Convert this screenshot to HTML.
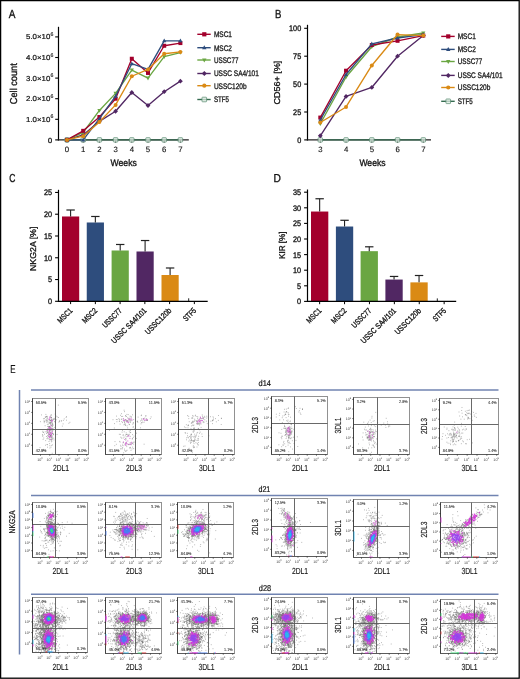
<!DOCTYPE html>
<html><head><meta charset="utf-8"><style>
html,body{margin:0;padding:0;background:#fff;}
svg{display:block;font-family:"Liberation Sans", sans-serif;will-change:transform;text-rendering:geometricPrecision;}
</style></head><body>
<svg width="520" height="679" viewBox="0 0 520 679">
<g>
<rect x="0" y="0" width="520" height="679" fill="#fff"/>
<text x="8.8" y="17.7" font-size="11.8" textLength="6.7" lengthAdjust="spacingAndGlyphs" fill="#111" stroke="#111" stroke-width="0.32">A</text><line x1="58.5" y1="26.8" x2="58.5" y2="140.45" stroke="#000" stroke-width="1.2"/><line x1="57.9" y1="139.9" x2="188.8" y2="139.9" stroke="#222" stroke-width="1.2"/><line x1="55.2" y1="139.9" x2="58.5" y2="139.9" stroke="#000" stroke-width="1.1"/><text x="52.2" y="142.5" font-size="7.4" text-anchor="end" textLength="4.1" lengthAdjust="spacingAndGlyphs" fill="#111" stroke="#111" stroke-width="0.32">0</text><line x1="55.2" y1="119.3" x2="58.5" y2="119.3" stroke="#000" stroke-width="1.1"/><text x="50.3" y="121.8" font-size="7.3" text-anchor="end" textLength="24.3" lengthAdjust="spacingAndGlyphs" fill="#111" stroke="#111" stroke-width="0.2">1.0×10</text><text x="50.4" y="118.4" font-size="5.3" textLength="2.9" lengthAdjust="spacingAndGlyphs" fill="#111" stroke="#111" stroke-width="0.15">6</text><line x1="55.2" y1="98.7" x2="58.5" y2="98.7" stroke="#000" stroke-width="1.1"/><text x="50.3" y="101.2" font-size="7.3" text-anchor="end" textLength="24.3" lengthAdjust="spacingAndGlyphs" fill="#111" stroke="#111" stroke-width="0.2">2.0×10</text><text x="50.4" y="97.8" font-size="5.3" textLength="2.9" lengthAdjust="spacingAndGlyphs" fill="#111" stroke="#111" stroke-width="0.15">6</text><line x1="55.2" y1="78.1" x2="58.5" y2="78.1" stroke="#000" stroke-width="1.1"/><text x="50.3" y="80.6" font-size="7.3" text-anchor="end" textLength="24.3" lengthAdjust="spacingAndGlyphs" fill="#111" stroke="#111" stroke-width="0.2">3.0×10</text><text x="50.4" y="77.2" font-size="5.3" textLength="2.9" lengthAdjust="spacingAndGlyphs" fill="#111" stroke="#111" stroke-width="0.15">6</text><line x1="55.2" y1="57.5" x2="58.5" y2="57.5" stroke="#000" stroke-width="1.1"/><text x="50.3" y="60" font-size="7.3" text-anchor="end" textLength="24.3" lengthAdjust="spacingAndGlyphs" fill="#111" stroke="#111" stroke-width="0.2">4.0×10</text><text x="50.4" y="56.6" font-size="5.3" textLength="2.9" lengthAdjust="spacingAndGlyphs" fill="#111" stroke="#111" stroke-width="0.15">6</text><line x1="55.2" y1="36.9" x2="58.5" y2="36.9" stroke="#000" stroke-width="1.1"/><text x="50.3" y="39.4" font-size="7.3" text-anchor="end" textLength="24.3" lengthAdjust="spacingAndGlyphs" fill="#111" stroke="#111" stroke-width="0.2">5.0×10</text><text x="50.4" y="36" font-size="5.3" textLength="2.9" lengthAdjust="spacingAndGlyphs" fill="#111" stroke="#111" stroke-width="0.15">6</text><line x1="67" y1="139.9" x2="67" y2="142.5" stroke="#000" stroke-width="1"/><text x="67" y="151.8" font-size="7.8" text-anchor="middle" fill="#111" stroke="#111" stroke-width="0.12">0</text><line x1="83.2" y1="139.9" x2="83.2" y2="142.5" stroke="#000" stroke-width="1"/><text x="83.2" y="151.8" font-size="7.8" text-anchor="middle" fill="#111" stroke="#111" stroke-width="0.12">1</text><line x1="99.4" y1="139.9" x2="99.4" y2="142.5" stroke="#000" stroke-width="1"/><text x="99.4" y="151.8" font-size="7.8" text-anchor="middle" fill="#111" stroke="#111" stroke-width="0.12">2</text><line x1="115.6" y1="139.9" x2="115.6" y2="142.5" stroke="#000" stroke-width="1"/><text x="115.6" y="151.8" font-size="7.8" text-anchor="middle" fill="#111" stroke="#111" stroke-width="0.12">3</text><line x1="131.8" y1="139.9" x2="131.8" y2="142.5" stroke="#000" stroke-width="1"/><text x="131.8" y="151.8" font-size="7.8" text-anchor="middle" fill="#111" stroke="#111" stroke-width="0.12">4</text><line x1="148" y1="139.9" x2="148" y2="142.5" stroke="#000" stroke-width="1"/><text x="148" y="151.8" font-size="7.8" text-anchor="middle" fill="#111" stroke="#111" stroke-width="0.12">5</text><line x1="164.2" y1="139.9" x2="164.2" y2="142.5" stroke="#000" stroke-width="1"/><text x="164.2" y="151.8" font-size="7.8" text-anchor="middle" fill="#111" stroke="#111" stroke-width="0.12">6</text><line x1="180.4" y1="139.9" x2="180.4" y2="142.5" stroke="#000" stroke-width="1"/><text x="180.4" y="151.8" font-size="7.8" text-anchor="middle" fill="#111" stroke="#111" stroke-width="0.12">7</text><text x="123.7" y="165.6" font-size="9.6" text-anchor="middle" textLength="26.3" lengthAdjust="spacingAndGlyphs" fill="#111" stroke="#111" stroke-width="0.32">Weeks</text><text x="16.9" y="83.7" font-size="10" text-anchor="middle" textLength="41" lengthAdjust="spacingAndGlyphs" transform="rotate(-90 16.9 83.7)" fill="#111" stroke="#111" stroke-width="0.32">Cell count</text><polyline points="67,139.9 83.2,139.9 99.4,139.9 115.6,139.9 131.8,139.9 148,139.9 164.2,139.9 180.4,139.9" fill="none" stroke="#356b50" stroke-width="1.35" stroke-linejoin="round"/><rect x="64.8" y="137.7" width="4.4" height="4.4" rx="0.6" fill="#dcebe2" fill-opacity="0.75" stroke="#5f8f75" stroke-width="0.75"/><rect x="81" y="137.7" width="4.4" height="4.4" rx="0.6" fill="#dcebe2" fill-opacity="0.75" stroke="#5f8f75" stroke-width="0.75"/><rect x="97.2" y="137.7" width="4.4" height="4.4" rx="0.6" fill="#dcebe2" fill-opacity="0.75" stroke="#5f8f75" stroke-width="0.75"/><rect x="113.4" y="137.7" width="4.4" height="4.4" rx="0.6" fill="#dcebe2" fill-opacity="0.75" stroke="#5f8f75" stroke-width="0.75"/><rect x="129.6" y="137.7" width="4.4" height="4.4" rx="0.6" fill="#dcebe2" fill-opacity="0.75" stroke="#5f8f75" stroke-width="0.75"/><rect x="145.8" y="137.7" width="4.4" height="4.4" rx="0.6" fill="#dcebe2" fill-opacity="0.75" stroke="#5f8f75" stroke-width="0.75"/><rect x="162" y="137.7" width="4.4" height="4.4" rx="0.6" fill="#dcebe2" fill-opacity="0.75" stroke="#5f8f75" stroke-width="0.75"/><rect x="178.2" y="137.7" width="4.4" height="4.4" rx="0.6" fill="#dcebe2" fill-opacity="0.75" stroke="#5f8f75" stroke-width="0.75"/><polyline points="67,139.9 83.2,134.96 99.4,121.36 115.6,111.27 131.8,92.52 148,105.5 164.2,91.7 180.4,81.19" fill="none" stroke="#512763" stroke-width="1.35" stroke-linejoin="round"/><path d="M67 137.5L69.4 139.9L67 142.3L64.6 139.9Z" fill="#512763"/><path d="M83.2 132.56L85.6 134.96L83.2 137.36L80.8 134.96Z" fill="#512763"/><path d="M99.4 118.96L101.8 121.36L99.4 123.76L97 121.36Z" fill="#512763"/><path d="M115.6 108.87L118 111.27L115.6 113.67L113.2 111.27Z" fill="#512763"/><path d="M131.8 90.12L134.2 92.52L131.8 94.92L129.4 92.52Z" fill="#512763"/><path d="M148 103.1L150.4 105.5L148 107.9L145.6 105.5Z" fill="#512763"/><path d="M164.2 89.3L166.6 91.7L164.2 94.1L161.8 91.7Z" fill="#512763"/><path d="M180.4 78.79L182.8 81.19L180.4 83.59L178 81.19Z" fill="#512763"/><polyline points="67,139.9 83.2,132.48 99.4,110.44 115.6,93.34 131.8,70.07 148,78.1 164.2,56.68 180.4,52.56" fill="none" stroke="#6aa642" stroke-width="1.35" stroke-linejoin="round"/><path d="M67 142.2L69.1 138.4L64.9 138.4Z" fill="#6aa642"/><path d="M83.2 134.78L85.3 130.98L81.1 130.98Z" fill="#6aa642"/><path d="M99.4 112.74L101.5 108.94L97.3 108.94Z" fill="#6aa642"/><path d="M115.6 95.64L117.7 91.84L113.5 91.84Z" fill="#6aa642"/><path d="M131.8 72.37L133.9 68.57L129.7 68.57Z" fill="#6aa642"/><path d="M148 80.4L150.1 76.6L145.9 76.6Z" fill="#6aa642"/><path d="M164.2 58.98L166.3 55.18L162.1 55.18Z" fill="#6aa642"/><path d="M180.4 54.86L182.5 51.06L178.3 51.06Z" fill="#6aa642"/><polyline points="67,139.9 83.2,130.84 99.4,117.03 115.6,98.7 131.8,58.74 148,72.95 164.2,45.76 180.4,43.08" fill="none" stroke="#a3002c" stroke-width="1.35" stroke-linejoin="round"/><rect x="65" y="137.9" width="4" height="4" fill="#a3002c"/><rect x="81.2" y="128.84" width="4" height="4" fill="#a3002c"/><rect x="97.4" y="115.03" width="4" height="4" fill="#a3002c"/><rect x="113.6" y="96.7" width="4" height="4" fill="#a3002c"/><rect x="129.8" y="56.74" width="4" height="4" fill="#a3002c"/><rect x="146" y="70.95" width="4" height="4" fill="#a3002c"/><rect x="162.2" y="43.76" width="4" height="4" fill="#a3002c"/><rect x="178.4" y="41.08" width="4" height="4" fill="#a3002c"/><polyline points="67,139.9 83.2,139.9 99.4,118.68 115.6,96.23 131.8,63.68 148,69.45 164.2,40.81 180.4,40.81" fill="none" stroke="#2e4d7d" stroke-width="1.35" stroke-linejoin="round"/><path d="M67 137.6L69.1 141.4L64.9 141.4Z" fill="#2e4d7d"/><path d="M83.2 137.6L85.3 141.4L81.1 141.4Z" fill="#2e4d7d"/><path d="M99.4 116.38L101.5 120.18L97.3 120.18Z" fill="#2e4d7d"/><path d="M115.6 93.93L117.7 97.73L113.5 97.73Z" fill="#2e4d7d"/><path d="M131.8 61.38L133.9 65.18L129.7 65.18Z" fill="#2e4d7d"/><path d="M148 67.15L150.1 70.95L145.9 70.95Z" fill="#2e4d7d"/><path d="M164.2 38.51L166.3 42.31L162.1 42.31Z" fill="#2e4d7d"/><path d="M180.4 38.51L182.5 42.31L178.3 42.31Z" fill="#2e4d7d"/><polyline points="67,139.9 83.2,136.19 99.4,121.98 115.6,104.88 131.8,76.25 148,69.45 164.2,53.79 180.4,51.94" fill="none" stroke="#da8a15" stroke-width="1.35" stroke-linejoin="round"/><circle cx="67" cy="139.9" r="2" fill="#da8a15"/><circle cx="83.2" cy="136.19" r="2" fill="#da8a15"/><circle cx="99.4" cy="121.98" r="2" fill="#da8a15"/><circle cx="115.6" cy="104.88" r="2" fill="#da8a15"/><circle cx="131.8" cy="76.25" r="2" fill="#da8a15"/><circle cx="148" cy="69.45" r="2" fill="#da8a15"/><circle cx="164.2" cy="53.79" r="2" fill="#da8a15"/><circle cx="180.4" cy="51.94" r="2" fill="#da8a15"/><line x1="197.3" y1="34.3" x2="210.7" y2="34.3" stroke="#a3002c" stroke-width="1.4"/><rect x="202.2" y="32.2" width="4.2" height="4.2" fill="#a3002c"/><text x="213.9" y="37.1" font-size="8.1" textLength="18.1" lengthAdjust="spacingAndGlyphs" fill="#1a1a1a" stroke="#1a1a1a" stroke-width="0.32">MSC1</text><line x1="197.3" y1="47.7" x2="210.7" y2="47.7" stroke="#2e4d7d" stroke-width="1.4"/><path d="M204.3 45.29L206.51 49.28L202.09 49.28Z" fill="#2e4d7d"/><text x="213.9" y="50.5" font-size="8.1" textLength="18.1" lengthAdjust="spacingAndGlyphs" fill="#1a1a1a" stroke="#1a1a1a" stroke-width="0.32">MSC2</text><line x1="197.3" y1="60" x2="210.7" y2="60" stroke="#6aa642" stroke-width="1.4"/><path d="M204.3 62.41L206.51 58.42L202.09 58.42Z" fill="#6aa642"/><text x="213.9" y="62.8" font-size="8.1" textLength="24.5" lengthAdjust="spacingAndGlyphs" fill="#1a1a1a" stroke="#1a1a1a" stroke-width="0.32">USSC77</text><line x1="197.3" y1="73.5" x2="210.7" y2="73.5" stroke="#512763" stroke-width="1.4"/><path d="M204.3 70.98L206.82 73.5L204.3 76.02L201.78 73.5Z" fill="#512763"/><text x="213.9" y="76.3" font-size="8.1" textLength="44.9" lengthAdjust="spacingAndGlyphs" fill="#1a1a1a" stroke="#1a1a1a" stroke-width="0.32">USSC SA4/101</text><line x1="197.3" y1="85.7" x2="210.7" y2="85.7" stroke="#da8a15" stroke-width="1.4"/><circle cx="204.3" cy="85.7" r="2.1" fill="#da8a15"/><text x="213.9" y="88.5" font-size="8.1" textLength="32.7" lengthAdjust="spacingAndGlyphs" fill="#1a1a1a" stroke="#1a1a1a" stroke-width="0.32">USSC120b</text><line x1="197.3" y1="99.5" x2="210.7" y2="99.5" stroke="#356b50" stroke-width="1.4"/><rect x="201.99" y="97.19" width="4.62" height="4.62" rx="0.6" fill="#dcebe2" fill-opacity="0.75" stroke="#5f8f75" stroke-width="0.75"/><text x="213.9" y="102.3" font-size="8.1" textLength="15.1" lengthAdjust="spacingAndGlyphs" fill="#1a1a1a" stroke="#1a1a1a" stroke-width="0.32">STF5</text><text x="274.9" y="17.7" font-size="11.8" textLength="6.4" lengthAdjust="spacingAndGlyphs" fill="#111" stroke="#111" stroke-width="0.32">B</text><line x1="307.5" y1="24.8" x2="307.5" y2="140.45" stroke="#000" stroke-width="1.2"/><line x1="306.9" y1="139.9" x2="431" y2="139.9" stroke="#222" stroke-width="1.2"/><line x1="304.2" y1="139.9" x2="307.5" y2="139.9" stroke="#000" stroke-width="1.1"/><text x="301.2" y="142.8" font-size="8" text-anchor="end" textLength="4.05" lengthAdjust="spacingAndGlyphs" fill="#111" stroke="#111" stroke-width="0.32">0</text><line x1="304.2" y1="112" x2="307.5" y2="112" stroke="#000" stroke-width="1.1"/><text x="301.2" y="114.9" font-size="8" text-anchor="end" textLength="8.1" lengthAdjust="spacingAndGlyphs" fill="#111" stroke="#111" stroke-width="0.32">25</text><line x1="304.2" y1="84.1" x2="307.5" y2="84.1" stroke="#000" stroke-width="1.1"/><text x="301.2" y="87" font-size="8" text-anchor="end" textLength="8.1" lengthAdjust="spacingAndGlyphs" fill="#111" stroke="#111" stroke-width="0.32">50</text><line x1="304.2" y1="56.2" x2="307.5" y2="56.2" stroke="#000" stroke-width="1.1"/><text x="301.2" y="59.1" font-size="8" text-anchor="end" textLength="8.1" lengthAdjust="spacingAndGlyphs" fill="#111" stroke="#111" stroke-width="0.32">75</text><line x1="304.2" y1="28.3" x2="307.5" y2="28.3" stroke="#000" stroke-width="1.1"/><text x="301.2" y="31.2" font-size="8" text-anchor="end" textLength="12.15" lengthAdjust="spacingAndGlyphs" fill="#111" stroke="#111" stroke-width="0.32">100</text><line x1="320.3" y1="139.9" x2="320.3" y2="142.5" stroke="#000" stroke-width="1"/><text x="320.3" y="151.8" font-size="7.8" text-anchor="middle" fill="#111" stroke="#111" stroke-width="0.12">3</text><line x1="346.05" y1="139.9" x2="346.05" y2="142.5" stroke="#000" stroke-width="1"/><text x="346.05" y="151.8" font-size="7.8" text-anchor="middle" fill="#111" stroke="#111" stroke-width="0.12">4</text><line x1="371.8" y1="139.9" x2="371.8" y2="142.5" stroke="#000" stroke-width="1"/><text x="371.8" y="151.8" font-size="7.8" text-anchor="middle" fill="#111" stroke="#111" stroke-width="0.12">5</text><line x1="397.55" y1="139.9" x2="397.55" y2="142.5" stroke="#000" stroke-width="1"/><text x="397.55" y="151.8" font-size="7.8" text-anchor="middle" fill="#111" stroke="#111" stroke-width="0.12">6</text><line x1="423.3" y1="139.9" x2="423.3" y2="142.5" stroke="#000" stroke-width="1"/><text x="423.3" y="151.8" font-size="7.8" text-anchor="middle" fill="#111" stroke="#111" stroke-width="0.12">7</text><text x="372.5" y="165.6" font-size="9.6" text-anchor="middle" textLength="26.2" lengthAdjust="spacingAndGlyphs" fill="#111" stroke="#111" stroke-width="0.32">Weeks</text><text x="280.4" y="82.6" font-size="8.5" text-anchor="middle" textLength="44" lengthAdjust="spacingAndGlyphs" transform="rotate(-90 280.4 82.6)" fill="#111" stroke="#111" stroke-width="0.32">CD56+ [%]</text><polyline points="320.3,139.9 346.05,139.9 371.8,139.9 397.55,139.9 423.3,139.9" fill="none" stroke="#356b50" stroke-width="1.35" stroke-linejoin="round"/><rect x="318.1" y="137.7" width="4.4" height="4.4" rx="0.6" fill="#dcebe2" fill-opacity="0.75" stroke="#5f8f75" stroke-width="0.75"/><rect x="343.85" y="137.7" width="4.4" height="4.4" rx="0.6" fill="#dcebe2" fill-opacity="0.75" stroke="#5f8f75" stroke-width="0.75"/><rect x="369.6" y="137.7" width="4.4" height="4.4" rx="0.6" fill="#dcebe2" fill-opacity="0.75" stroke="#5f8f75" stroke-width="0.75"/><rect x="395.35" y="137.7" width="4.4" height="4.4" rx="0.6" fill="#dcebe2" fill-opacity="0.75" stroke="#5f8f75" stroke-width="0.75"/><rect x="421.1" y="137.7" width="4.4" height="4.4" rx="0.6" fill="#dcebe2" fill-opacity="0.75" stroke="#5f8f75" stroke-width="0.75"/><polyline points="320.3,135.77 346.05,96.38 371.8,87.45 397.55,56.2 423.3,35.55" fill="none" stroke="#512763" stroke-width="1.35" stroke-linejoin="round"/><path d="M320.3 133.37L322.7 135.77L320.3 138.17L317.9 135.77Z" fill="#512763"/><path d="M346.05 93.98L348.45 96.38L346.05 98.78L343.65 96.38Z" fill="#512763"/><path d="M371.8 85.05L374.2 87.45L371.8 89.85L369.4 87.45Z" fill="#512763"/><path d="M397.55 53.8L399.95 56.2L397.55 58.6L395.15 56.2Z" fill="#512763"/><path d="M423.3 33.15L425.7 35.55L423.3 37.95L420.9 35.55Z" fill="#512763"/><polyline points="320.3,123.72 346.05,76.96 371.8,46.71 397.55,37 423.3,32.99" fill="none" stroke="#6aa642" stroke-width="1.35" stroke-linejoin="round"/><path d="M320.3 126.02L322.4 122.22L318.2 122.22Z" fill="#6aa642"/><path d="M346.05 79.26L348.15 75.46L343.95 75.46Z" fill="#6aa642"/><path d="M371.8 49.01L373.9 45.21L369.7 45.21Z" fill="#6aa642"/><path d="M397.55 39.3L399.65 35.5L395.45 35.5Z" fill="#6aa642"/><path d="M423.3 35.29L425.4 31.49L421.2 31.49Z" fill="#6aa642"/><polyline points="320.3,117.58 346.05,70.71 371.8,45.04 397.55,40.8 423.3,35.55" fill="none" stroke="#a3002c" stroke-width="1.35" stroke-linejoin="round"/><rect x="318.3" y="115.58" width="4" height="4" fill="#a3002c"/><rect x="344.05" y="68.71" width="4" height="4" fill="#a3002c"/><rect x="369.8" y="43.04" width="4" height="4" fill="#a3002c"/><rect x="395.55" y="38.8" width="4" height="4" fill="#a3002c"/><rect x="421.3" y="33.55" width="4" height="4" fill="#a3002c"/><polyline points="320.3,120.04 346.05,74.5 371.8,43.92 397.55,38.01 423.3,34.55" fill="none" stroke="#2e4d7d" stroke-width="1.35" stroke-linejoin="round"/><path d="M320.3 117.74L322.4 121.54L318.2 121.54Z" fill="#2e4d7d"/><path d="M346.05 72.2L348.15 76L343.95 76Z" fill="#2e4d7d"/><path d="M371.8 41.62L373.9 45.42L369.7 45.42Z" fill="#2e4d7d"/><path d="M397.55 35.71L399.65 39.51L395.45 39.51Z" fill="#2e4d7d"/><path d="M423.3 32.25L425.4 36.05L421.2 36.05Z" fill="#2e4d7d"/><polyline points="320.3,122.49 346.05,106.98 371.8,65.46 397.55,34.55 423.3,35.55" fill="none" stroke="#da8a15" stroke-width="1.35" stroke-linejoin="round"/><circle cx="320.3" cy="122.49" r="2" fill="#da8a15"/><circle cx="346.05" cy="106.98" r="2" fill="#da8a15"/><circle cx="371.8" cy="65.46" r="2" fill="#da8a15"/><circle cx="397.55" cy="34.55" r="2" fill="#da8a15"/><circle cx="423.3" cy="35.55" r="2" fill="#da8a15"/><line x1="441.2" y1="36.4" x2="454.7" y2="36.4" stroke="#a3002c" stroke-width="1.4"/><rect x="446.15" y="34.3" width="4.2" height="4.2" fill="#a3002c"/><text x="457.7" y="39.2" font-size="8.1" textLength="18.1" lengthAdjust="spacingAndGlyphs" fill="#1a1a1a" stroke="#1a1a1a" stroke-width="0.32">MSC1</text><line x1="441.2" y1="49.4" x2="454.7" y2="49.4" stroke="#2e4d7d" stroke-width="1.4"/><path d="M448.25 46.98L450.45 50.98L446.05 50.98Z" fill="#2e4d7d"/><text x="457.7" y="52.2" font-size="8.1" textLength="18.1" lengthAdjust="spacingAndGlyphs" fill="#1a1a1a" stroke="#1a1a1a" stroke-width="0.32">MSC2</text><line x1="441.2" y1="61.5" x2="454.7" y2="61.5" stroke="#6aa642" stroke-width="1.4"/><path d="M448.25 63.91L450.45 59.92L446.05 59.92Z" fill="#6aa642"/><text x="457.7" y="64.3" font-size="8.1" textLength="24.5" lengthAdjust="spacingAndGlyphs" fill="#1a1a1a" stroke="#1a1a1a" stroke-width="0.32">USSC77</text><line x1="441.2" y1="75.4" x2="454.7" y2="75.4" stroke="#512763" stroke-width="1.4"/><path d="M448.25 72.88L450.77 75.4L448.25 77.92L445.73 75.4Z" fill="#512763"/><text x="457.7" y="78.2" font-size="8.1" textLength="44.9" lengthAdjust="spacingAndGlyphs" fill="#1a1a1a" stroke="#1a1a1a" stroke-width="0.32">USSC SA4/101</text><line x1="441.2" y1="87.5" x2="454.7" y2="87.5" stroke="#da8a15" stroke-width="1.4"/><circle cx="448.25" cy="87.5" r="2.1" fill="#da8a15"/><text x="457.7" y="90.3" font-size="8.1" textLength="32.7" lengthAdjust="spacingAndGlyphs" fill="#1a1a1a" stroke="#1a1a1a" stroke-width="0.32">USSC120b</text><line x1="441.2" y1="101.3" x2="454.7" y2="101.3" stroke="#356b50" stroke-width="1.4"/><rect x="445.94" y="98.99" width="4.62" height="4.62" rx="0.6" fill="#dcebe2" fill-opacity="0.75" stroke="#5f8f75" stroke-width="0.75"/><text x="457.7" y="104.1" font-size="8.1" textLength="15.1" lengthAdjust="spacingAndGlyphs" fill="#1a1a1a" stroke="#1a1a1a" stroke-width="0.32">STF5</text><text x="9.2" y="182" font-size="11.5" textLength="6.2" lengthAdjust="spacingAndGlyphs" fill="#111" stroke="#111" stroke-width="0.32">C</text><rect x="62" y="216.48" width="17.2" height="84.82" fill="#a3002c"/><line x1="70.6" y1="216.48" x2="70.6" y2="210" stroke="#222" stroke-width="1.1"/><line x1="66.4" y1="210" x2="74.8" y2="210" stroke="#222" stroke-width="1.2"/><rect x="86.75" y="222.49" width="17.2" height="78.81" fill="#2e4d7d"/><line x1="95.35" y1="222.49" x2="95.35" y2="216.48" stroke="#222" stroke-width="1.1"/><line x1="91.15" y1="216.48" x2="99.55" y2="216.48" stroke="#222" stroke-width="1.2"/><rect x="111.6" y="250.49" width="17.2" height="50.81" fill="#6aa642"/><line x1="120.2" y1="250.49" x2="120.2" y2="244.48" stroke="#222" stroke-width="1.1"/><line x1="116" y1="244.48" x2="124.4" y2="244.48" stroke="#222" stroke-width="1.2"/><rect x="136.5" y="251.49" width="17.2" height="49.81" fill="#512763"/><line x1="145.1" y1="251.49" x2="145.1" y2="240.52" stroke="#222" stroke-width="1.1"/><line x1="140.9" y1="240.52" x2="149.3" y2="240.52" stroke="#222" stroke-width="1.2"/><rect x="161.5" y="275" width="17.2" height="26.3" fill="#da8a15"/><line x1="170.1" y1="275" x2="170.1" y2="267.99" stroke="#222" stroke-width="1.1"/><line x1="165.9" y1="267.99" x2="174.3" y2="267.99" stroke="#222" stroke-width="1.2"/><line x1="188.7" y1="301.3" x2="188.7" y2="298.3" stroke="#222" stroke-width="1"/><line x1="58.5" y1="189.8" x2="58.5" y2="301.85" stroke="#000" stroke-width="1.2"/><line x1="57.9" y1="301.3" x2="207.7" y2="301.3" stroke="#000" stroke-width="1.2"/><line x1="55.1" y1="301.3" x2="58.5" y2="301.3" stroke="#000" stroke-width="1.1"/><text x="52" y="304.2" font-size="8" text-anchor="end" textLength="4.05" lengthAdjust="spacingAndGlyphs" fill="#111" stroke="#111" stroke-width="0.32">0</text><line x1="55.1" y1="279.53" x2="58.5" y2="279.53" stroke="#000" stroke-width="1.1"/><text x="52" y="282.43" font-size="8" text-anchor="end" textLength="4.05" lengthAdjust="spacingAndGlyphs" fill="#111" stroke="#111" stroke-width="0.32">5</text><line x1="55.1" y1="257.76" x2="58.5" y2="257.76" stroke="#000" stroke-width="1.1"/><text x="52" y="260.66" font-size="8" text-anchor="end" textLength="8.1" lengthAdjust="spacingAndGlyphs" fill="#111" stroke="#111" stroke-width="0.32">10</text><line x1="55.1" y1="235.99" x2="58.5" y2="235.99" stroke="#000" stroke-width="1.1"/><text x="52" y="238.89" font-size="8" text-anchor="end" textLength="8.1" lengthAdjust="spacingAndGlyphs" fill="#111" stroke="#111" stroke-width="0.32">15</text><line x1="55.1" y1="214.22" x2="58.5" y2="214.22" stroke="#000" stroke-width="1.1"/><text x="52" y="217.12" font-size="8" text-anchor="end" textLength="8.1" lengthAdjust="spacingAndGlyphs" fill="#111" stroke="#111" stroke-width="0.32">20</text><line x1="55.1" y1="192.45" x2="58.5" y2="192.45" stroke="#000" stroke-width="1.1"/><text x="52" y="195.35" font-size="8" text-anchor="end" textLength="8.1" lengthAdjust="spacingAndGlyphs" fill="#111" stroke="#111" stroke-width="0.32">25</text><line x1="70.6" y1="301.3" x2="70.6" y2="304.1" stroke="#000" stroke-width="1"/><text x="73" y="311.2" font-size="8" text-anchor="end" textLength="17.6" lengthAdjust="spacingAndGlyphs" transform="rotate(-45 73 311.2)" fill="#111" stroke="#111" stroke-width="0.32">MSC1</text><line x1="95.35" y1="301.3" x2="95.35" y2="304.1" stroke="#000" stroke-width="1"/><text x="97.75" y="311.2" font-size="8" text-anchor="end" textLength="17.8" lengthAdjust="spacingAndGlyphs" transform="rotate(-45 97.75 311.2)" fill="#111" stroke="#111" stroke-width="0.32">MSC2</text><line x1="120.1" y1="301.3" x2="120.1" y2="304.1" stroke="#000" stroke-width="1"/><text x="122.5" y="311.2" font-size="8" text-anchor="end" textLength="24.2" lengthAdjust="spacingAndGlyphs" transform="rotate(-45 122.5 311.2)" fill="#111" stroke="#111" stroke-width="0.32">USSC77</text><line x1="144.85" y1="301.3" x2="144.85" y2="304.1" stroke="#000" stroke-width="1"/><text x="147.25" y="311.2" font-size="8" text-anchor="end" textLength="46.3" lengthAdjust="spacingAndGlyphs" transform="rotate(-45 147.25 311.2)" fill="#111" stroke="#111" stroke-width="0.32">USSC SA4/101</text><line x1="169.6" y1="301.3" x2="169.6" y2="304.1" stroke="#000" stroke-width="1"/><text x="172" y="311.2" font-size="8" text-anchor="end" textLength="33.6" lengthAdjust="spacingAndGlyphs" transform="rotate(-45 172 311.2)" fill="#111" stroke="#111" stroke-width="0.32">USSC120b</text><line x1="194.35" y1="301.3" x2="194.35" y2="304.1" stroke="#000" stroke-width="1"/><text x="196.75" y="311.2" font-size="8" text-anchor="end" textLength="15" lengthAdjust="spacingAndGlyphs" transform="rotate(-45 196.75 311.2)" fill="#111" stroke="#111" stroke-width="0.32">STF5</text><text x="35.9" y="248.8" font-size="8.5" text-anchor="middle" textLength="44.3" lengthAdjust="spacingAndGlyphs" transform="rotate(-90 35.9 248.8)" fill="#111" stroke="#111" stroke-width="0.32">NKG2A [%]</text><text x="273.4" y="182" font-size="11.5" textLength="7.4" lengthAdjust="spacingAndGlyphs" fill="#111" stroke="#111" stroke-width="0.32">D</text><rect x="311" y="211.54" width="17.3" height="89.86" fill="#a3002c"/><line x1="319.65" y1="211.54" x2="319.65" y2="198.75" stroke="#222" stroke-width="1.1"/><line x1="315.45" y1="198.75" x2="323.85" y2="198.75" stroke="#222" stroke-width="1.2"/><rect x="335.9" y="226.52" width="17.3" height="74.88" fill="#2e4d7d"/><line x1="344.55" y1="226.52" x2="344.55" y2="220.28" stroke="#222" stroke-width="1.1"/><line x1="340.35" y1="220.28" x2="348.75" y2="220.28" stroke="#222" stroke-width="1.2"/><rect x="360.6" y="251.17" width="17.3" height="50.23" fill="#6aa642"/><line x1="369.25" y1="251.17" x2="369.25" y2="246.8" stroke="#222" stroke-width="1.1"/><line x1="365.05" y1="246.8" x2="373.45" y2="246.8" stroke="#222" stroke-width="1.2"/><rect x="385.4" y="279.56" width="17.3" height="21.84" fill="#512763"/><line x1="394.05" y1="279.56" x2="394.05" y2="276.44" stroke="#222" stroke-width="1.1"/><line x1="389.85" y1="276.44" x2="398.25" y2="276.44" stroke="#222" stroke-width="1.2"/><rect x="410.4" y="282.37" width="17.3" height="19.03" fill="#da8a15"/><line x1="419.05" y1="282.37" x2="419.05" y2="275.5" stroke="#222" stroke-width="1.1"/><line x1="414.85" y1="275.5" x2="423.25" y2="275.5" stroke="#222" stroke-width="1.2"/><line x1="437.3" y1="301.4" x2="437.3" y2="298.4" stroke="#222" stroke-width="1"/><line x1="307.5" y1="189.5" x2="307.5" y2="301.95" stroke="#000" stroke-width="1.2"/><line x1="306.9" y1="301.4" x2="456.2" y2="301.4" stroke="#000" stroke-width="1.2"/><line x1="304.1" y1="301.4" x2="307.5" y2="301.4" stroke="#000" stroke-width="1.1"/><text x="301" y="304.3" font-size="8" text-anchor="end" textLength="4.05" lengthAdjust="spacingAndGlyphs" fill="#111" stroke="#111" stroke-width="0.32">0</text><line x1="304.1" y1="285.8" x2="307.5" y2="285.8" stroke="#000" stroke-width="1.1"/><text x="301" y="288.7" font-size="8" text-anchor="end" textLength="4.05" lengthAdjust="spacingAndGlyphs" fill="#111" stroke="#111" stroke-width="0.32">5</text><line x1="304.1" y1="270.2" x2="307.5" y2="270.2" stroke="#000" stroke-width="1.1"/><text x="301" y="273.1" font-size="8" text-anchor="end" textLength="8.1" lengthAdjust="spacingAndGlyphs" fill="#111" stroke="#111" stroke-width="0.32">10</text><line x1="304.1" y1="254.6" x2="307.5" y2="254.6" stroke="#000" stroke-width="1.1"/><text x="301" y="257.5" font-size="8" text-anchor="end" textLength="8.1" lengthAdjust="spacingAndGlyphs" fill="#111" stroke="#111" stroke-width="0.32">15</text><line x1="304.1" y1="239" x2="307.5" y2="239" stroke="#000" stroke-width="1.1"/><text x="301" y="241.9" font-size="8" text-anchor="end" textLength="8.1" lengthAdjust="spacingAndGlyphs" fill="#111" stroke="#111" stroke-width="0.32">20</text><line x1="304.1" y1="223.4" x2="307.5" y2="223.4" stroke="#000" stroke-width="1.1"/><text x="301" y="226.3" font-size="8" text-anchor="end" textLength="8.1" lengthAdjust="spacingAndGlyphs" fill="#111" stroke="#111" stroke-width="0.32">25</text><line x1="304.1" y1="207.8" x2="307.5" y2="207.8" stroke="#000" stroke-width="1.1"/><text x="301" y="210.7" font-size="8" text-anchor="end" textLength="8.1" lengthAdjust="spacingAndGlyphs" fill="#111" stroke="#111" stroke-width="0.32">30</text><line x1="304.1" y1="192.2" x2="307.5" y2="192.2" stroke="#000" stroke-width="1.1"/><text x="301" y="195.1" font-size="8" text-anchor="end" textLength="8.1" lengthAdjust="spacingAndGlyphs" fill="#111" stroke="#111" stroke-width="0.32">35</text><line x1="319.65" y1="301.4" x2="319.65" y2="304.2" stroke="#000" stroke-width="1"/><text x="322.05" y="311.3" font-size="8" text-anchor="end" textLength="17.6" lengthAdjust="spacingAndGlyphs" transform="rotate(-45 322.05 311.3)" fill="#111" stroke="#111" stroke-width="0.32">MSC1</text><line x1="344.55" y1="301.4" x2="344.55" y2="304.2" stroke="#000" stroke-width="1"/><text x="346.95" y="311.3" font-size="8" text-anchor="end" textLength="17.8" lengthAdjust="spacingAndGlyphs" transform="rotate(-45 346.95 311.3)" fill="#111" stroke="#111" stroke-width="0.32">MSC2</text><line x1="369.45" y1="301.4" x2="369.45" y2="304.2" stroke="#000" stroke-width="1"/><text x="371.85" y="311.3" font-size="8" text-anchor="end" textLength="24.2" lengthAdjust="spacingAndGlyphs" transform="rotate(-45 371.85 311.3)" fill="#111" stroke="#111" stroke-width="0.32">USSC77</text><line x1="394.35" y1="301.4" x2="394.35" y2="304.2" stroke="#000" stroke-width="1"/><text x="396.75" y="311.3" font-size="8" text-anchor="end" textLength="46.3" lengthAdjust="spacingAndGlyphs" transform="rotate(-45 396.75 311.3)" fill="#111" stroke="#111" stroke-width="0.32">USSC SA4/101</text><line x1="419.25" y1="301.4" x2="419.25" y2="304.2" stroke="#000" stroke-width="1"/><text x="421.65" y="311.3" font-size="8" text-anchor="end" textLength="33.6" lengthAdjust="spacingAndGlyphs" transform="rotate(-45 421.65 311.3)" fill="#111" stroke="#111" stroke-width="0.32">USSC120b</text><line x1="444.15" y1="301.4" x2="444.15" y2="304.2" stroke="#000" stroke-width="1"/><text x="446.55" y="311.3" font-size="8" text-anchor="end" textLength="15" lengthAdjust="spacingAndGlyphs" transform="rotate(-45 446.55 311.3)" fill="#111" stroke="#111" stroke-width="0.32">STF5</text><text x="284.8" y="245.2" font-size="8.5" text-anchor="middle" textLength="27.6" lengthAdjust="spacingAndGlyphs" transform="rotate(-90 284.8 245.2)" fill="#111" stroke="#111" stroke-width="0.32">KIR [%]</text>
<text x="10.2" y="373.2" font-size="11.5" textLength="5.3" lengthAdjust="spacingAndGlyphs" fill="#111" stroke="#111" stroke-width="0.2">E</text><line x1="19.5" y1="390" x2="19.5" y2="654.5" stroke="#7083b1" stroke-width="1.5"/><line x1="31" y1="390" x2="498.5" y2="390" stroke="#7083b1" stroke-width="1.5"/><line x1="31" y1="495.5" x2="498.5" y2="495.5" stroke="#7083b1" stroke-width="1.5"/><line x1="31" y1="594.2" x2="498.5" y2="594.2" stroke="#7083b1" stroke-width="1.5"/><text x="264.7" y="386.4" font-size="8.4" text-anchor="middle" textLength="12.4" lengthAdjust="spacingAndGlyphs" fill="#111" stroke="#111" stroke-width="0.2">d14</text><text x="264.4" y="492.4" font-size="8.4" text-anchor="middle" textLength="11.8" lengthAdjust="spacingAndGlyphs" fill="#111" stroke="#111" stroke-width="0.2">d21</text><text x="265" y="590.5" font-size="8.4" text-anchor="middle" textLength="12.3" lengthAdjust="spacingAndGlyphs" fill="#111" stroke="#111" stroke-width="0.2">d28</text><text x="15" y="522" font-size="8.6" text-anchor="middle" textLength="23" lengthAdjust="spacingAndGlyphs" transform="rotate(-90 15 522)" fill="#111" stroke="#111" stroke-width="0.2">NKG2A</text><path d="M49.9 426.8h0.8m1.5 -0.3h0.8m-1 1.8h0.8m-3.9 -4.8h0.8m-0.4 4.4h0.8m-0.4 1.6h0.8m0.6 -11.9h0.8m-5.4 13.9h0.8m5.3 2.2h0.8m-3.8 6.4h0.8m-0.8 -12.9h0.8m-1.3 -0.6h0.8m0.7 20.5h0.8m-0.1 -9.4h0.8m-2.7 8h0.8m-0.7 2.3h0.8m0.7 -22.1h0.8m-4.7 9.5h0.8m2.6 0.8h0.8m-2.7 -0.1h0.8m-3.1 -2.6h0.8m1.9 -12.8h0.8m-2.1 10.1h0.8m-1.4 -4.4h0.8m2 6.5h0.8m0.7 -4.4h0.8m-3.7 9.6h0.8m2.4 -7.3h0.8m-4.2 4.1h0.8m1.3 -2.8h0.8m-1 4.3h0.8m0.8 -14.4h0.8m-5.1 16.7h0.8m0.3 -12.4h0.8m-1.1 0.2h0.8m3.2 -2.5h0.8m-1.8 1.7h0.8m-1.2 16.1h0.8m-1.2 -9.5h0.8m0.2 -9.1h0.8m-4.9 8.9h0.8m2.7 -11.8h0.8m-0.8 25.1h0.8m-5.1 -24.8h0.8m3 15h0.8m-1.9 0.5h0.8m1.1 -15h0.8m-3 13.2h0.8m0.6 1.2h0.8m-3 -1.5h0.8m1.9 5.1h0.8m-1 -4.6h0.8m0.3 2.2h0.8m-1.7 -11.8h0.8m-2.2 13h0.8m0.6 -9.7h0.8m0.4 -4.4h0.8m0.1 10.9h0.8m-6.8 10h0.8m3.6 -5.5h0.8m-1.6 -11.1h0.8m-3.4 0.5h0.8m3.3 2.5h0.8m-5.4 1.6h0.8m2.5 -18.1h0.8m0.5 18.8h0.8m-6 -9.1h0.8m1.6 2.5h0.8m-2.7 -5.9h0.8m2 -0.3h0.8m1.5 4.3h0.8m0.1 13.3h0.8m-7.6 6.3h0.8m1.4 -12.7h0.8m1.5 8.4h0.8m0.7 -10.2h0.8m-2.8 -12.3h0.8m-2.9 15.4h0.8m1 2.2h0.8m-1.3 -6.5h0.8m-1.2 5.5h0.8m-1.7 2h0.8m1.1 -15.4h0.8m-1.6 9.4h0.8m-1 0.1h0.8m-2.7 -1h0.8m0.6 10h0.8m2.3 5.5h0.8m-3.3 -16h0.8m-3.1 8.3h0.8m4.2 1.9h0.8m-2.2 -1.8h0.8m2 2.6h0.8m-4.5 -10.8h0.8m-3.5 18.1h0.8m4.2 -9.2h0.8m1.4 -10.6h0.8m-6.6 14.1h0.8m1.5 -6.7h0.8m-2.4 8.8h0.8m-0.9 -21h0.8m0.1 13.2h0.8m-1.1 -12.8h0.8m0.9 18.1h0.8m-3.3 -6.5h0.8m0.6 -11.4h0.8m-5.2 13.3h0.8m0.4 -7.7h0.8m3.2 -11.1h0.8m-3.3 9.1h0.8m1.3 10h0.8m0.6 -3.6h0.8m-1.4 2.3h0.8m-2.4 -12.7h0.8m0.5 -0.5h0.8m-7.7 -0.8h0.8m1.6 -5.1h0.8m2.4 -0.4h0.8m-4.3 6h0.8m-2.1 -4.5h0.8m-0.4 2.3h0.8m0.2 -2.7h0.8m-1.2 -0.4h0.8m3.3 6.4h0.8m3.8 -5.8h0.8m-6.7 1.9h0.8m3.8 -0.1h0.8m-4 3.1h0.8m-5.3 -5.8h0.8m-0.3 2.6h0.8m-1.4 1.5h0.8m7.1 -2h0.8m-3.1 1.5h0.8m-9.2 -1.3h0.8m8.2 1.8h0.8m1.7 -1.2h0.8m-8.3 -1.2h0.8m4.9 1.3h0.8m-9.8 0.9h0.8m5.8 4.2h0.8m-6.9 -6.1h0.8m6 1.8h0.8m-8 2.5h0.8m-3.5 -7.8h0.8m8.9 0.8h0.8m5.2 1.2h0.8m-10 2.3h0.8m3.8 5.7h0.8m-3.1 -4.5h0.8m-2.2 1.8h0.8m2.2 -3.2h0.8m2.5 -4.9h0.8m-10.1 0.3h0.8m4.3 5.5h0.8m-6.5 -3.3h0.8m9 5.4h0.8m0.2 -5.9h0.8m-10 5.9h0.8m7.8 0.7h0.8m-1.6 -1.3h0.8m-4.9 -4.3h0.8m-7.8 15.3h0.8m-0.3 -10.9h0.8m-2.2 14.6h0.8m6.1 -7.2h0.8m-4.7 11.7h0.8m-6.1 -18.9h0.8m17.1 -16.6h0.8m-14 20.6h0.8m-2.5 23.7h0.8m9.2 -15.2h0.8m-1.1 -5.9h0.8m-10.1 9.7h0.8m-2.1 -3.5h0.8m1.1 -0.3h0.8m7.7 -8.8h0.8m-6.5 5.3h0.8m-2.8 1.1h0.8m2.3 -7.6h0.8m4.1 -4.3h0.8m-11.2 11.4h0.8m3.3 7.4h0.8m-4.8 -2.9h0.8m13.4 -1.4h0.8m-2.2 0.1h0.8m-4.3 18.8h0.8m-5.1 -21h0.8m2.3 7.1h0.8m-11.8 8.2h0.8m8.7 -17.1h0.8m-7.2 1.9h0.8m-0.8 7h0.8m1.7 5.8h0.8m0.6 -12.4h0.8m2.9 0.5h0.8m-0.3 -2.5h0.8m11.1 -6.9h0.8m-5 -1.8h0.8m-0.1 -1.1h0.8m1.9 5.1h0.8m3.5 -5.9h0.8m-3.2 -1.3h0.8m-1.7 1.5h0.8m2.5 -3.8h0.8m-7.8 4.6h0.8m-4.2 -1.4h0.8m4.2 1.1h0.8m-0.4 0h0.8m3.7 -3.5h0.8m2 5.9h0.8m-11.2 -5.8h0.8m10.6 4.8h0.8" stroke="#6c6c6c" stroke-width="0.8" stroke-opacity="0.7" fill="none"/><path d="M48.9 431.3h1m0.9 2.6h1m-0.8 2.4h1m-3.8 -1.4h1m-0.9 -1.6h1m0.1 3.3h1m0.1 -2.3h1m-0.4 0.1h1m-2.8 -1.7h1m0.5 -4.1h1m-2.4 -0.3h1m-3.7 2.2h1m2.3 -2.7h1m-0.2 6.4h1m-3.3 -6.5h1m0.3 11.8h1m-1.2 -6.3h1m-1.7 -2.2h1m-0.3 6.2h1m-0.1 -11.7h1m-2.5 12h1m-1.7 -0.9h1m-1 -8.8h1m2.5 4.1h1m-2 2.1h1m-0.5 -1.7h1m-2.7 -1.9h1m0.4 -10.2h1m-3.1 -1.1h1m-1.2 0.3h1m2.3 1.3h1m-1.7 1h1m-2.6 -3.9h1m-1.7 -0.7h1" stroke="#d86ad8" stroke-width="1" stroke-opacity="0.95" fill="none"/><rect x="32.5" y="398.5" width="56" height="56" fill="none" stroke="#777" stroke-width="0.8"/><line x1="55.5" y1="398.5" x2="55.5" y2="454.5" stroke="#585858" stroke-width="0.9"/><line x1="32.5" y1="429.5" x2="88.5" y2="429.5" stroke="#585858" stroke-width="0.9"/><line x1="32.5" y1="398.5" x2="32.5" y2="454.9" stroke="#3a3a3a" stroke-width="0.9"/><line x1="32.1" y1="454.5" x2="88.5" y2="454.5" stroke="#555" stroke-width="0.9"/><line x1="31.3" y1="401.5" x2="32.5" y2="401.5" stroke="#222" stroke-width="0.7"/><text x="30.2" y="402.8" font-size="3.7" text-anchor="end" fill="#444">10<tspan font-size="2.4" dy="-1.3">4</tspan></text><line x1="31.3" y1="412.43" x2="32.5" y2="412.43" stroke="#222" stroke-width="0.7"/><text x="30.2" y="413.73" font-size="3.7" text-anchor="end" fill="#444">10<tspan font-size="2.4" dy="-1.3">3</tspan></text><line x1="31.3" y1="423.36" x2="32.5" y2="423.36" stroke="#222" stroke-width="0.7"/><text x="30.2" y="424.66" font-size="3.7" text-anchor="end" fill="#444">10<tspan font-size="2.4" dy="-1.3">2</tspan></text><line x1="31.3" y1="434.29" x2="32.5" y2="434.29" stroke="#222" stroke-width="0.7"/><text x="30.2" y="435.59" font-size="3.7" text-anchor="end" fill="#444">10<tspan font-size="2.4" dy="-1.3">1</tspan></text><line x1="31.3" y1="445.22" x2="32.5" y2="445.22" stroke="#222" stroke-width="0.7"/><text x="30.2" y="446.52" font-size="3.7" text-anchor="end" fill="#444">10<tspan font-size="2.4" dy="-1.3">0</tspan></text><line x1="40.5" y1="454.5" x2="40.5" y2="455.7" stroke="#222" stroke-width="0.7"/><text x="39.9" y="460.6" font-size="3.7" text-anchor="middle" fill="#444">10<tspan font-size="2.4" dy="-1.3">0</tspan></text><line x1="49.74" y1="454.5" x2="49.74" y2="455.7" stroke="#222" stroke-width="0.7"/><text x="49.14" y="460.6" font-size="3.7" text-anchor="middle" fill="#444">10<tspan font-size="2.4" dy="-1.3">1</tspan></text><line x1="58.98" y1="454.5" x2="58.98" y2="455.7" stroke="#222" stroke-width="0.7"/><text x="58.38" y="460.6" font-size="3.7" text-anchor="middle" fill="#444">10<tspan font-size="2.4" dy="-1.3">2</tspan></text><line x1="68.22" y1="454.5" x2="68.22" y2="455.7" stroke="#222" stroke-width="0.7"/><text x="67.62" y="460.6" font-size="3.7" text-anchor="middle" fill="#444">10<tspan font-size="2.4" dy="-1.3">3</tspan></text><line x1="77.46" y1="454.5" x2="77.46" y2="455.7" stroke="#222" stroke-width="0.7"/><text x="76.86" y="460.6" font-size="3.7" text-anchor="middle" fill="#444">10<tspan font-size="2.4" dy="-1.3">4</tspan></text><line x1="86.7" y1="454.5" x2="86.7" y2="455.7" stroke="#222" stroke-width="0.7"/><text x="86.1" y="460.6" font-size="3.7" text-anchor="middle" fill="#444">10<tspan font-size="2.4" dy="-1.3">5</tspan></text><text x="35.8" y="403.8" font-size="4.4" textLength="10.65" lengthAdjust="spacingAndGlyphs" fill="#1a1a1a" stroke="#1a1a1a" stroke-width="0.06">50.6%</text><text x="86.5" y="403.8" font-size="4.4" text-anchor="end" textLength="8.4" lengthAdjust="spacingAndGlyphs" fill="#1a1a1a" stroke="#1a1a1a" stroke-width="0.06">6.5%</text><text x="35.8" y="452.2" font-size="4.4" textLength="10.65" lengthAdjust="spacingAndGlyphs" fill="#1a1a1a" stroke="#1a1a1a" stroke-width="0.06">42.9%</text><text x="86.5" y="452.2" font-size="4.4" text-anchor="end" textLength="8.4" lengthAdjust="spacingAndGlyphs" fill="#1a1a1a" stroke="#1a1a1a" stroke-width="0.06">0.0%</text><text x="61" y="470.8" font-size="8.8" text-anchor="middle" textLength="16.2" lengthAdjust="spacingAndGlyphs" fill="#111" stroke="#111" stroke-width="0.1">2DL1</text><path d="M130.9 417h0.8m-10.3 4.6h0.8m2.9 -2.1h0.8m-7 1.7h0.8m10.8 -1h0.8m-4.8 -5.8h0.8m-3.6 -4.2h0.8m8.7 16.7h0.8m-4.1 -4.4h0.8m-0.3 -2.7h0.8m0.9 -5h0.8m-3.2 1.4h0.8m-10.8 7.9h0.8m3.6 -12.5h0.8m-2.7 11h0.8m3.3 -2.2h0.8m6.2 -0.8h0.8m-1.5 7.6h0.8m-2.8 -10.3h0.8m-6.3 -1h0.8m4.7 4.9h0.8m-2.7 3.5h0.8m3.4 -1.2h0.8m-5.2 -4.7h0.8m-7 -2h0.8m9.3 7.8h0.8m-8.4 0.5h0.8m3.4 -0.1h0.8m-11.4 -5.9h0.8m6.8 -2.2h0.8m-5.5 0h0.8m-0.9 2.8h0.8m-5.5 2.4h0.8m19.5 -0.2h0.8m-12.3 -5.8h0.8m1.1 4.9h0.8m-2.6 -0.3h0.8m-6.9 -0.9h0.8m6.9 2.4h0.8m0.8 -1.1h0.8m-2.4 -2.8h0.8m-8.7 3.3h0.8m-3.1 -1.6h0.8m3.4 -5.9h0.8m7.9 7.8h0.8m-2.4 1.3h0.8m-13 -3.3h0.8m-4.1 0.2h0.8m11 0.3h0.8m2.6 -5.4h0.8m-3.4 10.9h0.8m-5.9 -10.2h0.8m0.7 3.7h0.8m4 2.1h0.8m-1.5 0.6h0.8m10.9 0.6h0.8m-13.5 1.5h0.8m1.1 -2.9h0.8m13.9 -0.7h0.8m-5 1h0.8m7.5 -5h0.8m-6.2 4.7h0.8m0 -5.3h0.8m2.8 2.5h0.8m0.7 0.9h0.8m-0.9 1.3h0.8m-4.2 0.7h0.8m3.9 -0.7h0.8m-4.8 -1.6h0.8m1.6 -3.1h0.8m0.3 4.9h0.8m-3.8 2h0.8m-3.8 1.4h0.8m4.9 -5h0.8m-6 0h0.8m-0.1 3.7h0.8m-1.4 0h0.8m2 -1.8h0.8m-7.1 -3.7h0.8m8.2 3.3h0.8m3.2 -3.5h0.8m-1.6 1.7h0.8m-7.9 0.1h0.8m-23.7 15.7h0.8m5.8 9.1h0.8m-2.1 -5.1h0.8m-0.2 -5.5h0.8m-0.2 13.7h0.8m-2.3 -3.1h0.8m-6.8 -9.2h0.8m10.4 -3.7h0.8m-9.9 7.5h0.8m3.8 -3.6h0.8m-0.7 4.5h0.8m1.5 5.4h0.8m-8.3 4.7h0.8m10.5 -10.1h0.8m-3 9.6h0.8m-0.4 -1.2h0.8m1.2 -8.8h0.8m-9 -6.8h0.8m-10.2 13.9h0.8m16.4 3.2h0.8m-5.8 1.4h0.8m0.7 -15h0.8m-9.2 6.8h0.8m3.9 8.5h0.8m8.1 -6.5h0.8m-9.7 -19.9h0.8m8.1 24.4h0.8m-7.1 -12.6h0.8m-7.5 9.3h0.8m14.8 -6.9h0.8m-13.6 4h0.8m5.6 2.2h0.8m3.5 -2.5h0.8m-9.7 -6.3h0.8m-3.6 13h0.8m-0.8 -3.8h0.8m-0.2 -6.9h0.8m1.9 13.4h0.8m3.4 -8.5h0.8m3.2 -6.9h0.8m-2.3 -1.5h0.8m-0.1 7.7h0.8m-1.7 0.7h0.8m-12.1 5.5h0.8m10.5 -4.9h0.8m-4.4 -8.5h0.8m-6.4 10.6h0.8m-2.9 0.9h0.8m1.2 -3.7h0.8m3.5 -8.5h0.8m-5.4 13.1h0.8m0.6 -10.4h0.8m0 7.2h0.8m4.4 -11.8h0.8m-4.7 12.8h0.8m-0.2 -8.5h0.8m5.1 10.3h0.8m-7.4 3.7h0.8m2.9 -3.3h0.8m-7.4 -12.8h0.8m4.1 10h0.8m2.6 0h0.8m-1.3 5.7h0.8m-7.9 -25.6h0.8m-9.7 16.8h0.8m8.3 -20.5h0.8m16.7 -6h0.8m-14.4 6.5h0.8m4.4 15.9h0.8m-10.5 -17.6h0.8m19.8 24.3h0.8m-15.6 -13.1h0.8m-13.5 -15h0.8m17.4 12.9h0.8m-11.1 20.1h0.8m8 -26.4h0.8m-5 -4.5h0.8m0.3 18.2h0.8m-1.9 8h0.8m-10.2 -3h0.8m-6.2 -13.4h0.8m21.5 5.2h0.8m-10.8 1.3h0.8m3 8.5h0.8m-7.5 9.8h0.8m-14.9 -22.6h0.8m5.9 14.1h0.8m23.3 -16.5h0.8m-20.4 9.4h0.8m2.8 -15.2h0.8m-10.6 1.6h0.8m7.7 11.8h0.8m0.6 -13.1h0.8m0.5 17.9h0.8m0.5 -14.4h0.8m-5.8 6.3h0.8m-0.3 -1.7h0.8m4.3 -2.5h0.8m2.2 4.7h0.8m-5 9.5h0.8m2.3 -22.7h0.8m-1.2 14.9h0.8" stroke="#6c6c6c" stroke-width="0.8" stroke-opacity="0.7" fill="none"/><path d="M129.8 418.9h1m-4.3 2.8h1m3.6 -2.7h1m-4 3.3h1m-3.8 -2.5h1m5.3 0.3h1m-4 -0.2h1m-5.6 0.5h1m3.2 -1.2h1m-6.3 1.4h1m-0.9 -1.9h1m2.7 3.3h1m15.1 -2.8h1m-0.1 -0.1h1m-0.2 1.4h1m0.1 -0.9h1m0.4 0.2h1m-18 24.7h1m-1.6 -6.1h1m-2.1 6h1m-4.5 0.9h1m-1.5 -5.8h1m5.9 3.8h1m-4.9 -2.3h1m2.6 1.3h1m-6 0.8h1m-0.4 0.9h1m0.8 -8.1h1m-1.8 0.4h1m-3.4 6.7h1m-3.2 -1h1m1.9 0.8h1m-1.7 1.5h1" stroke="#d86ad8" stroke-width="1" stroke-opacity="0.95" fill="none"/><rect x="105.5" y="398.5" width="56" height="56" fill="none" stroke="#777" stroke-width="0.8"/><line x1="135.5" y1="398.5" x2="135.5" y2="454.5" stroke="#585858" stroke-width="0.9"/><line x1="105.5" y1="429.5" x2="161.5" y2="429.5" stroke="#585858" stroke-width="0.9"/><line x1="105.5" y1="398.5" x2="105.5" y2="454.9" stroke="#3a3a3a" stroke-width="0.9"/><line x1="105.1" y1="454.5" x2="161.5" y2="454.5" stroke="#555" stroke-width="0.9"/><line x1="104.3" y1="401.5" x2="105.5" y2="401.5" stroke="#222" stroke-width="0.7"/><text x="103.2" y="402.8" font-size="3.7" text-anchor="end" fill="#444">10<tspan font-size="2.4" dy="-1.3">4</tspan></text><line x1="104.3" y1="412.43" x2="105.5" y2="412.43" stroke="#222" stroke-width="0.7"/><text x="103.2" y="413.73" font-size="3.7" text-anchor="end" fill="#444">10<tspan font-size="2.4" dy="-1.3">3</tspan></text><line x1="104.3" y1="423.36" x2="105.5" y2="423.36" stroke="#222" stroke-width="0.7"/><text x="103.2" y="424.66" font-size="3.7" text-anchor="end" fill="#444">10<tspan font-size="2.4" dy="-1.3">2</tspan></text><line x1="104.3" y1="434.29" x2="105.5" y2="434.29" stroke="#222" stroke-width="0.7"/><text x="103.2" y="435.59" font-size="3.7" text-anchor="end" fill="#444">10<tspan font-size="2.4" dy="-1.3">1</tspan></text><line x1="104.3" y1="445.22" x2="105.5" y2="445.22" stroke="#222" stroke-width="0.7"/><text x="103.2" y="446.52" font-size="3.7" text-anchor="end" fill="#444">10<tspan font-size="2.4" dy="-1.3">0</tspan></text><line x1="113.5" y1="454.5" x2="113.5" y2="455.7" stroke="#222" stroke-width="0.7"/><text x="112.9" y="460.6" font-size="3.7" text-anchor="middle" fill="#444">10<tspan font-size="2.4" dy="-1.3">0</tspan></text><line x1="122.74" y1="454.5" x2="122.74" y2="455.7" stroke="#222" stroke-width="0.7"/><text x="122.14" y="460.6" font-size="3.7" text-anchor="middle" fill="#444">10<tspan font-size="2.4" dy="-1.3">1</tspan></text><line x1="131.98" y1="454.5" x2="131.98" y2="455.7" stroke="#222" stroke-width="0.7"/><text x="131.38" y="460.6" font-size="3.7" text-anchor="middle" fill="#444">10<tspan font-size="2.4" dy="-1.3">2</tspan></text><line x1="141.22" y1="454.5" x2="141.22" y2="455.7" stroke="#222" stroke-width="0.7"/><text x="140.62" y="460.6" font-size="3.7" text-anchor="middle" fill="#444">10<tspan font-size="2.4" dy="-1.3">3</tspan></text><line x1="150.46" y1="454.5" x2="150.46" y2="455.7" stroke="#222" stroke-width="0.7"/><text x="149.86" y="460.6" font-size="3.7" text-anchor="middle" fill="#444">10<tspan font-size="2.4" dy="-1.3">4</tspan></text><line x1="159.7" y1="454.5" x2="159.7" y2="455.7" stroke="#222" stroke-width="0.7"/><text x="159.1" y="460.6" font-size="3.7" text-anchor="middle" fill="#444">10<tspan font-size="2.4" dy="-1.3">5</tspan></text><text x="108.8" y="403.8" font-size="4.4" textLength="10.65" lengthAdjust="spacingAndGlyphs" fill="#1a1a1a" stroke="#1a1a1a" stroke-width="0.06">43.0%</text><text x="159.5" y="403.8" font-size="4.4" text-anchor="end" textLength="10.65" lengthAdjust="spacingAndGlyphs" fill="#1a1a1a" stroke="#1a1a1a" stroke-width="0.06">11.6%</text><text x="108.8" y="452.2" font-size="4.4" textLength="10.65" lengthAdjust="spacingAndGlyphs" fill="#1a1a1a" stroke="#1a1a1a" stroke-width="0.06">41.6%</text><text x="159.5" y="452.2" font-size="4.4" text-anchor="end" textLength="8.4" lengthAdjust="spacingAndGlyphs" fill="#1a1a1a" stroke="#1a1a1a" stroke-width="0.06">1.8%</text><text x="134" y="470.8" font-size="8.8" text-anchor="middle" textLength="16.2" lengthAdjust="spacingAndGlyphs" fill="#111" stroke="#111" stroke-width="0.1">2DL3</text><path d="M191.1 418.1h0.8m11 0.9h0.8m2.6 -0.9h0.8m-14.9 -0.2h0.8m9.8 3.6h0.8m2.7 -5.3h0.8m-19.2 8.7h0.8m11.4 -6.5h0.8m-8.6 6.7h0.8m6.6 -4.6h0.8m-3.1 -3.6h0.8m-2.2 6.5h0.8m-2.5 -4.2h0.8m4.5 4.5h0.8m-4.2 -2.4h0.8m-4.2 4.3h0.8m12.3 -4.4h0.8m-4.5 -3h0.8m-8.5 2.1h0.8m1.9 3.3h0.8m6.5 -6.4h0.8m-5.1 0.2h0.8m-7.1 3.9h0.8m3 -1.5h0.8m-1.3 1.9h0.8m-5.6 -3.5h0.8m9 -1.9h0.8m-2.6 3.9h0.8m-10.2 2.5h0.8m6 5.7h0.8m0.1 -5.2h0.8m1.7 -4.7h0.8m1.7 3.7h0.8m-11.8 -5.9h0.8m-7.6 8.4h0.8m6 -2.6h0.8m0 6.3h0.8m0.8 -13.2h0.8m4.7 8.8h0.8m2 -6.5h0.8m-5.6 5.3h0.8m-6.9 -1.7h0.8m14.5 -4.1h0.8m-11.9 3.8h0.8m0.2 2.7h0.8m-6.6 -1.5h0.8m6.4 -3.1h0.8m4 -2.6h0.8m-1.9 6.3h0.8m-1.8 -7.7h0.8m-7.8 1h0.8m0.2 4.9h0.8m2.6 4.2h0.8m-6.5 0h0.8m4.2 -0.9h0.8m-1.7 0.1h0.8m-0.6 -3.7h0.8m-11.6 -4.9h0.8m9.5 2.8h0.8m6.3 1.3h0.8m-16.8 -1.1h0.8m3.2 -3.1h0.8m3.3 1h0.8m-4.9 6.3h0.8m3.5 1.5h0.8m3.2 3.1h0.8m-2.4 5.9h0.8m-6.1 13.5h0.8m1.1 -6.4h0.8m-8.3 -2.6h0.8m2.9 14.9h0.8m-1.5 -12.9h0.8m-5.7 -2h0.8m7.1 2.7h0.8m-5.9 -4h0.8m1.3 3.7h0.8m-6 -0.4h0.8m9.2 -4.9h0.8m-1.7 2.4h0.8m-2.3 3.4h0.8m-6 0.4h0.8m0.7 1.2h0.8m6.2 1.2h0.8m-6.8 -3.2h0.8m1.4 1.6h0.8m-1.3 -5.4h0.8m-5.9 0.7h0.8m9.8 7.8h0.8m-14.8 -18.1h0.8m8 14.1h0.8m-8.2 -13.4h0.8m7 20.1h0.8m0 -19.6h0.8m-2.7 12.7h0.8m-4.3 7.5h0.8m4.3 -0.8h0.8m1.9 -14.4h0.8m-4.4 -2.4h0.8m5.2 -0.9h0.8m-4.2 12.9h0.8m-1.2 -6.6h0.8m1.7 2.3h0.8m-9 1.5h0.8m-0.3 0.9h0.8m3.4 0.7h0.8m-0.8 -2.4h0.8m3.2 -10.4h0.8m-2.3 18.3h0.8m-4.7 -25.2h0.8m-0.6 23.9h0.8m-2.8 -11h0.8m-1.1 2.4h0.8m-1.2 -2h0.8m4.7 0.9h0.8m-6.3 2.1h0.8m-0.4 -1.5h0.8m1.3 -4.9h0.8m-3.5 11.6h0.8m0.4 -8.5h0.8m-8.7 11.5h0.8m9.5 -9h0.8m-3.5 -3.3h0.8m1.2 6.8h0.8m-0.1 2.8h0.8m-9.7 -10.9h0.8m16.3 3.8h0.8m-9.8 10.3h0.8m-0.7 -14.6h0.8m-8.6 0.9h0.8m8.9 6.1h0.8m-1.6 -8.3h0.8m-3.9 -7.5h0.8m1.7 4.8h0.8m3.4 12.3h0.8m-7.3 1.7h0.8m18.2 -25.5h0.8m10 1.5h0.8m-5.8 3.6h0.8m-3.7 -3.8h0.8m-1.2 -1.2h0.8m7.7 1.7h0.8m-1.1 6h0.8m-9 -4h0.8m1.7 -1.9h0.8m2 1.8h0.8m-8.2 0.8h0.8m1 -0.8h0.8m5.1 -4.9h0.8m-7 5.3h0.8m0 -1.3h0.8m-16 20.6h0.8m-10.1 -23.8h0.8m10.7 15.8h0.8m-3.3 0.3h0.8m-13.5 13.6h0.8m2.2 -18.2h0.8m-1.5 5.5h0.8m1.1 -11.6h0.8m4.7 12.5h0.8m6.4 -0.2h0.8m4.5 -10.4h0.8m-19.4 1.9h0.8m2.4 4.1h0.8m16.3 6.2h0.8m-6.1 -17.5h0.8m-6.1 20.6h0.8m-10.8 10.3h0.8m8.6 -4.5h0.8m-6.9 -18.8h0.8m20 -2.3h0.8m-14.5 12.7h0.8m-12 -0.6h0.8m-0.4 -10h0.8m2.3 3h0.8m-0.5 9.4h0.8m2.4 -1.9h0.8m4.1 -14.6h0.8m-1.9 20.9h0.8" stroke="#6c6c6c" stroke-width="0.8" stroke-opacity="0.7" fill="none"/><path d="M198.8 419.6h1m-1 2h1m1.4 -1.2h1m-2 1.3h1m-0.6 -1.3h1m0.4 0.2h1m-4.4 0.3h1m-2.4 0.8h1m-1.4 1h1m0.8 -1.8h1m0.6 1.9h1m-1.2 -4.8h1m1.2 0.1h1m-3.4 -1h1" stroke="#d86ad8" stroke-width="1" stroke-opacity="0.95" fill="none"/><rect x="178.5" y="398.5" width="56" height="56" fill="none" stroke="#777" stroke-width="0.8"/><line x1="208.5" y1="398.5" x2="208.5" y2="454.5" stroke="#585858" stroke-width="0.9"/><line x1="178.5" y1="429.5" x2="234.5" y2="429.5" stroke="#585858" stroke-width="0.9"/><line x1="178.5" y1="398.5" x2="178.5" y2="454.9" stroke="#3a3a3a" stroke-width="0.9"/><line x1="178.1" y1="454.5" x2="234.5" y2="454.5" stroke="#555" stroke-width="0.9"/><line x1="177.3" y1="401.5" x2="178.5" y2="401.5" stroke="#222" stroke-width="0.7"/><text x="176.2" y="402.8" font-size="3.7" text-anchor="end" fill="#444">10<tspan font-size="2.4" dy="-1.3">4</tspan></text><line x1="177.3" y1="412.43" x2="178.5" y2="412.43" stroke="#222" stroke-width="0.7"/><text x="176.2" y="413.73" font-size="3.7" text-anchor="end" fill="#444">10<tspan font-size="2.4" dy="-1.3">3</tspan></text><line x1="177.3" y1="423.36" x2="178.5" y2="423.36" stroke="#222" stroke-width="0.7"/><text x="176.2" y="424.66" font-size="3.7" text-anchor="end" fill="#444">10<tspan font-size="2.4" dy="-1.3">2</tspan></text><line x1="177.3" y1="434.29" x2="178.5" y2="434.29" stroke="#222" stroke-width="0.7"/><text x="176.2" y="435.59" font-size="3.7" text-anchor="end" fill="#444">10<tspan font-size="2.4" dy="-1.3">1</tspan></text><line x1="177.3" y1="445.22" x2="178.5" y2="445.22" stroke="#222" stroke-width="0.7"/><text x="176.2" y="446.52" font-size="3.7" text-anchor="end" fill="#444">10<tspan font-size="2.4" dy="-1.3">0</tspan></text><line x1="186.5" y1="454.5" x2="186.5" y2="455.7" stroke="#222" stroke-width="0.7"/><text x="185.9" y="460.6" font-size="3.7" text-anchor="middle" fill="#444">10<tspan font-size="2.4" dy="-1.3">0</tspan></text><line x1="195.74" y1="454.5" x2="195.74" y2="455.7" stroke="#222" stroke-width="0.7"/><text x="195.14" y="460.6" font-size="3.7" text-anchor="middle" fill="#444">10<tspan font-size="2.4" dy="-1.3">1</tspan></text><line x1="204.98" y1="454.5" x2="204.98" y2="455.7" stroke="#222" stroke-width="0.7"/><text x="204.38" y="460.6" font-size="3.7" text-anchor="middle" fill="#444">10<tspan font-size="2.4" dy="-1.3">2</tspan></text><line x1="214.22" y1="454.5" x2="214.22" y2="455.7" stroke="#222" stroke-width="0.7"/><text x="213.62" y="460.6" font-size="3.7" text-anchor="middle" fill="#444">10<tspan font-size="2.4" dy="-1.3">3</tspan></text><line x1="223.46" y1="454.5" x2="223.46" y2="455.7" stroke="#222" stroke-width="0.7"/><text x="222.86" y="460.6" font-size="3.7" text-anchor="middle" fill="#444">10<tspan font-size="2.4" dy="-1.3">4</tspan></text><line x1="232.7" y1="454.5" x2="232.7" y2="455.7" stroke="#222" stroke-width="0.7"/><text x="232.1" y="460.6" font-size="3.7" text-anchor="middle" fill="#444">10<tspan font-size="2.4" dy="-1.3">5</tspan></text><text x="181.8" y="403.8" font-size="4.4" textLength="10.65" lengthAdjust="spacingAndGlyphs" fill="#1a1a1a" stroke="#1a1a1a" stroke-width="0.06">51.3%</text><text x="232.5" y="403.8" font-size="4.4" text-anchor="end" textLength="8.4" lengthAdjust="spacingAndGlyphs" fill="#1a1a1a" stroke="#1a1a1a" stroke-width="0.06">5.7%</text><text x="181.8" y="452.2" font-size="4.4" textLength="10.65" lengthAdjust="spacingAndGlyphs" fill="#1a1a1a" stroke="#1a1a1a" stroke-width="0.06">42.0%</text><text x="232.5" y="452.2" font-size="4.4" text-anchor="end" textLength="8.4" lengthAdjust="spacingAndGlyphs" fill="#1a1a1a" stroke="#1a1a1a" stroke-width="0.06">0.2%</text><text x="207" y="470.8" font-size="8.8" text-anchor="middle" textLength="16.2" lengthAdjust="spacingAndGlyphs" fill="#111" stroke="#111" stroke-width="0.1">3DL1</text><path d="M290.6 426.9h0.8m-1.9 10.9h0.8m-2.4 -5.6h0.8m1.9 0.3h0.8m-5.8 -4.5h0.8m3.2 1.5h0.8m-2.3 7.9h0.8m2.8 -5.6h0.8m-3.5 -0.4h0.8m-1 -1.3h0.8m-1.3 7h0.8m-1.8 3.3h0.8m-3.9 -14h0.8m0.3 5.6h0.8m3.7 1.9h0.8m-4.8 -4.7h0.8m0.8 -7.9h0.8m0.5 9.5h0.8m1.8 0.6h0.8m-4.2 8.9h0.8m1.9 -8.5h0.8m-6.1 2.6h0.8m3.4 -5.5h0.8m-3.8 3.6h0.8m-0.1 -2.1h0.8m0.7 -2.6h0.8m-0.5 5.1h0.8m1.2 0h0.8m-0.2 -4.5h0.8m-2.6 3.9h0.8m-0.7 -11.4h0.8m-2.9 13.9h0.8m-2.1 -3.9h0.8m2.3 1.2h0.8m-1.8 3.6h0.8m0.6 -6.3h0.8m-5.6 5.5h0.8m7.4 -5.6h0.8m-8 4h0.8m3.3 -1h0.8m-5.1 4.6h0.8m-2 -8.3h0.8m0.3 1.2h0.8m-1.7 2.5h0.8m2.9 9.8h0.8m-0.5 -13.3h0.8m-1.9 -5.9h0.8m2.1 5.6h0.8m-0.6 -3.8h0.8m-3.3 4.2h0.8m-1.3 -1.6h0.8m-1.1 1.1h0.8m2.4 -4.8h0.8m-2.8 8.2h0.8m-1.8 -3.7h0.8m-0.6 7.4h0.8m0.6 -0.2h0.8m-2.5 -7.7h0.8m0.5 2h0.8m-1.5 1.7h0.8m1.8 2.9h0.8m-1.2 -9.8h0.8m-5.5 6.4h0.8m1.5 7.8h0.8m1 -7.5h0.8m-1.7 -4.7h0.8m-0.3 8.6h0.8m-2 -2.8h0.8m-0.1 -0.4h0.8m-0.4 2.3h0.8m-4.5 0.2h0.8m0.2 -10.7h0.8m2.9 9.5h0.8m-9.7 3.2h0.8m7.3 7.2h0.8m6.4 -6.7h0.8m-13.2 -10.2h0.8m2.3 16.2h0.8m-6.5 -20.3h0.8m4.6 8h0.8m-6.8 16.2h0.8m7.5 -8.1h0.8m-4.7 -0.1h0.8m-5.7 -1h0.8m1.2 7.6h0.8m-1.9 -8.9h0.8m3.8 -15.5h0.8m3.3 17.9h0.8m-5.3 -27.1h0.8m-3.6 8.3h0.8m0.4 29.8h0.8m2.6 -4.5h0.8m-9.9 -12.3h0.8m10 3.2h0.8m-1.5 1.3h0.8m-11 7.5h0.8m12.2 -14.5h0.8m-10.9 -0.9h0.8m4.2 2h0.8m4.2 6.3h0.8m-10.8 1h0.8m-1.6 -5.4h0.8m1.8 9.5h0.8m-0.7 -14.6h0.8m2.6 7.7h0.8m-2.2 -5h0.8m-0.7 -2.6h0.8m-0.8 18.3h0.8m0.3 -12.6h0.8m-3.2 -5.7h0.8m3.4 8.6h0.8m-2 -8.5h0.8m-4.4 13h0.8m9.4 2.1h0.8m-11.9 1.5h0.8m6.4 -17.1h0.8m-6.1 7.5h0.8m3.1 16.3h0.8m-0.2 -16.9h0.8m0.4 12.1h0.8m1.2 2.2h0.8m-8.8 -23.8h0.8m12.4 21.2h0.8m-9.6 -3.7h0.8m-5.1 1h0.8m-2.8 6.6h0.8m12.5 -10h0.8m-3.3 -3.2h0.8m-6.7 4.4h0.8m2 -7.8h0.8m1.1 6.9h0.8m-5.1 -20.6h0.8m-9.1 -6.8h0.8m-4.2 0.9h0.8m11.8 0.3h0.8m-13.5 2.5h0.8m8.3 -2.6h0.8m2.4 1.8h0.8m-9.5 3.7h0.8m2.2 -3.9h0.8m0.8 -6.7h0.8m3.2 -1.3h0.8m-9.9 7.4h0.8m6.6 -3.7h0.8m0.8 2.3h0.8m-3.1 -1.6h0.8m-0.7 5.2h0.8m3.6 -0.4h0.8m-5 -8.1h0.8m-1.8 4.9h0.8m-2 -2h0.8m3.2 -3.6h0.8m-4.6 6.9h0.8m3 -2.8h0.8m-3.1 2.1h0.8m3.4 7.1h0.8m-8.6 -4h0.8m17 -9.4h0.8m-4.5 0.2h0.8m2.2 2.1h0.8m0.2 2.5h0.8m1.5 -3.8h0.8m-8 -2.6h0.8m6.2 2.1h0.8m-4.3 3.2h0.8m1.2 2.4h0.8m0.7 -5h0.8" stroke="#6c6c6c" stroke-width="0.8" stroke-opacity="0.7" fill="none"/><path d="M290 431.7h1m-3.4 -2.8h1m-1.1 5.5h1m0.7 -3.7h1m-3.3 0.5h1m-0.2 -3.8h1m-0.4 1.1h1m0.6 5.1h1m-3.4 -2.9h1m-0.1 1.3h1m-2.3 -2.2h1m0.6 -2.4h1m-0.8 6.6h1m-1.3 -4.6h1m-2.1 -0.9h1m-0.4 2.7h1m0.7 -0.4h1m-3.1 1.2h1" stroke="#d86ad8" stroke-width="1" stroke-opacity="0.95" fill="none"/><rect x="271.5" y="396.5" width="56" height="58" fill="none" stroke="#777" stroke-width="0.8"/><line x1="294.5" y1="396.5" x2="294.5" y2="454.5" stroke="#585858" stroke-width="0.9"/><line x1="271.5" y1="423.5" x2="327.5" y2="423.5" stroke="#585858" stroke-width="0.9"/><line x1="271.5" y1="396.5" x2="271.5" y2="454.9" stroke="#3a3a3a" stroke-width="0.9"/><line x1="271.1" y1="454.5" x2="327.5" y2="454.5" stroke="#555" stroke-width="0.9"/><line x1="270.3" y1="398.4" x2="271.5" y2="398.4" stroke="#222" stroke-width="0.7"/><text x="269.2" y="399.7" font-size="3.7" text-anchor="end" fill="#444">10<tspan font-size="2.4" dy="-1.3">5</tspan></text><line x1="270.3" y1="408.2" x2="271.5" y2="408.2" stroke="#222" stroke-width="0.7"/><text x="269.2" y="409.5" font-size="3.7" text-anchor="end" fill="#444">10<tspan font-size="2.4" dy="-1.3">4</tspan></text><line x1="270.3" y1="418" x2="271.5" y2="418" stroke="#222" stroke-width="0.7"/><text x="269.2" y="419.3" font-size="3.7" text-anchor="end" fill="#444">10<tspan font-size="2.4" dy="-1.3">3</tspan></text><line x1="270.3" y1="427.8" x2="271.5" y2="427.8" stroke="#222" stroke-width="0.7"/><text x="269.2" y="429.1" font-size="3.7" text-anchor="end" fill="#444">10<tspan font-size="2.4" dy="-1.3">2</tspan></text><line x1="270.3" y1="437.6" x2="271.5" y2="437.6" stroke="#222" stroke-width="0.7"/><text x="269.2" y="438.9" font-size="3.7" text-anchor="end" fill="#444">10<tspan font-size="2.4" dy="-1.3">1</tspan></text><line x1="270.3" y1="447.4" x2="271.5" y2="447.4" stroke="#222" stroke-width="0.7"/><text x="269.2" y="448.7" font-size="3.7" text-anchor="end" fill="#444">10<tspan font-size="2.4" dy="-1.3">0</tspan></text><line x1="279.5" y1="454.5" x2="279.5" y2="455.7" stroke="#222" stroke-width="0.7"/><text x="278.9" y="460.6" font-size="3.7" text-anchor="middle" fill="#444">10<tspan font-size="2.4" dy="-1.3">0</tspan></text><line x1="288.74" y1="454.5" x2="288.74" y2="455.7" stroke="#222" stroke-width="0.7"/><text x="288.14" y="460.6" font-size="3.7" text-anchor="middle" fill="#444">10<tspan font-size="2.4" dy="-1.3">1</tspan></text><line x1="297.98" y1="454.5" x2="297.98" y2="455.7" stroke="#222" stroke-width="0.7"/><text x="297.38" y="460.6" font-size="3.7" text-anchor="middle" fill="#444">10<tspan font-size="2.4" dy="-1.3">2</tspan></text><line x1="307.22" y1="454.5" x2="307.22" y2="455.7" stroke="#222" stroke-width="0.7"/><text x="306.62" y="460.6" font-size="3.7" text-anchor="middle" fill="#444">10<tspan font-size="2.4" dy="-1.3">3</tspan></text><line x1="316.46" y1="454.5" x2="316.46" y2="455.7" stroke="#222" stroke-width="0.7"/><text x="315.86" y="460.6" font-size="3.7" text-anchor="middle" fill="#444">10<tspan font-size="2.4" dy="-1.3">4</tspan></text><line x1="325.7" y1="454.5" x2="325.7" y2="455.7" stroke="#222" stroke-width="0.7"/><text x="325.1" y="460.6" font-size="3.7" text-anchor="middle" fill="#444">10<tspan font-size="2.4" dy="-1.3">5</tspan></text><text x="274.8" y="401.8" font-size="4.4" textLength="8.4" lengthAdjust="spacingAndGlyphs" fill="#1a1a1a" stroke="#1a1a1a" stroke-width="0.06">8.3%</text><text x="325.5" y="401.8" font-size="4.4" text-anchor="end" textLength="8.4" lengthAdjust="spacingAndGlyphs" fill="#1a1a1a" stroke="#1a1a1a" stroke-width="0.06">5.1%</text><text x="274.8" y="452.2" font-size="4.4" textLength="10.65" lengthAdjust="spacingAndGlyphs" fill="#1a1a1a" stroke="#1a1a1a" stroke-width="0.06">85.2%</text><text x="325.5" y="452.2" font-size="4.4" text-anchor="end" textLength="8.4" lengthAdjust="spacingAndGlyphs" fill="#1a1a1a" stroke="#1a1a1a" stroke-width="0.06">1.4%</text><text x="300" y="470.8" font-size="8.8" text-anchor="middle" textLength="16.2" lengthAdjust="spacingAndGlyphs" fill="#111" stroke="#111" stroke-width="0.1">2DL1</text><text x="258.1" y="425" font-size="8.8" text-anchor="middle" textLength="16.2" lengthAdjust="spacingAndGlyphs" transform="rotate(-90 258.1 425)" fill="#111" stroke="#111" stroke-width="0.1">2DL3</text><path d="M368.1 440.3h0.8m3.6 -3.1h0.8m0.2 -3.2h0.8m-3.6 3.1h0.8m2.4 -0.4h0.8m-5.5 -7.3h0.8m-0.8 7.9h0.8m-3.3 -1h0.8m3 0.8h0.8m-2.5 -3.3h0.8m0.5 4.6h0.8m0.2 0.6h0.8m-4.8 -1.4h0.8m1.8 1.9h0.8m-0.5 -7.4h0.8m0.8 -0.5h0.8m-3 4.7h0.8m-1 -4.8h0.8m4.2 15.8h0.8m-5.3 -14.7h0.8m-2.9 6.4h0.8m0.4 -5h0.8m1.3 -8.4h0.8m4.2 6h0.8m-6.4 -2.8h0.8m-0.9 6.4h0.8m-2 0.4h0.8m2.7 -2.9h0.8m-3 -0.6h0.8m2.1 4.4h0.8m-3.4 -6.2h0.8m0.2 8.4h0.8m-7.1 -6h0.8m0.6 4.8h0.8m4.3 -5.8h0.8m-2.4 5.4h0.8m-5.5 -1.9h0.8m1.9 0.8h0.8m-1.6 2h0.8m5.6 -1.5h0.8m0.4 -6.4h0.8m-6.4 5.3h0.8m-2 -9.4h0.8m4.9 -0.2h0.8m-2.3 8.6h0.8m0.2 0.3h0.8m0.6 7.7h0.8m-2.9 -3.7h0.8m-0.4 2h0.8m-8.1 -6.3h0.8m1.4 3.3h0.8m2.4 3.2h0.8m-1.4 -2.8h0.8m0.4 -0.7h0.8m-3.7 -1.2h0.8m3.1 -4.5h0.8m1.5 0.1h0.8m-4.4 -2.3h0.8m-0.9 5.1h0.8m4 4.3h0.8m-8.3 0.3h0.8m-0.8 3.8h0.8m-1.2 -5.6h0.8m2 14.9h0.8m-4.7 -20.8h0.8m5.7 15.3h0.8m-3.1 1h0.8m-6.1 -17.8h0.8m-8.8 14h0.8m3.8 -4h0.8m12.3 4.1h0.8m-6.8 -14.5h0.8m0 10.1h0.8m-3.1 -8.6h0.8m2.5 4.6h0.8m-10.1 12.2h0.8m-1.1 -10.8h0.8m0.6 -14.9h0.8m6.1 6h0.8m1.7 1.8h0.8m-1.7 15.1h0.8m-3.2 -12h0.8m-5.4 -6h0.8m7.5 18.7h0.8m-5.1 -6h0.8m0.2 0.6h0.8m-1 -8h0.8m-2.4 15.6h0.8m-1.8 -10.9h0.8m-0.3 -12.9h0.8m-3.6 5.8h0.8m5.4 2.1h0.8m-2.5 4.8h0.8m4 6.5h0.8m-12.2 -10.5h0.8m11.2 0.9h0.8m-5.8 19.6h0.8m-1.2 -14.8h0.8m-3.3 -4.3h0.8m-0.9 3.9h0.8m-3.5 -9h0.8m8.8 12.5h0.8m-5.3 3.1h0.8m3 -10.9h0.8m-0.4 11.1h0.8m-6.1 -9h0.8m0.2 4h0.8m-1.2 -7.2h0.8m4.7 -0.4h0.8m2.4 -9.8h0.8m-5.4 -1.3h0.8m0.3 -0.6h0.8m-7.4 2.6h0.8m3.5 -5.3h0.8m-0.7 -1.7h0.8m3 -3.9h0.8m-5.2 12.3h0.8m-3.7 -2.7h0.8m1.9 0.5h0.8m-1.9 -2.4h0.8m4.8 6.5h0.8m12.1 0.2h0.8m-3.2 -8.5h0.8m0.6 3.5h0.8m-7.2 3.4h0.8m3.3 -0.1h0.8m3.7 1h0.8m-2.9 -2.2h0.8m-4.7 -0.8h0.8m4.3 2.7h0.8m-3.8 1.6h0.8" stroke="#6c6c6c" stroke-width="0.8" stroke-opacity="0.7" fill="none"/><path d="M369.3 433.1h1m-0.5 6.6h1m1.8 -7.2h1m-1.6 2.9h1m-3.7 -1.7h1m-1.2 -1.8h1m-2.8 -0.9h1m0.4 4.2h1m-0.9 2.5h1m-1.2 -1.2h1m2.6 1.1h1" stroke="#d86ad8" stroke-width="1" stroke-opacity="0.95" fill="none"/><rect x="353.5" y="397.5" width="56" height="57" fill="none" stroke="#777" stroke-width="0.8"/><line x1="377.5" y1="397.5" x2="377.5" y2="454.5" stroke="#585858" stroke-width="0.9"/><line x1="353.5" y1="424.5" x2="409.5" y2="424.5" stroke="#585858" stroke-width="0.9"/><line x1="353.5" y1="397.5" x2="353.5" y2="454.9" stroke="#3a3a3a" stroke-width="0.9"/><line x1="353.1" y1="454.5" x2="409.5" y2="454.5" stroke="#555" stroke-width="0.9"/><line x1="352.3" y1="399.4" x2="353.5" y2="399.4" stroke="#222" stroke-width="0.7"/><text x="351.2" y="400.7" font-size="3.7" text-anchor="end" fill="#444">10<tspan font-size="2.4" dy="-1.3">5</tspan></text><line x1="352.3" y1="409" x2="353.5" y2="409" stroke="#222" stroke-width="0.7"/><text x="351.2" y="410.3" font-size="3.7" text-anchor="end" fill="#444">10<tspan font-size="2.4" dy="-1.3">4</tspan></text><line x1="352.3" y1="418.6" x2="353.5" y2="418.6" stroke="#222" stroke-width="0.7"/><text x="351.2" y="419.9" font-size="3.7" text-anchor="end" fill="#444">10<tspan font-size="2.4" dy="-1.3">3</tspan></text><line x1="352.3" y1="428.2" x2="353.5" y2="428.2" stroke="#222" stroke-width="0.7"/><text x="351.2" y="429.5" font-size="3.7" text-anchor="end" fill="#444">10<tspan font-size="2.4" dy="-1.3">2</tspan></text><line x1="352.3" y1="437.8" x2="353.5" y2="437.8" stroke="#222" stroke-width="0.7"/><text x="351.2" y="439.1" font-size="3.7" text-anchor="end" fill="#444">10<tspan font-size="2.4" dy="-1.3">1</tspan></text><line x1="352.3" y1="447.4" x2="353.5" y2="447.4" stroke="#222" stroke-width="0.7"/><text x="351.2" y="448.7" font-size="3.7" text-anchor="end" fill="#444">10<tspan font-size="2.4" dy="-1.3">0</tspan></text><line x1="361.5" y1="454.5" x2="361.5" y2="455.7" stroke="#222" stroke-width="0.7"/><text x="360.9" y="460.6" font-size="3.7" text-anchor="middle" fill="#444">10<tspan font-size="2.4" dy="-1.3">0</tspan></text><line x1="370.74" y1="454.5" x2="370.74" y2="455.7" stroke="#222" stroke-width="0.7"/><text x="370.14" y="460.6" font-size="3.7" text-anchor="middle" fill="#444">10<tspan font-size="2.4" dy="-1.3">1</tspan></text><line x1="379.98" y1="454.5" x2="379.98" y2="455.7" stroke="#222" stroke-width="0.7"/><text x="379.38" y="460.6" font-size="3.7" text-anchor="middle" fill="#444">10<tspan font-size="2.4" dy="-1.3">2</tspan></text><line x1="389.22" y1="454.5" x2="389.22" y2="455.7" stroke="#222" stroke-width="0.7"/><text x="388.62" y="460.6" font-size="3.7" text-anchor="middle" fill="#444">10<tspan font-size="2.4" dy="-1.3">3</tspan></text><line x1="398.46" y1="454.5" x2="398.46" y2="455.7" stroke="#222" stroke-width="0.7"/><text x="397.86" y="460.6" font-size="3.7" text-anchor="middle" fill="#444">10<tspan font-size="2.4" dy="-1.3">4</tspan></text><line x1="407.7" y1="454.5" x2="407.7" y2="455.7" stroke="#222" stroke-width="0.7"/><text x="407.1" y="460.6" font-size="3.7" text-anchor="middle" fill="#444">10<tspan font-size="2.4" dy="-1.3">5</tspan></text><text x="356.8" y="402.8" font-size="4.4" textLength="8.4" lengthAdjust="spacingAndGlyphs" fill="#1a1a1a" stroke="#1a1a1a" stroke-width="0.06">3.2%</text><text x="407.5" y="402.8" font-size="4.4" text-anchor="end" textLength="8.4" lengthAdjust="spacingAndGlyphs" fill="#1a1a1a" stroke="#1a1a1a" stroke-width="0.06">2.8%</text><text x="356.8" y="452.2" font-size="4.4" textLength="10.65" lengthAdjust="spacingAndGlyphs" fill="#1a1a1a" stroke="#1a1a1a" stroke-width="0.06">90.3%</text><text x="407.5" y="452.2" font-size="4.4" text-anchor="end" textLength="8.4" lengthAdjust="spacingAndGlyphs" fill="#1a1a1a" stroke="#1a1a1a" stroke-width="0.06">3.7%</text><text x="382" y="470.8" font-size="8.8" text-anchor="middle" textLength="16.2" lengthAdjust="spacingAndGlyphs" fill="#111" stroke="#111" stroke-width="0.1">2DL1</text><text x="341.1" y="425.5" font-size="8.8" text-anchor="middle" textLength="16.2" lengthAdjust="spacingAndGlyphs" transform="rotate(-90 341.1 425.5)" fill="#111" stroke="#111" stroke-width="0.1">3DL1</text><path d="M453.2 441.6h0.8m-2.8 -3.9h0.8m-0.2 2.1h0.8m0.2 5h0.8m-0.4 -10.6h0.8m-10.2 -7.2h0.8m1.9 2.3h0.8m5 9.9h0.8m4.9 -2.8h0.8m2.1 -10.2h0.8m10.2 16.7h0.8m-17.2 -6.6h0.8m-6.1 8.3h0.8m4.9 -2.9h0.8m2.2 -9.3h0.8m-4 3.2h0.8m-8 -4.9h0.8m5 -0.7h0.8m-0.5 3.3h0.8m-8.9 4.7h0.8m0.4 5.2h0.8m13.5 -13.4h0.8m-21.2 9.4h0.8m13.5 -3.9h0.8m-3.4 -1.5h0.8m9.1 8h0.8m-5.5 -8.8h0.8m-9.6 10.3h0.8m11.9 -10.2h0.8m-11.7 -3.5h0.8m14.5 10.1h0.8m-2.8 -13.2h0.8m-11.2 1.6h0.8m4.3 5.9h0.8m-4.3 1.2h0.8m-7.3 -1.6h0.8m10.9 -10.2h0.8m-4.6 3.8h0.8m1.8 11h0.8m0.5 0.2h0.8m1.2 -9.2h0.8m-3 7.6h0.8m-7.5 -0.4h0.8m0.3 4.8h0.8m1.1 -10.4h0.8m-4 13.1h0.8m-1.5 -10.5h0.8m11.7 10.4h0.8m-8.9 -3.1h0.8m7.5 -11.5h0.8m-16.6 4.1h0.8m3.5 3.6h0.8m-3.1 4.4h0.8m-0.6 -14.4h0.8m-0.2 5.3h0.8m0.2 6.7h0.8m-2.6 -0.8h0.8m12.5 -9.2h0.8m-7.5 0.9h0.8m-9.2 8h0.8m0.3 -8.7h0.8m6.9 7.5h0.8m-2 4.1h0.8m-7.6 -5.4h0.8m8.3 -16.1h0.8m-14.8 23h0.8m4.9 -0.1h0.8m12.2 1.6h0.8m-12.2 -18.5h0.8m6.3 18.5h0.8m-7.6 -6.4h0.8m-4.6 3.5h0.8m-1.4 -6.5h0.8m-7.9 -0.6h0.8m3.7 0.1h0.8m7.5 10.9h0.8m-4.6 -7.9h0.8m2.5 -2.8h0.8m-1.6 -6.4h0.8m1.8 10.4h0.8m-12.4 -2.7h0.8m7.3 0.8h0.8m-1 5h0.8m-0.7 -1.6h0.8m-4.2 -4.3h0.8m-8.5 1.3h0.8m15.9 -0.7h0.8m0.3 3.7h0.8m8.5 -0.2h0.8m-10.6 -3.2h0.8m4.6 -6h0.8m-7 10.2h0.8m-6.6 0.3h0.8m4.4 -11.8h0.8m-10.6 8.7h0.8m7.5 -4.6h0.8m-2.9 -10.8h0.8m-6.4 12.8h0.8m12.8 6h0.8m-8.8 -12.8h0.8m-1.4 7.4h0.8m6.8 -2.4h0.8m-8.9 1.8h0.8m1 -5.8h0.8m-1.9 5.5h0.8m-8.1 -6.5h0.8m5.3 2.5h0.8m-0.6 -1.1h0.8m2.1 7.6h0.8m-4.1 -0.2h0.8m-2.1 -2.6h0.8m4.8 -0.7h0.8m-2.8 -3.2h0.8m-3.3 6.8h0.8m-0.3 -1h0.8m0.5 -1.5h0.8m2.6 -3h0.8m1 -0.7h0.8m8.5 -18h0.8m-3 2.6h0.8m-5.6 -8.1h0.8m-3.8 4.5h0.8m9.3 1.6h0.8m6.1 -0.2h0.8m-2 3h0.8m-9.9 -1.8h0.8m3.9 -0.5h0.8m-8.7 2.7h0.8m-1.6 -6.3h0.8m9.7 9.8h0.8m-3.1 -1.6h0.8m-3.9 -6h0.8m-3.4 6.5h0.8m8.5 -6.8h0.8m-5.8 5.1h0.8m-3.3 -2.6h0.8m1.2 3.3h0.8m0.6 -8.1h0.8m-3.1 0.6h0.8m-2.6 0.6h0.8m5.8 5.5h0.8m-7.4 -2.1h0.8m-4 -1.5h0.8m13.4 4.2h0.8m-2.9 -2.4h0.8m-3.3 -3.4h0.8m-4.7 2.1h0.8m-0.7 3.5h0.8m-9 -1.2h0.8m7.6 -2.5h0.8m-1.2 5.6h0.8m-0.2 -8.7h0.8m-0.4 8h0.8" stroke="#6c6c6c" stroke-width="0.8" stroke-opacity="0.7" fill="none"/><path d="M456.3 432.2h1" stroke="#d86ad8" stroke-width="1" stroke-opacity="0.95" fill="none"/><rect x="439.5" y="398.5" width="59" height="56" fill="none" stroke="#777" stroke-width="0.8"/><line x1="471.5" y1="398.5" x2="471.5" y2="454.5" stroke="#585858" stroke-width="0.9"/><line x1="439.5" y1="424.5" x2="498.5" y2="424.5" stroke="#585858" stroke-width="0.9"/><line x1="439.5" y1="398.5" x2="439.5" y2="454.9" stroke="#3a3a3a" stroke-width="0.9"/><line x1="439.1" y1="454.5" x2="498.5" y2="454.5" stroke="#555" stroke-width="0.9"/><line x1="438.3" y1="400.4" x2="439.5" y2="400.4" stroke="#222" stroke-width="0.7"/><text x="437.2" y="401.7" font-size="3.7" text-anchor="end" fill="#444">10<tspan font-size="2.4" dy="-1.3">5</tspan></text><line x1="438.3" y1="409.8" x2="439.5" y2="409.8" stroke="#222" stroke-width="0.7"/><text x="437.2" y="411.1" font-size="3.7" text-anchor="end" fill="#444">10<tspan font-size="2.4" dy="-1.3">4</tspan></text><line x1="438.3" y1="419.2" x2="439.5" y2="419.2" stroke="#222" stroke-width="0.7"/><text x="437.2" y="420.5" font-size="3.7" text-anchor="end" fill="#444">10<tspan font-size="2.4" dy="-1.3">3</tspan></text><line x1="438.3" y1="428.6" x2="439.5" y2="428.6" stroke="#222" stroke-width="0.7"/><text x="437.2" y="429.9" font-size="3.7" text-anchor="end" fill="#444">10<tspan font-size="2.4" dy="-1.3">2</tspan></text><line x1="438.3" y1="438" x2="439.5" y2="438" stroke="#222" stroke-width="0.7"/><text x="437.2" y="439.3" font-size="3.7" text-anchor="end" fill="#444">10<tspan font-size="2.4" dy="-1.3">1</tspan></text><line x1="438.3" y1="447.4" x2="439.5" y2="447.4" stroke="#222" stroke-width="0.7"/><text x="437.2" y="448.7" font-size="3.7" text-anchor="end" fill="#444">10<tspan font-size="2.4" dy="-1.3">0</tspan></text><line x1="447.5" y1="454.5" x2="447.5" y2="455.7" stroke="#222" stroke-width="0.7"/><text x="446.9" y="460.6" font-size="3.7" text-anchor="middle" fill="#444">10<tspan font-size="2.4" dy="-1.3">0</tspan></text><line x1="457.34" y1="454.5" x2="457.34" y2="455.7" stroke="#222" stroke-width="0.7"/><text x="456.74" y="460.6" font-size="3.7" text-anchor="middle" fill="#444">10<tspan font-size="2.4" dy="-1.3">1</tspan></text><line x1="467.18" y1="454.5" x2="467.18" y2="455.7" stroke="#222" stroke-width="0.7"/><text x="466.58" y="460.6" font-size="3.7" text-anchor="middle" fill="#444">10<tspan font-size="2.4" dy="-1.3">2</tspan></text><line x1="477.02" y1="454.5" x2="477.02" y2="455.7" stroke="#222" stroke-width="0.7"/><text x="476.42" y="460.6" font-size="3.7" text-anchor="middle" fill="#444">10<tspan font-size="2.4" dy="-1.3">3</tspan></text><line x1="486.86" y1="454.5" x2="486.86" y2="455.7" stroke="#222" stroke-width="0.7"/><text x="486.26" y="460.6" font-size="3.7" text-anchor="middle" fill="#444">10<tspan font-size="2.4" dy="-1.3">4</tspan></text><line x1="496.7" y1="454.5" x2="496.7" y2="455.7" stroke="#222" stroke-width="0.7"/><text x="496.1" y="460.6" font-size="3.7" text-anchor="middle" fill="#444">10<tspan font-size="2.4" dy="-1.3">5</tspan></text><text x="442.8" y="403.8" font-size="4.4" textLength="8.4" lengthAdjust="spacingAndGlyphs" fill="#1a1a1a" stroke="#1a1a1a" stroke-width="0.06">9.2%</text><text x="496.5" y="403.8" font-size="4.4" text-anchor="end" textLength="8.4" lengthAdjust="spacingAndGlyphs" fill="#1a1a1a" stroke="#1a1a1a" stroke-width="0.06">4.4%</text><text x="442.8" y="452.2" font-size="4.4" textLength="10.65" lengthAdjust="spacingAndGlyphs" fill="#1a1a1a" stroke="#1a1a1a" stroke-width="0.06">84.9%</text><text x="496.5" y="452.2" font-size="4.4" text-anchor="end" textLength="8.4" lengthAdjust="spacingAndGlyphs" fill="#1a1a1a" stroke="#1a1a1a" stroke-width="0.06">1.4%</text><text x="469.5" y="470.8" font-size="8.8" text-anchor="middle" textLength="16.2" lengthAdjust="spacingAndGlyphs" fill="#111" stroke="#111" stroke-width="0.1">3DL1</text><text x="426.7" y="426" font-size="8.8" text-anchor="middle" textLength="16.2" lengthAdjust="spacingAndGlyphs" transform="rotate(-90 426.7 426)" fill="#111" stroke="#111" stroke-width="0.1">2DL3</text><path d="M51.8 536.4h0.8m-7.1 -2.3h0.8m6.4 -13.4h0.8m-3.2 13.5h0.8m4.6 -1.4h0.8m-8.1 -0.1h0.8m2.8 -6.5h0.8m0.1 7.8h0.8m-6 -10.8h0.8m5.6 11.7h0.8m-2.5 0.2h0.8m-1.5 7.9h0.8m-2.6 -7.6h0.8m-3.3 -10.1h0.8m4.5 13.6h0.8m-5.1 -2.9h0.8m6.5 -0.6h0.8m-2 -0.9h0.8m-1 -7.2h0.8m-2.4 5.6h0.8m-4.7 -2.4h0.8m-2.6 3.1h0.8m-0.9 -4.7h0.8m5.3 -2.1h0.8m-4.6 7.8h0.8m-0.6 -7.6h0.8m-2.2 -2.7h0.8m3.5 15.1h0.8m-4.1 -13.1h0.8m4.1 -0.1h0.8m-6.3 2.1h0.8m4.1 -1.5h0.8m1 5.3h0.8m-6.5 0.4h0.8m4.3 -7.7h0.8m-1.5 5.9h0.8m-8 -4.1h0.8m7.6 2.4h0.8m-7 5.6h0.8m-1.9 -7h0.8m-1.6 2.4h0.8m0.8 -8.7h0.8m0.3 1.7h0.8m-2.2 9.9h0.8m-1.1 -6h0.8m5.6 3.9h0.8m-7.3 -4.4h0.8m4.8 8.4h0.8m2.3 -3.5h0.8m-0.3 -3.3h0.8m-6.7 10.2h0.8m-4.5 -10.3h0.8m3 8.1h0.8m0.1 -9.5h0.8m-4.5 6.4h0.8m5.2 1.5h0.8m-4.5 -0.2h0.8m-0.2 2.3h0.8m0.2 -2.3h0.8m0.9 -10.5h0.8m0 0.6h0.8m-8 0h0.8m4.1 9.6h0.8m2.1 0.2h0.8m-1.5 -0.8h0.8m-3.8 2.8h0.8m0.7 -1h0.8m-0.9 -1.8h0.8m-3.8 -0.1h0.8m2.5 -3.8h0.8m-2.2 5.9h0.8m4.3 -5h0.8m-9.6 -3.3h0.8m0.8 -2.3h0.8m4.1 1.6h0.8m-5 -1.2h0.8m-2.7 9h0.8m1.7 -10.9h0.8m-3.7 -2.1h0.8m3.6 15.7h0.8m-5.9 -8h0.8m3.2 6.2h0.8m-8.1 -4.9h0.8m9.7 7.2h0.8m2.9 -0.3h0.8m-11.7 -11.1h0.8m0.8 5.4h0.8m3 10.2h0.8m-6.7 -13.2h0.8m3 9.7h0.8m2.3 -14.8h0.8m-2.4 3.8h0.8m-3.2 10.1h0.8m2.6 -3.2h0.8m-5.3 -7.5h0.8m-1.3 -4.5h0.8m4.1 16.1h0.8m-1.5 -12.8h0.8m-5.4 5h0.8m-1 5.8h0.8m0.6 -11.4h0.8m3.7 15.4h0.8m-2 -10.8h0.8m-2.1 7.2h0.8m4 -6.1h0.8m-8.5 5.2h0.8m4.7 -3.5h0.8m-1.5 3.1h0.8m-7.4 -8.2h0.8m1.2 -5.1h0.8m2.8 6h0.8m1.8 4.7h0.8m-0.1 2.7h0.8m-1.3 -6h0.8m-5.7 -5.5h0.8m-2 10.1h0.8m-3.2 -1.1h0.8m0.1 -10.7h0.8m-1.4 5.2h0.8m-0.2 4.3h0.8m2.9 -4.1h0.8m-5.1 0.4h0.8m2.5 4.9h0.8m3.3 5h0.8m-0.3 -7.9h0.8m-3.3 -2.3h0.8m-3.7 -0.7h0.8m5.8 10.1h0.8m-2.5 -6.9h0.8m2.4 3.2h0.8m-10.6 -7h0.8m-1.1 4.9h0.8m3.1 3.9h0.8m-3.4 0.2h0.8m2.7 -12.1h0.8m1.4 11.8h0.8m-7.8 -9.9h0.8m5.4 11h0.8m-0.5 -11.4h0.8m-4.6 1.9h0.8m-2.1 -1.3h0.8m-1.8 2.5h0.8m7.2 10h0.8m-7.6 -9.9h0.8m3.9 4.2h0.8m0.4 1.6h0.8m-9.6 -12.9h0.8m2.9 15.6h0.8m-3.4 -8.1h0.8m3.1 10.6h0.8m-3.3 -12.9h0.8m-0.4 7.9h0.8m6.4 4.2h0.8m-3.1 -7.1h0.8m-1.9 10.1h0.8m-5.7 -14.3h0.8m1.1 -4h0.8m-0.7 10.8h0.8m-1.1 -8.8h0.8m1.9 13.4h0.8m-2.1 -13.7h0.8m-6.5 9.7h0.8m8.3 6.3h0.8m-4.4 -16.5h0.8m-5.5 5h0.8m-0.6 -3.9h0.8m-0.6 10.1h0.8m3.7 -0.8h0.8m0.7 -6.9h0.8m-3.6 6.1h0.8m-1.6 -4.4h0.8m7.7 12.5h0.8m-5.5 -15.3h0.8m-5.8 -4.4h0.8m9.3 10.8h0.8m-4.8 -0.8h0.8m-1.7 1.6h0.8m-5 -8.1h0.8m-2.7 1.3h0.8m2.8 -1.6h0.8m-2.7 8.6h0.8m2 -6.6h0.8m1.9 5.7h0.8m0.4 -7.9h0.8m-4.7 15.9h0.8m-0.9 -5.8h0.8m2.2 -1.6h0.8m-5.8 -7.9h0.8m-1.1 5.8h0.8m-2.1 -9.2h0.8m0.4 11.4h0.8m4.6 2.4h0.8m-4.8 1.2h0.8m2.8 -4.7h0.8m-0.8 0h0.8m-4.8 3h0.8m-3.3 -7h0.8m2.3 7.6h0.8m-3.5 -7.3h0.8m3.8 -2.5h0.8m-0.5 0.8h0.8m1.3 4.4h0.8m-1.1 2.4h0.8m-4.2 5.6h0.8m4 -2.6h0.8m-3.1 -12.1h0.8m1.2 7.2h0.8m-8.1 -12h0.8m-1.4 11.6h0.8m-1.9 0.7h0.8m-0.1 1.8h0.8m7 3.8h0.8m-5.1 -12.9h0.8m-3.8 4.7h0.8m0 -4.3h0.8m4.6 9.5h0.8m1.6 -0.7h0.8m-9.3 -11.3h0.8m6.4 7.1h0.8m-7.4 -6.3h0.8m4.1 4.2h0.8m-2.3 -8.2h0.8m4.1 15.1h0.8m-3.1 -7.7h0.8m-1.6 9h0.8m1.1 -5.4h0.8m-4.3 -8.1h0.8m0.9 11h0.8m-4.2 0.5h0.8m-0.8 -9.7h0.8m0.5 11.3h0.8m-5.9 -12.4h0.8m0.6 11.7h0.8m1.6 -9.2h0.8m-4 -0.1h0.8m0 -1.1h0.8m5.3 5h0.8m-0.9 7.4h0.8m0 0.2h0.8m-1.4 -4.6h0.8m2.1 3.5h0.8m-6 1.3h0.8m3.7 -4.5h0.8m-9.2 -0.2h0.8m-0.9 0.2h0.8m3.6 5.9h0.8m-1.4 -13.5h0.8m-2.3 9.7h0.8m0.3 0.9h0.8m-2.3 1.5h0.8m5.3 -7.5h0.8m-1.6 0.8h0.8m-9.6 -5.1h0.8m7 2.6h0.8m2.7 -5h0.8m-3.1 9h0.8m-0.8 3.3h0.8m-4.9 -10.2h0.8m1.9 1.4h0.8m-0.5 6.9h0.8m-7.7 -0.9h0.8m-1.6 -7.8h0.8m1.4 2.9h0.8m-2.1 2.4h0.8m0.9 -5.1h0.8m4.1 3.7h0.8m-2.8 5.6h0.8m-5.6 -1.3h0.8m6.3 2.4h0.8m-0.7 -0.5h0.8m-3.7 -12h0.8m1.6 3.8h0.8m-2.6 -4h0.8m3.1 7.9h0.8m-0.9 7.3h0.8m-8.2 -12.6h0.8m-0.2 2h0.8m-0.9 -3.3h0.8m-2.9 2h0.8m5.3 9.8h0.8m1.6 -2.6h0.8m-7.9 3.3h0.8m0.6 -5.3h0.8m3.7 2.5h0.8m-5.6 -1.9h0.8m4 -1.5h0.8m-0.3 -1.3h0.8m-2 -0.7h0.8m-5 -13.2h0.8m9.2 23.7h0.8m-10.7 -9.4h0.8m9 -4h0.8m-7.8 -10h0.8m4.7 21.1h0.8m-10.1 -5.8h0.8m8.8 6.3h0.8m-2.9 -7.8h0.8m-5.9 -5h0.8m8.6 8.7h0.8m-10.8 -14.3h0.8m-11 2.9h0.8m12.4 8.2h0.8m6.4 4.5h0.8m-9.4 5.3h0.8m2.2 -10.4h0.8m-6.3 1.3h0.8m2.3 1.7h0.8m-12.3 -0.2h0.8m2.2 -3.1h0.8m7.1 5.8h0.8m-3.9 -7.1h0.8m-5.3 3.5h0.8m12.1 7.7h0.8m-4.1 -6.9h0.8m-7.1 -4.1h0.8m-3.1 10.2h0.8m7.9 -9h0.8m-3.4 7.2h0.8m1 -12.6h0.8m1 0.2h0.8m-8 -3.3h0.8m4.7 18.7h0.8m3.6 1h0.8m-5.2 -0.5h0.8m-9.3 -4.3h0.8m9.1 -3.9h0.8m-2.9 -2.9h0.8m-2.7 7h0.8m2 -6.8h0.8m-6 -5.1h0.8m3 14.8h0.8m3.8 -2h0.8m-10.2 -0.5h0.8m-2.9 -4h0.8m4.4 -3.9h0.8m-4.5 4.7h0.8m8 -1.5h0.8m-9.9 -8.4h0.8m-3.3 6.3h0.8m3.3 -5.8h0.8m-3.8 17.8h0.8m8.6 -21.8h0.8m-6 2.5h0.8m2.6 1.6h0.8m0.6 7.8h0.8m-4.2 -7.6h0.8m-0.4 20.9h0.8m4.4 -9.4h0.8m-11.4 -21.7h0.8m2.7 19.6h0.8m1.6 -20.8h0.8m-5 6.5h0.8m2.7 3.1h0.8m-2.7 -9.9h0.8m0.6 -0.4h0.8m-1.9 7.1h0.8m0.4 -7h0.8m-3.8 6h0.8m4 1.1h0.8m-4.1 1.2h0.8m4 -3.3h0.8m1.5 -4.4h0.8m-1.9 -1h0.8m-6.3 10.5h0.8m-0.3 -2.9h0.8m-2.3 -3.2h0.8m-1.3 0.1h0.8m1.7 -1.9h0.8m-2.7 1.7h0.8m4.5 -2.2h0.8m-2.2 1.9h0.8m-1.8 4h0.8m0.9 1.6h0.8m-3.1 -1.1h0.8m3.9 -8h0.8m-5.4 7.9h0.8m-1.8 0.1h0.8m-0.7 -5h0.8m3.1 5.3h0.8m-5.4 -5.9h0.8m-0.8 1.5h0.8m3.3 -0.5h0.8m-0.6 1.6h0.8m-0.1 -0.8h0.8m-6.8 4.1h0.8m-2.6 -3.1h0.8m2.8 -2.8h0.8m2.5 2.1h0.8m-3.1 3.7h0.8m-7.6 -1.5h0.8m8.1 -5.2h0.8m-4.1 0.4h0.8m2.9 -0.5h0.8m-8 5.5h0.8m1.2 -1.9h0.8m5.7 -1.7h0.8m-2.2 1.7h0.8m-2.3 5.7h0.8m0.5 -13.1h0.8m-1.6 7.1h0.8m0.3 0.4h0.8m-1.1 -1.3h0.8m-2.3 -3.2h0.8m-5.2 2.9h0.8m6.9 -0.3h0.8m-4.8 7.3h0.8m1.6 -9.2h0.8m-6.2 -0.1h0.8m2.9 2.9h0.8m-0.8 4.5h0.8m-4.3 -4.2h0.8m-0.7 -2h0.8m1.6 -1.3h0.8m0.4 1.6h0.8m-5.7 3.5h0.8m1.1 -3h0.8m3.8 -1.9h0.8m-2 0.1h0.8m-0.7 -0.1h0.8m-8 8.3h0.8m5.6 0.5h0.8m4.6 -10.4h0.8m-7.2 -1.2h0.8m5.1 6.4h0.8m-3 5.4h0.8m-1 -4.7h0.8m-1 21.6h0.8m-1.7 -11.2h0.8m-0.2 5.2h0.8m-5.1 2.8h0.8m2.9 15.1h0.8m0.4 -14.8h0.8m-5.5 4.4h0.8m9.9 4.9h0.8m-17.2 10.6h0.8m3.2 -13.8h0.8m-3.5 -13.7h0.8m10.6 0.7h0.8m-0.7 21.4h0.8m-11.7 -10.3h0.8m4.1 -18.6h0.8m-4 11.3h0.8m-6.2 0.4h0.8m2.5 0.9h0.8m6 7.8h0.8m0.6 0.3h0.8m-8.5 5.3h0.8m3.5 -25.7h0.8m4.1 17.4h0.8m2.6 -4h0.8m-7 -6.8h0.8m-7.7 15.1h0.8m-5.4 -17.3h0.8m9 -0.4h0.8m-3 23.9h0.8m-2.4 -9.6h0.8m-1.5 3.3h0.8m0 3.9h0.8m3.5 -20.7h0.8m2.3 21.2h0.8m-9.7 -10.1h0.8m15.1 3.5h0.8m-3.4 2.1h0.8m-10.7 -1.3h0.8m2.5 -8.2h0.8m6.4 3h0.8m-15.3 1.4h0.8m1 7.1h0.8m-0.7 -26h0.8m-3.2 28.9h0.8m9.4 -18.7h0.8m-6.3 24.8h0.8m1.1 -13.5h0.8m-0.9 10.2h0.8m-2.5 -15.9h0.8m9.4 15.7h0.8m-10.8 -10.5h0.8m-4.9 0h0.8m-3.9 0.3h0.8m3.4 -23.6h0.8m4.3 8.1h0.8m-0.9 -1.1h0.8m-0.1 13.6h0.8m-5 -2.4h0.8m4.3 8.3h0.8m-0.7 -3.7h0.8m-10.6 7.1h0.8m8.7 -15.6h0.8m-0.7 8.5h0.8m-4.9 -6.9h0.8m7.4 -5.3h0.8m-7 -4.9h0.8m-5.6 13.4h0.8m9.2 -6.6h0.8m4.2 3.1h0.8m-18.2 -3.5h0.8m5.6 -1.1h0.8m3.3 9.2h0.8m1.6 -10.9h0.8m1 8.9h0.8m-19.3 1.8h0.8m14 -12h0.8m-14.6 20.3h0.8m3.3 -16h0.8m-1.7 11.6h0.8m8.5 -7.9h0.8m-13.5 -2.8h0.8m0.1 1.5h0.8m20 -7.4h0.8m-15.8 8.1h0.8m2.2 -3.8h0.8m-7.7 16.7h0.8m2.8 -5.2h0.8m10.5 -13.1h0.8m-13 -4.5h0.8m10.1 11.8h0.8m-9.5 -17.9h0.8m0.7 17.1h0.8m2.9 -10.2h0.8m1 10.4h0.8m3.8 -8.8h0.8m-10.3 14.2h0.8m2.6 -14.2h0.8m2.8 -10.6h0.8m1.7 31.5h0.8m1.8 -17.6h0.8m1.6 -1h0.8m-5.2 0.7h0.8m1 -1.9h0.8m1 3.8h0.8m-6.4 -6.4h0.8m0.8 17.8h0.8m-9.6 -17.5h0.8m8.4 8.2h0.8m5.3 4.2h0.8m-14.1 -9.5h0.8m15.2 6.7h0.8m-15.6 -8.6h0.8m12.1 -2.8h0.8m4 1.2h0.8m-12.5 11.5h0.8m-5.8 -0.3h0.8m6 -11.9h0.8m-7.7 11.7h0.8" stroke="#6c6c6c" stroke-width="0.8" stroke-opacity="0.7" fill="none"/><path d="M48.7 534.5h1m4.3 -1.4h1m-4 1.7h1m-1 -0.4h1m-1.8 -8h1m-1.9 6.7h1m-0.8 -7.7h1m0.8 9.3h1m0.6 -5.3h1m-5 1.9h1m0.2 0.1h1m-1.6 -3.3h1m1.7 6.1h1m0.6 -2.3h1m-3.3 -4.3h1m-2.8 -0.5h1m1.6 2.2h1m-4.1 -5.1h1m-0.4 10.6h1m-1.1 -8.5h1m2.4 7.2h1m-0.8 -4.7h1m-4.1 -3.8h1m1.9 9.1h1m0.5 0.7h1m-1.8 -2.4h1m-1.8 1.6h1m-1.3 -5.5h1m-1 0.6h1m-1.9 5.2h1m-1.3 0.4h1m-1.4 -2h1m1.1 -4.2h1m-3.5 -2.1h1m-0.9 0.3h1m2 0h1m-4.5 1.9h1m0.9 -1.8h1m-0.4 8.1h1m-0.8 -5.4h1m-3.4 3.5h1m0.8 2.9h1m-0.3 -6.4h1m-4.7 -0.7h1m1.2 -2.9h1m-0.1 2.6h1m-3 -3.7h1m2.3 8.2h1m-3 -5.8h1m-0.6 7.4h1m-4.9 -6.2h1m1.5 -1.6h1m1.4 5.6h1m-5.6 -6.8h1m-0.2 3.5h1m5.3 5.4h1m-6.3 -8.6h1m-2 5.3h1m-2.2 3h1m-0.4 -3.8h1m-1.4 -5.1h1m2.7 8.4h1m-0.5 -3.6h1m-0.5 3.8h1m-5.3 -7.4h1m0.5 9.2h1m3.6 -3.3h1m-1.5 1.5h1m-7.4 -2.2h1m3.4 3.2h1m-5.1 -5.6h1m-1.5 -1.1h1m3.9 -2.1h1m-5.5 -1.1h1m1.7 9.5h1m-2.4 -2.6h1m-1.8 -5.4h1m-1.7 3.5h1m3.6 3.8h1m-4.2 -1.8h1m-0.3 0.2h1m-2.2 1.1h1m-0.4 -2.5h1m-3.7 -2.2h1m5.7 8h1m-2.8 -11.2h1m-2.7 3h1m2.8 6.7h1m-4.1 -1h1m1.3 1.4h1m0.2 -8.6h1m-6.7 2.8h1m2.6 5.5h1m-0.8 -0.6h1m-3.4 -3.5h1m0.9 6.1h1m-2.9 -20.4h1m0.2 1.3h1m-0.8 -0.8h1m-0.9 -1.9h1m-2.6 0.9h1m-1.1 -1.8h1m-0.5 1.9h1m0.1 -1.1h1m-3.6 2.1h1m1.6 -1h1m-1.2 -1.2h1m-1.9 -0.8h1m-1.9 0.2h1m-0.2 2.9h1m1.2 -3.2h1m-5.2 4.7h1m1.4 -1.7h1m-0.1 -1.2h1m-2.9 -0.2h1m1.9 0.2h1m-3.1 -0.9h1m-2.4 2.5h1m2.5 -3.3h1m-2.2 1.7h1" stroke="#d43ad8" stroke-width="1" stroke-opacity="0.95" fill="none"/><path d="M51.2 533.1h1m-2.8 -3.2h1m1.5 3.8h1m-2.6 -2.1h1m-1.2 -2.9h1m-2 1.8h1m2.8 2.1h1m-1.6 -2.5h1m-0.3 -0.1h1m-1.2 0.4h1m-1.3 -1.1h1m-2 3.4h1m0.2 -1.5h1m-0.6 -0.6h1m-4.1 1.2h1m-0.3 -5.4h1m0.9 4h1m-3.8 -1.6h1m-1.4 -1.2h1m0.8 0.3h1m1.1 3.2h1m-3.1 2.3h1m0.3 -1.2h1m-3.3 -2.9h1m-0.1 -0.7h1m0.5 1.3h1m-0.8 0h1m-1.5 -1.8h1m-3.8 0.3h1m0.9 3.7h1m-0.7 -4.8h1m-1.5 6.2h1m-3.8 -3.3h1m1.6 -1.5h1m0.6 1.2h1m-0.9 0.5h1m-4.2 -1.8h1m0.8 3.7h1m-2 -1.2h1m-1.8 -0.5h1m-0.9 0.3h1m2.1 0h1m-2.8 -3.5h1m-1.5 1.6h1m-1.5 3.8h1m1.5 -4.1h1m-3.4 1.3h1m0.8 2.9h1m0.2 -1.4h1m-1.8 -1.3h1m-0.5 1.9h1m-1.5 0.6h1m-2.4 -4.5h1m1.4 3.6h1m-4.7 -4.1h1m-1.7 -0.3h1m2.7 4h1m-1.5 -1.3h1m-2.6 -3.1h1m-1.3 -0.5h1" stroke="#9a48ee" stroke-width="1" stroke-opacity="0.95" fill="none"/><path d="M49.9 529.1h1m0.3 3.3h1m-0.9 -3.9h1m-1.2 0.3h1m0.4 3h1m-3.3 -2.9h1m0.1 4.6h1m-1.8 -2.6h1m0.8 1.4h1m-0.7 -1.2h1m-1.1 -0.4h1m-3 -1.4h1m0.3 3.5h1m-2.6 -1.7h1m1.1 -0.2h1m-1.8 1.2h1m-0.1 0.3h1m-1.8 0.6h1m-0.3 -1.8h1m-1.3 1.1h1m-1.1 -2.6h1m-1.3 -0.8h1m-1.1 3.7h1m-0.7 -3.8h1m-2.6 1.4h1m0.3 2.9h1m-2 -4h1m-0.6 3.2h1m-0.9 0.5h1m-1.8 -3.8h1m-1 0.6h1" stroke="#4a80f2" stroke-width="1" stroke-opacity="0.95" fill="none"/><path d="M50.5 529.7h1m0.8 2.1h1m-2.8 -1.5h1m-0.7 -1h1m0.1 1h1m-2.4 0.9h1m-1 -0.9h1m-0.4 -1.5h1m-1.6 1.2h1m-0.5 2.3h1m-0.3 -0.7h1m-0.6 -0.7h1m-1.4 -2h1m-1.4 2.9h1m-0.7 -2.7h1m-0.9 0.8h1m-1.7 -0.4h1m-0.5 2.6h1m-1.9 -1.7h1m-1.1 -0.7h1m-1.3 0.8h1m-0.3 1.8h1m-1 -2.2h1m-0.5 1.8h1m-1.1 -2.2h1m-1.6 0.1h1" stroke="#2cb8f0" stroke-width="1" stroke-opacity="0.95" fill="none"/><path d="M51.3 531.1h1m-1.2 -1.2h1m-0.7 1.3h1m-1.4 0.2h1m-1.1 -0.7h1m-0.6 -0.2h1m-1.4 -0.2h1m-1.1 0.3h1m-0.6 0.1h1m-0.8 0.5h1m-0.9 -0.5h1m-0.9 0.6h1m-0.8 0.5h1m-2 -1.6h1m-0.8 0.2h1m-1.1 -0.1h1m-0.7 -0.4h1m-1.4 0.4h1m-0.4 0.7h1" stroke="#3ee07a" stroke-width="1" stroke-opacity="0.95" fill="none"/><rect x="32.5" y="502.5" width="55" height="55" fill="none" stroke="#777" stroke-width="0.8"/><line x1="55.5" y1="502.5" x2="55.5" y2="557.5" stroke="#585858" stroke-width="0.9"/><line x1="32.5" y1="524.5" x2="87.5" y2="524.5" stroke="#585858" stroke-width="0.9"/><line x1="32.5" y1="502.5" x2="32.5" y2="557.9" stroke="#3a3a3a" stroke-width="0.9"/><line x1="32.1" y1="557.5" x2="87.5" y2="557.5" stroke="#555" stroke-width="0.9"/><line x1="33" y1="525.01" x2="33" y2="530.9" stroke="#de34de" stroke-width="0.8"/><line x1="33" y1="530.9" x2="33" y2="532.5" stroke="#2cb8f0" stroke-width="0.8"/><line x1="33" y1="532.5" x2="33" y2="536.19" stroke="#3ee07a" stroke-width="0.8"/><line x1="48.21" y1="556.9" x2="50.5" y2="556.9" stroke="#e03030" stroke-width="0.8"/><line x1="50.5" y1="556.9" x2="50.8" y2="556.9" stroke="#de34de" stroke-width="0.8"/><line x1="51.75" y1="556.9" x2="52.62" y2="556.9" stroke="#de34de" stroke-width="0.8"/><line x1="52.62" y1="556.9" x2="54.19" y2="556.9" stroke="#e03030" stroke-width="0.8"/><line x1="33" y1="512.82" x2="33" y2="517.93" stroke="#4a80f2" stroke-width="0.8"/><line x1="46.82" y1="556.9" x2="49.24" y2="556.9" stroke="#3ee07a" stroke-width="0.8"/><line x1="49.24" y1="556.9" x2="50.46" y2="556.9" stroke="#de34de" stroke-width="0.8"/><line x1="50.46" y1="556.9" x2="52.69" y2="556.9" stroke="#de34de" stroke-width="0.8"/><line x1="31.3" y1="504.5" x2="32.5" y2="504.5" stroke="#222" stroke-width="0.7"/><text x="30.2" y="505.8" font-size="3.7" text-anchor="end" fill="#444">10<tspan font-size="2.4" dy="-1.3">6</tspan></text><line x1="31.3" y1="512.2" x2="32.5" y2="512.2" stroke="#222" stroke-width="0.7"/><text x="30.2" y="513.5" font-size="3.7" text-anchor="end" fill="#444">10<tspan font-size="2.4" dy="-1.3">5</tspan></text><line x1="31.3" y1="519.9" x2="32.5" y2="519.9" stroke="#222" stroke-width="0.7"/><text x="30.2" y="521.2" font-size="3.7" text-anchor="end" fill="#444">10<tspan font-size="2.4" dy="-1.3">4</tspan></text><line x1="31.3" y1="527.6" x2="32.5" y2="527.6" stroke="#222" stroke-width="0.7"/><text x="30.2" y="528.9" font-size="3.7" text-anchor="end" fill="#444">10<tspan font-size="2.4" dy="-1.3">3</tspan></text><line x1="31.3" y1="535.29" x2="32.5" y2="535.29" stroke="#222" stroke-width="0.7"/><text x="30.2" y="536.59" font-size="3.7" text-anchor="end" fill="#444">10<tspan font-size="2.4" dy="-1.3">2</tspan></text><line x1="31.3" y1="542.99" x2="32.5" y2="542.99" stroke="#222" stroke-width="0.7"/><text x="30.2" y="544.29" font-size="3.7" text-anchor="end" fill="#444">10<tspan font-size="2.4" dy="-1.3">1</tspan></text><line x1="31.3" y1="550.69" x2="32.5" y2="550.69" stroke="#222" stroke-width="0.7"/><text x="30.2" y="551.99" font-size="3.7" text-anchor="end" fill="#444">10<tspan font-size="2.4" dy="-1.3">0</tspan></text><line x1="40.5" y1="557.5" x2="40.5" y2="558.7" stroke="#222" stroke-width="0.7"/><text x="39.9" y="563.6" font-size="3.7" text-anchor="middle" fill="#444">10<tspan font-size="2.4" dy="-1.3">0</tspan></text><line x1="49.54" y1="557.5" x2="49.54" y2="558.7" stroke="#222" stroke-width="0.7"/><text x="48.94" y="563.6" font-size="3.7" text-anchor="middle" fill="#444">10<tspan font-size="2.4" dy="-1.3">1</tspan></text><line x1="58.58" y1="557.5" x2="58.58" y2="558.7" stroke="#222" stroke-width="0.7"/><text x="57.98" y="563.6" font-size="3.7" text-anchor="middle" fill="#444">10<tspan font-size="2.4" dy="-1.3">2</tspan></text><line x1="67.62" y1="557.5" x2="67.62" y2="558.7" stroke="#222" stroke-width="0.7"/><text x="67.02" y="563.6" font-size="3.7" text-anchor="middle" fill="#444">10<tspan font-size="2.4" dy="-1.3">3</tspan></text><line x1="76.66" y1="557.5" x2="76.66" y2="558.7" stroke="#222" stroke-width="0.7"/><text x="76.06" y="563.6" font-size="3.7" text-anchor="middle" fill="#444">10<tspan font-size="2.4" dy="-1.3">4</tspan></text><line x1="85.7" y1="557.5" x2="85.7" y2="558.7" stroke="#222" stroke-width="0.7"/><text x="85.1" y="563.6" font-size="3.7" text-anchor="middle" fill="#444">10<tspan font-size="2.4" dy="-1.3">5</tspan></text><text x="35.8" y="507.8" font-size="4.4" textLength="10.65" lengthAdjust="spacingAndGlyphs" fill="#1a1a1a" stroke="#1a1a1a" stroke-width="0.06">10.8%</text><text x="85.5" y="507.8" font-size="4.4" text-anchor="end" textLength="8.4" lengthAdjust="spacingAndGlyphs" fill="#1a1a1a" stroke="#1a1a1a" stroke-width="0.06">0.5%</text><text x="35.8" y="555.2" font-size="4.4" textLength="10.65" lengthAdjust="spacingAndGlyphs" fill="#1a1a1a" stroke="#1a1a1a" stroke-width="0.06">84.9%</text><text x="85.5" y="555.2" font-size="4.4" text-anchor="end" textLength="8.4" lengthAdjust="spacingAndGlyphs" fill="#1a1a1a" stroke="#1a1a1a" stroke-width="0.06">3.9%</text><text x="60.5" y="573.6" font-size="8.8" text-anchor="middle" textLength="16.2" lengthAdjust="spacingAndGlyphs" fill="#111" stroke="#111" stroke-width="0.1">2DL1</text><path d="M125.3 521.7h0.8m-1.2 15.3h0.8m-3.2 -16.7h0.8m12.4 6.3h0.8m-11.5 8.9h0.8m6.6 -1.2h0.8m-16.1 -3.7h0.8m12.2 2.3h0.8m1 -2.7h0.8m-1.7 -2h0.8m-8.3 8.4h0.8m-3.5 -8.4h0.8m5.7 10.9h0.8m-5.5 -13.1h0.8m3 9.8h0.8m-2 -0.8h0.8m-3.3 -1.1h0.8m-1.3 -2.4h0.8m-8.6 -2h0.8m11.8 -4.9h0.8m-1 11.2h0.8m5.5 -4.8h0.8m-2.3 3.3h0.8m1.5 -6.8h0.8m-1.6 1.3h0.8m-17 0.6h0.8m7.3 6.7h0.8m4.6 -1.9h0.8m-1.8 2h0.8m6.8 -10.4h0.8m-8.4 10.9h0.8m3.6 -0.4h0.8m-14.1 -3.4h0.8m0.6 -0.3h0.8m4.5 -6.3h0.8m-7.7 -3h0.8m-2.8 7.5h0.8m0.3 0.7h0.8m-2.1 6.4h0.8m9.3 -3.5h0.8m-8.4 -1.7h0.8m2.8 2.4h0.8m-2.8 -1.3h0.8m-4.4 -4.5h0.8m10.7 -0.5h0.8m-7.4 -7.1h0.8m-0.3 5.7h0.8m10.9 5.7h0.8m-21.9 -3.5h0.8m13.5 -4.1h0.8m-3.1 -2.8h0.8m-8.2 12.4h0.8m12.5 -9.6h0.8m-12.8 3.9h0.8m-2.4 5.6h0.8m11.8 -1.3h0.8m2.9 -4.2h0.8m-19.3 1h0.8m1.6 -4.3h0.8m14.4 -1.3h0.8m-15.1 8.9h0.8m10.7 -3h0.8m-12.3 -2.4h0.8m2.3 2.9h0.8m4.8 3.3h0.8m-2.6 -9.9h0.8m3.5 7.6h0.8m0.4 2.5h0.8m-14.8 -4.1h0.8m8.1 -5.1h0.8m-0.5 -1h0.8m-6.9 11h0.8m7.7 -7.2h0.8m3.6 -0.9h0.8m-6.4 -1.8h0.8m-2.4 0.4h0.8m-3 12.7h0.8m-5 -7.7h0.8m9.8 -6.2h0.8m-3.7 -0.9h0.8m-7.4 9.8h0.8m-3.5 -5.3h0.8m1.8 4.1h0.8m0.9 3h0.8m-1.3 -0.8h0.8m5 -1.4h0.8m-8.9 -4.5h0.8m8.7 5.2h0.8m-1.4 -0.1h0.8m-6.5 -7.9h0.8m3 -2.1h0.8m-8.7 5.7h0.8m6.5 -3.6h0.8m-0.3 11.4h0.8m-7.4 -7.1h0.8m1 2.4h0.8m6.2 1.4h0.8m-4.1 -8.9h0.8m3.3 7.6h0.8m-13.1 -1.3h0.8m15.7 -6.1h0.8m-4.5 1.5h0.8m-11.1 6.7h0.8m9.7 -10.2h0.8m-1.7 10.7h0.8m3.4 -5.6h0.8m-5.3 -1.9h0.8m-17.3 5h0.8m7.7 0h0.8m-4.4 7.7h0.8m1.1 -5.3h0.8m13.8 -5.3h0.8m-11.1 5.6h0.8m-2.6 -14.1h0.8m9.8 14.8h0.8m-14 -4.1h0.8m4.3 5h0.8m-5.6 -8.9h0.8m8.8 -3.3h0.8m-0.3 8.4h0.8m-7.8 -5h0.8m-3.1 0.9h0.8m11.9 2h0.8m-14.6 -5.9h0.8m-2 5.6h0.8m7.8 -5.5h0.8m3.9 2.2h0.8m1.3 4.6h0.8m-14.4 -2.7h0.8m9 8.2h0.8m-5.6 -11.8h0.8m-1.4 10h0.8m12.8 -8.7h0.8m-10.1 5.7h0.8m-7.3 -8.6h0.8m-3.8 5.2h0.8m-4.1 4.5h0.8m6.3 1.3h0.8m-4.7 -3.7h0.8m8.7 -4.4h0.8m-6.3 1h0.8m-1.3 5.6h0.8m5.6 6.7h0.8m-7.3 -12.2h0.8m-3.2 4h0.8m10.6 1.3h0.8m-4.6 3.2h0.8m3.7 -2.8h0.8m-13.8 5h0.8m11.9 -3.1h0.8m-7.8 -6.8h0.8m-3.4 -0.6h0.8m6.7 -5.4h0.8m5.8 9.8h0.8m-6.4 -3.1h0.8m-10.6 -7.1h0.8m1.9 12.1h0.8m-6.4 -7.4h0.8m12.6 7.4h0.8m-0.7 -4.8h0.8m-1 0.9h0.8m0.5 -2.8h0.8m-13 -3.9h0.8m14 7.5h0.8m-2.6 -4.2h0.8m-7.2 -2.2h0.8m2.3 14.8h0.8m-9.3 -4h0.8m-2.8 -1.9h0.8m10.6 -0.3h0.8m-7.9 -4.2h0.8m-1.8 9.2h0.8m-4.4 -7.8h0.8m-1.9 3.1h0.8m8.2 2.2h0.8m-11 -3.3h0.8m1.1 -3h0.8m9.2 0.2h0.8m0.1 5h0.8m-16.5 -4.6h0.8m19.9 2.6h0.8m-3.9 -1.5h0.8m-6 7.3h0.8m-12.5 -6.8h0.8m5.7 8.3h0.8m3.7 -12.6h0.8m8.7 6.5h0.8m-16 -4.4h0.8m-2.1 1h0.8m-1.3 -1.5h0.8m10.6 -5.4h0.8m0.6 14.4h0.8m-9 -3.7h0.8m0.4 2.2h0.8m2.2 2.8h0.8m-6 -2.4h0.8m-2.6 -9.9h0.8m12.7 0.9h0.8m-2.6 4.5h0.8m-3.4 4.1h0.8m-8 -1.1h0.8m11 -3.8h0.8m-6 -8.1h0.8m-7.2 1.3h0.8m-4.9 7.7h0.8m11 2.5h0.8m-1 -8.8h0.8m-8.8 -1.8h0.8m4.4 12.8h0.8m1.3 -1.7h0.8m-8 -2.4h0.8m7.8 3h0.8m-0.3 -3.7h0.8m-10.4 -2.8h0.8m2.7 15.5h0.8m2.4 -18h0.8m-7.6 11.1h0.8m9.9 -4.6h0.8m-16.1 -6h0.8m10.7 -1.9h0.8m-6.3 2h0.8m-5.6 8.4h0.8m7.7 -11.6h0.8m3.3 3.2h0.8m-2.3 1.5h0.8m-1.8 -6.5h0.8m-1.6 4.4h0.8m2.5 -3.2h0.8m1.5 2.5h0.8m-3 1.6h0.8m-2.8 6.6h0.8m-8.6 2h0.8m0.2 -8.8h0.8m-1 6.4h0.8m-3.7 -5.3h0.8m2.9 -1.5h0.8m-5.2 -1.9h0.8m10.7 7.5h0.8m1.3 -3.1h0.8m-8.8 -5.1h0.8m-8.6 6.7h0.8m5.8 -2.4h0.8m-2.2 0.4h0.8m1.1 -0.4h0.8m-3.8 2.5h0.8m9.6 5.2h0.8m-3.1 -11h0.8m0.3 13.8h0.8m-5.6 -12.7h0.8m-5.8 3.6h0.8m11.3 -2.2h0.8m-4.8 11.3h0.8m2.2 -4.1h0.8m5.4 -6.7h0.8m-16.3 6.8h0.8m5.5 -11.9h0.8m6 5h0.8m-12.8 7.8h0.8m11.5 -6h0.8m3.4 7.6h0.8m-4.6 -13.1h0.8m-4.8 7.9h0.8m-11.3 3.8h0.8m2.1 -11.8h0.8m6.3 1.8h0.8m-1.4 2.6h0.8m-2.8 8.1h0.8m3.9 -9.2h0.8m-8.4 9.2h0.8m-4.5 -11.2h0.8m1 2h0.8m-1.9 5h0.8m2.3 3.9h0.8m-1.3 0.8h0.8m0.4 0.5h0.8m3.9 -3.9h0.8m-1.8 2h0.8m-10.7 -13.5h0.8m-3.1 6.6h0.8m17 7.5h0.8m-15.8 -10.8h0.8m8.5 0.7h0.8m1 4.2h0.8m-17.4 3.6h0.8m13.4 -0.2h0.8m-4 -10.9h0.8m2.6 0h0.8m2 9.1h0.8m-4.2 -7.2h0.8m7.6 1.3h0.8m-21.3 -0.3h0.8m6.6 8.5h0.8m-2.2 -9.2h0.8m6 1.4h0.8m-6.1 9.3h0.8m4.7 0.4h0.8m-5.1 -1.6h0.8m0.7 3.9h0.8m3.9 -2.6h0.8m-4.7 1.2h0.8m-6.8 -10.5h0.8m10 9.7h0.8m-3 -8.7h0.8m-1 -0.1h0.8m0.4 2.8h0.8m-14.8 3.5h0.8m4.8 7.7h0.8m-3.1 -11.4h0.8m-7.5 -6.4h0.8m16.4 -4.7h0.8m-11.3 3h0.8m17.6 0.4h0.8m-24.2 6.6h0.8m4.6 6.8h0.8m11.2 -8.7h0.8m8.6 -1.1h0.8m-27.4 1.2h0.8m8.6 7.6h0.8m-4.8 -5.3h0.8m17 1h0.8m2.7 -4.3h0.8m-14 3.8h0.8m4 -2.1h0.8m-12.4 9.2h0.8m-4.6 -6.5h0.8m11.7 6.9h0.8m-8.1 -4.6h0.8m8.3 -1.1h0.8m-8.6 -11.9h0.8m11.1 9.1h0.8m-11.8 -4.4h0.8m0.3 11.6h0.8m6.4 -3.9h0.8m-6.6 0.3h0.8m8.1 -3.4h0.8m-15.6 9.1h0.8m-3.3 -20.1h0.8m12.9 16.3h0.8m-3.8 -6.7h0.8m-9 -3.7h0.8m-4.8 1.7h0.8m2.4 4h0.8m3.9 2.1h0.8m-2.4 4.8h0.8m-7.2 -10.6h0.8m0.9 -0.5h0.8m9.7 10.7h0.8m3.5 0.6h0.8m2.2 -13h0.8m-18 1.9h0.8m-3.2 6.2h0.8m11.6 -3.7h0.8m-7.5 5.9h0.8m7.2 -8.7h0.8m0.4 0.6h0.8m-10.6 22.5h0.8m1 -11.7h0.8m-11.7 3h0.8m-0.6 -7.3h0.8m16.1 -6.3h0.8m9.4 11.2h0.8m-29 2.1h0.8m1 -10.5h0.8m6.3 -0.5h0.8m8.2 5.1h0.8m-20.2 -4h0.8m13.3 -8.6h0.8m9.1 13.3h0.8m-27.8 0.8h0.8m7.4 -15.8h0.8m13.1 21.8h0.8m2.3 -17.9h0.8m-15.3 -0.7h0.8m11.9 2h0.8m-0.3 5.3h0.8m-18.2 -0.4h0.8m8.8 -9.9h0.8m-4.4 11.1h0.8m1.2 1.9h0.8m3.1 -6.9h0.8m2.9 3.1h0.8m3.8 -6h0.8m0.9 8.7h0.8m13 -4.5h0.8m-11.9 1.6h0.8m-1.5 0.1h0.8m3.5 0.8h0.8m0.5 -5.8h0.8m-0.4 3.6h0.8m-5.9 -2.1h0.8m-5.9 -2.2h0.8m-3.3 1.8h0.8m3.2 -0.6h0.8m1.3 3.4h0.8m-4.3 -1.6h0.8m-1.9 1.5h0.8m3.7 -1h0.8m-1.3 0.5h0.8m8.1 -2.2h0.8m-13 1.5h0.8m7.9 -0.9h0.8m-7.6 2h0.8m12.9 3.7h0.8m-11.8 -3.9h0.8m-3.9 0.1h0.8m2.1 -3.2h0.8m0.3 5.6h0.8m-2.1 1.8h0.8m-2.6 -0.8h0.8m-3.7 0.1h0.8m4.8 1h0.8m0.9 -6.5h0.8m2.7 4.4h0.8m-3.7 -3h0.8m-7.3 -1.9h0.8m1.9 0.6h0.8m-1.1 -2.1h0.8m5.3 6.3h0.8m-5.7 -2.6h0.8m6 -1h0.8m-9.1 -1.9h0.8m-1.6 1.2h0.8m3.2 -1.1h0.8m-2.1 2.8h0.8m5 -1.8h0.8m-1.7 4.2h0.8m-4 -3.6h0.8m-2.6 2.1h0.8m-0.1 -3.5h0.8m4.5 -2h0.8m-3.6 6.6h0.8m-12.9 0h0.8m4.1 0.5h0.8m3.1 -3.8h0.8m2.4 0.1h0.8m-0.8 1.2h0.8m-10.4 0.9h0.8m-2.4 -3.2h0.8m4.1 5.5h0.8m1.2 -8.1h0.8m1.6 3.7h0.8m-3.6 3.5h0.8m1.2 -4.6h0.8m-5.2 3.6h0.8m3.7 -1.8h0.8m3.3 1h0.8m-5.2 -6.2h0.8m-0.6 9.4h0.8m-0.5 -6.3h0.8m-11.1 1.5h0.8m5.6 0.3h0.8m10.7 3.7h0.8m-2.8 -0.4h0.8m-12.6 -1.7h0.8m4.1 -1.7h0.8m-1 3.7h0.8m-2.5 -0.8h0.8m8.1 -6.7h0.8m1.3 5.4h0.8m-5 -2.2h0.8m-9.1 3.4h0.8m8 4.1h0.8m-3.4 -6.1h0.8m-2.2 0.6h0.8m-7.3 1.2h0.8m7.4 2.2h0.8m-5.6 -9.3h0.8m9.3 3.9h0.8m-12.1 4.6h0.8m-2.6 -3.5h0.8m7 -4.1h0.8m-7.3 5.5h0.8m9.8 -4.5h0.8m-10.3 5.4h0.8m5.7 0.1h0.8m-7.7 -3.2h0.8m1.1 -1.9h0.8m1.9 4h0.8m-4.2 -2.1h0.8m4.8 0.2h0.8m2.1 -0.5h0.8m-24.8 -13.4h0.8m10.6 2.8h0.8m-13.4 0.1h0.8m1.8 -0.4h0.8m-0.9 -3.9h0.8m-11.3 5.3h0.8m9.2 2.3h0.8m0.4 -0.5h0.8m-5.3 -3.5h0.8m2.9 7.3h0.8m1.8 -5.6h0.8m-0.1 1.7h0.8m0.2 -1.7h0.8m2.2 -1.8h0.8m-0.3 2.8h0.8m-9.3 -3.2h0.8m2.9 -0.4h0.8m-3 -2.3h0.8m-3.4 6h0.8m-1 1.3h0.8m-4.3 -1.9h0.8m6.8 -1h0.8m3.8 0.5h0.8m-9.1 3h0.8m-1.1 -3.9h0.8m-3.4 1.4h0.8m-3.2 1.2h0.8m0.5 -1.4h0.8m6.8 1.3h0.8m-11.8 1h0.8m18.7 -2.8h0.8m-5.6 6.5h0.8m-5.3 -7.7h0.8m-4.7 2.1h0.8m8.1 0.7h0.8m-8.1 -0.9h0.8m12.8 -3.2h0.8m-13.2 3.4h0.8m2.7 -2.9h0.8m-8.5 2.4h0.8m10.7 2h0.8m-4.3 0.6h0.8m-0.8 -2.2h0.8m6.2 -1.4h0.8m-15.9 7.7h0.8m-6.6 -6.6h0.8m-1.5 5.6h0.8m6.7 -7.5h0.8m1.3 2.9h0.8m-0.9 4h0.8m4.3 -7.2h0.8m2.7 -0.9h0.8m-11.6 6.3h0.8m10.9 1.8h0.8m-11.3 -2.2h0.8m-3.4 -1.1h0.8m9.4 -2.9h0.8m-0.1 2.6h0.8m-1.8 1.5h0.8m-10.8 -3.7h0.8m13.4 -3.6h0.8m-6.6 8h0.8m-7.9 -6.7h0.8m4.1 -0.5h0.8m0.2 2.6h0.8m-2.2 4.5h0.8m-4 -6.9h0.8m12.5 3.9h0.8m-13.6 5.3h0.8m4.3 -4.3h0.8m-3.3 -1.8h0.8m1.1 -1.7h0.8m-12 -2.2h0.8m20.7 8.6h0.8m-3.8 -8h0.8m-10 4.3h0.8m6.3 2.5h0.8m-7 -4.6h0.8m3.5 1.1h0.8m-6.2 3.6h0.8m-3.1 7.6h0.8m3.3 14.7h0.8m-13 -9.6h0.8m32 -14.1h0.8m-31.3 15.4h0.8m4.7 11.5h0.8m18.6 -10.7h0.8m-7.5 -5.4h0.8m-5.4 0.3h0.8m4.9 9.2h0.8m-19.1 -2.4h0.8m8.2 -4.8h0.8m-7.4 9h0.8m-0.9 6.9h0.8m21.1 -10.7h0.8m-7.3 7.6h0.8m-16.8 -3.6h0.8m-4.3 -8h0.8m16.7 1.9h0.8m-5.4 11.3h0.8m-5.7 -8.5h0.8m4.2 4.5h0.8m-14.4 -19.9h0.8m4.1 18.3h0.8m-0.7 -19.6h0.8m16.7 29h0.8m-11.9 -12.9h0.8m-9.6 4.5h0.8m1.6 -12.2h0.8m15.3 4.7h0.8m-7.2 -8h0.8m-8.6 1h0.8m0.8 9.2h0.8m8.9 -4.4h0.8m-10 0.4h0.8m-0.4 1h0.8m-4.6 12h0.8m10.4 4.2h0.8m-7.4 -16.7h0.8m7.9 -2.7h0.8m19.3 6.5h0.8m-31.2 4.1h0.8m7.4 -17h0.8m-9.2 16.1h0.8m-4.2 -7.4h0.8m-1.3 6.1h0.8m3 -1.3h0.8m2.8 -4.6h0.8m14.2 -4h0.8m-12.9 4.1h0.8m-9 10.7h0.8m12.8 -22.2h0.8m-17.5 14.9h0.8m13.5 -2.6h0.8m-5 -0.3h0.8m-7.6 3.1h0.8m7.9 1.8h0.8m5.2 -3.4h0.8m-5.1 10.4h0.8m-23 -12.7h0.8m0.2 19.5h0.8m13.6 -32.1h0.8m-2.4 27.6h0.8m-10.9 -15.5h0.8m18.5 -6.8h0.8m-3.2 2.4h0.8m5.6 3.2h0.8m-8.9 5.2h0.8m11.9 -2h0.8m-21.8 11h0.8m1.5 -11.5h0.8m8.4 -1.1h0.8m-3.2 -0.5h0.8m-17.6 7h0.8m5.7 -3.8h0.8m11.4 11.6h0.8m-5 -16.5h0.8m-8.3 1.6h0.8m3.1 -0.9h0.8m0.4 -2.6h0.8m-1.4 2.9h0.8m5.2 -3.8h0.8m0.9 -10.5h0.8m-13.5 3.7h0.8m26.6 4.5h0.8m-18.6 -11.8h0.8m-4.6 13.9h0.8m17 11.3h0.8m-17.3 -2.7h0.8m-11.3 -15.2h0.8m-2.1 0.7h0.8m5.6 7.7h0.8m-1.1 -2.1h0.8m-10.8 10.8h0.8m11.2 -3.5h0.8m-4.9 1h0.8m18 -4.1h0.8m-8.1 9.5h0.8" stroke="#6c6c6c" stroke-width="0.8" stroke-opacity="0.7" fill="none"/><path d="M143.5 527.7h1m-5.8 -2.7h1m2.7 2.7h1m-5.2 0.4h1m5 -1.5h1m-5.3 -2h1m-2.7 3.9h1m4.2 -1.7h1m-7.7 1.4h1m4.7 0.7h1m-3.2 -1.4h1m0.9 -1.8h1m-3 -0.3h1m-1.5 2.9h1m1.9 -2.2h1m-2.3 0h1m-1.1 2.9h1m-4.6 0.2h1m5.2 -3.6h1m-3.4 1.2h1m-1.7 -0.6h1m1.9 -2h1m-1.6 5h1m-4.7 -5.1h1m1 4.5h1m-3.5 1.5h1m5.9 -2.4h1m-8.5 -2.2h1m-1 0.1h1" stroke="#d86ad8" stroke-width="1" stroke-opacity="0.95" fill="none"/><path d="M122.1 530.1h1m0.7 -1.7h1m2.1 4.6h1m-4.6 -1.9h1m-0.7 2h1m3.2 -6h1m-1.9 -0.1h1m-6.3 4.5h1m3 4.7h1m3.8 -2.9h1m-9.6 -2.7h1m1.9 4.5h1m4.6 0.2h1m1.2 -4.7h1m-4.8 4.3h1m-5.7 -1.8h1m-1.2 2.5h1m-2.2 -5.8h1m-1.1 2.4h1m7.1 -0.5h1m-6 -3.6h1m-3.3 1.7h1m-2.5 0.6h1m8.4 -2.5h1m-7.7 6.3h1m3.7 -2.8h1m-1.3 2.1h1m3.6 -3.2h1m-12.1 1.5h1m-1.9 -0.1h1m9.9 2.4h1m-11.6 -0.7h1m3.3 -6.6h1m-4 5.2h1m0.5 2.6h1m4.5 -6.5h1m-6.4 5.2h1m-2.5 -6.7h1m7.1 4.6h1m-0.8 0.9h1m-3.2 0.5h1m-7.9 -4.2h1m6.3 5.3h1m-5.3 -5.4h1m2.7 -1.7h1m-1.2 1.3h1m-5.7 -0.8h1m4.2 1.9h1m0.7 0h1m-7 5.4h1m-0.9 -6.4h1m3.1 4.4h1m1.4 -1h1m-8 -3.5h1m5.3 2.4h1m-9.6 1.6h1m5.9 -2h1m0 -1.5h1m1.9 -3.3h1m-9.2 3.3h1m-2.9 1.6h1m5.1 -1.7h1m-5.2 -1.3h1m3.3 1.6h1m0 3.7h1m-8.7 1.7h1m-0.6 -3.3h1m6.1 0.7h1m-0.2 0.5h1m-6.1 2.1h1m4 -6.5h1m-1.2 4.5h1m-1.3 1h1m-5.6 -5.3h1m0.2 -2.2h1m-4 3h1m6.6 -0.7h1m-2.2 1.5h1m-3.5 7.1h1m-5.3 -2.4h1m2.3 -6.7h1m2.2 0.8h1m-4.2 5.7h1m-2.1 -7h1m-4.9 1.8h1m-0.6 -0.3h1m-0.3 7.1h1m7.5 -7.4h1m-5.3 5.2h1m-2.1 1.2h1m-2.2 -7.5h1m5.9 4.3h1m-5.6 2.5h1m-4.7 0h1m5.3 -6.8h1m1.5 6.3h1m-10 0.9h1m-2 -3.6h1m1.6 3.2h1m-4.1 -7.1h1m-1.7 8.6h1m5 -8.8h1m-1 -0.1h1m-1 7.8h1m-4.2 -2.5h1m5.4 -5.5h1m-8.5 6.5h1m-0.1 -1.9h1m4.9 -1.4h1m-8.5 1.3h1m9 0.6h1m-1.2 0.4h1m-3.5 -3.3h1m-3.3 5.6h1m-3 -7.5h1m-3.7 4.5h1m3.6 -2.4h1m2.6 -0.6h1m-6.7 -0.3h1m0.3 6.2h1m-2.9 -0.1h1m0.2 0h1m1 0.6h1m-5 -0.3h1m7.8 -2.1h1m-9.7 -6.7h1m-2.3 2.9h1m3.1 7.1h1" stroke="#d43ad8" stroke-width="1" stroke-opacity="0.95" fill="none"/><path d="M123.9 529.2h1m-0.8 2h1m-0.6 -2h1m4.2 2h1m-5.7 2.8h1m1.6 -0.9h1m-3.2 -0.3h1m-3.6 -4.3h1m2.8 6.4h1m-3.5 -0.3h1m1.1 -1.5h1m-2.3 -4.7h1m-2.7 3.9h1m0.7 1h1m-2.6 -1.7h1m0.2 -2.1h1m1.4 -1.8h1m-1.4 0.4h1m-1.4 0.5h1m-5.4 0.1h1m0.9 0.5h1m-0.6 4.2h1m4.8 -2h1m-1.2 -2.1h1m-7.3 -0.6h1m1.4 4.3h1m-1.5 -0.5h1m1.9 0.8h1m-0.2 -4.7h1m-7.1 2.4h1m8.1 -2.4h1m-8.4 4h1m-1.7 -1.5h1m1.8 2.6h1m0.3 -5.4h1m-3.4 4.4h1m1.4 -3.7h1m-3 4h1m-3.6 -1.7h1m4.9 1.5h1m-1.7 -3.8h1m-5.1 3.3h1m-2.2 -0.7h1m2.6 -3h1m2.4 2.5h1m-2.3 1.2h1m-1.8 -2.8h1m-0.6 0.5h1m-3.8 -1.4h1m-2.8 3.1h1m-2.3 -0.6h1m6.4 1.5h1m-7.4 -0.5h1m0.6 -3h1m2.4 2h1m-5.6 -0.1h1m3 1.1h1m-1.8 -3.2h1m-0.4 4.2h1m-4.8 -2h1m5.1 0.8h1m-7.5 -3.2h1m2 5h1m-1.4 -0.4h1m2.1 -2.8h1m0.3 -0.8h1m-3.1 -1.1h1m-1.6 4.9h1m-2.6 -0.5h1m-3.6 -0.3h1m0.8 -4.3h1m-2.1 4.5h1m-1.9 -3.7h1m2.6 4.1h1m1.5 -5h1m-4.6 -1.3h1m-0.5 6.6h1m-0.1 -5h1m0.6 4h1m-0.6 -1.6h1m-3 3h1m-3.1 -1.5h1m0 -4.8h1" stroke="#9a48ee" stroke-width="1" stroke-opacity="0.95" fill="none"/><path d="M127.2 529.9h1m-1.5 1.6h1m0.1 -0.1h1m-1.8 -1.1h1m0.2 -0.6h1m-4.9 -0.3h1m2.1 0.8h1m-1.9 2.1h1m-0.7 -3h1m-0.1 0.6h1m-1.9 1.3h1m0.7 -0.9h1m-5 -0.7h1m-0.3 0.6h1m0.9 -0.7h1m0.7 1.3h1m-3.5 -2.6h1m-0.2 4.2h1m0.2 -0.4h1m-3.4 -1.4h1m-0.2 -0.1h1m-3.7 2h1m1.2 -1.8h1m1.1 1.2h1m-4.7 -0.2h1m2.8 -1.2h1m-3.9 -2.6h1m-1.1 4.3h1m-0.5 -1.1h1m-1.6 -1.3h1m1 1.9h1m-0.7 -3.1h1m-3.2 2h1m0.4 2.5h1m-1 -2.8h1m-3.2 1h1m2.5 0.2h1m-2.1 0.5h1m-3.8 -2.7h1m1.7 3.6h1m-1.9 -2.8h1m-0.7 2.2h1m0.3 -1.8h1m-0.3 1.1h1m-3.7 -0.7h1m0.6 1h1m-3.4 0.5h1m2.1 -2.9h1m-4 -0.1h1m1.9 1.1h1m-0.1 0.6h1m-4.7 1h1m-0.6 -2.4h1m1.1 0.2h1m-4.6 0.6h1m1.4 2.5h1m-0.4 -2.5h1m1.1 -0.2h1m-5.2 -0.2h1m0.6 0.9h1m-1 -2.2h1m-3.3 3.2h1m0.6 0.3h1m0.3 -0.9h1m-0.8 1h1m0.7 -1.2h1m-3.7 0.5h1m-1.7 -1.3h1m1.7 0h1m-2.5 1.6h1m-1 -0.6h1m-2.6 -0.9h1m1.2 -0.7h1m-3.6 0.3h1m-0.4 0.6h1m0.5 1.7h1m-2.8 -0.7h1m1.6 -1.8h1m-0.4 -0.2h1m-4.3 3.1h1m1.7 -2.7h1" stroke="#4a80f2" stroke-width="1" stroke-opacity="0.95" fill="none"/><rect x="105.5" y="502.5" width="56" height="55" fill="none" stroke="#777" stroke-width="0.8"/><line x1="135.5" y1="502.5" x2="135.5" y2="557.5" stroke="#585858" stroke-width="0.9"/><line x1="105.5" y1="524.5" x2="161.5" y2="524.5" stroke="#585858" stroke-width="0.9"/><line x1="105.5" y1="502.5" x2="105.5" y2="557.9" stroke="#3a3a3a" stroke-width="0.9"/><line x1="105.1" y1="557.5" x2="161.5" y2="557.5" stroke="#555" stroke-width="0.9"/><line x1="106" y1="526.79" x2="106" y2="527.09" stroke="#2cb8f0" stroke-width="0.8"/><line x1="106" y1="527.09" x2="106" y2="527.78" stroke="#de34de" stroke-width="0.8"/><line x1="106" y1="531" x2="106" y2="535.48" stroke="#4a80f2" stroke-width="0.8"/><line x1="120.65" y1="556.9" x2="122.53" y2="556.9" stroke="#de34de" stroke-width="0.8"/><line x1="125.16" y1="556.9" x2="129.8" y2="556.9" stroke="#e03030" stroke-width="0.8"/><line x1="104.3" y1="504.5" x2="105.5" y2="504.5" stroke="#222" stroke-width="0.7"/><text x="103.2" y="505.8" font-size="3.7" text-anchor="end" fill="#444">10<tspan font-size="2.4" dy="-1.3">6</tspan></text><line x1="104.3" y1="512.2" x2="105.5" y2="512.2" stroke="#222" stroke-width="0.7"/><text x="103.2" y="513.5" font-size="3.7" text-anchor="end" fill="#444">10<tspan font-size="2.4" dy="-1.3">5</tspan></text><line x1="104.3" y1="519.9" x2="105.5" y2="519.9" stroke="#222" stroke-width="0.7"/><text x="103.2" y="521.2" font-size="3.7" text-anchor="end" fill="#444">10<tspan font-size="2.4" dy="-1.3">4</tspan></text><line x1="104.3" y1="527.6" x2="105.5" y2="527.6" stroke="#222" stroke-width="0.7"/><text x="103.2" y="528.9" font-size="3.7" text-anchor="end" fill="#444">10<tspan font-size="2.4" dy="-1.3">3</tspan></text><line x1="104.3" y1="535.29" x2="105.5" y2="535.29" stroke="#222" stroke-width="0.7"/><text x="103.2" y="536.59" font-size="3.7" text-anchor="end" fill="#444">10<tspan font-size="2.4" dy="-1.3">2</tspan></text><line x1="104.3" y1="542.99" x2="105.5" y2="542.99" stroke="#222" stroke-width="0.7"/><text x="103.2" y="544.29" font-size="3.7" text-anchor="end" fill="#444">10<tspan font-size="2.4" dy="-1.3">1</tspan></text><line x1="104.3" y1="550.69" x2="105.5" y2="550.69" stroke="#222" stroke-width="0.7"/><text x="103.2" y="551.99" font-size="3.7" text-anchor="end" fill="#444">10<tspan font-size="2.4" dy="-1.3">0</tspan></text><line x1="113.5" y1="557.5" x2="113.5" y2="558.7" stroke="#222" stroke-width="0.7"/><text x="112.9" y="563.6" font-size="3.7" text-anchor="middle" fill="#444">10<tspan font-size="2.4" dy="-1.3">0</tspan></text><line x1="122.74" y1="557.5" x2="122.74" y2="558.7" stroke="#222" stroke-width="0.7"/><text x="122.14" y="563.6" font-size="3.7" text-anchor="middle" fill="#444">10<tspan font-size="2.4" dy="-1.3">1</tspan></text><line x1="131.98" y1="557.5" x2="131.98" y2="558.7" stroke="#222" stroke-width="0.7"/><text x="131.38" y="563.6" font-size="3.7" text-anchor="middle" fill="#444">10<tspan font-size="2.4" dy="-1.3">2</tspan></text><line x1="141.22" y1="557.5" x2="141.22" y2="558.7" stroke="#222" stroke-width="0.7"/><text x="140.62" y="563.6" font-size="3.7" text-anchor="middle" fill="#444">10<tspan font-size="2.4" dy="-1.3">3</tspan></text><line x1="150.46" y1="557.5" x2="150.46" y2="558.7" stroke="#222" stroke-width="0.7"/><text x="149.86" y="563.6" font-size="3.7" text-anchor="middle" fill="#444">10<tspan font-size="2.4" dy="-1.3">4</tspan></text><line x1="159.7" y1="557.5" x2="159.7" y2="558.7" stroke="#222" stroke-width="0.7"/><text x="159.1" y="563.6" font-size="3.7" text-anchor="middle" fill="#444">10<tspan font-size="2.4" dy="-1.3">5</tspan></text><text x="108.8" y="507.8" font-size="4.4" textLength="8.4" lengthAdjust="spacingAndGlyphs" fill="#1a1a1a" stroke="#1a1a1a" stroke-width="0.06">8.1%</text><text x="159.5" y="507.8" font-size="4.4" text-anchor="end" textLength="8.4" lengthAdjust="spacingAndGlyphs" fill="#1a1a1a" stroke="#1a1a1a" stroke-width="0.06">3.1%</text><text x="108.8" y="555.2" font-size="4.4" textLength="10.65" lengthAdjust="spacingAndGlyphs" fill="#1a1a1a" stroke="#1a1a1a" stroke-width="0.06">76.5%</text><text x="159.5" y="555.2" font-size="4.4" text-anchor="end" textLength="10.65" lengthAdjust="spacingAndGlyphs" fill="#1a1a1a" stroke="#1a1a1a" stroke-width="0.06">12.3%</text><text x="134" y="573.6" font-size="8.8" text-anchor="middle" textLength="16.2" lengthAdjust="spacingAndGlyphs" fill="#111" stroke="#111" stroke-width="0.1">2DL3</text><path d="M192.4 535.6h0.8m-0.6 -7.4h0.8m7.3 0.4h0.8m-0.6 -6.8h0.8m-8.1 13.1h0.8m-1.2 -1.9h0.8m0.4 -10.6h0.8m3.9 2.8h0.8m-2.7 10.5h0.8m-6.3 2.1h0.8m-3.3 -8.2h0.8m1.8 5.2h0.8m6.4 -2.5h0.8m-7.4 -5.1h0.8m-0.6 0.2h0.8m6.7 0.1h0.8m-8.8 1h0.8m-5.3 8.8h0.8m15.1 -14.7h0.8m-16.5 14.2h0.8m7.8 -3.1h0.8m5.1 -10.7h0.8m-11.1 1.4h0.8m7.4 0.4h0.8m-14.6 5.4h0.8m7.3 2.5h0.8m-6.4 -1.9h0.8m9.9 0.5h0.8m-3.5 1.5h0.8m-1.7 1.8h0.8m-3.6 -2h0.8m4.9 0.9h0.8m-8.1 -8.4h0.8m9.7 5.5h0.8m0.8 -0.1h0.8m-11.7 -3.1h0.8m0.6 -5.1h0.8m6.8 11.3h0.8m-8.8 -7.8h0.8m-5.6 2.8h0.8m18.7 -2.2h0.8m-20.7 4.8h0.8m4.9 1.8h0.8m13.5 -9.4h0.8m0.3 5h0.8m-17.3 -2.8h0.8m8.4 2.9h0.8m-9.8 7.2h0.8m7.9 -4.3h0.8m-7.3 -6.2h0.8m-6.2 8.3h0.8m9.9 -7.2h0.8m-13.3 11.4h0.8m14 -13h0.8m2 6.7h0.8m-10.4 -7.2h0.8m-2.5 1.9h0.8m0.2 -2.9h0.8m-8.5 5.8h0.8m3.1 -2.4h0.8m-7.2 7.7h0.8m3.5 -0.5h0.8m1.9 -3.5h0.8m3.1 4.5h0.8m2.3 -8.9h0.8m-7.6 9.5h0.8m-2.7 -8.2h0.8m6.7 9.6h0.8m-1.6 -11.9h0.8m4.7 -5h0.8m-10.6 11.5h0.8m-3.9 -4.2h0.8m11.9 -5.1h0.8m3 7.5h0.8m-13 -3.6h0.8m7.2 4.6h0.8m-15.9 -0.5h0.8m13.6 -5.7h0.8m-3.5 -3.1h0.8m-0.9 1.5h0.8m-5.3 5.6h0.8m-3.1 7h0.8m5.7 -3.1h0.8m-0.6 -7.8h0.8m-10.8 10.5h0.8m13.4 -10.5h0.8m-9.7 1.6h0.8m-8.9 -1h0.8m9.2 0.5h0.8m6.9 3.8h0.8m-13.1 3.7h0.8m7.9 -11.7h0.8m-4.7 18.6h0.8m4.9 -9.3h0.8m-6 -7.5h0.8m5.9 7.2h0.8m-13.4 0h0.8m15.4 -4.8h0.8m-7.6 4.4h0.8m-16.2 3.3h0.8m5 -4.8h0.8m12.6 -1.4h0.8m-1.1 -5.7h0.8m-10.7 14.1h0.8m4 -0.1h0.8m-1.9 -1h0.8m-2.2 -12.1h0.8m-8.2 6.3h0.8m13.8 -2.8h0.8m-11.4 9.1h0.8m7.7 -9.7h0.8m-15.2 6.1h0.8m-0.9 -4.3h0.8m10.1 -1.4h0.8m4 6.3h0.8m-10.8 -4.7h0.8m-4.6 5.5h0.8m14.4 -1.2h0.8m-0.5 -2.6h0.8m-7.6 -7.8h0.8m-1.8 4.3h0.8m5.4 -1.9h0.8m-3.6 10.4h0.8m-14.9 -8.5h0.8m18.6 6h0.8m-9.9 0.7h0.8m-9.1 0.7h0.8m4.8 -7.1h0.8m1 -1.6h0.8m1.4 -2.7h0.8m-10.9 11.1h0.8m3.7 5.9h0.8m11.9 -17.7h0.8m-13.3 9.7h0.8m10.7 0.4h0.8m-5.8 3.8h0.8m-6.4 -10.3h0.8m11.8 4.9h0.8m1.7 -1.9h0.8m-7 0.7h0.8m7 2.7h0.8m-14.6 5.7h0.8m7.3 -5h0.8m-11.7 -6.7h0.8m6.5 -0.2h0.8m-9.5 4.5h0.8m9.9 2.4h0.8m-1.8 -7.2h0.8m-12.4 4.9h0.8m1.6 5.9h0.8m14.9 -6.9h0.8m-8.9 2.8h0.8m1.1 -7.6h0.8m-8.3 10.9h0.8m1.1 -1.9h0.8m-5.6 -1.3h0.8m12.6 -5.4h0.8m-22.1 10.5h0.8m7.7 -8.8h0.8m10.3 5.2h0.8m-12.8 -4.5h0.8m11.8 -1.9h0.8m-15.4 11.6h0.8m5.6 -2.2h0.8m7.7 -0.2h0.8m1.2 -5.9h0.8m-14.7 0.8h0.8m9.4 4.2h0.8m-9.1 0.2h0.8m-6.7 -1.1h0.8m3.4 -9.2h0.8m5.3 8.2h0.8m5.5 -5.1h0.8m-14.2 5.5h0.8m6.7 -8h0.8m1.5 -0.8h0.8m-1.8 1.8h0.8m-10.4 2.1h0.8m-2.3 3.8h0.8m-1.2 5.4h0.8m2.2 -2h0.8m12.6 -3.3h0.8m-0.7 -2.4h0.8m-5 -6h0.8m-4.8 -2.6h0.8m9.5 9.8h0.8m-19.7 -2.5h0.8m0.9 -1h0.8m14.8 1.3h0.8m-16.5 14.4h0.8m2.2 -16.9h0.8m-1.9 10.2h0.8m-2.7 -9.7h0.8m-2.5 6.9h0.8m15.2 -10.1h0.8m0.5 1.9h0.8m-9.4 -3.8h0.8m8.4 5.6h0.8m-5.8 3.2h0.8m-20.4 2h0.8m9.7 3.6h0.8m-0.5 0.9h0.8m-3.5 0.8h0.8m3.6 -11.3h0.8m-2.5 5h0.8m-3.5 1h0.8m9.4 -7.8h0.8m-8.5 7.6h0.8m-3 -2.4h0.8m7.6 6h0.8m-8.9 -9.2h0.8m0.3 10h0.8m0.1 -11.4h0.8m-4.7 2h0.8m18.6 0.1h0.8m-16.5 14.3h0.8m3 -7.4h0.8m-6.8 -3.6h0.8m-0.3 -2.9h0.8m13.7 1.5h0.8m-3.3 -3.4h0.8m2.6 1h0.8m-10.2 -3.3h0.8m3.4 3.6h0.8m-10.2 5.3h0.8m-5.7 -5.1h0.8m15.7 3.4h0.8m-5.3 -8.8h0.8m7.2 4.3h0.8m-22.5 10h0.8m4.1 -4.9h0.8m13.1 -1.2h0.8m1.6 -2.9h0.8m-16.5 4.5h0.8m-1.9 -1.5h0.8m8.6 -5.3h0.8m5.4 3h0.8m-5.6 6.5h0.8m-6.2 -1h0.8m-3 0.1h0.8m1 1h0.8m-6.3 1.6h0.8m15.9 -11.2h0.8m-3.9 8h0.8m-12.2 -12.6h0.8m0.6 10.8h0.8m-3.9 -8.3h0.8m5.6 2.4h0.8m5.3 -5.1h0.8m-8.2 14h0.8m-6 4.3h0.8m11.9 -9h0.8m5.4 0.6h0.8m-6.4 6.2h0.8m-5.1 1h0.8m-2.8 -12.6h0.8m-6.7 6.3h0.8m11.8 -3.4h0.8m-11.2 -0.3h0.8m-5.3 6.3h0.8m9.6 -0.9h0.8m-11.8 4.5h0.8m14.4 -10.7h0.8m-0.1 -2.7h0.8m-7 -0.8h0.8m5.4 0.9h0.8m-4.2 3.2h0.8m-17.4 6.8h0.8m3.6 -2.8h0.8m8 2.2h0.8m8.5 -4.7h0.8m-12.9 3h0.8m-7.6 1.7h0.8m20.2 1.3h0.8m-10.4 -2.4h0.8m-0.7 2h0.8m3.5 -9h0.8m-10.7 -2.5h0.8m8.7 10.9h0.8m-11.6 -3.9h0.8m3.7 -2.4h0.8m6.6 -1.6h0.8m2.3 3.6h0.8m-15 3.4h0.8m0.9 0.8h0.8m0.4 1.7h0.8m-3.8 -3.4h0.8m10.6 -4.6h0.8m-2.9 -4.8h0.8m-3 1.4h0.8m-13.3 8.3h0.8m10.8 6.8h0.8m11.2 -14.6h0.8m-16.1 -3.7h0.8m16.5 4.7h0.8m-13.4 12.9h0.8m-8.7 1.6h0.8m-0.6 -20.8h0.8m5.4 4h0.8m-1.7 10.7h0.8m-10.3 3.9h0.8m-4.2 -1.3h0.8m26.3 -12.5h0.8m-23.3 4.5h0.8m12.6 2.3h0.8m5.9 5h0.8m-5.5 -8.8h0.8m-22.2 4.9h0.8m4.1 5.7h0.8m14.4 -6.9h0.8m-12.7 -3h0.8m-7.2 2.3h0.8m16.5 -1.3h0.8m0.7 0h0.8m-6.7 1.9h0.8m-12.3 4.3h0.8m12.5 -6.3h0.8m-12.1 0.8h0.8m2 -9.1h0.8m4.1 2h0.8m0.9 4.8h0.8m-1.3 7.7h0.8m-3.8 -9.4h0.8m12.4 13.1h0.8m-10.5 -9.9h0.8m-5.7 8.2h0.8m6.6 -0.4h0.8m8 -2.3h0.8m-14.5 2.3h0.8m-2.3 -1.2h0.8m5.2 -8.8h0.8m-11.5 8.5h0.8m13.1 -5.6h0.8m-13.4 -0.8h0.8m8.6 3.1h0.8m-5.3 -12.8h0.8m2.5 6h0.8m5.4 -1.4h0.8m-10 7.6h0.8m-4 4.1h0.8m5.1 -3.3h0.8m15.7 -8.2h0.8m-13.5 -5.5h0.8m-7.8 27h0.8m-9.6 -13.4h0.8m11.8 5.4h0.8m-13.1 -0.6h0.8m0.1 -1.1h0.8m17.2 -11h0.8m-0.8 1.2h0.8m-5.5 -7.9h0.8m7.7 4.1h0.8m-23.1 27.2h0.8m12.5 -16.1h0.8m-10.2 -3.9h0.8m12.8 -5.2h0.8m-17 7h0.8m11.2 -3.6h0.8m6.4 6.4h0.8m-1.8 -4.9h0.8m1.4 -7.8h0.8m-17.8 -6h0.8m14.5 0.2h0.8m-3 4.4h0.8m-5.4 -4.3h0.8m0.8 0.7h0.8m-3.8 0.1h0.8m10.6 0.4h0.8m-20 1.4h0.8m7.4 3.2h0.8m2.5 -2.4h0.8m-2.7 -1.5h0.8m-2 -1h0.8m1.5 -3h0.8m-6.5 3.6h0.8m-0.8 3.6h0.8m6 2.1h0.8m-6.3 -6.8h0.8m6.8 3.1h0.8m0.4 -0.6h0.8m-1.9 -2h0.8m-9.5 -5.5h0.8m3.6 5.3h0.8m-1.1 -0.6h0.8m3.4 1h0.8m0.4 -1.1h0.8m-5.5 2.6h0.8m3.9 -2.5h0.8m-5.7 -2.1h0.8m-2.8 5.1h0.8m7 1.7h0.8m-1 -7h0.8m-16.2 3.5h0.8m18 -2.8h0.8m-3.4 4.1h0.8m-10.5 -4.4h0.8m5 -3.6h0.8m0 11h0.8m-14.6 -6.7h0.8m9.8 4.1h0.8m-2.2 1.5h0.8m-5.5 -2.1h0.8m6.9 5h0.8m-1.3 -6.3h0.8m-6.9 -1.6h0.8m12.9 3.2h0.8m-14.4 -2.5h0.8m5.6 -0.8h0.8m-5.2 -2h0.8m1 6.5h0.8m9.2 -1.4h0.8m-11.5 -0.6h0.8m-1.8 6.4h0.8m-3.2 -6.2h0.8m0.4 3.6h0.8m4.1 -8.4h0.8m-4.7 3.8h0.8m-1.7 -2.6h0.8m5.3 2.7h0.8m1.5 -3.7h0.8m-7.3 8.7h0.8m-7.5 -4.4h0.8m9 1.9h0.8m-8.7 -1.7h0.8m12.8 2.2h0.8m-5.7 -3.5h0.8m-2.2 -1.3h0.8m2.1 0.8h0.8m-2 4.1h0.8m-1.9 0.4h0.8m-8.7 -7.1h0.8m8 6.8h0.8m-4.6 -5h0.8m4.2 1.8h0.8m3.2 18.8h0.8m8.3 -13h0.8m-18.6 10.4h0.8m8.4 -1.7h0.8m-9.9 4.5h0.8m-7.6 -3.3h0.8m1.7 7.9h0.8m7.6 -11.6h0.8m1.6 -3.2h0.8m-13.6 17.2h0.8m-4.8 -4.1h0.8m0.3 -12.2h0.8m5.9 -2.3h0.8m-2.2 0.6h0.8m2.8 27.2h0.8m7.5 -12.3h0.8m-20 -3.5h0.8m26.5 3.5h0.8m-21.3 -1.1h0.8m14.1 15h0.8m-12 -14.7h0.8m4.2 -0.8h0.8m-12.6 -6.2h0.8m13.7 9.6h0.8m-9.2 -4.3h0.8m-13.3 -1.6h0.8m9.4 -23.2h0.8m-6.1 20h0.8m12.8 -5.6h0.8m-11.5 12.9h0.8m11.8 -21.8h0.8m-1.7 11.2h0.8m-2.1 -4.1h0.8m-11.1 9.1h0.8m14.3 1.2h0.8m-11.8 2.1h0.8m-1.5 -8.1h0.8m10.3 2h0.8m-14.4 -7.4h0.8m14.3 11.5h0.8m-4.2 -6.7h0.8m-2.6 14.8h0.8m-7.3 7.5h0.8m-5.1 -29.5h0.8m8.2 11.8h0.8m-15.1 -9.4h0.8m12.2 0.5h0.8m-11.6 10.8h0.8m18 2.5h0.8m-10.5 -6.1h0.8m7.5 9.1h0.8m-19.2 -6.5h0.8m8.3 -4.8h0.8m-6.6 18.2h0.8m3.5 -9.1h0.8m-9.7 -4.3h0.8m18.1 6.1h0.8m-16.7 0.7h0.8m10.8 -8.3h0.8m0 9.9h0.8m6.7 -21.4h0.8m-7.7 2.9h0.8m-21.4 11.1h0.8m7.2 -11.7h0.8m-4.8 22.9h0.8m-1.3 -12.9h0.8m1.2 8.3h0.8m15.3 -7.2h0.8m-1.4 -4.4h0.8m-4 1.9h0.8m-13.3 8.8h0.8m4.2 -9.3h0.8m9.5 -13.6h0.8m-3.9 27.2h0.8m-13.6 -14.1h0.8m10.8 0.6h0.8m-1.4 0.6h0.8m12.6 -6.3h0.8m-17.4 -13.3h0.8m4.9 15.8h0.8m6.2 6.7h0.8m-25.3 -0.3h0.8m21.8 -4.7h0.8m1.6 -2.8h0.8m-9.4 19.7h0.8m-7.6 -9.9h0.8m4.7 -3.7h0.8m-4 -11.2h0.8m4.5 6.6h0.8m7.8 4.9h0.8m-10 -9h0.8m-7.1 2.5h0.8m10.2 -1.9h0.8m-10.1 6.1h0.8m-12.2 4.6h0.8m15.9 -4h0.8m13.8 -0.8h0.8m-21.5 5.1h0.8" stroke="#6c6c6c" stroke-width="0.8" stroke-opacity="0.7" fill="none"/><path d="M196.9 518.7h1m3.4 -0.2h1m0.1 -1.5h1m-4.9 -0.5h1m0.6 1.4h1m-5.7 -1.2h1m2.6 -1.4h1m-0.9 0.5h1m-3 2h1m-0.6 0.3h1m-1 -0.7h1m1.9 -2.7h1m0.5 2.3h1m-5.2 -1.4h1m2 0.5h1m-1.2 -0.8h1m-0.9 -0.5h1" stroke="#d86ad8" stroke-width="1" stroke-opacity="0.95" fill="none"/><path d="M193.7 531.2h1m6.8 -4.2h1m-2 2.5h1m-2.7 1.6h1m-2.9 1.8h1m2.1 -2h1m-7.3 -4.4h1m8.3 1.7h1m-11.6 1.3h1m5.8 2.8h1m-1.2 0.3h1m-0.6 -5.2h1m-0.2 2.4h1m-0.1 -4.8h1m-9.7 8.2h1m6.6 -3.4h1m0 1h1m-4.4 2.1h1m-0.5 -7.8h1m2.5 2.8h1m-9 5.1h1m-3.4 -1h1m2.4 -5.1h1m-1.1 -0.1h1m1.4 -1.9h1m1.3 -1.8h1m-3.5 10.4h1m-6.5 0.7h1m6.3 0.1h1m-0.1 -8.6h1m-6 2.5h1m6.1 0h1m-10.1 6.2h1m-1.3 -1.1h1m-0.5 -4.7h1m-0.4 -2.8h1m5.6 0.6h1m-0.1 3.9h1m-9.6 1.6h1m2.2 1.7h1m-2.9 -6h1m2.7 5h1m-3.9 2.9h1m-2.2 -2.9h1m-1.7 1.9h1m-2.2 -6.5h1m9.6 2.3h1m-8.8 4.7h1m3.2 -7.8h1m5.9 -1.6h1m-9.8 8.8h1m-4.6 -3.5h1m4.9 1.2h1m0.6 -6.2h1m-1.8 1h1m-0.9 -0.7h1m-7.9 8.5h1m-1.8 -5.7h1m-1.1 0.3h1m2.1 -1.8h1m4.5 3.2h1m0.4 -4.3h1m-11.7 5.8h1m3.3 -5.5h1m4.2 -2.5h1m-3.2 0.7h1m-5.2 7.5h1m7.1 -2.2h1m-4.5 0.9h1m-4.3 -5h1m3 4.7h1m-7.5 -1.8h1m0 -1.7h1m-2.4 2.8h1m7.9 -2.5h1m-7.8 4.4h1m4.1 -1.8h1m0.1 -3.2h1m-5.7 -1.2h1m-1.6 7.1h1m-3.1 -4.1h1m4.9 2.8h1m-0.3 -1.1h1m-3.1 0.9h1m0 0.4h1m0.5 -0.8h1m0.5 -3.3h1m-6.2 5.5h1m-5.6 -1.6h1m9.7 -4.6h1m-6.4 -1.2h1m-2.4 0.8h1m-0.7 7.3h1m-1.4 -1.7h1m-3.1 -4.7h1m0.7 -1h1m-3.1 4.9h1m1.8 2.5h1m-2.8 -9.4h1m1.4 9.5h1m2.5 -7.6h1m-0.7 3.3h1m-3.4 -3.4h1m-8.1 4.3h1m0.6 0.5h1m-0.8 -1.9h1m1.5 3.9h1m0.2 -6.1h1m4.7 -1.6h1m-8.1 0.4h1m7.4 -1.7h1m-11.4 4.1h1m-2 4.2h1m8.8 -7.2h1m-10.5 6h1m-2.4 -1.8h1m5.7 -2.6h1m1.6 2h1m-1.5 -0.3h1m-1 1.9h1m-9.3 -5.3h1m3.5 6.9h1m6 -5.9h1m-7.9 0.7h1m5.8 1h1m-15.3 2.8h1m5.8 -4.1h1m3.6 2.6h1m-7.2 5.3h1m5.2 -3.6h1m2.1 -2.1h1m-8 4h1m3.3 -1.5h1m-0.5 -0.6h1" stroke="#d43ad8" stroke-width="1" stroke-opacity="0.95" fill="none"/><path d="M196.9 527.6h1m0.4 3.7h1m0.4 -3.4h1m-2.8 -0.6h1m0.1 -0.8h1m-0.2 2.5h1m-6.7 1.7h1m0.4 -3h1m3.4 1.5h1m-8.1 4.6h1m2.9 -7.1h1m-0.2 5.3h1m1.7 -5h1m-1.8 3h1m-1.6 -0.7h1m-3.5 -1.6h1m4.1 0.8h1m-2.5 0.4h1m-2.2 -2.5h1m1.6 2.6h1m-5.5 -2.3h1m-2 -0.2h1m-0.9 1.7h1m2.3 1h1m-2.2 -1.6h1m-3.5 -0.6h1m-2.5 4h1m-1.5 0.7h1m5 -4.7h1m-4.6 5h1m-2.7 -4.1h1m1.7 3.9h1m-5.1 -0.9h1m-0.1 1h1m0.1 0h1m-1.9 -1.3h1m-2 -1.8h1m2.5 -2.3h1m3 0.2h1m-7.6 3.7h1m2 1.2h1m-4.5 -1.2h1m1.8 2.3h1m1.8 -1.1h1m-4.5 0.2h1m-1.6 0.2h1m1.8 -5h1m-6.5 2.1h1m7.7 -0.4h1m-3.2 0.9h1m-1.4 -1.9h1m0.1 0.7h1m-7.4 0.1h1m6.2 -1.3h1m-5.4 4.5h1m1.1 -5.3h1m2.1 1.3h1m-2.4 1.1h1m-6.4 0.4h1m-0.7 -1.1h1m4.2 0.7h1m-3.9 -2.4h1m4 3.1h1m-8.3 1.1h1m-1.9 1.3h1m4.9 -3.9h1m-4.7 -0.1h1m-3.6 1.3h1m1 2.1h1m0.2 0.4h1m-4 -0.5h1m3.6 -3.6h1m-4.9 1.4h1m1.2 3.7h1m-1.1 -1.5h1m-0.8 0.3h1m-1.2 0.1h1m-2.8 -5.4h1m0.7 5.7h1m-3.2 -0.4h1m3.1 -4.3h1m-0.3 3.1h1m-1.3 -3.3h1" stroke="#9a48ee" stroke-width="1" stroke-opacity="0.95" fill="none"/><path d="M197.4 531.9h1m-4.1 -1.2h1m2.7 -0.6h1m-1.6 0.8h1m0.9 -2.6h1m-5 0.5h1m-0.1 2.6h1m-2.1 -1.4h1m2.9 -0.6h1m-4.4 2.3h1m0.9 -3.2h1m-3.3 -0.2h1m-2.4 3.4h1m4.4 -4.7h1m-5.2 3.1h1m1.2 -3.5h1m1.8 1.3h1m-1.3 1.7h1m-3.9 -2.1h1m1.2 1.4h1m-2.1 2.2h1m-4.3 -1.4h1m3.6 -1.9h1m-1.2 0.6h1m-2.9 2.5h1m0.8 -2.4h1m-5.2 -0.6h1m-0.7 0.9h1m-0.7 2.5h1m1.6 -4.1h1m-0.6 2.9h1m-3 2.1h1m1.3 -3.1h1m-1.2 -1.3h1m-3.6 0.1h1m1.5 0.1h1m-1.5 3.2h1m-0.7 -2.9h1m-1.1 -0.1h1m-5.2 0.3h1m3.3 2.8h1m-2.3 -0.1h1m0.4 -3h1m-2 2.5h1m-3.6 -0.1h1m3.8 -0.4h1m-2.6 -0.5h1m-1.8 -1.8h1" stroke="#4a80f2" stroke-width="1" stroke-opacity="0.95" fill="none"/><path d="M198.6 527.6h1m-3 2.2h1m-1.2 -0.7h1m-0.5 -0.3h1m-0.3 0.3h1m-2.2 -1.3h1m-1.4 0.3h1m-1 2h1m0.7 -0.1h1m-2.5 -1.1h1m-0.1 0.6h1m-2.1 -0.8h1m-1.4 0.6h1m-0.7 0.8h1m-1.5 0.6h1m0.6 -0.9h1m-1.2 0.5h1m0.5 -1.3h1m-3.4 0.7h1m-0.4 -0.7h1m1 0h1m-3 0h1m-1.2 1.5h1m0.4 -1.2h1m-3.6 0.3h1m-0.1 -1.1h1m-1.7 1.3h1m0.1 0.2h1m-0.2 0.1h1m-0.7 -0.7h1m-2.4 -0.1h1m0.4 0.2h1m-3.1 -0.2h1m-0.2 -0.3h1m0 1.4h1m-0.8 -2.1h1m-2.9 2.1h1m0.3 -1.4h1m-0.6 -1.1h1m-1.7 2.3h1m0.2 -0.3h1m-0.9 0.3h1m-1.3 -1h1m-1.7 1.2h1" stroke="#2cb8f0" stroke-width="1" stroke-opacity="0.95" fill="none"/><rect x="177.5" y="502.5" width="56" height="55" fill="none" stroke="#777" stroke-width="0.8"/><line x1="208.5" y1="502.5" x2="208.5" y2="557.5" stroke="#585858" stroke-width="0.9"/><line x1="177.5" y1="524.5" x2="233.5" y2="524.5" stroke="#585858" stroke-width="0.9"/><line x1="177.5" y1="502.5" x2="177.5" y2="557.9" stroke="#3a3a3a" stroke-width="0.9"/><line x1="177.1" y1="557.5" x2="233.5" y2="557.5" stroke="#555" stroke-width="0.9"/><line x1="178" y1="524.98" x2="178" y2="528.75" stroke="#e03030" stroke-width="0.8"/><line x1="178" y1="529.76" x2="178" y2="533.82" stroke="#3ee07a" stroke-width="0.8"/><line x1="190.2" y1="556.9" x2="192.38" y2="556.9" stroke="#de34de" stroke-width="0.8"/><line x1="176.3" y1="504.5" x2="177.5" y2="504.5" stroke="#222" stroke-width="0.7"/><text x="175.2" y="505.8" font-size="3.7" text-anchor="end" fill="#444">10<tspan font-size="2.4" dy="-1.3">6</tspan></text><line x1="176.3" y1="512.2" x2="177.5" y2="512.2" stroke="#222" stroke-width="0.7"/><text x="175.2" y="513.5" font-size="3.7" text-anchor="end" fill="#444">10<tspan font-size="2.4" dy="-1.3">5</tspan></text><line x1="176.3" y1="519.9" x2="177.5" y2="519.9" stroke="#222" stroke-width="0.7"/><text x="175.2" y="521.2" font-size="3.7" text-anchor="end" fill="#444">10<tspan font-size="2.4" dy="-1.3">4</tspan></text><line x1="176.3" y1="527.6" x2="177.5" y2="527.6" stroke="#222" stroke-width="0.7"/><text x="175.2" y="528.9" font-size="3.7" text-anchor="end" fill="#444">10<tspan font-size="2.4" dy="-1.3">3</tspan></text><line x1="176.3" y1="535.29" x2="177.5" y2="535.29" stroke="#222" stroke-width="0.7"/><text x="175.2" y="536.59" font-size="3.7" text-anchor="end" fill="#444">10<tspan font-size="2.4" dy="-1.3">2</tspan></text><line x1="176.3" y1="542.99" x2="177.5" y2="542.99" stroke="#222" stroke-width="0.7"/><text x="175.2" y="544.29" font-size="3.7" text-anchor="end" fill="#444">10<tspan font-size="2.4" dy="-1.3">1</tspan></text><line x1="176.3" y1="550.69" x2="177.5" y2="550.69" stroke="#222" stroke-width="0.7"/><text x="175.2" y="551.99" font-size="3.7" text-anchor="end" fill="#444">10<tspan font-size="2.4" dy="-1.3">0</tspan></text><line x1="185.5" y1="557.5" x2="185.5" y2="558.7" stroke="#222" stroke-width="0.7"/><text x="184.9" y="563.6" font-size="3.7" text-anchor="middle" fill="#444">10<tspan font-size="2.4" dy="-1.3">0</tspan></text><line x1="194.74" y1="557.5" x2="194.74" y2="558.7" stroke="#222" stroke-width="0.7"/><text x="194.14" y="563.6" font-size="3.7" text-anchor="middle" fill="#444">10<tspan font-size="2.4" dy="-1.3">1</tspan></text><line x1="203.98" y1="557.5" x2="203.98" y2="558.7" stroke="#222" stroke-width="0.7"/><text x="203.38" y="563.6" font-size="3.7" text-anchor="middle" fill="#444">10<tspan font-size="2.4" dy="-1.3">2</tspan></text><line x1="213.22" y1="557.5" x2="213.22" y2="558.7" stroke="#222" stroke-width="0.7"/><text x="212.62" y="563.6" font-size="3.7" text-anchor="middle" fill="#444">10<tspan font-size="2.4" dy="-1.3">3</tspan></text><line x1="222.46" y1="557.5" x2="222.46" y2="558.7" stroke="#222" stroke-width="0.7"/><text x="221.86" y="563.6" font-size="3.7" text-anchor="middle" fill="#444">10<tspan font-size="2.4" dy="-1.3">4</tspan></text><line x1="231.7" y1="557.5" x2="231.7" y2="558.7" stroke="#222" stroke-width="0.7"/><text x="231.1" y="563.6" font-size="3.7" text-anchor="middle" fill="#444">10<tspan font-size="2.4" dy="-1.3">5</tspan></text><text x="180.8" y="507.8" font-size="4.4" textLength="10.65" lengthAdjust="spacingAndGlyphs" fill="#1a1a1a" stroke="#1a1a1a" stroke-width="0.06">10.0%</text><text x="231.5" y="507.8" font-size="4.4" text-anchor="end" textLength="8.4" lengthAdjust="spacingAndGlyphs" fill="#1a1a1a" stroke="#1a1a1a" stroke-width="0.06">1.2%</text><text x="180.8" y="555.2" font-size="4.4" textLength="10.65" lengthAdjust="spacingAndGlyphs" fill="#1a1a1a" stroke="#1a1a1a" stroke-width="0.06">84.8%</text><text x="231.5" y="555.2" font-size="4.4" text-anchor="end" textLength="8.4" lengthAdjust="spacingAndGlyphs" fill="#1a1a1a" stroke="#1a1a1a" stroke-width="0.06">4.1%</text><text x="206" y="573.6" font-size="8.8" text-anchor="middle" textLength="16.2" lengthAdjust="spacingAndGlyphs" fill="#111" stroke="#111" stroke-width="0.1">3DL1</text><path d="M294 526.6h0.8m-5.5 2.7h0.8m-0.1 16h0.8m1 -13.5h0.8m-4.7 10.1h0.8m5.6 -7.7h0.8m-10.1 6.7h0.8m-0.7 -5.7h0.8m7.8 -1.9h0.8m-1.4 -2.6h0.8m-6.7 -1.6h0.8m3.5 -0.8h0.8m-6.2 5.1h0.8m5.2 -5.2h0.8m-3.9 -2.6h0.8m2.6 6.9h0.8m-5.6 -2.7h0.8m-1.5 15.5h0.8m-0.7 -16.8h0.8m-0.6 4.9h0.8m4.8 -2.7h0.8m-5 -8.2h0.8m2.1 18.5h0.8m-3.8 13h0.8m-4.7 -13.6h0.8m5.1 -15.7h0.8m-3.3 16.6h0.8m5.3 -5.1h0.8m-8 0.6h0.8m6.8 0.3h0.8m-2.5 -1.6h0.8m-7.6 -1.5h0.8m2.6 -6.9h0.8m1.5 -4.3h0.8m-6 9h0.8m4.5 -2.7h0.8m-2.3 12.9h0.8m-3.8 -9.5h0.8m0.8 -6.3h0.8m-0.2 2.6h0.8m4.7 5.4h0.8m-6 -6.5h0.8m-5.7 12.8h0.8m-0.4 -11.8h0.8m0.4 1.6h0.8m2 10h0.8m2.2 -8.7h0.8m-6.4 9.6h0.8m-1.1 -4.1h0.8m-2.6 -4.3h0.8m2.8 -0.6h0.8m-2.8 7.5h0.8m0.4 8.8h0.8m2.5 -3.2h0.8m-2.7 0.5h0.8m-3.5 -2.2h0.8m-2.4 -1.6h0.8m9.7 -11.9h0.8m-9.9 6.3h0.8m3.2 7.2h0.8m6.2 -10.7h0.8m-2.8 -2h0.8m-5.8 13.8h0.8m-5.8 -8.2h0.8m5.4 15.2h0.8m-1.6 -27.3h0.8m0.5 20.7h0.8m-5.3 -15.4h0.8m4.3 10.4h0.8m-7.5 -1.4h0.8m0.7 -9h0.8m2 15.9h0.8m1.5 -15.8h0.8m-1.3 -0.1h0.8m-2.1 -5.8h0.8m3.6 13.2h0.8m-4.1 -0.2h0.8m-0.9 -10.2h0.8m-0.3 12.2h0.8m-2.3 0.4h0.8m-5.1 -2h0.8m3.7 1h0.8m-0.5 -11.8h0.8m-3.5 14.6h0.8m-3.4 0.5h0.8m4.2 0.5h0.8m-0.6 0.1h0.8m-2.8 -14h0.8m-4.7 5.8h0.8m2.6 8.5h0.8m-3.4 -5.7h0.8m-1.9 5h0.8m5.7 -10.9h0.8m1.8 -1h0.8m-2.1 5.5h0.8m-1.4 -6.2h0.8m-4.2 23h0.8m3.9 -13.5h0.8m-7.2 2.8h0.8m0.1 1.4h0.8m1.9 -2h0.8m0 0.9h0.8m-4.8 4.9h0.8m-1.5 8.2h0.8m3 -32.4h0.8m-10.2 15.8h0.8m6.5 7.3h0.8m3.4 -11.6h0.8m-7.5 7.6h0.8m1.2 4.1h0.8m-1.1 1.4h0.8m4.9 -11.4h0.8m-6.7 12.3h0.8m-0.4 -17.2h0.8m4.6 7.9h0.8m-5.6 -7.8h0.8m-1.5 13.2h0.8m5.5 -10.2h0.8m-5.8 -8.1h0.8m-1.6 3.6h0.8m5.2 -1.3h0.8m-7.3 4.7h0.8m4.7 11.6h0.8m-5.7 -15.8h0.8m3.5 8.4h0.8m-2 9.4h0.8m2.6 -12.3h0.8m-6.5 9.1h0.8m-1.5 -17.6h0.8m-1.8 12.1h0.8m4 -5.1h0.8m0.4 3.5h0.8m-9.2 -0.4h0.8m0.8 -5.9h0.8m4.7 2h0.8m-5.8 13.2h0.8m4.5 -7.3h0.8m2.9 -7h0.8m-6.4 -0.1h0.8m-1.7 -2.3h0.8m1 2.3h0.8m2.8 5.3h0.8m-9.3 9h0.8m1.7 -1.6h0.8m-2.6 -1.2h0.8m6.2 -13h0.8m-8.3 -5.6h0.8m6.1 17.2h0.8m-0.5 -9.6h0.8m-3.4 7.2h0.8m0.9 -16.1h0.8m-0.6 24.4h0.8m-12.5 -8.5h0.8m6.5 -6.7h0.8m-5.1 -3.9h0.8m11 -4.3h0.8m-8.6 8.9h0.8m-2.5 -1.4h0.8m-0.9 4.2h0.8m2.1 -10.5h0.8m0.3 0.2h0.8m1.3 15.7h0.8m-4.9 1.4h0.8m3.6 -13.4h0.8m-6 21.4h0.8m5.7 -24.7h0.8m-4.6 3.8h0.8m-4.8 11.8h0.8m3.3 -17.5h0.8m2.5 -0.6h0.8m-8.4 16.9h0.8m-1.9 -1.6h0.8m7.2 -8.8h0.8m0.8 6.3h0.8m-9.7 -2.1h0.8m6.9 -3.9h0.8m-4.1 12.3h0.8m1.5 -7.7h0.8m-8 0h0.8m2.1 10.6h0.8m0.1 -2.6h0.8m1.9 -0.8h0.8m-1.8 -12.2h0.8m0.3 -1.1h0.8m-5.4 16.8h0.8m-1.1 -6.5h0.8m1 6.7h0.8m-4.6 -13.3h0.8m1.1 -1.2h0.8m2 14.4h0.8m0.1 -18.9h0.8m2.6 4.4h0.8m-5 -2.7h0.8m1 13.9h0.8m-7.3 -3.2h0.8m3.7 -12.8h0.8m-0.3 3.7h0.8m-0.8 11.3h0.8m-3.7 8.5h0.8m1.4 -19.6h0.8m-2.6 -5.4h0.8m5.4 4.4h0.8m-9 7.7h0.8m3.8 -8.7h0.8m0.8 1.2h0.8m-0.2 6.9h0.8m-2.9 11.8h0.8m-1 -3.7h0.8m3.8 -14.5h0.8m-5.1 12.4h0.8m-2.3 -11.1h0.8m-0.7 10.9h0.8m-4.9 -2.3h0.8m8.1 0h0.8m-10.8 -1.3h0.8m3.2 -9.7h0.8m-1 2.3h0.8m-2.4 1.1h0.8m-1.3 13.5h0.8m0.8 -18.8h0.8m0.6 0.4h0.8m0.8 2.7h0.8m2.3 4.6h0.8m1.6 -4.1h0.8m-6.4 -4.4h0.8m-4.5 16.9h0.8m4 -0.8h0.8m-1.8 -10h0.8m0.8 -3.6h0.8m-7.4 8h0.8m-0.9 -1h0.8m1.9 1.8h0.8m-1.1 -6.2h0.8m1.5 17.8h0.8m0.4 -10.7h0.8m-0.7 5h0.8m-1.9 0.6h0.8m0.3 -2.5h0.8m-5 -6h0.8m4.9 -6.2h0.8m-3.1 -0.8h0.8m3.5 0.7h0.8m-3.3 -1.1h0.8m-3.6 -4.3h0.8m-0.9 8.1h0.8m1.1 14h0.8m-1 -16.7h0.8m-0.3 13.5h0.8m0.4 -1.3h0.8m-3.2 -15.3h0.8m-2.4 21.7h0.8m2.7 -7.9h0.8m-3.8 2.2h0.8m2.9 -7.7h0.8m0.1 -3.1h0.8m-2.8 1.5h0.8m1 -5.3h0.8m-7.2 15.8h0.8m7.3 -12.2h0.8m-2.4 6.1h0.8m-2.1 -6.4h0.8m2.4 3.2h0.8m-10.6 -0.4h0.8m6 -2.6h0.8m-9.2 4.4h0.8m1.4 -7h0.8m-0.3 11.3h0.8m3.8 5.4h0.8m2.4 -5.9h0.8m-1.4 -11.6h0.8m-8.7 16.9h0.8m0.9 -0.1h0.8m-0.4 0.5h0.8m-0.7 -3.2h0.8m2.2 0.5h0.8m1.3 -1.3h0.8m-1.8 -12.7h0.8m-10 15.1h0.8m1.9 -4.2h0.8m-0.4 -2.7h0.8m2.1 -10.5h0.8m-1.8 8.5h0.8m8.4 -11.5h0.8m-18.3 30h0.8m10.5 -11.4h0.8m-1.2 -1.8h0.8m-6 0.8h0.8m6.4 -15.8h0.8m-1.4 12.8h0.8m2.3 -5.9h0.8m-5.3 6.2h0.8m-6.4 6h0.8m11.2 -10.1h0.8m-6.4 -5.7h0.8m0.4 10h0.8m-3 -0.6h0.8m-0.9 1.1h0.8m-0.3 -1.2h0.8m-9.4 9.6h0.8m10.2 -7.7h0.8m-0.6 1.6h0.8m-0.8 -8.9h0.8m-3.2 -2.1h0.8m-11.6 8.6h0.8m5.5 -4.1h0.8m4.6 -14.9h0.8m-6.8 20.8h0.8m4.8 -5.1h0.8m-0.5 6.4h0.8m-4.6 -1.9h0.8m-5.3 -4.5h0.8m-0.4 -9.9h0.8m1.6 9.5h0.8m6.5 -2.1h0.8m0.7 5.4h0.8m-7.1 3.4h0.8m2.4 -2.8h0.8m2.5 -11.8h0.8m-0.7 -4.1h0.8m-10.3 17.2h0.8m-2.2 -21.2h0.8m2.2 22.1h0.8m-0.5 -1.4h0.8m-3.9 -13.5h0.8m7.6 4.5h0.8m0.4 0.8h0.8m-5.4 -0.5h0.8m-8 5.4h0.8m11.8 -12.8h0.8m-14.4 15.5h0.8m7.3 -8.2h0.8m3.8 0.9h0.8m-7.3 10.5h0.8m5 -2.5h0.8m-0.6 -19.5h0.8m0.3 10.9h0.8m2 -2h0.8m-6.2 17.5h0.8m-3.4 -12.6h0.8m-0.3 3h0.8m-5 3.4h0.8m5 -16.4h0.8m-4.1 -4.6h0.8m2.1 2.6h0.8m-4.7 -4.4h0.8m4.2 7.4h0.8m-3.1 -2.9h0.8m0 -3.4h0.8m0.4 7.4h0.8m0.4 2.4h0.8m-7 -9.6h0.8m2.6 1.1h0.8m-0.8 -0.4h0.8m-5.3 -2.1h0.8m1 0.4h0.8m2.2 4.4h0.8m-8.5 -10.8h0.8m10.2 16.1h0.8m-3.2 -2.5h0.8m6.7 4h0.8m-14.3 -15.2h0.8m0.2 1.3h0.8m1.4 6.4h0.8m4.8 3.4h0.8m-13.6 -15.6h0.8m4.9 8.6h0.8m1.5 -0.4h0.8m0.8 8.9h0.8m-8.3 -5.7h0.8m6.7 0.2h0.8m-9.9 -7.5h0.8m2.1 3.9h0.8m7.4 8.1h0.8m-6 -4h0.8m-5.1 -5h0.8m3 -2h0.8m-3.4 1.1h0.8m-0.7 3.6h0.8m0.2 1.1h0.8m-2.6 -7.5h0.8m-1.3 -1.8h0.8m2.1 12.2h0.8m1.6 -3.8h0.8m-2.3 -0.7h0.8m-2.1 -2.4h0.8m1.2 0.3h0.8m2.7 9.2h0.8m0.3 -0.7h0.8m-5.1 -3.5h0.8m-0.2 0.3h0.8m-4.9 -2.9h0.8m3.4 4.8h0.8m-0.2 -4.7h0.8m-7.5 -3.7h0.8m3.2 1.4h0.8m-4.4 1.6h0.8m6.5 0.8h0.8m-2.3 -2.9h0.8m-7.8 -1.4h0.8m5.8 5.8h0.8m-3 -3.9h0.8m-0.3 -1.8h0.8m-4.4 -5.2h0.8m6.1 8.9h0.8m-7.8 -6.2h0.8m5.2 7.4h0.8m-7 -2.9h0.8m7.3 3.2h0.8m-5.7 -5.3h0.8m5.2 8.7h0.8m-5.8 -3.1h0.8m-5.4 -9h0.8m5.6 6.8h0.8m-13.1 -12.6h0.8m6.1 9.3h0.8m7.5 4.3h0.8m-9.4 -3h0.8m5.6 5.4h0.8m-2.1 -0.8h0.8m-2.2 5.7h0.8m-4.1 -11.8h0.8m2.4 2.1h0.8m2.5 2.9h0.8m-10.1 -5.2h0.8m-2.5 0.2h0.8m0.6 -2.7h0.8m3.9 5.2h0.8m-0.1 4.5h0.8m0.2 -5.9h0.8m-1.1 2.1h0.8m1.1 4.3h0.8m-7.9 -11.6h0.8m1.6 5.3h0.8m-1 -6.2h0.8m8.7 10.6h0.8m-6.6 -1.6h0.8m3.6 4h0.8m-14.6 -13.2h0.8m2.5 2.5h0.8m4.7 1h0.8m-0.9 6.1h0.8m5.4 -1.7h0.8m-8.2 4.8h0.8m-4.3 -8.6h0.8m2.3 -0.1h0.8m2.5 11.3h0.8m-4.3 -1.5h0.8m3.8 -5.4h0.8m2.1 11h0.8m-7.9 -14.7h0.8m1 1h0.8m-7.7 -5.6h0.8m8.2 14.4h0.8m-9.1 -8.6h0.8m8.1 1.8h0.8m-6.6 -6h0.8m3.7 8.5h0.8m-1.7 -2.4h0.8m7.9 10.2h0.8m-4.4 -9.1h0.8m-7.3 2.4h0.8m1.4 1.2h0.8m2.1 -1.3h0.8m7.6 4.9h0.8m-11.6 -6.2h0.8m4.9 24.6h0.8m-5.6 -9.4h0.8m-0.6 1.8h0.8m-9 0.2h0.8m-7.5 4.4h0.8m11.6 2.7h0.8m0.2 -4.6h0.8m-3.5 -2.2h0.8m2.4 -23h0.8m-0.8 10.5h0.8m-2.5 8.3h0.8m2.9 -2.4h0.8m-4 -7h0.8m-6 13.1h0.8m6.9 0.7h0.8m-1.7 10.8h0.8m-5.9 -17.8h0.8m-6.2 10.6h0.8m9.6 -13.1h0.8m0.9 7h0.8m4.2 -15.8h0.8m-10.9 0.1h0.8m6.6 25.2h0.8m0.6 -29.5h0.8m-10.1 21.1h0.8m9.8 -5.6h0.8m3.1 0.5h0.8m-14.2 2.6h0.8m6.9 4h0.8m-9.1 1.3h0.8m4.8 -8.3h0.8m-7.2 -2.5h0.8m12.7 2.6h0.8m-4.5 -8.1h0.8m-1.1 3.2h0.8m14.3 -1.8h0.8m-22.7 8h0.8m-4.9 15.5h0.8m-1.5 -18.5h0.8m-3.4 -7.4h0.8m17.9 0.5h0.8m-12.3 3.8h0.8m-7 28.1h0.8m7.5 -21h0.8m0.9 -12.5h0.8m-2.8 19.8h0.8m7.3 -9.8h0.8m-9.3 22.2h0.8m0 -8.1h0.8m2.5 -0.5h0.8m-10 -3.1h0.8m6 -3.2h0.8m-4.1 -7.6h0.8m7.5 6.6h0.8m-3 16.1h0.8m-17.9 -5.3h0.8m17.3 -10.2h0.8m-4.3 1.6h0.8m-2.5 -2.2h0.8m-8.9 -11.8h0.8m17.4 9.5h0.8m-15 3.3h0.8m5 2.2h0.8m-7.3 -2.8h0.8m8.1 14.1h0.8m-8.9 -8.7h0.8m1.4 -13.4h0.8m6.5 -2.8h0.8m-7.1 4.1h0.8m-1.8 2.9h0.8m8.8 8.7h0.8m-18.6 13.4h0.8m14.4 -24.5h0.8m3.5 -8.7h0.8m-11.3 8.8h0.8m6.6 7.5h0.8m-13.2 4.9h0.8m5.1 -9.7h0.8m0.9 15.5h0.8m-10.1 -8.3h0.8m-6 9.1h0.8m19 -5.9h0.8m-21.6 2h0.8m16.1 -0.9h0.8m-5.2 -14.3h0.8m-0.5 -17.5h0.8m7.7 35.4h0.8m-8.5 -23.1h0.8m0 3.6h0.8m3.4 15h0.8m-4.1 8.4h0.8m-10.8 -5.1h0.8m9.9 -13.8h0.8m8.9 10h0.8m-18.6 -15h0.8m5.8 3.8h0.8" stroke="#6c6c6c" stroke-width="0.8" stroke-opacity="0.7" fill="none"/><path d="M286.5 517.1h1m1.4 1h1m-2.9 1h1m-0.5 -3.8h1m1.8 3.5h1m-2.6 -1.9h1m-2.6 -1.3h1m0.3 3.1h1m-3.8 -0.6h1m2.2 2.9h1m-5.1 -8.1h1m1.9 4.1h1m-0.5 -2.6h1m-1.6 3.8h1m0.5 -0.5h1m-1 -0.8h1m-5 -4h1m3.7 8.9h1m-4.3 -5.8h1m0.8 1.6h1m-0.4 3.2h1m-1.3 -1.8h1m-4.8 -4.6h1m2.2 1.4h1m-0.1 0.6h1m-2.7 1.7h1m-3.6 -1.9h1m4.1 2.8h1" stroke="#d86ad8" stroke-width="1" stroke-opacity="0.95" fill="none"/><path d="M289.1 530.7h1m-3.1 6.7h1m2.6 1.1h1m-2.6 -10.6h1m-3.1 13.2h1m2.8 -12.8h1m-1.7 1.2h1m0.5 1.3h1m-4.9 -0.6h1m-0.8 -1.2h1m1.3 11.2h1m0.5 -7.6h1m-0.5 2h1m-4.9 -1.4h1m-2 -3.2h1m-0.2 -1.3h1m3.7 4h1m-7.2 1.4h1m4.7 0.8h1m-2.2 -7.1h1m-1.3 1.5h1m-0.4 9.4h1m-0.6 -2.4h1m-3 3.3h1m0.7 -9.7h1m-0.7 5.8h1m-5.5 2.7h1m-0.4 1h1m4 -4.2h1m-3.2 5.4h1m0.5 -7.1h1m-3.9 -6.4h1m-1 13.9h1m0.7 -11.7h1m-5.1 5.4h1m2 5.8h1m-0.5 -9.5h1m-0.3 3h1m-5.1 5.4h1m4.4 -8.3h1m-7.1 5.7h1m0.2 -6.9h1m-0.5 2.1h1m-0.2 -2.2h1m-0.1 10.4h1m-3.4 -10.3h1m3.8 3.7h1m0.1 2.5h1m-1.5 9.3h1m-1.6 -13.2h1m-6 2.1h1m3.2 -2.8h1m-3.3 -1.6h1m1.5 7h1m-5.6 2.1h1m-0.2 -4.5h1m0.8 -6.5h1m1.1 9.6h1m-3.9 -8.3h1m-3.5 6.6h1m2 -7h1m0 11.3h1m1.4 -8h1m-7.4 1.6h1m0.3 9.1h1m-1.2 -6.8h1m-0.1 -11.8h1m1.9 5.7h1m-2.7 -0.7h1m0.6 10.9h1m-0.4 -9.2h1m-1.6 5.3h1m-3.8 5.9h1m-2 -10.8h1m3.5 9.3h1m0.4 -4.5h1m-5.9 -4.6h1m-0.4 11.9h1m-1.5 -3.5h1m2.6 -13.9h1m-2.9 2.8h1m1.2 8.4h1m-1.7 -8.8h1m-5.6 5.3h1m-1.4 2.3h1m2.9 -8.7h1m-1.3 0.5h1m-3.7 4.5h1m1.1 -4.1h1m-3.5 3.1h1m0.5 8.1h1m-2 -6.3h1m-0.7 -2.3h1m-1.9 7.5h1m-1.2 1.2h1m4.5 -8.5h1m-4.8 1.4h1m-2.7 4.6h1m4.5 -5.6h1m-4.2 -0.6h1" stroke="#d43ad8" stroke-width="1" stroke-opacity="0.95" fill="none"/><path d="M289.4 532.2h1m-1.5 0.8h1m0.4 3.9h1m-2.7 -6h1m-1.9 4.9h1m-0.8 1h1m-0.4 1.6h1m0.9 -8h1m-1.2 7.3h1m-1.8 -7.6h1m0.1 7h1m-0.5 -1.9h1m-1.7 2.5h1m-3.1 -0.8h1m0.9 -4.5h1m-0.5 2.7h1m-3.8 -0.8h1m0.8 4h1m0.4 -3.8h1m-2.4 3.7h1m-0.7 -6.9h1m-3.5 5.6h1m1.6 -4.6h1m-2.8 6.8h1m-1.6 -5.2h1m-0.2 6h1m0.7 -0.4h1m-3.2 -2.8h1m-1.2 -0.4h1m-0.4 2.4h1m0.2 -6.5h1m0.5 -0.5h1m-2 -0.4h1m0.4 1.4h1m-1.8 -1.3h1m-2 7.7h1m0.5 -5.4h1m-3.3 5.4h1m-2.1 -2.4h1m-0.1 -4.5h1m1.5 1.7h1m-4.4 -1.1h1m2.5 0.7h1m-0.8 -0.1h1m-1.9 -1.3h1m-0.6 -1.5h1m-4.2 5.2h1m1.8 -4h1m-2.3 -0.3h1m0.1 6.3h1m-2.9 0.7h1m-2 -2.5h1m-0.7 -2.4h1m-1.4 6.4h1m2.4 -7.6h1m-0.7 -0.1h1m-2 -0.3h1m-1.9 0h1m-0.8 8.1h1m-2.9 -5.9h1m2 3.6h1m-3.3 1.1h1m-1.5 -5h1m3.1 0.3h1" stroke="#9a48ee" stroke-width="1" stroke-opacity="0.95" fill="none"/><path d="M290.9 535.1h1m-3.1 -2.2h1m-1.3 4.7h1m-0.4 -4.8h1m-1.7 -0.2h1m-0.9 0.2h1m1 0.9h1m-0.9 -2.6h1m-0.9 0.7h1m-3 2.7h1m1.2 1.2h1m-2.1 -3.8h1m-2.3 4.5h1m1.2 -0.8h1m-1.9 -3.6h1m-0.2 1.9h1m-1.7 2.8h1m-1.6 2.1h1m-1.3 -1.2h1m0 -0.7h1m-2.6 1.3h1m0.6 -6.1h1m-0.7 3.5h1m-1.3 -2.7h1m-0.4 0.9h1m-2.6 5.1h1m-0.9 -1.7h1m0.9 -3.2h1m-2.4 -2.6h1m0.1 3.7h1m-2.2 2.6h1m0.1 -2.1h1m-1.4 -5.3h1m-2.7 7.5h1m1 -3.4h1" stroke="#4a80f2" stroke-width="1" stroke-opacity="0.95" fill="none"/><path d="M288.7 534.5h1m0 0.9h1m-0.8 0.9h1m-1.7 0.6h1m-2.1 -2.3h1m-0.3 0.2h1m-0.6 -1.2h1m-1.7 0.7h1m-0.3 0.7h1m-0.1 0.3h1m-1 2.3h1m-1.5 -3.7h1m-1.8 1.3h1m-1.2 1.2h1m-0.2 -0.1h1m-0.5 -1h1m-2 -0.8h1m-1.4 1.2h1m-0.4 -0.7h1m-0.7 0.4h1m-1.6 -0.3h1m-0.2 -2.1h1m-1.6 1.4h1m-0.5 -0.4h1m-0.8 0.7h1m-1.4 -2.3h1m-1 1h1m-1.1 -1.4h1m-0.6 3.1h1m-1.7 0.5h1m-0.5 0.3h1m-1.4 2.3h1m-0.9 -2.7h1m-0.5 -1.5h1m-0.9 0.1h1m-1 0.7h1m-0.9 -1.2h1m-1.3 0h1m-1.2 2h1m-1.7 0.9h1m0.2 -0.9h1m-0.5 -0.8h1" stroke="#2cb8f0" stroke-width="1" stroke-opacity="0.95" fill="none"/><rect x="271.5" y="498.5" width="56" height="58" fill="none" stroke="#777" stroke-width="0.8"/><line x1="294.5" y1="498.5" x2="294.5" y2="556.5" stroke="#585858" stroke-width="0.9"/><line x1="271.5" y1="526.5" x2="327.5" y2="526.5" stroke="#585858" stroke-width="0.9"/><line x1="271.5" y1="498.5" x2="271.5" y2="556.9" stroke="#3a3a3a" stroke-width="0.9"/><line x1="271.1" y1="556.5" x2="327.5" y2="556.5" stroke="#555" stroke-width="0.9"/><line x1="272" y1="527.72" x2="272" y2="528.61" stroke="#de34de" stroke-width="0.8"/><line x1="272" y1="531.55" x2="272" y2="532.4" stroke="#3ee07a" stroke-width="0.8"/><line x1="272" y1="535.52" x2="272" y2="542.28" stroke="#de34de" stroke-width="0.8"/><line x1="287.87" y1="555.9" x2="288.65" y2="555.9" stroke="#de34de" stroke-width="0.8"/><line x1="288.65" y1="555.9" x2="289.48" y2="555.9" stroke="#e03030" stroke-width="0.8"/><line x1="289.48" y1="555.9" x2="291.89" y2="555.9" stroke="#4a80f2" stroke-width="0.8"/><line x1="291.89" y1="555.9" x2="292.52" y2="555.9" stroke="#e03030" stroke-width="0.8"/><line x1="270.3" y1="500.4" x2="271.5" y2="500.4" stroke="#222" stroke-width="0.7"/><text x="269.2" y="501.7" font-size="3.7" text-anchor="end" fill="#444">10<tspan font-size="2.4" dy="-1.3">5</tspan></text><line x1="270.3" y1="510.2" x2="271.5" y2="510.2" stroke="#222" stroke-width="0.7"/><text x="269.2" y="511.5" font-size="3.7" text-anchor="end" fill="#444">10<tspan font-size="2.4" dy="-1.3">4</tspan></text><line x1="270.3" y1="520" x2="271.5" y2="520" stroke="#222" stroke-width="0.7"/><text x="269.2" y="521.3" font-size="3.7" text-anchor="end" fill="#444">10<tspan font-size="2.4" dy="-1.3">3</tspan></text><line x1="270.3" y1="529.8" x2="271.5" y2="529.8" stroke="#222" stroke-width="0.7"/><text x="269.2" y="531.1" font-size="3.7" text-anchor="end" fill="#444">10<tspan font-size="2.4" dy="-1.3">2</tspan></text><line x1="270.3" y1="539.6" x2="271.5" y2="539.6" stroke="#222" stroke-width="0.7"/><text x="269.2" y="540.9" font-size="3.7" text-anchor="end" fill="#444">10<tspan font-size="2.4" dy="-1.3">1</tspan></text><line x1="270.3" y1="549.4" x2="271.5" y2="549.4" stroke="#222" stroke-width="0.7"/><text x="269.2" y="550.7" font-size="3.7" text-anchor="end" fill="#444">10<tspan font-size="2.4" dy="-1.3">0</tspan></text><line x1="279.5" y1="556.5" x2="279.5" y2="557.7" stroke="#222" stroke-width="0.7"/><text x="278.9" y="562.6" font-size="3.7" text-anchor="middle" fill="#444">10<tspan font-size="2.4" dy="-1.3">0</tspan></text><line x1="288.74" y1="556.5" x2="288.74" y2="557.7" stroke="#222" stroke-width="0.7"/><text x="288.14" y="562.6" font-size="3.7" text-anchor="middle" fill="#444">10<tspan font-size="2.4" dy="-1.3">1</tspan></text><line x1="297.98" y1="556.5" x2="297.98" y2="557.7" stroke="#222" stroke-width="0.7"/><text x="297.38" y="562.6" font-size="3.7" text-anchor="middle" fill="#444">10<tspan font-size="2.4" dy="-1.3">2</tspan></text><line x1="307.22" y1="556.5" x2="307.22" y2="557.7" stroke="#222" stroke-width="0.7"/><text x="306.62" y="562.6" font-size="3.7" text-anchor="middle" fill="#444">10<tspan font-size="2.4" dy="-1.3">3</tspan></text><line x1="316.46" y1="556.5" x2="316.46" y2="557.7" stroke="#222" stroke-width="0.7"/><text x="315.86" y="562.6" font-size="3.7" text-anchor="middle" fill="#444">10<tspan font-size="2.4" dy="-1.3">4</tspan></text><line x1="325.7" y1="556.5" x2="325.7" y2="557.7" stroke="#222" stroke-width="0.7"/><text x="325.1" y="562.6" font-size="3.7" text-anchor="middle" fill="#444">10<tspan font-size="2.4" dy="-1.3">5</tspan></text><text x="274.8" y="503.8" font-size="4.4" textLength="10.65" lengthAdjust="spacingAndGlyphs" fill="#1a1a1a" stroke="#1a1a1a" stroke-width="0.06">12.5%</text><text x="325.5" y="503.8" font-size="4.4" text-anchor="end" textLength="8.4" lengthAdjust="spacingAndGlyphs" fill="#1a1a1a" stroke="#1a1a1a" stroke-width="0.06">3.3%</text><text x="274.8" y="554.2" font-size="4.4" textLength="10.65" lengthAdjust="spacingAndGlyphs" fill="#1a1a1a" stroke="#1a1a1a" stroke-width="0.06">83.2%</text><text x="325.5" y="554.2" font-size="4.4" text-anchor="end" textLength="8.4" lengthAdjust="spacingAndGlyphs" fill="#1a1a1a" stroke="#1a1a1a" stroke-width="0.06">0.9%</text><text x="300" y="573.6" font-size="8.8" text-anchor="middle" textLength="16.2" lengthAdjust="spacingAndGlyphs" fill="#111" stroke="#111" stroke-width="0.1">2DL1</text><text x="258.1" y="527" font-size="8.8" text-anchor="middle" textLength="16.2" lengthAdjust="spacingAndGlyphs" transform="rotate(-90 258.1 527)" fill="#111" stroke="#111" stroke-width="0.1">2DL3</text><path d="M368 544.8h0.8m-3.5 0.6h0.8m2.6 -8.7h0.8m6.3 -6.6h0.8m-6 7.2h0.8m6.4 2.7h0.8m-3.4 -8.9h0.8m-5.5 12.4h0.8m5 -12.2h0.8m-8.4 6.5h0.8m-1.2 1.6h0.8m2.9 2.8h0.8m-3.2 1.9h0.8m-0.2 2.3h0.8m3.6 -6.1h0.8m-3.6 -6.7h0.8m4.5 -0.7h0.8m-3.8 11.3h0.8m-0.8 -3.1h0.8m-7.9 7.7h0.8m0.9 -8.2h0.8m0 -7.2h0.8m3.1 -3h0.8m-0.9 10.7h0.8m0.3 -8.2h0.8m2.1 -5.2h0.8m-4.4 3.4h0.8m1.2 9.7h0.8m-8.6 -1.9h0.8m-0.5 6.9h0.8m0.4 -7.3h0.8m5.5 -6.6h0.8m2.3 3.3h0.8m-6 -7.9h0.8m2.7 7.5h0.8m-1.5 -6.3h0.8m-3.7 1.4h0.8m0 1h0.8m0.1 5h0.8m0.6 -4.6h0.8m-2.6 5.6h0.8m-4.6 -2.3h0.8m-3.4 2.5h0.8m2.7 -3.5h0.8m0.6 8.7h0.8m-0.9 5.2h0.8m-0.9 -3.8h0.8m2.7 -4.1h0.8m-2.9 2.5h0.8m-4.3 -7.6h0.8m-2 11.9h0.8m-6.7 2.8h0.8m0.9 -12.7h0.8m6.7 -6.8h0.8m0.1 1h0.8m-1.1 10.7h0.8m-2 -9.7h0.8m-2.6 0.7h0.8m-3 10.4h0.8m1.7 -10.9h0.8m-2.8 15.8h0.8m5.8 -7.8h0.8m-3.7 -14h0.8m-4.3 19.9h0.8m-1.3 -7.5h0.8m6.5 -10.9h0.8m-9.7 17h0.8m-3.4 -3.6h0.8m8.2 3.4h0.8m-6.1 0.4h0.8m8.4 -15.9h0.8m-6.5 17.2h0.8m-3.7 0.2h0.8m-2.4 4.1h0.8m10.1 -18.5h0.8m-3.3 -1.1h0.8m-10 12.4h0.8m3.5 -10.7h0.8m-3.5 5.3h0.8m2.4 -8.1h0.8m-2.8 23.5h0.8m-4.3 -8.6h0.8m1.5 -0.6h0.8m7 -5.9h0.8m0.8 -5.2h0.8m-10.8 9.7h0.8m7.2 -10.3h0.8m0 1.6h0.8m-0.5 2.6h0.8m-1.3 2.6h0.8m-7.9 -2.4h0.8m1.5 7.5h0.8m-0.8 -16.6h0.8m2.1 4.6h0.8m-2.1 17.1h0.8m-2.2 -18h0.8m4.3 6.3h0.8m-9.5 7.4h0.8m7.7 -13.8h0.8m-2.9 5.6h0.8m3.5 -3.9h0.8m-2.6 1h0.8m-2 -2.2h0.8m-6.9 16.1h0.8m2.2 -0.4h0.8m4 -20.2h0.8m-9 14.7h0.8m3.4 -12.6h0.8m-3.4 17.9h0.8m-2.6 -4.5h0.8m3.8 -12.4h0.8m0.4 0.1h0.8m-2.8 10.4h0.8m-1.5 1.8h0.8m1.4 3.1h0.8m0 -7.1h0.8m0.4 -0.2h0.8m-6.2 -6.1h0.8m-4.2 4.2h0.8m-0.2 10.2h0.8m1.5 0.5h0.8m-4.4 -0.1h0.8m2.5 -0.4h0.8m-4.6 -0.7h0.8m1.5 4.2h0.8m8.1 -14.4h0.8m-12.6 12.2h0.8m9.9 -19.2h0.8m0.6 1.3h0.8m-3.1 9.9h0.8m-6.4 6.7h0.8m0 -2.3h0.8m7 -16h0.8m-5.6 3.1h0.8m-4.2 1.7h0.8m-1.7 -2.4h0.8m-1.9 10h0.8m0.3 2.3h0.8m2.2 -10.7h0.8m-1.4 11.8h0.8m0.9 -3h0.8m4 -12h0.8m-8.9 17.1h0.8m-1.2 -14.5h0.8m5 -1.1h0.8m-8.2 14.8h0.8m5.9 -6h0.8m-2.2 -5.5h0.8m-0.6 -2.3h0.8m-3.9 15.3h0.8m0.5 -14.3h0.8m3.1 9.1h0.8m0.5 -10.3h0.8m-2.1 2.5h0.8m-2.3 -2.1h0.8m-1.4 10.9h0.8m1.8 -14.9h0.8m-1.4 13.7h0.8m1.6 -11.1h0.8m-1.5 -1.7h0.8m-3.5 -0.6h0.8m-6.1 9.5h0.8m6.7 -9.9h0.8m-7.2 18.2h0.8m0.2 -10h0.8m-0.2 -7.5h0.8m-4.9 19.9h0.8m5.9 -22.7h0.8m-4.8 20.6h0.8m-2.2 -2.2h0.8m5.5 -6.8h0.8m0.2 4.1h0.8m0.8 -16h0.8m-3.7 5.8h0.8m-1.9 -0.3h0.8m0.4 10h0.8m-11.8 10.9h0.8m7.2 -5.7h0.8m4.1 -19h0.8m-0.8 -1.5h0.8m-9.4 24.4h0.8m7 -23.2h0.8m-1.1 7.1h0.8m-8.2 4.2h0.8m6.9 -7.1h0.8m-5.7 1.2h0.8m6.2 3.4h0.8m-9.9 11.4h0.8m1.8 -14.8h0.8m1.7 8.8h0.8m0.4 -11.3h0.8m-0.5 8.8h0.8m1.3 -11h0.8m-10.8 19.9h0.8m3.3 -12.4h0.8m-4.9 6.7h0.8m7.6 -12.3h0.8m0.5 1.1h0.8m-7.3 5.6h0.8m-3.2 8.8h0.8m3.9 -13.3h0.8m-5.8 4.9h0.8m-0.6 8.7h0.8m8.5 -19.2h0.8m-13.1 19h0.8m11.4 -11.1h0.8m-8.8 14.9h0.8m-3.2 -3.5h0.8m-2.7 1.3h0.8m2.5 1h0.8m-0.9 -3.2h0.8m2.4 -2.6h0.8m0.6 2.6h0.8m-2.8 -9.6h0.8m2 -4.7h0.8m-9.1 6.2h0.8m10.4 -0.5h0.8m0.6 -6.9h0.8m-0.7 2.6h0.8m-5.3 3.7h0.8m2.3 -5.2h0.8m-8.1 6.1h0.8m-0.8 0.6h0.8m3.8 -7.8h0.8m-9.2 9.7h0.8m8.6 -11.5h0.8m-1.9 2.9h0.8m-9.7 18.5h0.8m3.3 -2.7h0.8m-2.3 -5.9h0.8m2.2 2.7h0.8m2.8 -7.9h0.8m-2.1 -6.2h0.8m-4.4 15.2h0.8m-0.8 3.2h0.8m4 -7.6h0.8m-7.2 1.2h0.8m0.4 5.3h0.8m-1.7 -3.7h0.8m0.8 0.4h0.8m4.6 -8h0.8m0 -0.7h0.8m-8.5 11.5h0.8m7.1 -7h0.8m-7.1 2.8h0.8m1.2 -9.8h0.8m-7.7 15.4h0.8m6.5 -5.7h0.8m-2.9 -3.1h0.8m-1.2 -2.9h0.8m-1.3 0.5h0.8m-1.1 6.1h0.8m-2 -0.5h0.8m0.6 -10.8h0.8m-4.4 19.8h0.8m13.9 -32.3h0.8m-0.2 5.7h0.8m-0.4 10.6h0.8m-17 16.4h0.8m-2.5 -15h0.8m6.8 5.7h0.8m-5 -5.7h0.8m0.4 3.5h0.8m3 -10.8h0.8m-7.8 15.5h0.8m15.9 -28.1h0.8m-4.4 17.9h0.8m-5.2 9.3h0.8m4.2 -20.1h0.8m-9.4 31.6h0.8m-0.7 1.7h0.8m3 -12.9h0.8m-3.8 -13.6h0.8m-2.9 20.2h0.8m-5.9 -5h0.8m8.8 -0.5h0.8m-11 1.1h0.8m7.3 -0.6h0.8m-2.3 5.5h0.8m4.1 -9.3h0.8m5.4 -9.2h0.8m-12 3h0.8m-1.1 -12.6h0.8m7.1 2h0.8m-5.2 22.2h0.8m-6.5 -2.8h0.8m5.8 -5.5h0.8m-4.4 12.6h0.8m7.3 -15.5h0.8m-15.8 7.7h0.8m15.2 -19.4h0.8m-9.2 27h0.8m3.3 -24.4h0.8m0.9 25.4h0.8m-3 -7h0.8m0 0.6h0.8m-6.3 -0.4h0.8m8.7 -18.9h0.8m-6.1 1.9h0.8m-1.1 6.3h0.8m-5.8 -0.9h0.8m0.2 -3.2h0.8m1.3 9.1h0.8m-4.8 0.7h0.8m9.1 -21.9h0.8m-7.6 33.1h0.8m3.1 -29.2h0.8m-9 -7.9h0.8m3.7 4.7h0.8m2 2.1h0.8m-7.2 -7.6h0.8m1.4 7.8h0.8m-4.8 -2.8h0.8m12 0.8h0.8m-15.3 -8.6h0.8m8.5 8.6h0.8m-5.5 3.1h0.8m2.8 -9.2h0.8m-2.4 3.1h0.8m-1.5 -2.7h0.8m5 0.7h0.8m-8.6 -5.1h0.8m0.9 8h0.8m1 -2.5h0.8m-3.4 5.9h0.8m-6.6 -0.1h0.8m4.9 -4.2h0.8m9 -3.3h0.8m-6.8 4.8h0.8m0.7 1.2h0.8m-3.6 1.8h0.8m6.1 2.1h0.8m-13 -11.9h0.8m8.8 3.7h0.8m-1.7 1.7h0.8m-0.8 3.1h0.8m-6.8 -8.3h0.8m4.5 2.5h0.8m-3.1 5.6h0.8m-0.4 -6.1h0.8m1.5 -5h0.8m-7.5 12.5h0.8m2 -1.9h0.8m-3.3 2.9h0.8m4 -3.9h0.8m3.6 -5.4h0.8m-2.6 13.7h0.8m-0.9 -2.8h0.8m2.2 -0.5h0.8m0.3 3h0.8m-9.6 -0.6h0.8m5.8 1.6h0.8m-5.1 0h0.8m-2.6 -2.3h0.8m4.3 -8.4h0.8m-3.9 14.3h0.8m-5 -8.9h0.8m7.3 0.2h0.8m-5.8 5.5h0.8m5.3 -4h0.8m-7.1 2.2h0.8m2.9 -0.8h0.8m-5.2 -2.1h0.8m4.7 -3h0.8m-5.4 4.5h0.8m8 -0.9h0.8m-2.9 8.3h0.8m-5.2 -5.9h0.8m-4.2 1.1h0.8m2 0.9h0.8m4 0h0.8m-5.1 2.4h0.8m-3.9 -5.3h0.8m-1.6 -8.2h0.8m2.8 7.1h0.8m-5.4 4.8h0.8m10.8 11.5h0.8m-14.5 -0.2h0.8m-2.7 -11.4h0.8m2.2 18.7h0.8m-2.7 -30.3h0.8m1.1 17.2h0.8m2.4 7.1h0.8m-4.5 7.4h0.8m5.5 -20.4h0.8m-1.5 -11h0.8m2.9 21.4h0.8m0.3 -11.9h0.8m-4.3 -13.5h0.8m0.6 13.4h0.8m-9.3 8.8h0.8m-1.9 -1h0.8m11.5 -0.6h0.8m-7.8 -15.8h0.8m-4.3 13.4h0.8m6.7 2.4h0.8m-4.5 15.3h0.8m10.4 -12.9h0.8m-14.3 1.9h0.8m-1.8 4.1h0.8m0.4 -5.8h0.8m9.1 -0.6h0.8m-0.7 0.7h0.8m3.8 -0.7h0.8m-4.4 -10.7h0.8m-10.8 19.6h0.8m4.6 -5.4h0.8m-0.7 -18.1h0.8m3.5 23.4h0.8m-7.7 -15.5h0.8m10.2 -4.9h0.8m-8.2 30.1h0.8m4 -19.8h0.8m-7.9 6.7h0.8m-10.1 -2.5h0.8m9.2 3.3h0.8m2.6 1.7h0.8m-18.9 -4.2h0.8m7 -8.9h0.8m15.4 12.8h0.8m-8.4 -0.5h0.8m-13.1 -6.7h0.8m-9.8 20.3h0.8m16.4 -26.1h0.8m1.2 3.4h0.8m4.3 4.8h0.8m1.7 4.6h0.8m-15.6 -7.7h0.8m1.4 1.8h0.8m-1.8 -2.2h0.8m9.3 3.5h0.8m-12.2 1.1h0.8m7.6 -7.7h0.8m-11 21.3h0.8m2.5 -16.7h0.8m5.3 3.5h0.8m1.8 -15.8h0.8m-6.5 24.2h0.8m4.2 0h0.8m-13.8 -0.3h0.8m4.5 -6.1h0.8m5.5 2.5h0.8m-3.5 -1.9h0.8m-16.7 -7.4h0.8m13 18.9h0.8m-6.2 -18.8h0.8m5.9 -9.3h0.8m-0.8 8h0.8m-1.5 -7.4h0.8m-3.3 16.6h0.8m5.4 6.2h0.8m10.2 -22.9h0.8m-11.4 -4.2h0.8m-4.5 30.2h0.8m-3.1 -19.5h0.8m2.6 -0.4h0.8m-3.2 14.8h0.8m-1.9 -5h0.8m-5.8 -11.1h0.8m9.3 4.8h0.8m-3.8 2.8h0.8m-4.2 -9.5h0.8m0 6.6h0.8m14 7.7h0.8" stroke="#6c6c6c" stroke-width="0.8" stroke-opacity="0.7" fill="none"/><path d="M373.4 523.5h1m0.1 0.4h1m0.8 -1.9h1m-4.1 0.6h1m1.3 0.6h1m0.4 1h1m-4.2 1.5h1m0 -1.1h1m-0.2 -3.6h1m-1.4 0.3h1m-0.3 5.4h1" stroke="#d86ad8" stroke-width="1" stroke-opacity="0.95" fill="none"/><path d="M368.8 543.3h1m0.1 -1.9h1m-1.5 -0.6h1m-0.6 2.7h1m2.8 -3.9h1m0.1 -8.6h1m-4.3 4.6h1m-2.7 5.8h1m2.7 -8.8h1m-4.6 3.5h1m3.7 3.6h1m-5.9 2.5h1m3.2 -9.1h1m-4.6 5.5h1m-1.6 2.7h1m0.3 -4.2h1m-1.1 -2.5h1m-1.4 3.7h1m-1.2 -1.9h1m1.3 7.4h1m-1.9 -1.8h1m-0.9 -5.8h1m2 3.8h1m-5.7 -2.5h1m0.5 5.4h1m-1.9 -2h1m-2.2 -1.6h1m-0.1 -2.9h1m1.1 -2.7h1m2.1 -2.7h1m-5.7 4.6h1m-2.8 6.5h1m4.8 -8.5h1m-2 -0.9h1m-1.8 1h1m-5.8 10.9h1m6.1 -8.1h1m-4.2 4.7h1m3.2 -7.1h1m-8.2 6.7h1m-0.1 1.8h1m0.8 0.5h1m3 -12h1m-7.1 12h1m0.9 0.2h1m-0.8 -1.7h1m-1.9 -5.3h1m1.5 -4.8h1m1.8 0.4h1m-4.8 10.9h1m-0.6 -2.4h1m1.8 -5.3h1m-3 -1.3h1m-2.4 -0.4h1m-3.3 6.7h1m-2.2 1.2h1m0.1 -3.3h1m-3.1 7.6h1m6 -9.8h1m-2.9 5.2h1m-4.4 3.6h1m2.2 -10.5h1m0.3 2.9h1m-3.2 6h1m3.2 -7.4h1m-2.4 -3.2h1m-1.7 8.1h1m-3.9 2.6h1m-1.5 -6.6h1m4.4 -2.7h1m-6.8 10.6h1m0.6 -8.6h1m-2.4 7h1m-0.9 -5.9h1m3.8 -0.6h1m-1 -4.3h1m-1.3 3.1h1m-1.1 2.3h1m-4.7 -0.9h1m-0.3 -3.5h1m-0.9 10.1h1m2.8 -8.5h1m-3.6 7.3h1m-1.1 -8.2h1m0 -0.7h1m-1.3 8.6h1m-2.7 0h1m0.6 -10.3h1m-7.1 10.1h1m3.7 -5.7h1m-2.1 6.9h1m2.8 -9.1h1m-3.6 9.5h1m-3 -4.7h1m4 -4.6h1m-0.6 -0.3h1m-6.3 12.1h1m2.6 -7.1h1" stroke="#d43ad8" stroke-width="1" stroke-opacity="0.95" fill="none"/><path d="M372.2 542.5h1m-0.8 -1.1h1m-1.7 -6.1h1m0.8 0.7h1m-0.7 2h1m-0.5 -3.2h1m-2.1 4.9h1m0.2 -3.9h1m-0.4 -2.4h1m-3.7 -0.5h1m1.7 3.2h1m-5.4 0.2h1m-0.2 0.4h1m-0.9 4.1h1m1.1 -1.5h1m-1.7 -4h1m0.2 -0.9h1m-1.3 0.9h1m-4.5 5.3h1m-1.5 -0.5h1m3.3 -1.9h1m-1 -0.8h1m-3.2 -1.2h1m1.2 3h1m-4.8 2.7h1m1.2 -2.2h1m-0.5 -4.8h1m0.3 0.5h1m-4.3 2.7h1m-1.1 3.6h1m-1 -3h1m-0.8 1.7h1m-1.1 -3.4h1m-0.5 -0.6h1m1.8 -0.2h1m-4.3 1.6h1m0 4.2h1m-2.4 -4.5h1m0.1 3.5h1m-2.9 -1.1h1m-0.1 0.5h1m3.1 -2.1h1m-2.4 -3.2h1m-1.5 0.5h1m-1.6 0.2h1m0.1 2h1m0.1 -1.9h1m-3.4 4.6h1m-1.5 -4.7h1m-2.6 6.1h1m3.5 -6.4h1m-1.1 0.3h1m-3.2 5h1m-1.8 -4.5h1m-2.4 5.3h1m-1 -3.7h1m-0.4 0.4h1m-1.6 0.9h1" stroke="#9a48ee" stroke-width="1" stroke-opacity="0.95" fill="none"/><path d="M372.5 539.7h1m-2.4 0h1m2 -5.3h1m-2.1 1.5h1m-2.5 1.9h1m0.7 -2.4h1m-0.1 0.6h1m-1.6 -0.5h1m-1 0.2h1m-2.7 4.7h1m-1.4 -0.1h1m0.3 -1.7h1m-1.7 2h1m-1.3 -3.1h1m-2.2 4.5h1m2.2 -6.2h1m-1.8 -0.8h1m-0.6 3h1m-3.2 1h1m-0.9 -1.7h1m1.5 -0.6h1m-3.7 1.5h1m-0.7 -0.8h1m-1.3 6.2h1m0.2 -1.8h1m-1.4 -5.2h1m-0.4 2.8h1m-1.9 -1.7h1m1.2 -2.2h1m-2.4 4.4h1m-0.1 -3.5h1m-2.3 3.8h1m-1.5 1.2h1m1 -5.3h1m-1.3 0h1m-1.2 2.9h1" stroke="#4a80f2" stroke-width="1" stroke-opacity="0.95" fill="none"/><path d="M371.1 539.1h1m1.6 -3.2h1m-2 0.6h1m-1.8 2.1h1m-0.9 -0.8h1m-0.5 1h1m-2.5 0.8h1m1 -2.4h1m-2.3 0.3h1m-1 3h1m-0.8 -3.3h1m-1.3 4.5h1m-1 -1.4h1m-1.1 -0.7h1m-0.3 -0.1h1m-0.1 -2.4h1m-1.4 -1.3h1m-0.8 1.2h1m-1 2h1m-1.6 -0.3h1m-0.8 -1.2h1m-0.3 0.3h1m-1.2 -0.5h1m-1.8 -0.5h1m-0.2 1h1m-0.9 -1h1m-1.9 0.4h1m-1.3 3h1m-1.3 -2.1h1m-0.5 0.8h1m-1.5 1.1h1m0.1 -2.8h1m-2.2 2.1h1m0.1 -0.5h1m-2 0.2h1m-0.8 -0.6h1m-1.3 1.4h1" stroke="#2cb8f0" stroke-width="1" stroke-opacity="0.95" fill="none"/><rect x="353.5" y="499.5" width="56" height="58" fill="none" stroke="#777" stroke-width="0.8"/><line x1="377.5" y1="499.5" x2="377.5" y2="557.5" stroke="#585858" stroke-width="0.9"/><line x1="353.5" y1="526.5" x2="409.5" y2="526.5" stroke="#585858" stroke-width="0.9"/><line x1="353.5" y1="499.5" x2="353.5" y2="557.9" stroke="#3a3a3a" stroke-width="0.9"/><line x1="353.1" y1="557.5" x2="409.5" y2="557.5" stroke="#555" stroke-width="0.9"/><line x1="354" y1="531.4" x2="354" y2="541.51" stroke="#2cb8f0" stroke-width="0.8"/><line x1="369.44" y1="556.9" x2="370.98" y2="556.9" stroke="#de34de" stroke-width="0.8"/><line x1="371.33" y1="556.9" x2="372.55" y2="556.9" stroke="#de34de" stroke-width="0.8"/><line x1="352.3" y1="501.4" x2="353.5" y2="501.4" stroke="#222" stroke-width="0.7"/><text x="351.2" y="502.7" font-size="3.7" text-anchor="end" fill="#444">10<tspan font-size="2.4" dy="-1.3">5</tspan></text><line x1="352.3" y1="511.2" x2="353.5" y2="511.2" stroke="#222" stroke-width="0.7"/><text x="351.2" y="512.5" font-size="3.7" text-anchor="end" fill="#444">10<tspan font-size="2.4" dy="-1.3">4</tspan></text><line x1="352.3" y1="521" x2="353.5" y2="521" stroke="#222" stroke-width="0.7"/><text x="351.2" y="522.3" font-size="3.7" text-anchor="end" fill="#444">10<tspan font-size="2.4" dy="-1.3">3</tspan></text><line x1="352.3" y1="530.8" x2="353.5" y2="530.8" stroke="#222" stroke-width="0.7"/><text x="351.2" y="532.1" font-size="3.7" text-anchor="end" fill="#444">10<tspan font-size="2.4" dy="-1.3">2</tspan></text><line x1="352.3" y1="540.6" x2="353.5" y2="540.6" stroke="#222" stroke-width="0.7"/><text x="351.2" y="541.9" font-size="3.7" text-anchor="end" fill="#444">10<tspan font-size="2.4" dy="-1.3">1</tspan></text><line x1="352.3" y1="550.4" x2="353.5" y2="550.4" stroke="#222" stroke-width="0.7"/><text x="351.2" y="551.7" font-size="3.7" text-anchor="end" fill="#444">10<tspan font-size="2.4" dy="-1.3">0</tspan></text><line x1="361.5" y1="557.5" x2="361.5" y2="558.7" stroke="#222" stroke-width="0.7"/><text x="360.9" y="563.6" font-size="3.7" text-anchor="middle" fill="#444">10<tspan font-size="2.4" dy="-1.3">0</tspan></text><line x1="370.74" y1="557.5" x2="370.74" y2="558.7" stroke="#222" stroke-width="0.7"/><text x="370.14" y="563.6" font-size="3.7" text-anchor="middle" fill="#444">10<tspan font-size="2.4" dy="-1.3">1</tspan></text><line x1="379.98" y1="557.5" x2="379.98" y2="558.7" stroke="#222" stroke-width="0.7"/><text x="379.38" y="563.6" font-size="3.7" text-anchor="middle" fill="#444">10<tspan font-size="2.4" dy="-1.3">2</tspan></text><line x1="389.22" y1="557.5" x2="389.22" y2="558.7" stroke="#222" stroke-width="0.7"/><text x="388.62" y="563.6" font-size="3.7" text-anchor="middle" fill="#444">10<tspan font-size="2.4" dy="-1.3">3</tspan></text><line x1="398.46" y1="557.5" x2="398.46" y2="558.7" stroke="#222" stroke-width="0.7"/><text x="397.86" y="563.6" font-size="3.7" text-anchor="middle" fill="#444">10<tspan font-size="2.4" dy="-1.3">4</tspan></text><line x1="407.7" y1="557.5" x2="407.7" y2="558.7" stroke="#222" stroke-width="0.7"/><text x="407.1" y="563.6" font-size="3.7" text-anchor="middle" fill="#444">10<tspan font-size="2.4" dy="-1.3">5</tspan></text><text x="356.8" y="504.8" font-size="4.4" textLength="8.4" lengthAdjust="spacingAndGlyphs" fill="#1a1a1a" stroke="#1a1a1a" stroke-width="0.06">4.0%</text><text x="407.5" y="504.8" font-size="4.4" text-anchor="end" textLength="8.4" lengthAdjust="spacingAndGlyphs" fill="#1a1a1a" stroke="#1a1a1a" stroke-width="0.06">1.2%</text><text x="356.8" y="555.2" font-size="4.4" textLength="10.65" lengthAdjust="spacingAndGlyphs" fill="#1a1a1a" stroke="#1a1a1a" stroke-width="0.06">91.5%</text><text x="407.5" y="555.2" font-size="4.4" text-anchor="end" textLength="8.4" lengthAdjust="spacingAndGlyphs" fill="#1a1a1a" stroke="#1a1a1a" stroke-width="0.06">3.3%</text><text x="382" y="573.6" font-size="8.8" text-anchor="middle" textLength="16.2" lengthAdjust="spacingAndGlyphs" fill="#111" stroke="#111" stroke-width="0.1">2DL1</text><text x="341.1" y="528" font-size="8.8" text-anchor="middle" textLength="16.2" lengthAdjust="spacingAndGlyphs" transform="rotate(-90 341.1 528)" fill="#111" stroke="#111" stroke-width="0.1">3DL1</text><path d="M463.5 537.8h0.8m-14.8 6.5h0.8m16.4 -9.8h0.8m-6.1 2.1h0.8m-0.2 3.2h0.8m-2.5 1.6h0.8m-1.9 -10.5h0.8m-10.1 10.4h0.8m6.5 0.7h0.8m-11.4 -4.5h0.8m3.5 1.7h0.8m17.1 1.2h0.8m-18.5 -15.5h0.8m9.9 18.6h0.8m0.6 -1.8h0.8m-13.5 -1.4h0.8m8.6 -4.1h0.8m-4.1 8.1h0.8m5.8 -11.5h0.8m-0.5 2.3h0.8m-6.6 -3.6h0.8m3.6 4.7h0.8m-9.5 8h0.8m0.3 -12.8h0.8m1 -1.7h0.8m7.7 10.2h0.8m-7 1.9h0.8m-6.4 2h0.8m-9.6 -6.8h0.8m10.6 4.5h0.8m-10.7 -2h0.8m-0.7 -4.8h0.8m11.8 -5.3h0.8m-10.3 13h0.8m10.7 -7.5h0.8m4.5 4.5h0.8m-5 -12.1h0.8m-0.8 14.7h0.8m-5.1 -13.3h0.8m2.3 0.9h0.8m-7.2 12.7h0.8m2.6 3.1h0.8m-11.8 -11h0.8m9 -2.8h0.8m-2.3 -3.8h0.8m-3.9 18.9h0.8m10.6 0.8h0.8m-4.3 -1.1h0.8m-6.9 -12.3h0.8m-7.3 5.5h0.8m7.1 2.2h0.8m-7.3 -2.6h0.8m17.6 -1.1h0.8m-3.1 -4.4h0.8m-1.8 5.4h0.8m-14.8 -0.3h0.8m-1.5 1.2h0.8m4.4 4.6h0.8m-8.3 -0.9h0.8m20.2 -9.5h0.8m-5.2 4.6h0.8m-2.3 1h0.8m-17.4 -10.4h0.8m14.4 11.6h0.8m-6.5 4.7h0.8m-7.2 -2.7h0.8m9 -15.5h0.8m-1.5 16.3h0.8m-10.8 -7.9h0.8m6.5 4.7h0.8m-1.2 -7.7h0.8m0.7 -7.9h0.8m-9.8 13.3h0.8m4.9 3.5h0.8m-3.1 -0.2h0.8m7.7 -0.4h0.8m-1 -10.2h0.8m-8.2 14.2h0.8m15.7 -11.6h0.8m-7.3 6.1h0.8m-6.3 8.2h0.8m1.1 -18.1h0.8m0.4 1.6h0.8m-13.6 14.9h0.8m15.1 -2.2h0.8m-11.8 0.6h0.8m14.3 -4.3h0.8m-6.3 -5.1h0.8m-11.1 5.2h0.8m2 -10.4h0.8m-3.9 10.8h0.8m-1.5 2.6h0.8m5.4 5h0.8m0.9 -20.7h0.8m0.4 14.9h0.8m-12.2 3.5h0.8m15.5 -7h0.8m2.6 3.9h0.8m-16.4 2.6h0.8m11.9 -1.9h0.8m-16.7 -6.7h0.8m0.6 1.1h0.8m0.4 1.7h0.8m17.7 -7.5h0.8m-21.1 8.3h0.8m13.8 -3.6h0.8m0.5 5.6h0.8m-19.3 -3.2h0.8m4.5 -6.3h0.8m11.5 10h0.8m-2.4 -18h0.8m-6.9 19.6h0.8m-3.2 0.4h0.8m5.7 -15.7h0.8m-4.5 19.7h0.8m5.5 -16.3h0.8m-14.5 6.2h0.8m1.2 -7.5h0.8m1.8 12.5h0.8m10.3 -3h0.8m-2.3 1.6h0.8m-1.9 -2.8h0.8m4.8 -2.7h0.8m-6.1 7h0.8m1.5 -11.4h0.8m-5.6 7.4h0.8m-11.6 -0.5h0.8m1.5 -7.4h0.8m12.1 2.9h0.8m-13.4 11.3h0.8m-2.8 -12.3h0.8m6.9 10.5h0.8m0.3 1.1h0.8m-0.2 -6h0.8m2.9 -3.9h0.8m1.8 -1.3h0.8m-6.3 6.3h0.8m1.4 -10.1h0.8m0 9.8h0.8m-2.8 0.6h0.8m-1.5 -7h0.8m6.1 1.4h0.8m-5.7 -5h0.8m-6.1 14.1h0.8m-7.7 -13.1h0.8m1 -2.4h0.8m10.6 0.8h0.8m-2.4 11.6h0.8m7.1 -11.3h0.8m-25.3 7.1h0.8m16.8 1.9h0.8m-12.9 -1.9h0.8m15.3 4.7h0.8m-1.8 6.1h0.8m-11.2 -14.9h0.8m2.5 -7.8h0.8m-11.9 9.6h0.8m15.6 5.4h0.8m-13.8 -8.3h0.8m13.9 7.2h0.8m-12.7 5.2h0.8m-2.3 -14.5h0.8m3.6 -3.6h0.8m4.6 6.9h0.8m-2.6 0.1h0.8m-16 5h0.8m15.2 0.8h0.8m-14.2 2.1h0.8m7.4 -11.4h0.8m-2.5 14.2h0.8m-1.5 -13.1h0.8m-5 6.8h0.8m13 -4.5h0.8m-7.9 -0.8h0.8m2.5 -0.1h0.8m-0.3 0.6h0.8m6.3 0.7h0.8m-15.9 0.4h0.8m10.4 1.3h0.8m4.3 -1.6h0.8m-16.4 18.4h0.8m8.1 -4.2h0.8m-5.5 -16.4h0.8m2.3 -1.4h0.8m-1 12.6h0.8m-12.9 -18.3h0.8m0.3 13.2h0.8m8.8 9.1h0.8m-2.4 -3.6h0.8m2.7 0.4h0.8m-1 2.6h0.8m-7.3 -4.3h0.8m0.8 -9.2h0.8m4 -4h0.8m-13.5 9.1h0.8m0 1h0.8m24.3 -12h0.8m-22.7 16h0.8m7.3 3.5h0.8m2.9 -10.3h0.8m-6.7 -7.8h0.8m-7.9 6.7h0.8m6.7 -8.8h0.8m-9.3 7.1h0.8m-5.7 4.8h0.8m18.7 -1.2h0.8m-19.3 -1.8h0.8m8.7 9.8h0.8m0.4 -22.5h0.8m8.2 10.9h0.8m-2.4 6.7h0.8m-4.1 -9.3h0.8m3 8.8h0.8m-4 3.5h0.8m3.7 -10.6h0.8m-11.3 13.5h0.8m12.1 -12.7h0.8m-1.4 16h0.8m-9.1 -23.2h0.8m10 9.3h0.8m-24 3.9h0.8m13.7 5.3h0.8m-4.2 1.1h0.8m7.3 0.5h0.8m-4.4 -14.7h0.8m-17.6 11.3h0.8m16.1 -8.1h0.8m-2.2 6.6h0.8m-10.5 -4.2h0.8m12.1 6.3h0.8m-11.7 6.6h0.8m1.2 -18.7h0.8m10 10.8h0.8m-18.4 1.1h0.8m11.8 -10.2h0.8m4.8 10.1h0.8m-11.1 -11.3h0.8m7.3 18.3h0.8m-2.5 -5.9h0.8m-6.4 1.1h0.8m8 -9.1h0.8m-18.5 -2.4h0.8m12.6 6.2h0.8m-4.2 -5.1h0.8m4.6 0.9h0.8m-11.2 -0.3h0.8m11.9 19.1h0.8m5 -9.5h0.8m-17.2 -20h0.8m7.9 4.8h0.8m-14.2 1.1h0.8m13 24.7h0.8m-1.1 -20.8h0.8m-9.2 11.7h0.8m2 -4h0.8m-13.6 -3.8h0.8m6.1 -3.9h0.8m8.1 17.3h0.8m-5.6 -10.6h0.8m-9.1 -4.6h0.8m2.5 8h0.8m18.2 2.1h0.8m-16.5 -22.3h0.8m4.5 18.4h0.8m-1.8 4.9h0.8m-17.3 -7.6h0.8m14.8 -8.7h0.8m11.1 5.8h0.8m-7.2 -4.1h0.8m-21.4 6.1h0.8m2.3 -6.6h0.8m29.6 -4.6h0.8m-32.9 1.7h0.8m12 5.7h0.8m16.3 4.1h0.8m-14.6 -14.9h0.8m3.1 -2.6h0.8m-17.8 16.1h0.8m-1 -10.8h0.8m17.8 7.4h0.8m-3.4 12.3h0.8m12.9 -11.1h0.8m-34.4 3.3h0.8m26 4.8h0.8m-13.1 2.7h0.8m3.4 -13.5h0.8m-18.8 8.4h0.8m17.3 -6.3h0.8m-1 11.1h0.8m9.3 -13.8h0.8m-9.9 -4.6h0.8m-2 21.9h0.8m-8.9 -35.6h0.8m17.8 36.6h0.8m-3.4 -30.4h0.8m1.5 1.6h0.8m4.9 -6h0.8m-2 1.2h0.8m-15.7 9h0.8m0.6 1.7h0.8m11.5 -10.5h0.8m-7.9 1.8h0.8m11.2 -4.9h0.8m-7.6 4.8h0.8m-6.1 1.2h0.8m-6.2 5.4h0.8m8.7 -4.9h0.8m7.3 -8.6h0.8m-21 14.1h0.8m4 -1h0.8m7.1 -2h0.8m-7.9 1.7h0.8m11.8 -4.1h0.8m-8 -3.1h0.8m7.9 -4.4h0.8m-14.8 8.5h0.8m18.5 -17.5h0.8m-23.2 24.4h0.8m12.4 -4.1h0.8m-7.1 2.1h0.8m-3.5 -7h0.8m-1 6.2h0.8m13.3 -14.4h0.8m-2.8 3.9h0.8m-2.7 -1.9h0.8m0.4 0.8h0.8m-11.8 6.9h0.8m-0.5 5.9h0.8m11 -10.1h0.8m3.4 -7.5h0.8m-21.2 14h0.8m13.8 -10.4h0.8m-12.6 12.5h0.8m17.5 -14.1h0.8m-19.3 11.5h0.8m0.6 0.6h0.8m10.5 -11.6h0.8m-15.9 11.2h0.8m18.3 -9.6h0.8m-11.6 2.9h0.8m8.2 -1.6h0.8m-14.3 5.5h0.8m2.2 5.7h0.8m0.2 -4.9h0.8m-12 9.5h0.8m16.8 -14.8h0.8m-4.9 7.8h0.8m-1.4 -8.9h0.8m3.4 0.6h0.8m-15.1 9.6h0.8m16.5 -8.3h0.8m-14.5 4.2h0.8m-3.3 3.4h0.8m0.9 -1.7h0.8m-0.3 2.9h0.8m-1.1 -0.1h0.8m5.9 -8.6h0.8m-4.4 8.1h0.8m-5.7 -0.9h0.8m8 -8.2h0.8m-4 4.5h0.8m10.5 -7.6h0.8m4 -5.5h0.8m-15.7 16h0.8m-9.3 7.8h0.8m0.6 -6.6h0.8m14.8 -15.2h0.8m-3 9.6h0.8m-4.8 -4.4h0.8m-7.1 4.7h0.8m7.5 3.5h0.8m-2.9 0h0.8m-13 5.9h0.8m8.1 -9.6h0.8m-6.3 8.2h0.8m13.8 -17.9h0.8m-10.5 15.7h0.8m9.5 -12.9h0.8m-8.9 3.7h0.8m9.2 -1.6h0.8m-4.2 -2.6h0.8m-8.6 12.5h0.8m12.1 -10.3h0.8m-17.8 10.1h0.8m8.2 -2.6h0.8m-6.4 6.4h0.8m3.8 -8.1h0.8m-12.5 6.1h0.8m-6.1 3.1h0.8m17.5 -8.5h0.8m-4.1 -0.8h0.8m4.1 -12h0.8m-3.6 9.8h0.8m-8.1 7.1h0.8m4.6 -5.1h0.8m-8.1 5.2h0.8m4.5 -1.1h0.8m-6.5 1.3h0.8m2.7 3.4h0.8m13.2 -13.9h0.8m5.6 -5.6h0.8m-19.3 16.6h0.8m-4.1 -1.2h0.8m0.7 8.3h0.8m22.2 -22.7h0.8m-30.2 10.6h0.8m16.1 -2.6h0.8m-4.8 2.2h0.8m-8.9 2.6h0.8m14.7 -8.1h0.8m6.2 -1.9h0.8m-20 9.6h0.8m4.3 -4.1h0.8m5.5 -2.5h0.8m-11.9 17.1h0.8m-16.9 7.8h0.8m-4 7.9h0.8m6.3 -25.2h0.8m-6.3 28.7h0.8m11.2 -12.2h0.8m3.3 1.8h0.8m-15.8 -14.7h0.8m15 8.9h0.8m-11.5 10.3h0.8m16.1 -8.3h0.8m-7.6 11h0.8m-6.2 -18.2h0.8m-8.9 9h0.8m-3.1 -2h0.8m13.7 7.8h0.8m-8.6 -2.7h0.8m-2.7 -1.8h0.8m-3.8 -19h0.8m-1.8 13.6h0.8m4.8 3.9h0.8m-3.9 -0.9h0.8m1.6 -27h0.8m2.7 15.1h0.8m10.5 13.4h0.8m0.3 2.7h0.8m-28.3 -3.2h0.8m17.7 -11.1h0.8m3 13h0.8m-16 1.9h0.8m-7.9 -5.6h0.8m6.5 -4.7h0.8m-4.9 3.9h0.8m2.8 7h0.8m-3.6 -12h0.8m2.7 18h0.8m9.7 -4h0.8m-7.6 5.9h0.8m6.1 -4.6h0.8m-12.3 -12.4h0.8m7.3 -7.2h0.8m0.7 7.9h0.8m-19.8 -2.2h0.8m9.2 -11.5h0.8m-5.2 17.3h0.8m-1 -10.7h0.8m11.2 17h0.8m-3.6 -5.2h0.8m-5.3 0.8h0.8m-3.2 -8.4h0.8m11.8 -5.9h0.8m9.6 -2.7h0.8m-12.5 4.2h0.8m7.2 4h0.8m-22.4 11.4h0.8m3.3 -25.7h0.8m11.8 17.6h0.8m-10.2 6.6h0.8m1.3 -26.4h0.8m12.4 13.9h0.8m-21.7 7.3h0.8m5.6 -10h0.8m-0.3 8.9h0.8m-5.7 -1h0.8m18.7 8.7h0.8m-21.7 -17h0.8m-3 17.5h0.8m1.6 -12.2h0.8m19.1 -3.5h0.8m-16.2 4.1h0.8m10.8 12.6h0.8m-2.5 -4.8h0.8m-10.6 -8.1h0.8m-3.7 -12.1h0.8m10.6 14.8h0.8m-19.7 -1.6h0.8m5.6 1.6h0.8m-9.4 -4.1h0.8m8.6 6.6h0.8m9.5 3.1h0.8m-6.6 -6.9h0.8m5.4 0.1h0.8m-12 4.7h0.8m3 -1h0.8m5 -0.4h0.8m-7.6 5.5h0.8m-7.7 -8.4h0.8m9.1 7.5h0.8m-8.8 12.2h0.8m16 -21.5h0.8m-2.7 1.5h0.8m-11 5.6h0.8m10.3 3.4h0.8m0.1 5.8h0.8m-12 -17.4h0.8m-6.2 -1.7h0.8m-1.7 6.3h0.8m7.1 12h0.8m-4.8 -19.7h0.8m14.1 9.3h0.8m-15.6 8.9h0.8m-6.7 -3.6h0.8m4 -16.2h0.8m10.6 5.5h0.8m-8.6 15.9h0.8m-14.7 4.3h0.8m21.3 -25.6h0.8" stroke="#6c6c6c" stroke-width="0.8" stroke-opacity="0.7" fill="none"/><path d="M450.5 533.7h1m6.5 -0.6h1m-4.9 1.2h1m4.4 6.7h1m0.6 -3.5h1m-9.9 5.2h1m9.6 -5.7h1m-12.3 -0.4h1m-1.2 -0.7h1m6.6 -3.9h1m-2.4 -0.4h1m0.7 10.8h1m-13.4 -4.1h1m13.2 3.7h1m-9.6 -7.6h1m7.3 1.7h1m-3.7 -2.1h1m-8.7 5h1m7 -4.3h1m-0.3 5.9h1m-4.8 -8.9h1m-4.7 3.6h1m7.7 1.1h1m-8.5 5h1m2.3 -7.4h1m5 7.6h1m-10.2 -9.9h1m-0.9 12.2h1m-5 -6.7h1m11.7 -4.7h1m-9.4 1.4h1m5.2 7.9h1m1.7 -4.5h1m-11.7 -2.4h1m-2.2 -0.6h1m0.3 4.8h1m-1.2 0.2h1m3.9 4.3h1m2.2 -3.3h1m-10.9 -4.4h1m2.5 9.3h1m-3.8 -8.7h1m7.9 3.1h1m-2.8 -7.7h1m-0.1 2.4h1m-8.7 -1h1m3.9 12.5h1m-5.2 -12.3h1m5.2 -0.4h1m-3.4 8.4h1m2.4 -0.7h1m-1.2 -0.1h1m-4.9 -7.1h1m-6.7 4.9h1m1.1 -6.3h1m6.5 -1h1m3 9.4h1m-2.2 -0.6h1m-1.9 -0.1h1m-7.7 1.7h1m5.4 -0.5h1m-11.1 -6.6h1m10.1 4.3h1m-7.9 -5.5h1m-4.1 0.1h1m8.6 5h1m-1.6 0.3h1m-1.3 -2.4h1m-3.2 -3.9h1m-1.3 1.8h1m-6.2 6.9h1m-1.9 1.4h1m0.1 -5.3h1m3.8 5.2h1m1.9 1.3h1m-12.9 -7.5h1m6.5 6.5h1m-2 -11.8h1m5.3 6.2h1m-9 -1.9h1m-1.2 4.6h1m5.2 -5.3h1m-2.9 9.1h1m-9.4 -3.4h1m10.4 -0.7h1m-6.1 1.2h1m-5.3 -10.4h1m-2.9 8.1h1m12.3 -4.2h1m-9 8.2h1m-1.1 -11.8h1m-2.8 3.5h1m0.9 5.9h1m1.3 -7.3h1m-4.8 0.7h1m11.8 -6.5h1m9.9 -11.4h1m-5.9 6.4h1m-0.4 -1.7h1m-2.6 2.9h1m-2.1 0h1m3.5 -2.3h1m-1.2 -3.6h1m0.4 1.9h1m-0.5 -2.3h1m-7.4 6.4h1m-6.2 -0.6h1m7.4 -4.9h1m-1.2 1.9h1m-5.7 4.7h1m4.1 -5.6h1m1.4 -3.1h1m-1.3 -1.2h1m-6 3.7h1m3.4 2.1h1m-8.3 4.8h1m11.6 -12.6h1m-9.8 6.4h1m-4.6 3.8h1m6.3 -2.6h1m-9.6 3.1h1m12.8 -10.4h1m-11 6.6h1m-0.9 2.6h1m4.1 -5.2h1m-4.6 1.9h1m-4.3 4h1m2 -0.4h1m-5.3 1.8h1m2.1 -5.1h1m-1.2 1.6h1m4.8 -0.5h1m-7.7 1.7h1m-0.2 -3.2h1m1.2 0.6h1m2.8 -1.2h1m-8.9 6.8h1m-0.4 -2.6h1m-2.4 2.3h1m5.9 -3.9h1m-1.7 -0.8h1m-4.2 1.3h1m1.4 1.5h1m0.9 -4.1h1m-4.2 4.2h1m-1.5 0.8h1m3.6 -5.8h1m-6.3 3h1m-1.4 -0.9h1m2.6 -5.4h1m-4.5 8.7h1m-1.3 -0.7h1m1.1 -5.1h1m4.5 -1.7h1m-12 7.5h1m0.7 -0.2h1m4 -1.5h1m-5.3 1.2h1m0.2 -1.2h1m4.5 -3h1m-2.1 -2.5h1m-3.9 2.3h1m2.6 -0.4h1m-9.1 8.5h1m1.1 -3.9h1m-1 2.4h1m1.6 -5.1h1m-7.4 6.4h1m8.2 -9.1h1m0.5 0.1h1m-10.4 4.6h1m4.9 -3.4h1m1.8 -1.3h1m-1.3 -0.4h1m0.5 -0.8h1m-7.8 8.2h1m-2.7 1.3h1m-1.6 -0.2h1m1.8 -4.9h1m1.5 -3h1m-2.3 2.5h1m-3.8 3.9h1m-3.7 -0.5h1m-1.2 2.6h1m8.6 -11.5h1m1.3 2.3h1m-2.7 -0.9h1m-4.3 4.1h1m0.3 -2.2h1m-7.2 6h1m1.1 -1.1h1m5 -7.3h1m-9.5 8.1h1m2.8 -2.3h1m0 2.3h1m-0.8 -2.2h1m-0.5 -1h1m-2.8 -0.4h1" stroke="#d43ad8" stroke-width="1" stroke-opacity="0.95" fill="none"/><path d="M457.8 539.7h1m-4.1 -3.4h1m2.8 3.1h1m-3.9 -2h1m0.2 -1.7h1m-0.2 0.5h1m-0.5 3.1h1m-6.6 -0.8h1m1.6 3.5h1m0.2 -3.6h1m-1.3 1.8h1m0.1 -2.5h1m-4.2 -3.2h1m0.7 2.5h1m-3.9 1.6h1m-0.5 0.2h1m2.2 1.1h1m-4.5 -4.9h1m1.2 6.4h1m1.1 -2.5h1m-4.8 0.9h1m3.8 -3.6h1m-0.2 1h1m-6 0h1m1.3 0.7h1m-2.4 -2.5h1m-0.5 3h1m-0.6 0.4h1m1.7 -3.1h1m-1.2 3h1m-8.1 2.1h1m3.2 -3.2h1m1.5 -2.2h1m-1.9 -1.3h1m-1.4 5.4h1m-1.5 2.5h1m-3.4 -3h1m-2.8 -3.7h1m3.2 4.3h1m-0.1 -4.2h1m-6.4 1.1h1m2.1 -1.7h1m-2.3 5.2h1m1 -0.8h1m-2 -3.8h1m-1.1 2.1h1m-2.7 -0.2h1m-0.8 -2.5h1m4.5 2.9h1m-2.4 -1.5h1m-3.8 4h1m2.3 -4.5h1m-3.2 4.8h1m-0.3 -0.6h1m1.3 0.5h1m-2.5 -4.2h1m-2.4 -0.9h1m3 2.7h1m-1.7 -0.9h1m-5 2.3h1m0.7 -1.8h1m-0.9 2.5h1m-3.3 -6.1h1m2.3 4.6h1m-5.1 1.4h1m-0.4 -2.8h1m-2.9 1.2h1m2.7 -2.9h1m0.2 0.1h1m-2.1 -1.6h1m-1.1 1.8h1m-5.2 0.9h1m8 0.5h1m-8.3 -1.2h1m0.7 0.1h1m0.5 1.2h1m1.6 0.7h1m-2.5 3.1h1m-1.2 -5.4h1m-5.6 -0.5h1m1.8 1h1m-4.2 -2h1m1.5 0.3h1m0.1 4.6h1m-3.7 -3.2h1m5.3 -0.9h1m-6.5 -0.6h1m1 0.6h1m-4.6 4.6h1m5.5 -1.2h1m-2.2 1.1h1m-1.4 -4.2h1m-3.6 0.2h1m3.1 1.5h1m-2.8 -0.7h1m-1.1 1.9h1" stroke="#9a48ee" stroke-width="1" stroke-opacity="0.95" fill="none"/><rect x="440.5" y="502.5" width="57" height="55" fill="none" stroke="#777" stroke-width="0.8"/><line x1="471.5" y1="502.5" x2="471.5" y2="557.5" stroke="#585858" stroke-width="0.9"/><line x1="440.5" y1="527.5" x2="497.5" y2="527.5" stroke="#585858" stroke-width="0.9"/><line x1="440.5" y1="502.5" x2="440.5" y2="557.9" stroke="#3a3a3a" stroke-width="0.9"/><line x1="440.1" y1="557.5" x2="497.5" y2="557.5" stroke="#555" stroke-width="0.9"/><line x1="441" y1="543.28" x2="441" y2="544" stroke="#de34de" stroke-width="0.8"/><line x1="461.8" y1="556.9" x2="462.65" y2="556.9" stroke="#4a80f2" stroke-width="0.8"/><line x1="441" y1="517.4" x2="441" y2="519.63" stroke="#de34de" stroke-width="0.8"/><line x1="441" y1="519.63" x2="441" y2="521.83" stroke="#de34de" stroke-width="0.8"/><line x1="441" y1="521.83" x2="441" y2="522.6" stroke="#de34de" stroke-width="0.8"/><line x1="461.9" y1="556.9" x2="471.06" y2="556.9" stroke="#de34de" stroke-width="0.8"/><line x1="471.06" y1="556.9" x2="472.98" y2="556.9" stroke="#3ee07a" stroke-width="0.8"/><line x1="472.98" y1="556.9" x2="477.33" y2="556.9" stroke="#e03030" stroke-width="0.8"/><line x1="477.33" y1="556.9" x2="478.96" y2="556.9" stroke="#e03030" stroke-width="0.8"/><line x1="478.96" y1="556.9" x2="480.1" y2="556.9" stroke="#2cb8f0" stroke-width="0.8"/><line x1="439.3" y1="504.4" x2="440.5" y2="504.4" stroke="#222" stroke-width="0.7"/><text x="438.2" y="505.7" font-size="3.7" text-anchor="end" fill="#444">10<tspan font-size="2.4" dy="-1.3">5</tspan></text><line x1="439.3" y1="513.6" x2="440.5" y2="513.6" stroke="#222" stroke-width="0.7"/><text x="438.2" y="514.9" font-size="3.7" text-anchor="end" fill="#444">10<tspan font-size="2.4" dy="-1.3">4</tspan></text><line x1="439.3" y1="522.8" x2="440.5" y2="522.8" stroke="#222" stroke-width="0.7"/><text x="438.2" y="524.1" font-size="3.7" text-anchor="end" fill="#444">10<tspan font-size="2.4" dy="-1.3">3</tspan></text><line x1="439.3" y1="532" x2="440.5" y2="532" stroke="#222" stroke-width="0.7"/><text x="438.2" y="533.3" font-size="3.7" text-anchor="end" fill="#444">10<tspan font-size="2.4" dy="-1.3">2</tspan></text><line x1="439.3" y1="541.2" x2="440.5" y2="541.2" stroke="#222" stroke-width="0.7"/><text x="438.2" y="542.5" font-size="3.7" text-anchor="end" fill="#444">10<tspan font-size="2.4" dy="-1.3">1</tspan></text><line x1="439.3" y1="550.4" x2="440.5" y2="550.4" stroke="#222" stroke-width="0.7"/><text x="438.2" y="551.7" font-size="3.7" text-anchor="end" fill="#444">10<tspan font-size="2.4" dy="-1.3">0</tspan></text><line x1="448.5" y1="557.5" x2="448.5" y2="558.7" stroke="#222" stroke-width="0.7"/><text x="447.9" y="563.6" font-size="3.7" text-anchor="middle" fill="#444">10<tspan font-size="2.4" dy="-1.3">0</tspan></text><line x1="457.94" y1="557.5" x2="457.94" y2="558.7" stroke="#222" stroke-width="0.7"/><text x="457.34" y="563.6" font-size="3.7" text-anchor="middle" fill="#444">10<tspan font-size="2.4" dy="-1.3">1</tspan></text><line x1="467.38" y1="557.5" x2="467.38" y2="558.7" stroke="#222" stroke-width="0.7"/><text x="466.78" y="563.6" font-size="3.7" text-anchor="middle" fill="#444">10<tspan font-size="2.4" dy="-1.3">2</tspan></text><line x1="476.82" y1="557.5" x2="476.82" y2="558.7" stroke="#222" stroke-width="0.7"/><text x="476.22" y="563.6" font-size="3.7" text-anchor="middle" fill="#444">10<tspan font-size="2.4" dy="-1.3">3</tspan></text><line x1="486.26" y1="557.5" x2="486.26" y2="558.7" stroke="#222" stroke-width="0.7"/><text x="485.66" y="563.6" font-size="3.7" text-anchor="middle" fill="#444">10<tspan font-size="2.4" dy="-1.3">4</tspan></text><line x1="495.7" y1="557.5" x2="495.7" y2="558.7" stroke="#222" stroke-width="0.7"/><text x="495.1" y="563.6" font-size="3.7" text-anchor="middle" fill="#444">10<tspan font-size="2.4" dy="-1.3">5</tspan></text><text x="443.8" y="507.8" font-size="4.4" textLength="10.65" lengthAdjust="spacingAndGlyphs" fill="#1a1a1a" stroke="#1a1a1a" stroke-width="0.06">11.5%</text><text x="495.5" y="507.8" font-size="4.4" text-anchor="end" textLength="8.4" lengthAdjust="spacingAndGlyphs" fill="#1a1a1a" stroke="#1a1a1a" stroke-width="0.06">4.2%</text><text x="443.8" y="555.2" font-size="4.4" textLength="10.65" lengthAdjust="spacingAndGlyphs" fill="#1a1a1a" stroke="#1a1a1a" stroke-width="0.06">83.3%</text><text x="495.5" y="555.2" font-size="4.4" text-anchor="end" textLength="8.4" lengthAdjust="spacingAndGlyphs" fill="#1a1a1a" stroke="#1a1a1a" stroke-width="0.06">1.0%</text><text x="469.5" y="573.6" font-size="8.8" text-anchor="middle" textLength="16.2" lengthAdjust="spacingAndGlyphs" fill="#111" stroke="#111" stroke-width="0.1">3DL1</text><text x="426.7" y="529.5" font-size="8.8" text-anchor="middle" textLength="16.2" lengthAdjust="spacingAndGlyphs" transform="rotate(-90 426.7 529.5)" fill="#111" stroke="#111" stroke-width="0.1">2DL3</text><path d="M50.9 622.3h0.8m-8 1.3h0.8m5.2 -8.3h0.8m-3.5 7.2h0.8m6.2 -0.2h0.8m-7.4 -8.3h0.8m2.9 1.4h0.8m-3.5 6.9h0.8m-3 -6.8h0.8m-4.1 3.7h0.8m3.4 3.8h0.8m5.8 0.8h0.8m1.4 -4h0.8m-3.2 -3.9h0.8m0.9 -1.1h0.8m-13.5 -0.4h0.8m5.4 8.1h0.8m-5.6 0.6h0.8m-7.3 -5.4h0.8m3.6 1.4h0.8m12.9 -1.7h0.8m-8.7 -6.9h0.8m6.5 10.1h0.8m-12 -3.1h0.8m-1.2 -3.5h0.8m6.9 8.8h0.8m-4.5 -0.4h0.8m5.1 4h0.8m-0.3 -9.5h0.8m0.9 8.8h0.8m-20.1 -9h0.8m8 -7h0.8m5.5 4.5h0.8m-6.3 1.6h0.8m7.1 -0.5h0.8m-8 5.4h0.8m4.9 -7.9h0.8m-10.2 2.6h0.8m-3.8 6.1h0.8m13.4 -4.6h0.8m-11.1 7.6h0.8m2 1h0.8m3.1 -2.2h0.8m-6.6 -6.7h0.8m6.5 9.2h0.8m8.4 -6.8h0.8m-7.8 2.5h0.8m-12.8 -0.7h0.8m13.5 -1h0.8m-4 -5.4h0.8m-7.8 -5.3h0.8m1.9 1h0.8m-5.5 5h0.8m9.6 3.4h0.8m-10 0.9h0.8m6 -5.6h0.8m-9 8.8h0.8m0.5 -1.8h0.8m11.1 -1.8h0.8m-5.7 1h0.8m-14.5 2.1h0.8m14.3 -5.6h0.8m-13.2 -0.4h0.8m11.6 0.8h0.8m-8.8 -1.6h0.8m4 7.3h0.8m0.3 0.3h0.8m-5.5 2.2h0.8m8.6 -8.1h0.8m-7.7 -2.4h0.8m-5.8 2.3h0.8m7.4 11.1h0.8m1.2 -7.1h0.8m-6 -7h0.8m-4.2 2.6h0.8m-4.2 -0.6h0.8m4.6 6.8h0.8m-4.4 -4.3h0.8m4.3 6.8h0.8m-4 -11h0.8m-0.4 8.7h0.8m5.7 -6.2h0.8m-7.7 -6.3h0.8m3.1 7.1h0.8m-1.2 -4.1h0.8m-5.3 4.7h0.8m7.8 0.3h0.8m-7.8 -6h0.8m1.3 12.1h0.8m-6.8 -2.8h0.8m1.7 -7.4h0.8m6 3.5h0.8m-1.7 -7.4h0.8m1 7.2h0.8m0 -2.2h0.8m-12.9 3h0.8m3.8 3.9h0.8m6.5 1.2h0.8m-11.8 -2.8h0.8m14.4 2.4h0.8m-12 -6.6h0.8m4 1.9h0.8m-10 0.7h0.8m2.4 1.8h0.8m12.6 3.4h0.8m-7.1 -6.1h0.8m-8 -3.9h0.8m-4.5 2.7h0.8m-1.6 3.5h0.8m1 -5.5h0.8m11 6.4h0.8m1 -2.1h0.8m-3.4 0.5h0.8m-0.8 4.1h0.8m-13.6 -3.6h0.8m3.6 2.1h0.8m-6.5 -0.3h0.8m9.6 -7.6h0.8m-1.7 9.5h0.8m5.8 -1.2h0.8m-7.4 -7.2h0.8m-5 1.9h0.8m-4.2 2h0.8m6.5 -3.9h0.8m-6.7 -1.1h0.8m0.4 7.9h0.8m1.3 -12.1h0.8m7.5 7.1h0.8m-11.6 6.2h0.8m8.6 -1.2h0.8m-5.6 -7.3h0.8m1.9 0.1h0.8m-5.9 6.3h0.8m5.2 0.9h0.8m-4 -9.4h0.8m4.8 1.2h0.8m-12.1 3.2h0.8m7.5 -3.1h0.8m-10.2 1.3h0.8m0 4h0.8m0.8 -5.1h0.8m3.7 0.3h0.8m2.7 2.3h0.8m-9.9 -2.4h0.8m9.1 2.1h0.8m-0.7 4.1h0.8m-3.4 1.4h0.8m4.6 -8.4h0.8m-12.3 0.7h0.8m4.2 -1.3h0.8m0 9.2h0.8m1.3 -4.6h0.8m-1.5 -2.4h0.8m-8 6.5h0.8m4.2 -7.1h0.8m5.4 -1.6h0.8m-17.3 6.8h0.8m6.1 1.8h0.8m1.5 3.2h0.8m-6.2 -2.4h0.8m3.7 -7.8h0.8m-2.6 6h0.8m3.1 -6.9h0.8m-9.7 3.8h0.8m10.5 -3.8h0.8m-7.4 10h0.8m3.4 0.8h0.8m2.3 -2.3h0.8m-9.2 0.8h0.8m5.6 -9.2h0.8m-1.2 -0.9h0.8m0.7 8.4h0.8m-4.5 2.3h0.8m-4.6 -7.4h0.8m8.4 0.6h0.8m-3.4 6.8h0.8m0.8 -7.1h0.8m0.2 7.3h0.8m0.8 -3.8h0.8m-1.2 1.5h0.8m0.8 -5.5h0.8m-9.2 7.2h0.8m-3.1 -0.6h0.8m9.2 -3.9h0.8m-4.8 4.2h0.8m-3.2 -8.1h0.8m1.4 3.5h0.8m4.3 -1.4h0.8m-3.5 0.1h0.8m-2.7 4h0.8m-5.4 -7.1h0.8m-0.1 11h0.8m4.9 -12.8h0.8m-6.1 -1.6h0.8m-4.3 15.2h0.8m-1.9 -6.4h0.8m8.5 -2.3h0.8m-4.9 7.4h0.8m-9.3 -5.4h0.8m2.6 -6.1h0.8m-2.8 11.4h0.8m-1 -9.7h0.8m11.6 -2.7h0.8m-0.6 9h0.8m-2.3 -5.1h0.8m-1.8 -0.4h0.8m0.5 5.6h0.8m3.1 0.6h0.8m-15.1 -1.6h0.8m8.9 1.1h0.8m-5.3 1.5h0.8m-3.4 -6.6h0.8m-5.2 0.2h0.8m4.9 5.1h0.8m-0.4 2h0.8m-9.7 -2.2h0.8m19.1 -0.5h0.8m-3.5 -8h0.8m-3.4 4.3h0.8m-3.9 -4.7h0.8m-0.1 11.3h0.8m-8 -11.1h0.8m-2.8 2.8h0.8m-2.1 4.1h0.8m17.2 -1.9h0.8m-1.4 6.4h0.8m-9 -8.1h0.8m3.8 10.1h0.8m-9.2 -9.9h0.8m-3.6 7h0.8m0.4 -5.4h0.8m-2.1 -0.9h0.8m3.2 -2h0.8m-5.3 -4.6h0.8m-0.6 12.2h0.8m3.4 -2.6h0.8m3.6 -4.4h0.8m3.8 3.1h0.8m-16.8 0h0.8m4.7 8.3h0.8m-1.1 -11.2h0.8m4.5 -1.5h0.8m3 1.3h0.8m2.3 4.8h0.8m0.6 -2.6h0.8m-7.6 -5.3h0.8m-3 5.4h0.8m-2.8 -5.3h0.8m7.5 7h0.8m-8.3 -4.1h0.8m-5 -1.6h0.8m9.7 7.9h0.8m-8.4 -5.2h0.8m-5.5 2.4h0.8m13.3 -11h0.8m0.5 4.2h0.8m-0.5 -3.6h0.8m-6.4 8.8h0.8m-7.1 3.7h0.8m-1.4 2.3h0.8m9.2 -1.4h0.8m-2 1.3h0.8m5.7 -5.4h0.8m-15.4 -6.8h0.8m7.4 2.4h0.8m-9.8 12.3h0.8m7 0.2h0.8m0.3 -10.7h0.8m2.2 6.5h0.8m2 7.3h0.8m-9.4 -13.2h0.8m-14.7 -0.2h0.8m18.6 1.5h0.8m-5.8 1.4h0.8m-4.2 2.7h0.8m-0.2 -6h0.8m7.5 7.7h0.8m-10.6 -0.5h0.8m-8.2 6.9h0.8m10.2 -20.1h0.8m1 18.2h0.8m-13 -6.7h0.8m8 -1.4h0.8m4.4 -2.4h0.8m0.6 4.8h0.8m0.8 -8.1h0.8m-12 -0.9h0.8m6.5 3.8h0.8m-4.5 14.3h0.8m13.2 -2.4h0.8m-16.1 3.9h0.8m-1.3 -12.3h0.8m6.8 3h0.8m-2.4 -10.2h0.8m-11.3 -0.8h0.8m-1.4 8.5h0.8m-1.3 2.6h0.8m15.6 -7.8h0.8m-6.5 3.8h0.8m-4.9 -7.5h0.8m-2.7 -1.3h0.8m-9.4 -0.2h0.8m9.6 18.6h0.8m14.1 -15.1h0.8m-22.1 7.9h0.8m5.7 -8.1h0.8m-3.3 2.6h0.8m2.3 0.5h0.8m-13 8h0.8m11.3 -1.9h0.8m-2.4 -4.5h0.8m2.7 -5.3h0.8m-11.7 9.6h0.8m3.4 -3.4h0.8m3.4 5.9h0.8m0.4 -2.6h0.8m0.8 -14.3h0.8m-2.7 11.4h0.8m-4.6 -4.1h0.8m-8.2 2.1h0.8m4.3 -0.4h0.8m3.9 -2.5h0.8m7 12h0.8m-15.2 -12.2h0.8m11.2 -2.4h0.8m-9.2 18.9h0.8m-5.7 -15.1h0.8m7.2 -2.9h0.8m1 -4.3h0.8m5.7 12.7h0.8m-13 -6.8h0.8m-2.3 9.7h0.8m4.1 -4.5h0.8m1.8 -5.6h0.8m-7.2 8.4h0.8m8.9 -9.2h0.8m-0.9 -1.2h0.8m-9.8 6.5h0.8m21.8 -1.1h0.8m-13 7.7h0.8m-4.8 -1h0.8m4.4 -1.3h0.8m-13.1 -8.2h0.8m1.4 1.9h0.8m-1.9 13.5h0.8m1.7 -12.6h0.8m-8.3 -6.3h0.8m0.7 -2.7h0.8m3.6 3.6h0.8m3.2 7.6h0.8m-2.4 1.2h0.8m5.2 -1.6h0.8m-4.5 10.1h0.8m4.5 -6.6h0.8m-10.4 -8.9h0.8m5 -10.8h0.8m4.6 14.2h0.8m-12.6 0.6h0.8m5.8 0.6h0.8m0.9 4.4h0.8m0.1 -5.8h0.8m-8.3 0.9h0.8m-1.7 9h0.8m-3.6 -10.7h0.8m15.1 2.2h0.8m-5.5 -0.8h0.8m-5.5 -0.3h0.8m-3.5 7.7h0.8m6.7 5.9h0.8m-8.4 -8.6h0.8m-11.4 -13h0.8m1.4 8.5h0.8m21.5 8.1h0.8m-12.6 -9h0.8m-1.4 6.5h0.8m5.2 -15.1h0.8m-14.5 8.3h0.8m6.8 -6.5h0.8m-0.4 10.7h0.8m-7.3 -4.8h0.8m4.5 0.4h0.8m-5.9 -11.6h0.8m5.6 18.2h0.8m0.5 -8.7h0.8m-5.4 8h0.8m0.7 -1.7h0.8m-10.1 -15.1h0.8m9.6 10.7h0.8m7.8 8.8h0.8m-12.3 8.5h0.8m3.1 -15h0.8m7.4 0.6h0.8m-12 -1.8h0.8m-7 13.5h0.8m5.8 -15.6h0.8m12 4.7h0.8m-8.7 0.3h0.8m-10.2 -2.6h0.8m11.2 5.7h0.8m-7.5 -5.2h0.8m1.8 1.1h0.8m7.5 8.3h0.8m-15.2 -6.1h0.8m-4.8 -1.8h0.8m10.4 -4.8h0.8m5.9 0.5h0.8m-11.6 1.1h0.8m-2 2.9h0.8m2.4 -2.8h0.8m0.8 3.4h0.8m3 3.5h0.8m-5.9 -4.7h0.8m3.7 1h0.8m-12.7 -4.3h0.8m17.8 1.2h0.8m-10.1 -1.2h0.8m12.3 13.6h0.8m-13.4 -13.7h0.8m-15.9 -5.7h0.8m18.4 3.9h0.8m-7.7 9.1h0.8m-5.5 -3h0.8m-3.1 -3h0.8m3.2 4.3h0.8m1.9 -10.4h0.8m-1.2 7.4h0.8m-1.7 9.9h0.8m8.1 -10.6h0.8m-5.8 5.7h0.8m-6.7 -4.3h0.8m4.7 6h0.8m-10.5 -18.5h0.8m4.3 14.2h0.8m5.7 -1.5h0.8m-4.9 -0.1h0.8m1.2 -9.9h0.8m-2.4 6.5h0.8m3.8 -0.2h0.8m3.7 0.6h0.8m-24.7 8.1h0.8m7.5 -9.6h0.8m11.5 6.4h0.8m-6 14.4h0.8m-5.9 -0.9h0.8m-3 3.2h0.8m4.8 -12.5h0.8m-2.8 22.6h0.8m4.2 -12.9h0.8m-7.6 16.9h0.8m7.9 -14.2h0.8m-9 8.9h0.8m1.4 -12.2h0.8m-4.2 6.2h0.8m1 -8.1h0.8m-3.6 9.4h0.8m7.1 0.1h0.8m-8.2 0.5h0.8m5 5.5h0.8m-3.2 3.5h0.8m-2.2 -2.8h0.8m10.8 -6.5h0.8m-15.7 -5.7h0.8m13.5 14.3h0.8m-5.7 -17.8h0.8m-2.8 11.7h0.8m-2.2 -17.2h0.8m2.1 16.8h0.8m-0.1 -5.1h0.8m-11 0.2h0.8m11.2 8.2h0.8m-2.8 -13.3h0.8m0.9 2.9h0.8m-2.1 1.9h0.8m-6 -8.1h0.8m4.4 9.1h0.8m-11.9 1.3h0.8m4.2 -13.5h0.8m5.8 8h0.8m-3.6 -2.1h0.8m3.3 0.3h0.8m-11.8 6.8h0.8m-3.4 -3.3h0.8m11.3 -4.9h0.8m-2.1 4.5h0.8m-1.3 8.2h0.8m-4.3 -14h0.8m-3.8 15.4h0.8m-0.7 -11.7h0.8m-3.4 8.4h0.8m6.8 1.3h0.8m0.9 -16.3h0.8m-5.2 18.2h0.8m5.9 -9.1h0.8m-11.6 -1.3h0.8m2.6 5.3h0.8m9 -17.9h0.8m-11.5 8.4h0.8m4.2 0.3h0.8m2.9 10.9h0.8m-7.9 2h0.8m5.2 -14.6h0.8m-9.7 5h0.8m-1.4 13.9h0.8m8.8 -20.5h0.8m-10.4 7.7h0.8m5.7 8.6h0.8m-2.7 -16.3h0.8m4.1 8.4h0.8m-6 11.5h0.8m-2.8 -5.1h0.8m6.2 -10.8h0.8m-3.9 -1.3h0.8m-6 16.2h0.8m1.1 1h0.8m3.9 -12.7h0.8m-12.1 8.1h0.8m4 -19.2h0.8m3.1 4.4h0.8m1.4 12.1h0.8m-0.7 2.7h0.8m0.4 -12.9h0.8m-2.9 15.9h0.8m5.1 -11.2h0.8m-4.2 3.2h0.8m-1.1 2.2h0.8m-1.6 -6.7h0.8m-1.4 -3.3h0.8m0.9 9.7h0.8m-2.3 -9.3h0.8m-1 17h0.8m3.2 1h0.8m-2.9 -14.3h0.8m-6.2 11.4h0.8m4.5 -4.9h0.8m-8.9 -12.7h0.8m6 10.9h0.8m-9.2 -1.2h0.8m4.7 -8h0.8m-5.4 11.2h0.8m4.7 8.7h0.8m1.9 -8.5h0.8m-2.7 3.1h0.8m4 -9.5h0.8m-2 -4h0.8m-8.9 3.3h0.8m-1.5 4.8h0.8m7.3 -7.3h0.8m-1.2 16.4h0.8m-6 -21.8h0.8m5.1 10.4h0.8m-4.9 -8.3h0.8m-6.1 10h0.8m10.2 3.8h0.8m-10.3 6.2h0.8m0.8 -15.7h0.8m-0.2 13.8h0.8m-3.8 -1.3h0.8m7.3 -10.3h0.8m0.9 6.9h0.8m-1.9 -6.4h0.8m-1.7 -8.8h0.8m-7.1 1.7h0.8m5.3 13.5h0.8m1.1 -6.7h0.8m-1.2 -3.6h0.8m-1.5 1.7h0.8m-8.1 16.4h0.8m1.5 -3.9h0.8m0.2 -16.5h0.8m-4.8 2.4h0.8m4.2 1h0.8m-5.1 3h0.8m-3.5 8.9h0.8m11.1 -7.3h0.8m-9.4 2.1h0.8m-2.4 1.6h0.8m7.1 -7.7h0.8m-1 -0.8h0.8m-9.6 12.1h0.8m4.1 3.8h0.8m-2.7 -2.2h0.8m1.5 -1.3h0.8m2.8 -5.2h0.8m-1.4 -7h0.8m-0.7 8.6h0.8m1.6 2.3h0.8m-4.7 -17h0.8m1.6 15.8h0.8m-0.6 -6.7h0.8m2.7 2.1h0.8m-9.9 -5.7h0.8m-3.9 0.3h0.8m6.3 16.2h0.8m-3.2 -18.3h0.8m1.7 17.5h0.8m-9.1 -15.4h0.8m0.2 4.3h0.8m8 11.2h0.8m-8.9 -18.4h0.8m0.7 15.2h0.8m5.5 0.5h0.8m-6.8 1.4h0.8m-2.4 -5.3h0.8m-7.9 4.6h0.8m14.3 -10.7h0.8m-1.7 -2.8h0.8m-4.4 -6.1h0.8m-2.4 7.1h0.8m4 8.4h0.8m-11 -12.9h0.8m5.1 18.1h0.8m5.5 -11h0.8m-7.8 9.2h0.8m-2.2 2.3h0.8m-1.1 -6.1h0.8m7.4 -11.5h0.8m-1.9 8.1h0.8m-4.1 12.4h0.8m-8.1 -12.7h0.8m1 2.5h0.8m-0.9 -3.7h0.8m5 8.9h0.8m-6 -18.5h0.8m-6.6 13h0.8m5.5 1.1h0.8m5.8 -5.2h0.8m-3.2 -9h0.8m3.5 3.7h0.8m-15.3 -1h0.8m3.6 11h0.8m6.8 4h0.8m-2.9 -15.3h0.8m1.5 16.5h0.8m-7.9 -12h0.8m-0.6 -5.9h0.8m7.7 5h0.8m-0.1 3.8h0.8m-11.5 2h0.8m7.9 -12.3h0.8m-2.6 21.6h0.8m-5.6 -10h0.8m5.4 -6.8h0.8m-0.3 16.8h0.8m-6.3 -8.6h0.8m-1.1 -8.1h0.8m2.4 1.2h0.8m-6.9 7.3h0.8m11 3.1h0.8m-8.7 -3.7h0.8m7.4 3.1h0.8m-10.7 -4.3h0.8m-3.9 -5.6h0.8m9.4 15.2h0.8m-8.3 -13.3h0.8m9.3 -0.1h0.8m-8.1 13.6h0.8m-1 -19.9h0.8m7.2 7.2h0.8m-3.3 14.1h0.8m-9 -13.5h0.8m5.5 7.2h0.8m-2.1 -14.1h0.8m-2.1 16.8h0.8m-4.9 -6.7h0.8m-1.5 5.5h0.8m0.1 -0.6h0.8m9.5 -0.4h0.8m-8.3 5h0.8m5.8 -11.2h0.8m-7.1 -1.3h0.8m-3.2 7h0.8m-0.8 -1.6h0.8m-0.1 -11.6h0.8m0.9 2.6h0.8m-2.1 3.5h0.8m6 9.7h0.8m-9.9 -14.8h0.8m8.8 2.3h0.8m-7.2 2.6h0.8m4.5 0.5h0.8m0.8 -0.6h0.8m-12.1 6.9h0.8m8.8 -2.6h0.8m-2 -11.2h0.8m-9.3 9.2h0.8m3.8 9.1h0.8m1.2 -2.7h0.8m4.7 -2.8h0.8m-5.5 5.2h0.8m-7 -10.2h0.8m3.8 9.2h0.8m-0.2 -16.6h0.8m2.7 5.3h0.8m1.3 4.2h0.8m-2.6 -3.2h0.8m-6 -0.1h0.8m-0.9 -3h0.8m-1.6 3.2h0.8m-2.9 13.3h0.8m-1.1 -17.1h0.8m2.9 16.9h0.8m-0.3 -25.6h0.8m0.6 21.5h0.8m-10 -9h0.8m6.3 -4.2h0.8m-2.3 -4.3h0.8m-1 6.5h0.8m7.2 5.4h0.8m-5.5 8.4h0.8m-5 3.2h0.8m-1.2 -20.8h0.8m6.7 20.7h0.8m-2.9 -2.2h0.8m-5.8 -17.9h0.8m-0.6 12.2h0.8m2.3 8.1h0.8m5.5 -30.3h0.8m-6.5 16.4h0.8m-6.6 9.7h0.8m11.6 -13.7h0.8m-16.7 9.7h0.8m5.6 1.4h0.8m10.8 -4.7h0.8m-13.3 -6.9h0.8m7.2 2.2h0.8m-0.6 -0.7h0.8m-11.1 -4.5h0.8m24.1 15.4h0.8m-17.2 -10.1h0.8m-0.3 -5.7h0.8m-7.7 4.7h0.8m4.1 11.1h0.8m-8 -4.6h0.8m7.5 -10.3h0.8m6.9 -3h0.8m-1.2 6.8h0.8m-7.9 -11.5h0.8m-5.5 22.2h0.8m5.7 -5.5h0.8m-12.4 -10.8h0.8m1.8 10.7h0.8m8.1 -2.9h0.8m-8.3 -5.4h0.8m6 -8.4h0.8m-10.1 26.8h0.8m5.4 -14.3h0.8m1.4 -0.8h0.8m-16.5 -6.9h0.8m13.5 8.4h0.8m-3.3 -2.3h0.8m1.1 14.5h0.8m2.8 -23.3h0.8m-10.7 -2.6h0.8m-1.6 29.6h0.8m4.7 -6.6h0.8m8.1 -8.7h0.8m-2 -10h0.8m-4.7 1.9h0.8m-4 4.2h0.8m7.7 0.9h0.8m-11.7 5.4h0.8m-2.6 -1.1h0.8m8.4 -11.3h0.8m-7.8 13.1h0.8m3.3 -6.2h0.8m-3.3 9.9h0.8m-3.3 -0.5h0.8m0.8 -20.2h0.8m6.5 18.2h0.8m-10.8 -4.2h0.8m4.1 -9.4h0.8m-2.2 16.1h0.8m3.2 -11.1h0.8m-9.5 9.6h0.8m6.5 4.3h0.8m1.9 -12.7h0.8m-2.5 -2.8h0.8m11.4 5.7h0.8m-15.6 13.4h0.8m-9.1 -9.2h0.8m15.6 -1.6h0.8m-15.1 0.9h0.8m11.1 -19.4h0.8m-5.4 27h0.8m6.6 -17.6h0.8m1.1 21.1h0.8m-3.4 -6.6h0.8m-5.4 -24.2h0.8m-3.9 20.4h0.8m-3.7 -4.3h0.8m3.7 -2h0.8m1.8 -6.8h0.8m-3.3 9.6h0.8m-3.2 10.3h0.8m-0.8 -16.7h0.8m1.2 10.3h0.8m-1.5 3.9h0.8m-4.6 -5.7h0.8m-6.9 4.2h0.8m14.7 -2.6h0.8m-7.6 10.1h0.8m-3.4 -32.7h0.8m2.6 24.5h0.8m-3.1 -15.9h0.8m-2.4 19.2h0.8m-0.3 -3.2h0.8m10.3 -12.6h0.8m-14.1 16.8h0.8m5.4 -4.5h0.8m-12.2 -9.3h0.8m7.4 -4.1h0.8m7.3 15.7h0.8m-9.3 -5.8h0.8m-3.7 -10.3h0.8m3.1 15.5h0.8m2.2 -0.7h0.8m-4.6 4.1h0.8m-5 -3.4h0.8m-6.5 -15.6h0.8m10.2 -5.1h0.8m-2.2 12.5h0.8m1.6 15.1h0.8m2.5 -12h0.8m-3.4 -8.3h0.8m7.8 -11.9h0.8m-8.1 19.8h0.8m3.4 -6.9h0.8m-10.5 4.7h0.8m1.8 -7.8h0.8m-6.2 7.3h0.8m1.4 10h0.8m4.2 -8.1h0.8m-1.9 -4h0.8m-8.5 4.8h0.8m9.9 -0.8h0.8m3.7 -15.9h0.8m-10.3 29.1h0.8m7.4 0.7h0.8m1.2 -5.8h0.8m-2.3 2.6h0.8m-17.9 -9h0.8m2.6 4.4h0.8m10.1 -14h0.8m-8.1 13.5h0.8m5.3 -20.6h0.8m0.4 19.9h0.8m-6.3 -4.6h0.8m5.5 3.7h0.8m1.3 -2.1h0.8m8 -21.6h0.8m-14.6 18.1h0.8m-2.6 -7.4h0.8m2.4 20.2h0.8m-6.6 -5.6h0.8m-2.4 -14.2h0.8m9.4 -5h0.8m-8.3 17.6h0.8m-2.1 0.7h0.8m-0.7 6.4h0.8m1.6 -18.5h0.8m4.5 15.9h0.8m-5 -10.8h0.8m-0.5 -10.2h0.8m-0.1 18.6h0.8m4.9 0.2h0.8m-9.6 -14.4h0.8m4.9 -4.4h0.8m-7.9 22.6h0.8m-1.7 3.3h0.8m0.8 -15.1h0.8m2.8 4.7h0.8m-0.2 -2.5h0.8m-7.4 9.9h0.8m-2.8 -32.3h0.8m-2.3 34.6h0.8m13.7 -15h0.8m-13 11.2h0.8m-3 -11.7h0.8m-2.2 2h0.8m2.3 7h0.8m-3.7 -2.4h0.8m10.8 0.7h0.8m-4.2 -14.1h0.8m-0.3 13.9h0.8m10.9 -15.3h0.8m-3 22.1h0.8m-8.7 -1.7h0.8m-6.2 -25.5h0.8m-3.5 11h0.8m2.7 -2.9h0.8m-2.5 6.8h0.8m0 12.7h0.8m4.2 -1.2h0.8m-8.2 -1.3h0.8m10.2 -3.2h0.8m-2.3 -4.2h0.8m3.1 6.1h0.8m-10.3 -23.3h0.8m8.3 9.9h0.8m-9.5 3.1h0.8m-12 -8h0.8m10.2 -5.2h0.8m9.1 3.6h0.8m-8.8 0.9h0.8m9 -10h0.8m-12.5 15h0.8m4.9 10.6h0.8m-6.3 -0.8h0.8m-9.8 2.2h0.8m13.3 -5.8h0.8m-2.3 -5.3h0.8m-10.4 12.5h0.8m9.7 -7.1h0.8m-4.8 -6.2h0.8m-5.6 0.8h0.8m-4.5 11.7h0.8m12.7 -8h0.8m4 15.5h0.8m-14.9 -17.8h0.8m10.1 6.6h0.8m5.5 -3.6h0.8m-21.3 7.3h0.8m6.5 -9.1h0.8m10.6 1.5h0.8m-12.5 -13.5h0.8m6.9 22.7h0.8m-6.4 -22h0.8m3.9 21.3h0.8m-3.8 0.5h0.8m-6.6 -16.8h0.8m-7.4 -11.4h0.8m11.9 18.5h0.8m-2.1 -10.4h0.8m-1.3 -1.1h0.8m1.5 -0.9h0.8m-10.2 -19.1h0.8m1.9 16.1h0.8m-4.2 12.5h0.8m-0.1 -15.6h0.8m2.2 33.9h0.8m-3.4 -17.7h0.8m1.8 9.8h0.8m2.3 -15.9h0.8m1.9 -4.5h0.8m-10.8 23.6h0.8m5.7 -20h0.8m-1.5 13.4h0.8m1 -18h0.8m-2.7 20.5h0.8m-6.5 2.1h0.8m1.6 -26.6h0.8m1.1 18.9h0.8m7.7 -21.4h0.8m-12.4 29.3h0.8m-1.5 -35.9h0.8m2.2 26h0.8m-0.9 7.1h0.8m-0.3 -28.1h0.8m-6.2 23.9h0.8m3.9 -8h0.8m3.6 -20h0.8m-0.2 15.6h0.8m-13.1 19.9h0.8m2.4 -20.8h0.8m3.7 0.1h0.8m1.9 2.2h0.8m-3 5.3h0.8m-2.9 -19.2h0.8m0.3 12.9h0.8m2.9 0.3h0.8m-10.5 10h0.8m-0.4 0.6h0.8m6.7 -23.9h0.8m-3.7 20.4h0.8m4.5 -20.2h0.8m-5.5 5.6h0.8m-0.3 27.6h0.8m-0.5 -28.4h0.8m7 15.1h0.8m-7.4 2.3h0.8m-2.6 9.8h0.8m-0.5 -20.3h0.8m8.3 14h0.8m-13.4 -19.1h0.8m5.4 16.4h0.8m-0.5 -20.5h0.8m-1.1 3.6h0.8m8.2 25.4h0.8m-13.4 -22.1h0.8m-0.4 19.2h0.8m0.6 -21h0.8m-6.3 0.8h0.8m-3.6 -10.5h0.8m10.8 18.6h0.8m-10.3 0.6h0.8m3.8 -3h0.8m1 -13.9h0.8m-1.4 24.3h0.8m-8.2 -3.7h0.8m7.8 6.5h0.8m-9.1 -20.6h0.8m11.4 16.9h0.8m-1.7 -2.6h0.8m-7.7 -11.6h0.8m8.2 6.2h0.8m-9 -17.1h0.8m1.9 16.1h0.8m-1.1 21.7h0.8m-2.3 -10h0.8m-6.7 -15.4h0.8m4.1 0.7h0.8m1 -4.2h0.8m-7.5 13.8h0.8m5.6 -3.8h0.8m1.6 2.4h0.8m-7.7 -20.4h0.8m-4 24.1h0.8m10.3 -3.7h0.8m-7 -13.7h0.8m-1.7 -2.3h0.8m1.1 8.5h0.8m1 10h0.8m-1.3 -5.1h0.8m7.8 6h0.8m-14.4 -8.1h0.8m9 23.7h0.8m-5.2 -25.3h0.8m-9.3 11.2h0.8m1.5 -6.4h0.8m8.6 -7.3h0.8m-7.9 -12.3h0.8m-0.2 11.4h0.8m6.2 12.6h0.8m-1.6 -16.5h0.8m-3.5 6.8h0.8m-6.8 11.7h0.8m5.2 -5.2h0.8m-2.8 -0.9h0.8m-1.8 1.6h0.8m0.6 -13.2h0.8m1.4 7h0.8m-2.3 -5h0.8m-2.7 10.9h0.8m3.5 10.2h0.8m5.5 -33.2h0.8m-5.5 9.1h0.8m-8.7 10.8h0.8m8 -13.4h0.8m-3.5 9.6h0.8m3.1 9.7h0.8m-7.3 0.6h0.8m8.8 -22.4h0.8m-1.2 7.9h0.8m-6.6 8.1h0.8m-5.7 -2.9h0.8m7.9 -2.9h0.8m-5 10.5h0.8m-5 -24.9h0.8m9.1 20.8h0.8m-4.5 21h0.8m-12.9 -24.3h0.8m5.4 9.5h0.8m11.5 -10h0.8m-10 5h0.8m-4.1 5.9h0.8m9.7 -3.5h0.8m-8.2 15.4h0.8m4.7 -30.7h0.8m-7.4 24.9h0.8m-0.9 -28.3h0.8m-2.4 -7.3h0.8m2.1 27.7h0.8m-2.5 -14.7h0.8m-5.6 3.9h0.8m1.6 17.5h0.8m4.3 -25.7h0.8m-0.7 16.6h0.8m-2.7 -11.5h0.8m1.5 10.1h0.8m-3.6 16.7h0.8m0.3 -12.4h0.8m1.4 -10.2h0.8m-9.3 12.4h0.8m5.4 -7.7h0.8m2.6 -7.7h0.8m-13.6 0.9h0.8m6.8 -0.4h0.8m6.4 -0.6h0.8m-9.9 -11h0.8m-4.4 27.1h0.8m7.5 -3.1h0.8m-0.6 -0.9h0.8m-1.8 -11.6h0.8m-0.3 5.8h0.8m3.8 -7.1h0.8m-11.6 17.7h0.8m0.8 -23.9h0.8m3.7 14.9h0.8m-0.7 -17.1h0.8m-3.6 8.4h0.8m-3.8 -1.9h0.8m-0.3 24.4h0.8m3.2 -2.8h0.8m1.2 -6.9h0.8m-2 -5.4h0.8m-8.8 -12.9h0.8m0.9 3.7h0.8m-2.9 19.4h0.8m3.7 -5.6h0.8m9.2 -2.2h0.8m-8.4 -2.1h0.8m-0.8 11.8h0.8m4.9 -7.9h0.8m-3 8.3h0.8m-6.6 -26.7h0.8m-0.7 -2.6h0.8m2 9.9h0.8m0.2 19.2h0.8m-6 6.6h0.8m-2.2 -36.9h0.8m4 7.8h0.8m-6.2 9.1h0.8m11.1 11.6h0.8m-2.2 -16.3h0.8m-2.4 8.5h0.8m-8.2 14.6h0.8m2.8 -26.8h0.8m5.1 10.8h0.8m1.5 4.6h0.8m-8.5 10.2h0.8m2.3 -22.5h0.8m-8.9 6.8h0.8m6.9 2.8h0.8m-7.7 -7h0.8m0 4.3h0.8m-0.1 5h0.8m3.9 9h0.8m-5.5 -8.9h0.8m5.8 -3.3h0.8m-1.9 14.2h0.8m-4.7 -27.2h0.8m0.8 1.8h0.8m-0.3 17.4h0.8m5.8 -5h0.8m-8.2 -10.9h0.8m-5.4 4.1h0.8m0.9 -4.6h0.8m5.9 18.6h0.8m-9.8 -4.2h0.8m6.4 2.2h0.8m-1.1 4.2h0.8m-5.8 -33.5h0.8m7.3 11.1h0.8m-4.7 5h0.8m3 16h0.8m-6.8 8.9h0.8m4.5 -20.4h0.8m-2.3 -5.4h0.8m-5.3 6.2h0.8m5.4 3.6h0.8m-5.1 8.7h0.8m9.1 6.9h0.8m-9.9 -37.6h0.8m1.7 28.3h0.8m-4.3 -2.6h0.8m0.4 4.9h0.8m-1.3 -13.7h0.8m4 -9.1h0.8m-5.1 10.5h0.8m3.1 9.4h0.8m-4.6 2.5h0.8m-7.4 -3.3h0.8m6.6 -28.4h0.8m-1.2 13.8h0.8m-4.8 -8.9h0.8m2.2 22.8h0.8m-5.9 -2.1h0.8m15.7 -2.6h0.8m-12.2 -6.1h0.8m3.9 -14.6h0.8m-9 24.2h0.8m-0.4 12.9h0.8m1 -37h0.8m-3.3 15.2h0.8m9 0.4h0.8m-1.6 -5.9h0.8m-11.7 23.5h0.8m1.1 -0.9h0.8m9.9 -22.1h0.8m-11.6 -2.1h0.8m1.1 11h0.8m4.2 -1.3h0.8m0.9 4.8h0.8m-7.9 -8.4h0.8m-1.7 -8.4h0.8m1 2.5h0.8m2.2 10h0.8m-8.5 14.6h0.8m3.7 -20.1h0.8m-6.9 14.1h0.8m5.2 -5.8h0.8m5.1 -7.8h0.8m-4.6 0.9h0.8m-4.3 15.9h0.8m2.1 6.5h0.8m-5.3 -24.8h0.8m1.7 12h0.8m-5.9 1.1h0.8m10.5 -10.7h0.8m-2 -2.8h0.8m-1.2 8.2h0.8m-6.5 10.7h0.8m1.5 3.1h0.8m4 -1.3h0.8m-5.3 -1.7h0.8m0.4 -20.7h0.8m-4.5 -6.2h0.8m0.3 10.3h0.8m2.6 -2.8h0.8m-6.2 -1.1h0.8m3.2 0.1h0.8m-3 2.4h0.8m-1 3.6h0.8m-3.4 4.8h0.8m8.5 8.3h0.8m0.8 -14h0.8m-0.3 11.7h0.8m-4.1 4.5h0.8m-5 -26h0.8m-2.7 5.4h0.8m1.3 4.2h0.8m1.5 -11.2h0.8m-2.9 22.3h0.8m-5.8 5.2h0.8m7 -22.6h0.8m-6.1 10.8h0.8m-3.9 6.7h0.8m-1.4 -13.2h0.8m-0.8 0.5h0.8m2.7 -9.9h0.8m3.1 3.6h0.8m-0.6 19.2h0.8m1.7 -2.8h0.8m-10.1 11.7h0.8m10.5 -22.2h0.8m-12.7 8.7h0.8m8.3 -8.6h0.8m-8.3 0.3h0.8m-1.9 25.4h0.8m9.7 -27.1h0.8m-3 21h0.8m-8.2 -26.7h0.8m5.1 3.3h0.8m2.3 9.8h0.8m-4.1 -3.9h0.8m-3 11.5h0.8m-0.3 -17.3h0.8m5.8 13.9h0.8m-8.4 -10.9h0.8m3.7 -1.3h0.8m0.6 -5.7h0.8m-6 16.7h0.8m-2.8 -27.1h0.8m6.3 24.3h0.8m-7.6 -10.2h0.8m-2.3 -5.2h0.8m6.9 3.1h0.8m1.7 12.5h0.8m-1.2 13.4h0.8m-13.3 -36.1h0.8m8.2 15.9h0.8m-6.4 8.5h0.8m13.1 -14.8h0.8m-6.5 10.5h0.8m0.7 20.3h0.8m-1.5 -10.7h0.8m-1 -15.3h0.8m-5.1 8.9h0.8m-6 4.7h0.8m0.1 -30.4h0.8m19 18.2h0.8m-15.5 23.7h0.8m-3.7 -13.8h0.8m6.8 -16.2h0.8m-13.2 27.8h0.8m7.8 1h0.8m-6.8 -18.7h0.8m6.3 -7.4h0.8m-7.6 18h0.8m4 -15.2h0.8m-5 1.9h0.8m8.1 3.6h0.8m-2.5 -8.2h0.8m2.6 25.1h0.8m-13 -17.4h0.8m6 -17.9h0.8m-2.6 9.4h0.8m-2.6 26.3h0.8m1.7 -16.4h0.8m-2.5 -19.2h0.8m-5.3 9.8h0.8m3.9 -0.6h0.8m1.2 8.6h0.8m-4 -4.1h0.8m1.2 -2.1h0.8m4.8 14.4h0.8m-4.5 12.8h0.8m-0.7 -4h0.8m-6.6 -46.1h0.8m9.2 46.9h0.8m-8.6 -11.9h0.8m-5.4 -9.6h0.8m-1.4 13.3h0.8m4.7 -8.5h0.8m1.7 -5.6h0.8m0.7 1.8h0.8m-7.6 24.6h0.8m1.5 -7.3h0.8m4.8 -29.5h0.8m-8 -0.5h0.8m14.6 32.5h0.8m-14.3 -8.6h0.8m5 -2.6h0.8m4.8 12.1h0.8m-13.4 -31.1h0.8m5.5 12.9h0.8m3.1 -4.9h0.8m-10.9 8h0.8m4.7 7h0.8m-2.9 -3.5h0.8m-7.1 0.4h0.8m-2 -22.8h0.8m16.6 16.4h0.8m-7.9 -4.4h0.8m-12.3 -10.1h0.8m6.3 25.9h0.8m-3.4 -7.9h0.8m5 -9h0.8m-2.4 -6.6h0.8m1.8 22.2h0.8m-8.2 -16.9h0.8m9.6 11h0.8m-8.4 0.1h0.8m-0.6 0.6h0.8m-3.1 6.2h0.8m2.9 -1.2h0.8m-7.7 -8.6h0.8m10 0.6h0.8m-6.9 -11.1h0.8m3.1 15.4h0.8m-0.9 -30h0.8m-6.4 23.2h0.8m9.7 14.1h0.8m-4.2 -28.5h0.8m-6.5 33.2h0.8m0.4 -18.7h0.8m-3.6 -17.9h0.8m4.6 21.5h0.8m-4.7 -10.5h0.8m1.7 -1.6h0.8m-2.2 29.7h0.8m0.2 -7.8h0.8m2.1 -11.7h0.8m-0.4 -11.1h0.8m1 14.3h0.8m-7.2 0h0.8m-2.6 -23.6h0.8m3.7 28.5h0.8m3.5 -0.9h0.8m-0.6 -17.4h0.8m-5.3 6.6h0.8m-8.2 3.2h0.8m-2.5 -8.8h0.8m2.8 7h0.8m-0.1 -6.9h0.8m-3 18h0.8m0.9 -6.1h0.8m1.3 -13.3h0.8m4.2 18h0.8m-8.2 -36h0.8m4 32.5h0.8m-6 -16.3h0.8m-2.4 8.6h0.8m3.8 2.6h0.8m-0.2 12.5h0.8m18.1 -28.8h0.8m-2.1 0.7h0.8m5 2.8h0.8m-3.3 1.9h0.8m-6.3 2.1h0.8m4.9 -5.7h0.8m1.5 6.5h0.8m-4.6 -1.1h0.8m-3.1 -2.8h0.8m-1.5 -1.8h0.8m6.7 1.8h0.8m-3.2 3.3h0.8m-4.4 -0.6h0.8m4.1 -1.5h0.8m-2.1 -7.4h0.8m-5.9 8.7h0.8m6.7 -3h0.8m-10.5 3.9h0.8m3.7 0.4h0.8m2.2 -4.4h0.8m1.7 5.7h0.8m-15.4 -1.4h0.8m8.7 0.1h0.8m-5.1 4.1h0.8m10.3 -17.4h0.8m-9.2 14.1h0.8m2.8 -6.7h0.8m0 3.9h0.8m-2.1 2.1h0.8m1.6 -4h0.8m-2.1 2.9h0.8m-8.1 -0.2h0.8m9.6 -4.5h0.8m-9.2 3.5h0.8m7.3 0.6h0.8m-5.4 -9.1h0.8m6.9 6.6h0.8m-14.3 6.8h0.8m0.8 -10.5h0.8m3.6 13.3h0.8m-4 -14.6h0.8m-6.5 8.9h0.8m4 -0.4h0.8m7.4 -0.8h0.8m-3 -2.3h0.8m-9.1 4.4h0.8m-1.7 -2.6h0.8m2.6 -4.3h0.8m0.9 2.8h0.8m0.6 -8.4h0.8m0.1 11.7h0.8m-3.7 -1.5h0.8m-0.1 -3.8h0.8m-4.2 6.6h0.8m7.5 -5.9h0.8m-1.6 3.8h0.8m-0.9 -3.6h0.8m-0.1 0.4h0.8m4.1 0.5h0.8m-19.8 2.3h0.8m10.9 -5.4h0.8m-3 7.7h0.8m1.5 0.4h0.8m-2.1 -3.1h0.8m-3.7 -2.5h0.8m0.9 1.9h0.8m3.4 -0.6h0.8m-7.2 0h0.8m7 1.4h0.8m-1.6 1.1h0.8m-4.7 4.5h0.8m8.4 -6.1h0.8m-10.8 2.6h0.8m2 -3h0.8m-4.2 -0.7h0.8m4 -2.3h0.8m-3.2 0.4h0.8m-2.5 -0.4h0.8m0.6 4.3h0.8m-3.1 -2.2h0.8m-2.9 13.9h0.8m-20.5 -26.8h0.8m20.5 40.5h0.8m-20.7 -4.7h0.8m2.3 -33.8h0.8m-0.4 35.1h0.8m7.5 -39.2h0.8m-0.8 17.6h0.8m-9 24.8h0.8m4.6 -14.4h0.8m-1.3 5.1h0.8m0.4 -6.3h0.8m-6 18h0.8m17.2 -20.8h0.8m-13.6 19.8h0.8m-6.6 -17.5h0.8m5.7 -1h0.8m-4.3 2.6h0.8m-7.1 -18.4h0.8m11.4 21.7h0.8m-11.5 2.9h0.8m8.4 -8.5h0.8m-8.7 0.4h0.8m-2.5 -12h0.8m7.7 -1.3h0.8m4.1 28h0.8m-2.3 -10.9h0.8m-13 -17.9h0.8m9.3 2.7h0.8m-7.1 -2.5h0.8m8.2 9.3h0.8m-1.7 16.3h0.8m-15.1 -12.8h0.8m5.4 -2.1h0.8m5 -10h0.8m1 -9.4h0.8m-2.5 27.3h0.8m1.9 12.7h0.8m2.6 -15.1h0.8m-10.2 13h0.8m12.9 -15.9h0.8m-5.2 -1.3h0.8m-1.4 0.7h0.8m-1 -24.3h0.8m-20.8 21.3h0.8m19.3 24.3h0.8m-21.7 -28.4h0.8m17.7 -5.4h0.8m-10.3 20.8h0.8m10.3 -6.8h0.8m-6.8 -8.3h0.8m3.9 16.1h0.8m-10.3 5.9h0.8m4.9 -32.8h0.8m-6.7 12.5h0.8m5.1 -0.7h0.8m-3.7 -4.3h0.8m3.5 2.4h0.8m-8.9 21.2h0.8m-5 -12.4h0.8m9.1 19.3h0.8m6.6 -10.7h0.8m-4.3 3.9h0.8m-10 -37.7h0.8m2.4 18.6h0.8m-1.1 7.7h0.8m1.3 3.9h0.8m-3.7 9h0.8m-2 5.1h0.8m15.8 -12.4h0.8m-7.9 1.5h0.8m-14.9 -24.9h0.8m2.7 5.6h0.8m14.5 4.4h0.8m-22 -15.7h0.8m13.5 22.9h0.8m-2.3 -8.4h0.8m-0.5 -2.1h0.8m-3.7 21.9h0.8m-8.2 3h0.8m22.3 -27.3h0.8m-13.7 -9.2h0.8m8.6 16.7h0.8m-7.3 1.1h0.8m-7.3 4.5h0.8m16.3 -0.5h0.8m-21.4 -17.7h0.8m7.5 31.4h0.8m-3.3 -12h0.8m-5.4 -7.3h0.8m8.9 19.4h0.8m-11.8 -35.4h0.8m-0.2 0.7h0.8m-3.9 23.7h0.8m1.3 0.5h0.8m-2.7 -7.6h0.8m6.2 10h0.8m-4.4 -27h0.8m4.2 23.7h0.8m-5.4 -2.3h0.8m1.6 -14.1h0.8m2.3 18h0.8m-13.7 -12h0.8m7.1 15.9h0.8m-0.4 -21.3h0.8m-4.6 11.4h0.8m8.4 9.4h0.8m-12.9 -12.9h0.8m15.5 -9.8h0.8m2.7 10.5h0.8m-14.8 0.2h0.8m-8.3 -1.2h0.8m-0.6 8h0.8m18.3 13.4h0.8m-11.8 -30.6h0.8m1.6 7.4h0.8m2.6 -7.6h0.8m5.5 2.3h0.8m-2.8 10h0.8m-8.7 -8.1h0.8m-2 12.9h0.8m0.1 6.5h0.8m7.1 -7.3h0.8m-2.2 -4.6h0.8m-4.9 0.7h0.8m-3.9 -19.1h0.8m8.1 22.6h0.8m6.7 -7.1h0.8m-10.8 20.6h0.8m-4.9 -1.2h0.8m-5.6 -8.2h0.8m3.2 -9.2h0.8m-5.4 -4.2h0.8m5.9 11.6h0.8m-4.9 -8h0.8m8.1 -13.3h0.8m-5.8 37.8h0.8m-1.6 -25.9h0.8m0.1 12.2h0.8m-14.5 -10.5h0.8m14.8 2.7h0.8m2.1 9.4h0.8m-0.3 9.7h0.8m-3.6 -13.6h0.8m-1.6 -22.5h0.8m-10.4 28.6h0.8m-1.5 -11.1h0.8m13.3 17.4h0.8m-15.3 -18.7h0.8m-3.2 -9.8h0.8m2.6 -0.3h0.8m9.8 21.1h0.8m9.4 -30.6h0.8m-12.9 31.1h0.8m-1.8 -25.6h0.8m-1.5 18.4h0.8m-1.8 7.7h0.8m-14.5 -7.8h0.8m9.2 -23.7h0.8m3.4 7.3h0.8m-3.8 8h0.8m5 11.2h0.8m3 -10.2h0.8m-8.2 9.3h0.8m-1.5 -15.5h0.8m8.7 8.1h0.8m-7.2 23.9h0.8m-0.1 -44.5h0.8m0.4 23.5h0.8m-2.2 -10.8h0.8m-10.9 19.4h0.8m5.5 -12.8h0.8m12.8 23.8h0.8m-7.8 -44h0.8m-17.5 34.1h0.8m-1.5 -13.8h0.8m19 13.1h0.8m-7.1 -12.9h0.8m-6.9 -7.9h0.8m10.2 9.6h0.8m0.5 2.7h0.8m-20.5 2.3h0.8m22.2 19.7h0.8m-13.9 -41h0.8m5.7 37.5h0.8m-18.7 -22.1h0.8m12.8 -4.4h0.8m11.1 23.6h0.8m-22.2 -28.6h0.8m1.8 3.7h0.8m-0.6 -13.4h0.8" stroke="#6c6c6c" stroke-width="0.8" stroke-opacity="0.7" fill="none"/><path d="M47.7 622.5h1m-4 -4.4h1m-1 -3.9h1m0.9 8.3h1m-0.6 0.1h1m-3.9 -0.5h1m7.4 -3.6h1m-4.5 -5h1m1.9 4.6h1m-2.6 -1.5h1m1.4 -0.5h1m-6.4 5.4h1m4 -4.6h1m0.2 0.7h1m-9.7 -3.6h1m3.7 9.5h1m1.2 -2.4h1m-5.8 1.1h1m3.1 -0.7h1m-1 -5.8h1m2.6 4.6h1m-4.9 0.1h1m-5.4 0.8h1m-0.8 -0.7h1m0.8 1.9h1m-1 -0.5h1m3.2 -2.5h1m-6.5 1.4h1m3 -3.4h1m-1.7 -2.6h1m-1.3 1.7h1m0.6 1.7h1m-1.2 -0.3h1m-0.4 -2.8h1m-6.5 0.9h1m4.5 2.8h1m-5 -3.2h1m-1.4 0.1h1m6.6 1.3h1m-11.2 0.4h1m5.3 1.4h1m-1.3 -4.4h1m1.2 5.4h1m-7 1.8h1m-2.1 1.8h1m1.2 -9.1h1m1.8 8.2h1m-0.7 -6.3h1m-5 -2.8h1m-2.7 7.2h1m-2.1 0.8h1m2.1 1.6h1m-3.9 -3.3h1m-1.5 0.1h1m-0.8 -1.2h1m7.2 -2.9h1m-3.4 8.1h1m-1.8 -0.7h1m3.5 -7.2h1m-9 0.3h1m5.1 4.2h1m-4.2 1.8h1m-3.3 -7.5h1m4.7 3.1h1m-6.2 5.4h1m2.2 -7.2h1m-6.4 0.6h1m5.4 5.7h1m-9.4 -2.4h1m0.8 -2.4h1m3.2 -2.4h1m-4.7 7.1h1m-1.4 -5.1h1m-1.1 4h1m0.2 0h1m1 -7h1m-1.6 2.7h1m5.5 3.7h1m-6.6 0.6h1m-5 -3.4h1m1.8 -0.3h1m-3.1 0.4h1m5.5 1.4h1m-3.2 -3.4h1m0 5.2h1m0.7 -0.2h1m0.3 -0.8h1m-1.6 -0.4h1m-5 2.1h1m2.2 -5.4h1m-7.1 0h1m6.3 4.4h1m-2.1 -2.2h1m-8.3 3.2h1m-0.3 -5.6h1m6.6 0.3h1m-6.1 -0.4h1m2.3 6.5h1m-2 -8.7h1m-2.6 7.7h1m0 -5.6h1m-3.9 6.7h1m-0.1 -7.1h1m0.7 0.7h1m-6.1 2.8h1m7.3 -2.7h1m-9 0.9h1m1.8 7h1m3.1 -4.2h1m-0.9 -2.4h1m-2.5 3.3h1m1.3 0.7h1m-6.3 -7.6h1m-0.6 7.9h1m-2.7 -3h1m0 3.9h1m4.4 -1.9h1m-6.2 2.4h1m3.5 -4.3h1m-4.1 -4.1h1m-1.9 8h1m1.9 -7.1h1m-6 1.8h1m5.3 3.8h1m-1.8 -4.7h1m-5.2 -2.1h1m2.6 1.3h1m-7.3 5.7h1m1.1 -0.7h1m-1.7 2.5h1m1.8 -1.9h1m0.7 -7h1m-6.4 3.3h1m0.8 2.2h1m3.5 -2.9h1m-2.5 -0.9h1m2 2.9h1m-9.3 -4.5h1m6.7 3.9h1m-4.2 3.1h1m-2.9 -5.1h1m5.4 5.5h1m-2.5 -1.9h1m0.1 -0.7h1m-10.7 0.4h1m2.2 -4.8h1m6.2 3.4h1m-6.3 2.2h1m-8.6 -0.7h1m4.6 0.7h1m5.2 2.1h1m-5.1 -6.5h1m1.9 1.1h1m-2 4.2h1m-6.2 -6.5h1m0.2 7.1h1m1.7 0.4h1m1.6 -1.6h1m-1.8 0h1m-5.5 -1.3h1m1.9 2.2h1m-6.1 -0.5h1m3.4 -6.8h1m-0.6 0.3h1m-1.8 6.7h1m-0.6 1.3h1m1.6 -1.1h1m0.1 -5.6h1m-1.2 6.1h1m-2 1.2h1m-2.5 -2.2h1m1.3 0.8h1m-1 -5.2h1m-1.7 0.5h1m-4.5 -2.2h1m-0.2 8.8h1m5.7 -4.4h1m-9.5 -3.7h1m1.5 0.3h1m2.4 6.3h1m-4.4 -6.9h1m1.3 0.5h1m2.1 4.4h1m-4.9 -4.7h1m-1.6 5.9h1m-2.5 1.9h1m4.5 -6.2h1m-5.3 -1.2h1m-2.7 -0.3h1m6 -0.9h1m-7.5 -0.9h1m0.1 2.4h1m-0.7 4.7h1m1.5 -1.7h1m-6.6 -2h1m0 -0.9h1m-0.3 5.3h1m4 -1.6h1m-5.6 -5.3h1m1.7 2.9h1m1.8 2.4h1m-6.4 2.8h1m-6.5 -7.9h1m-0.1 2.9h1m7.8 0.2h1m-3 4.9h1m-1.8 20h1m-1.4 -10h1m-4.5 3.9h1m8.9 6.8h1m-6.2 1.4h1m-1.3 -12.5h1m-7.9 4.4h1m5.1 -0.3h1m1.6 -4.3h1m-1 5.3h1m-5.2 -4h1m2.3 0.2h1m-1.9 6.7h1m-1.2 -2.4h1m-5.3 -3.4h1m2.6 -0.3h1m-1.4 -4.6h1m1.2 7.5h1m0.4 -0.1h1m-4 7.8h1m-1.7 -12.9h1m-0.2 16.4h1m-6.7 -6.1h1m2.4 -9.7h1m-1.1 3h1m-3.9 6.3h1m1.5 3.9h1m1 -12.7h1m0.8 4.9h1m-3.9 -6.7h1m0 17.6h1m1.4 -10.1h1m-4.5 -3.9h1m-4.2 3.5h1m4.4 -3.1h1m0.7 4.2h1m-2.2 -5.1h1m-4.2 0.3h1m-4.2 4.4h1m-1.6 -5.7h1m1.2 5.9h1m3.8 -2.5h1m-7.8 1.9h1m1.9 -5.2h1m0.8 12.2h1m1.7 -12.9h1m-6.7 8.1h1m-2.1 -0.7h1m3.5 -5.5h1m-3.3 9.8h1m-2.5 -13.8h1m-0.5 6.8h1m-0.6 -5h1m5.3 10.2h1m-6 -13.3h1m-1.9 6.8h1m-3.5 5h1m6.1 3.3h1m-7.5 -11.2h1m2.9 9.6h1m2.1 -3.5h1m3 1.2h1m-7 3.5h1m-2.7 0.9h1m1.6 -15.8h1m-3 15.8h1m-5.2 -9.1h1m6.7 8.2h1m-5.4 1.2h1m-4.7 -3.9h1m5.2 -1h1m1.1 5.8h1m-5 -13.3h1m-1.8 0.9h1m-1.6 12.4h1m0.2 0.3h1m0.3 -1.4h1m-5.1 -7.9h1m1.7 -4.2h1m2.2 2.5h1m-2.7 -1.9h1m-6.4 6.4h1m3.9 5h1m1.6 -7.9h1m-3.7 6.1h1m-0.4 2.1h1m-1.5 -2.1h1m-2.2 -9.4h1m2.1 4.7h1m-7.8 1.3h1m4.9 -6.1h1m-1.6 15.3h1m-5.6 -7.5h1m3.1 3.2h1m0.6 -10.8h1m-5 7.6h1m3.1 -3.8h1m-0.4 0.3h1m-2 8.3h1m0.2 -9.4h1m-4 -5.4h1m-3.4 7.5h1m-1.3 -0.5h1m0.3 5.4h1m-0.4 -1.6h1m1.5 1.2h1m-0.6 0.1h1m-2.8 -11.3h1m1.6 11.7h1m-6.3 -9h1m5.7 -1h1m-2.9 5.7h1m-0.8 2.8h1m-2 -9.4h1m-8 6.1h1m2.2 -1.2h1m4.7 3.9h1m-1.7 -12.1h1m0.6 8.7h1m-8.6 6.8h1m4.5 -7.6h1m-0.3 2.3h1m-7.3 1.6h1m8 4.3h1m-3.5 -12.3h1m-3.7 -0.7h1m1.4 11h1m-2.1 -15.5h1m-1.8 4.6h1m-2.4 9.9h1m-1.9 -0.2h1m-0.1 1.2h1m-3 -5.9h1m-2.2 -2.8h1m-2.5 1.7h1m0.8 -3.4h1m4.2 1.7h1m-2.3 -1.9h1m2.2 4.6h1m-6.6 4.1h1m5 3.7h1m-3.8 -1.4h1m-4.7 0h1m-1.4 2.3h1m1 -2.2h1m-3.1 -3.1h1m-0.6 1.9h1m-0.9 -0.9h1m-0.3 -0.5h1m-0.7 -10.1h1m-1 2.8h1m4.6 5.6h1m-5 -7.8h1m3.3 10.4h1m-4.7 -7.9h1m2.4 2.8h1m-7.9 -2.6h1m0.2 12.3h1m3.5 -6.2h1m-7 -7h1m5.8 2h1m-5.4 8.7h1m-2.9 -13.1h1m5.8 5.6h1m-5.3 -3.8h1m3.8 4.6h1m-8.3 -5.8h1m5.6 6.5h1m-8.8 -3.7h1m5.3 0.2h1m-0.9 7.7h1m-7.4 -1.4h1m-0.1 1.3h1m-1.2 -4.8h1m3.2 7.3h1m0.1 -8h1m-5.3 3.3h1m5.1 -5.6h1m-9.5 2.4h1m8.5 -0.2h1m-7 7.1h1m2.3 -7.3h1m-5.4 -2.6h1m-1.6 6h1m2.6 5.2h1m-3.1 -2.1h1m-4.5 0.6h1m4.2 -8.9h1m0.1 7.7h1m-0.7 -6.7h1m2.1 -1.7h1m-2.3 1.3h1m-3.6 -0.5h1m-3.1 -4h1m0.1 1.8h1m0.3 3h1m-2.8 -1.4h1m-5.9 2.8h1m1.2 -1.5h1m4 4.6h1m-5.1 -1.5h1m2.1 -6.4h1m-4 14h1m-0.4 -0.8h1m0.7 -15.7h1m2.8 8.7h1m-6.8 -1.1h1m1.9 -2h1m-2.5 -1h1m-2.9 9.2h1m1.1 0.1h1m1.2 -7.6h1m-2.4 -4.2h1m1.5 7.5h1m-5.6 3.9h1m0.6 -8.7h1m-3 -2.4h1m-3.6 10.1h1m6.2 0.4h1m0.8 0.3h1m-5.2 -0.5h1m1.1 -4.2h1m-5.2 -8.5h1" stroke="#d43ad8" stroke-width="1" stroke-opacity="0.95" fill="none"/><path d="M51 618h1m-4.4 2.8h1m-3.2 -2.3h1m3.7 -1.2h1m-0.4 0.9h1m-5.3 1h1m-0.7 1h1m1.8 -3.2h1m-4.3 0.1h1m3.8 3.1h1m-4.6 0.8h1m-1.6 -3.1h1m0.9 -2.5h1m-2.2 5.1h1m-1.3 -3.4h1m1.4 -0.1h1m-0.3 3.1h1m0 -0.5h1m-3.8 0.9h1m0.6 -4.7h1m-2.2 0.3h1m-0.7 0.2h1m0 3.7h1m-5.4 -1.1h1m3.2 -1.7h1m-0.2 2.5h1m-1.2 -0.4h1m-1.2 -1.3h1m-4.3 -1.2h1m-2.1 1.8h1m3.6 -1.5h1m-1.2 0.1h1m-4.6 3.6h1m3 -1.5h1m-2.2 -2.9h1m0.2 2.8h1m-2.1 1.9h1m-1.9 -5.5h1m-3.8 3.8h1m2.4 -2.2h1m-2.3 3.5h1m-2.3 -0.2h1m0.5 -4.7h1m-1.3 1.2h1m-3 1.1h1m-1.2 -1h1m3.8 2.5h1m-4.6 1h1m-0.7 -3h1m0.2 -0.7h1m-2.6 0.4h1m-0.5 2.3h1m3.1 -0.2h1m-5.9 -2.5h1m-0.7 3.2h1m1.1 -4.3h1m0.3 1.9h1m-4.5 -1.5h1m1.1 0.2h1m-2.6 3.6h1m-1.9 -0.7h1m2.8 -2.7h1m-4.7 3h1m0.7 -2.8h1m-0.5 3.9h1m1.3 -2.5h1m-6.8 0.4h1m0.6 -0.8h1m-1.5 0.6h1m-1 21.7h1m0.9 2.4h1m-2.4 0.1h1m1.1 -7.1h1m-0.7 2.4h1m-2.3 -4.2h1m1.4 4.8h1m-0.9 2h1m-6.9 -1.4h1m3 4h1m1 -7h1m-1.8 2.4h1m-1 -1.1h1m-3.9 4.1h1m0.4 1.7h1m-3 -1.4h1m2.1 -0.4h1m-3.8 2.8h1m2.2 -2.3h1m-0.4 -0.4h1m-2.7 2.1h1m-2.8 -5.6h1m-0.4 4.2h1m-0.5 0.2h1m-0.4 -6.9h1m-3.4 0.2h1m2 8.1h1m-0.5 -5.9h1m-2.3 -1h1m-2.9 1.6h1m2.6 1.4h1m-1.7 -3.2h1m-1 5.1h1m-4.5 -2h1m-1 1.1h1m1.2 2.8h1m-2.8 -2.8h1m-0.6 -4.3h1m2.9 4.4h1m-2.1 -2.2h1m-2.5 -3.6h1m-2.1 1h1m-1.4 -0.4h1m-0.1 7.4h1m-1.4 -6.2h1m-1.6 2.6h1m-0.3 2.1h1m-1.1 -6.9h1m2.2 6h1m-5.3 -1.9h1m3.2 -0.1h1m-5.5 0.6h1m0.2 -2.8h1m0.2 -1h1m0.3 -0.4h1m-2.3 8.5h1m1.4 -7.3h1m-2.5 -0.3h1m-2.3 6.1h1m-0.1 -6.4h1m-4.3 2.2h1m0.1 -1.2h1m0 -2.3h1m1.7 3.9h1m-4.8 -2.1h1m2.8 4.4h1m-4.5 -5.6h1m-1.8 2.9h1m-0.3 1.6h1m0.4 -3.5h1m0.5 0.6h1m-4.8 4.9h1m-0.4 -2.3h1m1.6 -3.2h1" stroke="#9a48ee" stroke-width="1" stroke-opacity="0.95" fill="none"/><path d="M47.8 620h1m-1.7 -1.3h1m-0.8 1.9h1m0.7 -0.7h1m0.1 -0.3h1m-1.5 0.8h1m-3.5 -0.6h1m-0.6 -1.8h1m-0.3 2.1h1m-1 0.3h1m-2.8 -0.5h1m1.1 -2.5h1m-1.1 0.2h1m1.3 -0.3h1m-4.5 3.4h1m-1.3 -3.4h1m-0.3 2.6h1m1.2 -2.1h1m-2.4 0h1m-1.1 2.3h1m-2.2 -2.5h1m-0.9 2.6h1m-1 -0.4h1m0.9 -2.5h1m-3 0.4h1m-1.9 0.9h1m1.4 -1.5h1m-2.4 -0.5h1m-0.9 0.9h1m-1.9 1.5h1m2.2 -2.2h1m-2.7 0.7h1m0.4 0.6h1m-2.5 1.6h1m-1 -2.8h1m0.6 0.8h1m-3.3 0.6h1m-1.5 0.5h1m0.8 -1.5h1m-1.7 2.9h1m-0.8 0.6h1m-1.7 -1.5h1m-0.3 -2.4h1m0.6 2.8h1m-0.7 -1.5h1m-3.1 24.3h1m0.2 -1.1h1m-3.8 -0.9h1m1.7 -3.2h1m-1.6 0.7h1m-2.8 1.4h1m1.3 -1.6h1m-0.3 -1.1h1m-2.3 5.1h1m0.1 -5.7h1m-3.3 2h1m-0.7 4h1m0.6 -1.6h1m-0.6 -1.9h1m0.4 -1.3h1m-5 3h1m-0.9 -0.4h1m1.2 -2.4h1m-0.6 2.4h1m-2.1 1.7h1m-1.7 -4.6h1m-1.1 -0.4h1m0.3 0.2h1m-0.7 5h1m-3.2 -3.3h1m-0.6 2.7h1m0.1 -4.4h1m-3.1 4.2h1m0.1 -4.7h1m1.1 3.6h1m-2.2 -3.2h1m-1.5 0.8h1m-0.2 -1.1h1m-0.5 4.6h1m-1 -4.5h1m-1.2 5.9h1m-3.4 -3h1m0.7 3.4h1m-2.8 -2.5h1m0.2 -3.5h1m0.9 0.7h1m-2.6 3.9h1m-0.3 0.2h1m-3.4 -2.9h1m2.6 -0.7h1m-2.6 3.4h1" stroke="#4a80f2" stroke-width="1" stroke-opacity="0.95" fill="none"/><path d="M48.4 619.6h1m-0.4 -1.6h1m0.1 0.1h1m-1.7 0.9h1m-2.6 -0.2h1m-1.3 -0.3h1m1.1 -0.4h1m-1.8 0.1h1m-0.5 1.2h1m-1.4 -0.4h1m-1.2 -1h1m-0.5 0.3h1m-1 1.6h1m-1.2 -2.1h1m-2.3 1.8h1m0.1 -1.9h1m-0.6 0.6h1m-2 1.8h1m-1.2 -2.6h1m-1.2 2.7h1m-0.1 -0.3h1m-0.3 -1.5h1m-1.1 -0.4h1m-2.3 0.2h1m-1.3 -0.1h1m-2 0.3h1m1.7 0.2h1m-1 -0.2h1m-1.4 0.8h1m-0.8 0.3h1m-2.2 -1.4h1m-0.6 1.9h1m-0.2 -1.2h1m-2.5 20h1m-2.1 -0.1h1m0.7 0.6h1m-1.5 1.3h1m-0.1 -0.4h1m-1.4 0.6h1m-2 -3.3h1m0.1 1.3h1m-2.3 0.3h1m-0.1 0.3h1m-1.2 0h1m0.1 -0.3h1m-1.7 0.8h1m-0.5 -1.3h1m-1 -0.6h1m-1.6 2.6h1m-1.2 -3h1m-0.4 -0.2h1m-1.3 3.1h1m-1.8 0.1h1m-2 0.5h1m0.5 0.9h1m-1.2 -1.8h1m-1.1 0.9h1m-0.6 -2.8h1m-2.1 0.7h1m0.4 1.5h1m-0.4 -1.8h1m-0.9 2.5h1m-1.7 -1.9h1m-2.2 0.2h1m0.8 -0.4h1m-2.2 -1.4h1m-0.6 1h1m-1.3 -0.1h1m0.3 1.6h1m-2.3 -0.2h1m-1.7 -2h1m0.7 1.9h1m-2.8 0.1h1m0.6 -2.2h1m-3.2 1.6h1m0.9 -0.8h1m-1.1 2.2h1m-0.2 -0.6h1m-2.7 0h1m-0.7 -0.4h1m0.3 -0.5h1m-3.2 -0.1h1m-0.1 -0.4h1m-0.6 -0.4h1m-1.2 0.2h1m-0.7 2.1h1m-1.8 -2.9h1m1.2 1.5h1m-3.3 -0.2h1" stroke="#2cb8f0" stroke-width="1" stroke-opacity="0.95" fill="none"/><path d="M48.3 619h1m-1.1 0h1m-0.9 0.2h1m-1.2 -1.1h1m-0.3 0.1h1m-1.3 0.8h1m-2.1 -0.5h1m-0.3 -0.2h1m-0.8 0.9h1m-0.4 -0.6h1m-1.1 0.6h1m-1.8 -0.6h1m-1.1 -0.6h1m-1 0.4h1" stroke="#3ee07a" stroke-width="1" stroke-opacity="0.95" fill="none"/><rect x="32.5" y="597.5" width="55" height="55" fill="none" stroke="#777" stroke-width="0.8"/><line x1="55.5" y1="597.5" x2="55.5" y2="652.5" stroke="#585858" stroke-width="0.9"/><line x1="32.5" y1="628.5" x2="87.5" y2="628.5" stroke="#585858" stroke-width="0.9"/><line x1="32.5" y1="597.5" x2="32.5" y2="652.9" stroke="#3a3a3a" stroke-width="0.9"/><line x1="32.1" y1="652.5" x2="87.5" y2="652.5" stroke="#555" stroke-width="0.9"/><line x1="33" y1="614.67" x2="33" y2="615.25" stroke="#4a80f2" stroke-width="0.8"/><line x1="33" y1="615.25" x2="33" y2="616.25" stroke="#de34de" stroke-width="0.8"/><line x1="33" y1="616.25" x2="33" y2="618.73" stroke="#de34de" stroke-width="0.8"/><line x1="44.57" y1="651.9" x2="45.18" y2="651.9" stroke="#2cb8f0" stroke-width="0.8"/><line x1="45.18" y1="651.9" x2="47.65" y2="651.9" stroke="#e03030" stroke-width="0.8"/><line x1="47.65" y1="651.9" x2="53.18" y2="651.9" stroke="#4a80f2" stroke-width="0.8"/><line x1="33" y1="639.77" x2="33" y2="641.92" stroke="#2cb8f0" stroke-width="0.8"/><line x1="33" y1="641.92" x2="33" y2="644.25" stroke="#2cb8f0" stroke-width="0.8"/><line x1="33" y1="644.25" x2="33" y2="646.42" stroke="#de34de" stroke-width="0.8"/><line x1="47.6" y1="651.9" x2="51.55" y2="651.9" stroke="#2cb8f0" stroke-width="0.8"/><line x1="51.55" y1="651.9" x2="52.03" y2="651.9" stroke="#3ee07a" stroke-width="0.8"/><line x1="31.3" y1="600.5" x2="32.5" y2="600.5" stroke="#222" stroke-width="0.7"/><text x="30.2" y="601.8" font-size="3.7" text-anchor="end" fill="#444">10<tspan font-size="2.4" dy="-1.3">4</tspan></text><line x1="31.3" y1="611.2" x2="32.5" y2="611.2" stroke="#222" stroke-width="0.7"/><text x="30.2" y="612.5" font-size="3.7" text-anchor="end" fill="#444">10<tspan font-size="2.4" dy="-1.3">3</tspan></text><line x1="31.3" y1="621.9" x2="32.5" y2="621.9" stroke="#222" stroke-width="0.7"/><text x="30.2" y="623.2" font-size="3.7" text-anchor="end" fill="#444">10<tspan font-size="2.4" dy="-1.3">2</tspan></text><line x1="31.3" y1="632.59" x2="32.5" y2="632.59" stroke="#222" stroke-width="0.7"/><text x="30.2" y="633.89" font-size="3.7" text-anchor="end" fill="#444">10<tspan font-size="2.4" dy="-1.3">1</tspan></text><line x1="31.3" y1="643.29" x2="32.5" y2="643.29" stroke="#222" stroke-width="0.7"/><text x="30.2" y="644.59" font-size="3.7" text-anchor="end" fill="#444">10<tspan font-size="2.4" dy="-1.3">0</tspan></text><line x1="40.5" y1="652.5" x2="40.5" y2="653.7" stroke="#222" stroke-width="0.7"/><text x="39.9" y="658.6" font-size="3.7" text-anchor="middle" fill="#444">10<tspan font-size="2.4" dy="-1.3">0</tspan></text><line x1="49.54" y1="652.5" x2="49.54" y2="653.7" stroke="#222" stroke-width="0.7"/><text x="48.94" y="658.6" font-size="3.7" text-anchor="middle" fill="#444">10<tspan font-size="2.4" dy="-1.3">1</tspan></text><line x1="58.58" y1="652.5" x2="58.58" y2="653.7" stroke="#222" stroke-width="0.7"/><text x="57.98" y="658.6" font-size="3.7" text-anchor="middle" fill="#444">10<tspan font-size="2.4" dy="-1.3">2</tspan></text><line x1="67.62" y1="652.5" x2="67.62" y2="653.7" stroke="#222" stroke-width="0.7"/><text x="67.02" y="658.6" font-size="3.7" text-anchor="middle" fill="#444">10<tspan font-size="2.4" dy="-1.3">3</tspan></text><line x1="76.66" y1="652.5" x2="76.66" y2="653.7" stroke="#222" stroke-width="0.7"/><text x="76.06" y="658.6" font-size="3.7" text-anchor="middle" fill="#444">10<tspan font-size="2.4" dy="-1.3">4</tspan></text><line x1="85.7" y1="652.5" x2="85.7" y2="653.7" stroke="#222" stroke-width="0.7"/><text x="85.1" y="658.6" font-size="3.7" text-anchor="middle" fill="#444">10<tspan font-size="2.4" dy="-1.3">5</tspan></text><text x="35.8" y="602.8" font-size="4.4" textLength="10.65" lengthAdjust="spacingAndGlyphs" fill="#1a1a1a" stroke="#1a1a1a" stroke-width="0.06">47.4%</text><text x="85.5" y="602.8" font-size="4.4" text-anchor="end" textLength="8.4" lengthAdjust="spacingAndGlyphs" fill="#1a1a1a" stroke="#1a1a1a" stroke-width="0.06">1.8%</text><text x="35.8" y="650.2" font-size="4.4" textLength="10.65" lengthAdjust="spacingAndGlyphs" fill="#1a1a1a" stroke="#1a1a1a" stroke-width="0.06">50.7%</text><text x="85.5" y="650.2" font-size="4.4" text-anchor="end" textLength="8.4" lengthAdjust="spacingAndGlyphs" fill="#1a1a1a" stroke="#1a1a1a" stroke-width="0.06">0.1%</text><text x="60.5" y="669.9" font-size="8.8" text-anchor="middle" textLength="16.2" lengthAdjust="spacingAndGlyphs" fill="#111" stroke="#111" stroke-width="0.1">2DL1</text><path d="M125 622.6h0.8m4 -4h0.8m-13.6 1.4h0.8m12.9 -0.1h0.8m-0.4 1.2h0.8m-12 0.6h0.8m10.7 -3.6h0.8m-15.4 2.2h0.8m3.2 -3.9h0.8m-7.8 3.9h0.8m1.2 2.9h0.8m8.9 -8.5h0.8m-2.2 8.4h0.8m-7.8 -1.2h0.8m-2.6 0.4h0.8m14.7 -1.1h0.8m-7.5 3.2h0.8m5.9 -5.4h0.8m1.2 -0.5h0.8m-0.9 -2.3h0.8m-4.9 0.9h0.8m-6.8 -1.9h0.8m-5 -2.3h0.8m9.8 2.3h0.8m9.8 6.3h0.8m-16.3 -6.8h0.8m7.6 -0.1h0.8m-2 5.8h0.8m-15.6 -6h0.8m-3.1 2.5h0.8m16.8 -0.3h0.8m-0.2 5h0.8m0.7 -5.6h0.8m-2.7 0.8h0.8m2.8 2.4h0.8m-8.3 3.4h0.8m-9 -7.3h0.8m14.7 0.2h0.8m-21.6 1.6h0.8m17.4 5.5h0.8m-16.3 -7.3h0.8m4.9 -1.1h0.8m-5.7 1h0.8m7.6 -0.7h0.8m6.9 4.1h0.8m-16.8 -5.1h0.8m14.1 6.9h0.8m-15.6 1.6h0.8m2.7 1.8h0.8m-0.1 -9.1h0.8m-12.6 4.6h0.8m17 1.5h0.8m3.8 0.6h0.8m-14.3 -3.6h0.8m-0.2 -3.8h0.8m1.8 1.3h0.8m3 10h0.8m-18.1 -9.1h0.8m11.8 -2.6h0.8m1 9.7h0.8m-5.5 -2.3h0.8m3.3 2.8h0.8m8 -6.7h0.8m-0.6 0.2h0.8m-10.6 -0.5h0.8m4 4.8h0.8m0.5 -6.9h0.8m-11.6 2h0.8m15.1 3.8h0.8m-0.4 -5.9h0.8m0.3 3h0.8m-8 -3.1h0.8m-2.7 8h0.8m-3.7 1.2h0.8m-6.1 -3.4h0.8m4.6 -3.2h0.8m8.5 -0.6h0.8m-3.2 4.1h0.8m-16.3 1h0.8m6.9 0.1h0.8m11.6 -1.6h0.8m-14.4 -5.5h0.8m-7.9 1.8h0.8m4.6 -2.1h0.8m-5.3 2.2h0.8m20.9 5h0.8m-14.5 -13.5h0.8m-16 13.6h0.8m20.9 0.5h0.8m1.4 -2.7h0.8m-16.3 -0.3h0.8m9 4.2h0.8m-2.9 -8.4h0.8m-6.5 3h0.8m12.4 0.3h0.8m-1.3 1.2h0.8m-0.7 0.7h0.8m-13.1 2.6h0.8m-0.9 0h0.8m16.4 -1.2h0.8m-6.8 -3.9h0.8m-14.9 8.4h0.8m20.4 -2.2h0.8m-9.3 -9.2h0.8m0.8 8.2h0.8m2.9 -5.8h0.8m-15.2 -3.4h0.8m0.3 9.8h0.8m13.7 -10.1h0.8m-8.3 8.7h0.8m-9.3 -0.3h0.8m-3.7 -5.7h0.8m10.9 -1.4h0.8m1.8 9.2h0.8m-8.8 -0.7h0.8m2.6 -1.1h0.8m0.6 -5.5h0.8m-11.7 2.5h0.8m11.5 3.5h0.8m-3.4 -6.8h0.8m-11.6 0.9h0.8m12.2 3.8h0.8m3.4 -4.1h0.8m-22.6 -1.9h0.8m15.8 0.8h0.8m3.3 9.6h0.8m-14.7 -1.4h0.8m-6.5 -2.5h0.8m15.2 3.9h0.8m-5.9 -1.6h0.8m3.9 -1.2h0.8m-1 -9.1h0.8m-10.8 7.6h0.8m15.4 -4.1h0.8m-4.8 2h0.8m2.5 0.6h0.8m-15.2 2.2h0.8m11.3 -1.2h0.8m-4.4 3.7h0.8m5.5 -12.3h0.8m-16.6 10.7h0.8m12.2 0.6h0.8m-6.4 0.1h0.8m4.3 0.5h0.8m3.6 -3h0.8m-10.4 -9.2h0.8m9.6 8.7h0.8m-20 0h0.8m12 3.9h0.8m-11.1 -0.2h0.8m1.6 -2.8h0.8m13 -4.7h0.8m-1.5 -0.9h0.8m-11.1 8.6h0.8m-5.1 -7.3h0.8m3 6.7h0.8m-2.7 -0.2h0.8m12.9 -10.3h0.8m-9.6 2.1h0.8m-10.8 4.2h0.8m12.3 8.2h0.8m-2.6 -10.4h0.8m10.1 -1.3h0.8m-11.7 5.1h0.8m-0.5 1.6h0.8m3.5 -5.3h0.8m0.9 1.3h0.8m-13.8 2.3h0.8m-5.3 2.1h0.8m-1.5 -7.4h0.8m12.7 5.2h0.8m-14.5 -4.8h0.8m16.3 2.8h0.8m-8.1 -3.3h0.8m-10.8 3.5h0.8m11.7 4.5h0.8m-12.6 -3.8h0.8m9 -7.9h0.8m3.8 11.9h0.8m-10.7 -4.4h0.8m1 -4.9h0.8m10.1 3.9h0.8m0.5 4.4h0.8m-9.5 -8h0.8m-2.8 -0.6h0.8m-5.3 5.3h0.8m1 -3.3h0.8m1.8 7.9h0.8m1.7 -12.1h0.8m-6.7 7h0.8m-0.3 -4.1h0.8m-2.4 -0.4h0.8m1.8 8.1h0.8m0.6 -7.7h0.8m9.7 4.8h0.8m-6 3h0.8m1.2 -2.8h0.8m-7.3 4.1h0.8m-5.5 -12h0.8m9.2 5.8h0.8m-16.3 -0.2h0.8m6.9 -1.5h0.8m1.8 6.4h0.8m-6.6 -0.3h0.8m-1 -5h0.8m-1.8 2.5h0.8m8.3 3.4h0.8m-7 -1.8h0.8m1.8 -8h0.8m-3.9 5.2h0.8m10.7 -1.6h0.8m0 1.4h0.8m-5.7 -5.8h0.8m-6.8 4.9h0.8m-4.2 4.7h0.8m14.9 -5.4h0.8m-6.6 -1.1h0.8m-1.5 8.2h0.8m-2.2 -7.3h0.8m2 -1.3h0.8m-11 8.8h0.8m8 -4.6h0.8m-12.2 -0.4h0.8m7.1 -8.8h0.8m-15.1 7h0.8m29.8 2.3h0.8m-21.4 -5.9h0.8m-4.4 -1.7h0.8m21.4 -0.7h0.8m-5.7 0.2h0.8m4.8 14.6h0.8m-10.2 -10h0.8m-10.9 4.4h0.8m5.2 4h0.8m-4.9 -3.9h0.8m18.9 -1.1h0.8m-17.7 -3.1h0.8m10.2 4.1h0.8m4.8 -4.3h0.8m-20.5 6.7h0.8m-2.6 -8.6h0.8m-2.2 16.8h0.8m-1.2 -16.6h0.8m8.1 12.2h0.8m-9.5 -10.9h0.8m3.2 0.4h0.8m6 0.8h0.8m-5.5 -0.9h0.8m-0.9 -0.7h0.8m3.4 -0.3h0.8m7.3 2.5h0.8m-22.5 5.8h0.8m14.6 0.8h0.8m-1.3 -12.4h0.8m-6.1 4.8h0.8m-1.2 0.2h0.8m-11.1 -4.7h0.8m7.2 3.8h0.8m12.3 12.5h0.8m-1.3 -14h0.8m-24.3 6.8h0.8m20.3 2.4h0.8m-6.8 -4.7h0.8m18.9 -8.2h0.8m-17.9 7.2h0.8m-11.6 -1.6h0.8m12.2 -1.3h0.8m2.9 7.2h0.8m2.5 -1h0.8m-9.5 -13.8h0.8m-2.8 9.6h0.8m-4 1.3h0.8m7.6 -1.4h0.8m-5.3 -0.2h0.8m-11.6 -4.2h0.8m4.1 12.5h0.8m-7.8 -10.3h0.8m14.5 0.2h0.8m9.1 1.6h0.8m-12.4 -10.6h0.8m-11.8 21.6h0.8m7.8 -11.4h0.8m10.4 10.9h0.8m-11.4 -4.9h0.8m5.9 -0.3h0.8m-3.2 6.8h0.8m-8.3 -2.4h0.8m-6.3 -12.2h0.8m12.7 5.3h0.8m-22 -4.7h0.8m4.9 11.4h0.8m7.8 -1.4h0.8m-12.1 -4.8h0.8m18.1 -0.2h0.8m-6.7 2.9h0.8m-5.6 0.2h0.8m27.7 -0.6h0.8m-10.2 -0.2h0.8m-13.3 4.8h0.8m0.4 -3.4h0.8m-2.7 -4.4h0.8m-2.3 -3.3h0.8m10.9 5.2h0.8m-8.5 -3.9h0.8m5.6 1.1h0.8m-15 -1.9h0.8m-0.5 3.4h0.8m-4.7 -0.2h0.8m11.7 1h0.8m-3.5 -9.3h0.8m12.2 10.1h0.8m-14.3 -10.6h0.8m-0.3 0.4h0.8m-6.9 11.4h0.8m7.2 -13.1h0.8m-19.4 2.5h0.8m19.4 7.1h0.8m12.9 0.5h0.8m-8.4 6.7h0.8m-16.2 -11.1h0.8m15.7 6.7h0.8m-9.2 -2h0.8m-14.4 6.5h0.8m20.7 -5.1h0.8m-23 -6.7h0.8m11.4 -10.1h0.8m-12 18.6h0.8m8 4.3h0.8m2.2 -7.5h0.8m8.2 5.5h0.8m7.4 -2.3h0.8m-22.8 -14.2h0.8m15.8 11.4h0.8m-15.7 -2.7h0.8m11.4 -1.6h0.8m-2.6 -3.2h0.8m-0.6 13.1h0.8m-6.7 3.4h0.8m2.4 -8.1h0.8m-14.3 4.5h0.8m8.9 0.5h0.8m-6.3 -7.2h0.8m-1.1 -5.2h0.8m0.7 6.1h0.8m-0.3 -2.9h0.8m11.3 -2.4h0.8m0.7 9.8h0.8m-18 -3.7h0.8m3.4 -7.7h0.8m-5.8 14.4h0.8m4.8 -0.3h0.8m-6.8 -7.7h0.8m2.1 -4.9h0.8m-3.1 -1.2h0.8m-2.9 7.7h0.8m-2.3 -2.5h0.8m9.4 -5.1h0.8m1.7 12.8h0.8m7.2 -1.2h0.8m0 -9.6h0.8m-14.2 9.4h0.8m4.4 -3.3h0.8m-12.1 -11.4h0.8m13.8 15.1h0.8m-6.1 -10.3h0.8m10.4 -1.1h0.8m0 -3.4h0.8m5.6 10.8h0.8m-5.9 -6.9h0.8m1 0.9h0.8m-4 5.8h0.8m-2.6 -2.5h0.8m3.5 8.2h0.8m4 -7.9h0.8m-9.7 0.8h0.8m4.6 3h0.8m-0.3 3.7h0.8m1.2 -5.1h0.8m-9.7 -0.7h0.8m2.3 5h0.8m1.3 -12.9h0.8m-8.3 8.6h0.8m-5.4 1.2h0.8m11.3 -7.2h0.8m5.4 3h0.8m-2.5 3.5h0.8m-3.8 3.1h0.8m0 -4h0.8m3.9 -2.8h0.8m-12.1 0.4h0.8m-0.8 0.9h0.8m-2.4 -2.4h0.8m0.3 3.5h0.8m10.5 -2.3h0.8m-11.4 0.4h0.8m6.5 -2h0.8m-6.8 -0.1h0.8m3.4 5.6h0.8m-2.8 -8.2h0.8m7.1 4.3h0.8m-12.2 3.4h0.8m-1.5 -3h0.8m8.8 -3h0.8m-4.3 -2.3h0.8m-0.9 2.6h0.8m-1.5 -1.8h0.8m-4.1 2.7h0.8m-0.3 -2.9h0.8m-1.2 2.2h0.8m5.2 0.2h0.8m-5.2 5.8h0.8m3.8 -3h0.8m1.6 -0.1h0.8m-12.5 0.3h0.8m0.6 -5.4h0.8m5.6 9.3h0.8m-2.3 -8.8h0.8m3.9 7h0.8m-3.1 -2.1h0.8m-1.3 -4h0.8m-3.2 1.2h0.8m0 -4.1h0.8m2 8.4h0.8m0.4 -1.5h0.8m-3.6 -3.9h0.8m-0.4 0.9h0.8m1.4 1.5h0.8m-7.5 4.2h0.8m4.3 -3h0.8m-8.2 -4.3h0.8m-4.5 6.9h0.8m4 -3.7h0.8m0 -2.7h0.8m-1.8 6.6h0.8m0.8 -7.2h0.8m4.7 6.6h0.8m-9 -8.4h0.8m7.9 -0.7h0.8m-7.5 4h0.8m0.6 6.7h0.8m4.1 -4.1h0.8m0.4 -1.8h0.8m-0.3 3.3h0.8m-4.4 2.6h0.8m1.6 -2.1h0.8m-5.4 -5.2h0.8m-7.7 4.2h0.8m1.6 -0.5h0.8m-0.7 -1.6h0.8m0.1 4.8h0.8m1.5 0.5h0.8m0.8 -9.3h0.8m2 9.5h0.8m-0.5 -5.5h0.8m-9.6 -1.6h0.8m7.5 2.5h0.8m-6.4 -2h0.8m-3.3 -3.1h0.8m10.9 3.5h0.8m-2.8 2.9h0.8m2.3 2.6h0.8m-4.9 -8.8h0.8m-0.8 4.8h0.8m-2.5 5.3h0.8m4.2 -1.6h0.8m-11.7 -6.4h0.8m9.8 1.9h0.8m-2.5 -2.9h0.8m-5.6 0h0.8m-4.7 6.1h0.8m5.7 -3.6h0.8m-0.6 0.8h0.8m-2.2 5.1h0.8m1 2.8h0.8m1.1 -5.8h0.8m-4.3 -5.1h0.8m-7.5 6.6h0.8m4.8 1.6h0.8m6.3 -6h0.8m-5.2 4.8h0.8m-0.1 -0.2h0.8m-0.6 -6.1h0.8m-3.3 6.8h0.8m-3.4 -5.3h0.8m-1 7.7h0.8m6.8 -3.5h0.8m-2.5 -2.6h0.8m-9.8 -2h0.8m0.3 6.2h0.8m-3.1 -3.4h0.8m5.8 1.7h0.8m-0.3 -5.9h0.8m-5.3 6.8h0.8m-0.1 0.2h0.8m6.3 -7.3h0.8m-3.6 -0.3h0.8m1.7 11.3h0.8m1 -5.6h0.8m-3 -1.6h0.8m-3.5 -3.2h0.8m3.2 6.2h0.8m-8.9 -5.5h0.8m8.5 2.4h0.8m-9.5 -4.9h0.8m-2.7 -0.1h0.8m-1.3 2.7h0.8m1.7 6.5h0.8m-2.8 1h0.8m2.8 1h0.8m-4.1 -6.5h0.8m10.8 6.3h0.8m-11.1 -2.7h0.8m0.7 4.4h0.8m4.4 -3.3h0.8m2 -4.1h0.8m-3 2.4h0.8m-1.6 -4.2h0.8m-6.4 -1.6h0.8m2.1 -0.3h0.8m-11.5 2.9h0.8m5.6 6.3h0.8m5.6 -9.5h0.8m-6.8 2.1h0.8m7.7 0h0.8m-3 -0.9h0.8m-8.6 8.4h0.8m0.3 -5.3h0.8m-0.7 -4h0.8m3.7 11.2h0.8m-8.9 -6h0.8m-0.9 0.7h0.8m4.5 3.4h0.8m5 -3.2h0.8m-1.7 -6h0.8m1.7 3.6h0.8m-5.6 4.1h0.8m-6.2 -5.8h0.8m-2.1 -0.6h0.8m-1.2 5h0.8m8.7 -0.8h0.8m0.1 0.1h0.8m-6 3h0.8m-2.3 0h0.8m-0.5 -8.7h0.8m-3.5 2.1h0.8m5.4 -0.2h0.8m-8.8 4.7h0.8m1.4 -4.3h0.8m-0.1 1.5h0.8m-2.1 -3.9h0.8m3.4 0h0.8m2.3 -1.7h0.8m-2 1.8h0.8m-1.8 -0.5h0.8m-3.8 9.4h0.8m3.6 -9.4h0.8m-2.7 0.9h0.8m0.4 -1h0.8m-5.3 5.5h0.8m-1 -1.8h0.8m-3.4 -1.1h0.8m8.8 1.4h0.8m0 -0.1h0.8m-7.7 -2.5h0.8m4.8 0.3h0.8m-2.4 6.1h0.8m-6.3 0.2h0.8m5.9 2.2h0.8m0.2 -5h0.8m-7.8 -4.4h0.8m4.7 0.3h0.8m-0.1 1.3h0.8m-8.5 -1.6h0.8m3.7 0h0.8m-1.4 7.6h0.8m-1.7 -8.7h0.8m0 1.3h0.8m-2.2 -2.8h0.8m4.2 11.9h0.8m-7 -6.9h0.8m-3.6 4.5h0.8m11.4 -3.2h0.8m-8.4 4.2h0.8m-3.4 -9.8h0.8m-0.8 10h0.8m9.1 -5h0.8m0.6 5.3h0.8m-5.6 -8.3h0.8m-2.3 6.6h0.8m1.8 -7.2h0.8m1.7 2.8h0.8m-3.4 -2.8h0.8m-0.2 2h0.8m-8.5 -0.1h0.8m-1.6 5.2h0.8m2 0.3h0.8m3 -5.4h0.8m1.4 -3.6h0.8m-2.9 0.3h0.8m-3.3 9.1h0.8m3.3 -6.7h0.8m-6.5 5.6h0.8m1.2 -6.8h0.8m-3.8 5.2h0.8m8.9 -1.3h0.8m-16.3 -0.8h0.8m3.4 -1.3h0.8m4 6.1h0.8m-3.5 1.2h0.8m-11.8 -9.3h0.8m12.1 5.1h0.8m-8.6 7.1h0.8m10.6 -13.2h0.8m-10.1 6.2h0.8m-6.3 -5.4h0.8m-0.3 11h0.8m13 0.6h0.8m-6.5 -7.7h0.8m1.2 -3.9h0.8m-0.1 12.6h0.8m0.8 -7.9h0.8m6.5 11.8h0.8m-10.5 -7.6h0.8m10.1 -9.2h0.8m-21.1 0.6h0.8m10.5 7.9h0.8m-4.8 -4.6h0.8m4.5 -0.3h0.8m2.9 2.3h0.8m-7.3 -3.5h0.8m-4.9 7.4h0.8m6.8 2.4h0.8m-8.2 -1.4h0.8m-0.3 -2.5h0.8m5.2 -4.8h0.8m5 -4.3h0.8m-3.5 6.6h0.8m-13.1 -0.4h0.8m1 -7.2h0.8m0.9 1.9h0.8m7.2 11.7h0.8m-4.3 -8h0.8m2.8 0.8h0.8m0.7 0.8h0.8m-13.5 -4.7h0.8m-13 7.6h0.8m16.8 -4.4h0.8m-2.9 -4.7h0.8m6.9 11h0.8m-2.3 -11.2h0.8m-3.2 -3.7h0.8m-2.2 9.4h0.8m-8 -2.9h0.8m8 1.6h0.8m0.4 2h0.8m-4.7 1.9h0.8m2.6 -4.3h0.8m-3.9 1.7h0.8m7.4 4.5h0.8m-8.7 -13.5h0.8m-6.3 10.3h0.8m5.1 -5.6h0.8m3.4 3.4h0.8m5.4 3.1h0.8m-17.7 4.4h0.8m9.2 -4.4h0.8m4.1 6.5h0.8m-8.2 -4.8h0.8m2.3 -7h0.8m-11.9 1.8h0.8m5.9 1.7h0.8m2 7.7h0.8m1.8 -11.9h0.8m-1.6 -0.1h0.8m-1.6 7.3h0.8m-10.4 -6.8h0.8m15.9 5h0.8m-13.1 -5.7h0.8m6.3 -1.5h0.8m-6.2 12.8h0.8m0.7 -4.9h0.8m13.5 -7.3h0.8m-7 5.8h0.8m-3.3 -5.4h0.8m-4.2 9.8h0.8m-9.8 -6.7h0.8m1.7 -0.9h0.8m0.7 0.5h0.8m-5.2 -3.9h0.8m8.4 7.9h0.8m-2.5 0.2h0.8m-0.7 5.3h0.8m-2.4 -14.2h0.8m-4.2 3.9h0.8m10.6 -7.6h0.8m-5 15.5h0.8m0.2 -1.3h0.8m-3.3 -1.1h0.8m2.3 -7.6h0.8m-12.9 -1.7h0.8m10.7 11h0.8m0.1 -6.5h0.8m-9.2 1.8h0.8m11.4 3.5h0.8m-11.4 -3.4h0.8m2.8 -4.1h0.8m5.3 0.8h0.8m-10.9 0.7h0.8m-12.1 -2.9h0.8m7.9 2.3h0.8m0.5 -2.8h0.8m4.7 1.8h0.8m-6.2 3.7h0.8m-6.1 3.2h0.8m0 -1h0.8m12.7 -0.3h0.8m-3.4 -1.8h0.8m-18.1 -2.3h0.8m15.9 -3.5h0.8m-8.9 5.3h0.8m14.7 -4.9h0.8m-4.9 4.5h0.8m-5.9 1.8h0.8m-10.5 5.6h0.8m4.5 -2.7h0.8m5.5 -6.8h0.8m-4.7 1.3h0.8m-6 11.5h0.8m0.3 -2.7h0.8m9.2 -10.7h0.8m4.9 9.4h0.8m-4.6 -2.4h0.8m-0.4 -2.2h0.8m-5.2 0.2h0.8m-0.5 -1.4h0.8m-13.9 -4.2h0.8m12.5 9.6h0.8m-10.3 0.3h0.8m12.7 -1.5h0.8m-11.4 -9.9h0.8m7.1 9.7h0.8m2.4 -12.3h0.8m-9.6 10.6h0.8m-2.5 -4.6h0.8m11.6 6.2h0.8m-9.6 -1.3h0.8m-0.2 2h0.8m-4.9 0.2h0.8m3.8 -3h0.8m-10.6 2.2h0.8m3.3 -3.1h0.8m7.8 -5.1h0.8m-3.5 -4.6h0.8m-1.8 0.2h0.8m0.9 1.9h0.8m3.5 4.8h0.8m-3.5 -4.1h0.8m2.6 8.7h0.8m-4.6 -5h0.8m-6.9 6.2h0.8m-1.6 -9.5h0.8m4.7 14.5h0.8m-3.7 -5.2h0.8m-0.5 0.6h0.8m-1.2 -0.5h0.8m-4.4 -8.6h0.8m2.8 7.7h0.8m-5.8 -4.1h0.8m-0.4 0.6h0.8m-6.5 0.9h0.8m12.7 3.8h0.8m-3 0h0.8m-21.5 23.5h0.8m2.6 -12.3h0.8m-7.5 9.1h0.8m1.6 -7.8h0.8m12.7 -1.4h0.8m-10.6 -1.1h0.8m-5.7 1.9h0.8m3.6 -2.8h0.8m6.4 15.5h0.8m-4.1 -16.1h0.8m-5.5 2.5h0.8m-3.4 11.6h0.8m4.6 -2.3h0.8m4 3.8h0.8m-8.5 -12.1h0.8m5 6.6h0.8m-8.2 6h0.8m0.3 -10.9h0.8m-0.8 8.3h0.8m4.8 -14.6h0.8m1.5 8.6h0.8m-7.2 13.4h0.8m-8.6 -17.8h0.8m5.2 -3.5h0.8m-5.8 11.6h0.8m5.5 -7.6h0.8m-6.8 3.7h0.8m8.9 4.1h0.8m-1.2 2h0.8m-4.5 -0.4h0.8m0.7 -10.9h0.8m6.6 8.3h0.8m-15.6 -9.5h0.8m1.4 0.9h0.8m0.3 -5.5h0.8m4.1 6.3h0.8m4.1 4.8h0.8m-10.1 -6.9h0.8m-2.1 2.8h0.8m1.3 1.8h0.8m6.3 -1.7h0.8m-12.9 0h0.8m0.3 4.7h0.8m5.3 -10.5h0.8m5.1 5.6h0.8m-6.7 0.3h0.8m7.2 9.9h0.8m-15.9 -7.5h0.8m14.4 -3.1h0.8m-13.5 9h0.8m1.1 -5.3h0.8m-5 6.7h0.8m10.2 1.3h0.8m-1.7 5.8h0.8m-8.9 -11h0.8m10.4 -6h0.8m-6.9 15.6h0.8m-0.1 -17.6h0.8m-7.5 11.5h0.8m9.8 -9h0.8m7 1.7h0.8m-22 -5.7h0.8m4.8 12.9h0.8m3.3 2.7h0.8m-5.7 -11.5h0.8m9.7 7.5h0.8m-15.6 -7h0.8m12.9 4.2h0.8m-7.4 4.8h0.8m2.1 2.9h0.8m-3.1 -11.6h0.8m8.6 5.9h0.8m-7.7 1.9h0.8m2.8 -13.4h0.8m-12.1 13.1h0.8m8 -9.6h0.8m-7.4 12.1h0.8m-2.1 -1.6h0.8m9.2 -0.9h0.8m-11 -4.4h0.8m0.9 6.4h0.8m10.2 7.3h0.8m-2.9 -17.9h0.8m-1.1 1.5h0.8m-12.4 4.4h0.8m9.1 1.6h0.8m-5.9 -10.8h0.8m-2 14h0.8m5.1 4h0.8m-9 -17.6h0.8m-1.2 11.3h0.8m7.5 5.1h0.8m-5.8 -2.4h0.8m3.3 -17.8h0.8m1.6 13.4h0.8m-4.7 3.5h0.8m2.7 2.7h0.8m-8 -12.4h0.8m3.6 -5.7h0.8m-12.5 5.3h0.8m4.7 6.3h0.8m5 4.3h0.8m-3.8 2.4h0.8m-1.4 -2.6h0.8m-4.6 -3.8h0.8m-1.7 -3.3h0.8m-3 3.2h0.8m9.8 9.2h0.8m-2.7 -6.3h0.8m4.6 -11.6h0.8m-9.1 4.5h0.8m12.8 6.1h0.8m-6.5 -3.9h0.8m-13.9 2.4h0.8m5.8 -9.3h0.8m9.9 12.7h0.8m-12.2 -16.8h0.8m0.7 17.3h0.8m5.9 2h0.8m-11.9 -11.7h0.8m6.5 -0.4h0.8m1.9 9.6h0.8m-6 -10.7h0.8m5.2 -2.5h0.8m-8.7 -0.7h0.8m-3.2 6.8h0.8m2.4 -3.1h0.8m0.1 0h0.8m-0.3 13.5h0.8m-3.2 -18.2h0.8m-2.1 10.7h0.8m-0.6 -5.7h0.8m8.2 10.7h0.8m-12.5 -2.1h0.8m0.5 -5h0.8m4.5 -3.6h0.8m-1.5 9.6h0.8m-2 -9.8h0.8m4.9 -2.6h0.8m-5.8 2.7h0.8m-6 11h0.8m8.7 -11.5h0.8m0.6 -2.9h0.8m-10.6 -0.2h0.8m8 17.6h0.8m1.6 -15.4h0.8m-13.3 2.6h0.8m12.6 14.7h0.8m-8.6 -18.9h0.8m-6.8 8.4h0.8m14 3.2h0.8m-6.5 -14.2h0.8m6.8 15.2h0.8m-13.4 -6.1h0.8m-2.1 4.3h0.8m-4.2 -7.4h0.8m-2.5 4.6h0.8m4.2 -3h0.8m-1.6 -0.2h0.8m-0.1 0.7h0.8m8.9 6.6h0.8m-7.8 1.1h0.8m8.7 -7.5h0.8m-13.6 5.8h0.8m4.2 -8.3h0.8m3.6 0.7h0.8m2.2 6.2h0.8m-15.5 5.1h0.8m12.6 0.1h0.8m-4.8 -16.3h0.8m2.7 3.2h0.8m-8.7 12.5h0.8m8.3 -5.1h0.8m-1.1 6.7h0.8m-7.2 -19.7h0.8m-3.5 20.3h0.8m-4.4 -14.3h0.8m-1.4 -3.3h0.8m12.6 -1.6h0.8m-4.7 17.6h0.8m-2.3 -18.6h0.8m4.6 9.6h0.8m-12.1 5.2h0.8m6.3 -11.9h0.8m1.2 18.4h0.8m-11.3 -4.1h0.8m11.1 -9.4h0.8m-10.6 -0.6h0.8m2 -0.7h0.8m-1.2 10.3h0.8m4.5 -14h0.8m-15.3 13.4h0.8m6.9 -0.9h0.8m-3.7 3.2h0.8m12.5 -6.4h0.8m-2.6 0.9h0.8m-10.8 -10h0.8m6.6 4.3h0.8m-5.9 -2.9h0.8m-0.2 11.3h0.8m-2.3 -9.3h0.8m2.6 14.4h0.8m5.1 -15.4h0.8m-7.3 0h0.8m-2.6 14h0.8m-1 -0.4h0.8m8.1 -9.1h0.8m-10.1 11.8h0.8m5.5 -16.7h0.8m-9.4 6.6h0.8m2.5 -4.4h0.8m-2.8 0h0.8m5.2 14.3h0.8m2.4 -8.8h0.8m-7.3 3.4h0.8m3.6 -10.9h0.8m-8.9 12.7h0.8m9.2 -15.1h0.8m1.2 15.7h0.8m-11.5 2.5h0.8m3.5 -2.6h0.8m-5.1 5.2h0.8m-3.9 -10.7h0.8m6.8 -12.5h0.8m0.3 16.8h0.8m3.9 -7.2h0.8m-3.7 -4h0.8m-6.1 -2.9h0.8m3.6 3.8h0.8m0.5 1.5h0.8m-10.1 5.3h0.8m10.1 -0.9h0.8m-10.8 -6.8h0.8m4.3 -2h0.8m4.2 -1.6h0.8m-12.3 3.1h0.8m5.7 1.5h0.8m3.2 0.2h0.8m-11.2 2.2h0.8m3.7 6.4h0.8m-2.5 0.9h0.8m11.4 -7.5h0.8m-15.6 -1.4h0.8m10 6h0.8m-8.3 1.8h0.8m-2 0.6h0.8m12.6 -10.9h0.8m-11.3 12.4h0.8m5.9 -5.9h0.8m-11.2 5.1h0.8m9.6 -1.9h0.8m-13.8 -8.7h0.8m10 0.6h0.8m-10.9 -2h0.8m9 4.7h0.8m4 -4.1h0.8m-4.2 4h0.8m-4 9.8h0.8m-5.2 -13.6h0.8m6.6 0.6h0.8m-1.3 0.9h0.8m1 1.7h0.8m-2 -3.3h0.8m-9.3 0.8h0.8m12.2 1.1h0.8m-4.2 7.8h0.8m-1 -5.1h0.8m-10.4 4.3h0.8m1.5 0.1h0.8m0.5 -12.3h0.8m-6.9 10.1h0.8m5.6 -5.7h0.8m3 3.3h0.8m-9.9 5.9h0.8m10.3 -9.6h0.8m-5.1 -2.1h0.8m0.2 11.2h0.8m3.5 -6.6h0.8m-5.5 7.8h0.8m2.9 -1h0.8m-6.7 -15.1h0.8m-7.6 8h0.8m15.2 -5.8h0.8m-8.6 14.8h0.8m4.8 -9.8h0.8m-8.1 12.6h0.8m2.2 -18.7h0.8m-7.5 7.7h0.8m6.9 7.9h0.8m-2.9 2.8h0.8m3.5 -13.3h0.8m-14.2 6.8h0.8m1.8 -2.4h0.8m9.7 -2h0.8m1.4 2.6h0.8m-11.1 4.3h0.8m7.6 -5.9h0.8m-9.4 5.3h0.8m-2.3 -6.3h0.8m6.8 -3.1h0.8m-4.7 -4.2h0.8m5.4 16.6h0.8m-9.2 -14.9h0.8m8.6 10h0.8m-11.5 -7.3h0.8m-1.9 2.5h0.8m4 10.4h0.8m-6.5 -12.9h0.8m3.3 0.8h0.8m-4 -0.4h0.8m-3.4 6.2h0.8m4.2 6.8h0.8m2.7 -14.8h0.8m-4.1 -1.9h0.8m8 19.7h0.8m-6.7 -1.9h0.8m-4 0.6h0.8m3.9 -1h0.8m-5.5 -15.4h0.8m6.2 7.5h0.8m-11.8 -1.1h0.8m10.3 5.1h0.8m2.9 -7.9h0.8m-5.3 -8.2h0.8m3.3 20.6h0.8m-4 3.4h0.8m-8.5 -8.3h0.8m-1.8 4.8h0.8m-5.8 -7.2h0.8m3.8 -4.4h0.8m-2.6 3.6h0.8m12.4 1h0.8m-11.2 1.3h0.8m7.4 2.5h0.8m-8.5 -8.4h0.8m3.2 -4.1h0.8m2.8 11.9h0.8m-12.2 -6.6h0.8m2.2 -1.8h0.8m-0.3 4.3h0.8m6.7 0.6h0.8m-11.8 -7.6h0.8m6.7 0.1h0.8m-8.8 8.2h0.8m5.9 1.8h0.8m-11.9 2.8h0.8m7.9 -14.9h0.8m5.4 11.7h0.8m-6.4 -0.7h0.8m4.5 0.9h0.8m-3.5 8h0.8m-0.7 -2.1h0.8m-4.2 -13.1h0.8m5.1 -2.8h0.8m-9.5 7.6h0.8m2.5 -7.4h0.8m8.5 -7.4h0.8m-16.7 14h0.8m19.4 -3.1h0.8m-5.1 2.2h0.8m8.2 -2.7h0.8m-7.9 -1.8h0.8m-5.6 -12.6h0.8m-10.8 14.6h0.8m11.6 -6.1h0.8m-10.6 20.2h0.8m0.2 -9h0.8m-6.3 1.6h0.8m20.9 -0.3h0.8m-20.3 -8.8h0.8m15.9 -0.3h0.8m-14 6.2h0.8m-14.1 1.1h0.8m12.9 -5.8h0.8m-1.1 -7h0.8m1.7 6.9h0.8m-0.8 -2.4h0.8m-8.4 -7.6h0.8m2.5 17.8h0.8m24 -18.3h0.8m-12.6 9.3h0.8m-3.9 3.4h0.8m-19.6 -4.1h0.8m22.2 -5.1h0.8m-3.7 10.8h0.8m-5.4 -2.5h0.8m-2.2 -6.4h0.8m-1.3 11.4h0.8m-8.6 -6.9h0.8m21 5h0.8m-17.5 -0.7h0.8m6.3 -4.4h0.8m-8.3 9.5h0.8m-5.5 -4.5h0.8m8.7 -6.9h0.8m-1.1 7.6h0.8m-13.3 0.7h0.8m2.4 2.9h0.8m10.7 -23.5h0.8m-10.4 15.8h0.8m3.9 6.1h0.8m-7 -20.8h0.8m3.9 13.9h0.8m-7.6 1.7h0.8m-4.2 2h0.8m7.5 1.5h0.8m13 -4.3h0.8m-11.3 -8.9h0.8m6.2 -0.8h0.8m-21.8 13h0.8m14.5 8.8h0.8m6.1 -13.4h0.8m-15.3 2.2h0.8m15.3 -15.2h0.8m-9.5 10.1h0.8m5.3 11.3h0.8m-9.3 4.5h0.8m6.8 -10h0.8m5.4 -1.7h0.8m-12.8 9.2h0.8m-9.1 -6h0.8m7.3 12.6h0.8m-8.2 -32.8h0.8m-8.1 18.4h0.8m17.4 4.3h0.8m2.9 -15h0.8m-2 13.3h0.8m-7.1 7.2h0.8m-12 1h0.8m16.6 -6.9h0.8m-2.6 4.4h0.8m-6.8 -3.6h0.8m2 -17.5h0.8m-3.4 14.6h0.8m-6.4 -2.5h0.8m23.1 -17.5h0.8m-18.9 30h0.8m16.5 -29.7h0.8m-12 13.9h0.8m-8.5 1.9h0.8m4.5 7.6h0.8m-7.3 -6.6h0.8m7.6 2.1h0.8m-5.7 -3.5h0.8m-14.9 -8h0.8m3.6 13.2h0.8m16.1 3.5h0.8m-12.4 -6.2h0.8m-0.3 -9.2h0.8m8.2 7.8h0.8m-9.3 -2.7h0.8m0.5 1.3h0.8m4.5 5.3h0.8m3.6 -1.9h0.8m1.8 -22.6h0.8m-13.2 24.5h0.8m4.6 -16.1h0.8m-1 9.5h0.8m1.7 12.2h0.8m-12.8 -12.6h0.8m-1.4 -3.2h0.8m5.3 2.4h0.8m7.3 -10.2h0.8m0.8 19.1h0.8m-4.5 -0.2h0.8m2.3 8.8h0.8m-13 -17.3h0.8m7.8 2.2h0.8m2.3 5.5h0.8m-3.1 -3.6h0.8m-2.3 3.7h0.8m-2.3 -11.8h0.8m4.7 13.5h0.8m-7.9 -3.8h0.8m-6.9 -0.8h0.8m0.7 13.1h0.8m4.9 0.2h0.8m6.9 -11.3h0.8m-2.1 9.9h0.8m-23.1 -9.6h0.8m27.8 5.8h0.8m-18.2 2.1h0.8m15.1 2h0.8m-6.3 -15.7h0.8m2 8.6h0.8m-13.2 -12.7h0.8m5 4.9h0.8m-2.2 9.2h0.8m7.1 -13.5h0.8m-11.4 6.2h0.8m5.7 -5.5h0.8m-15.7 -2.5h0.8m-3.7 12.3h0.8m11.4 3.7h0.8m-4.9 4.2h0.8m6.1 -21.5h0.8m0.4 22.1h0.8m-6.6 -13.7h0.8m9.7 4.6h0.8m-5.8 1.1h0.8m-6.8 0.6h0.8m-3.6 5h0.8m-0.2 -11.4h0.8m-7.1 0.3h0.8m12.4 -0.6h0.8m3.5 4.8h0.8m-2.1 3.3h0.8m-2.4 4h0.8m0.7 -22.5h0.8m-1 7.9h0.8m-7.9 6.9h0.8m-1.5 8.7h0.8m7.1 -5.5h0.8m-4.9 -13.4h0.8m5.2 10.3h0.8m-1.3 -6.6h0.8m-16.2 6.8h0.8m3.8 -3.3h0.8m5.2 -4.9h0.8m-1.7 4.1h0.8m0.4 3.4h0.8m7.7 2h0.8m-25.4 1.7h0.8m14.9 -0.7h0.8m3.9 0.6h0.8m-5.6 -6h0.8m-3 9.3h0.8m-0.4 -19.5h0.8m14.3 8.7h0.8m-17.8 2.4h0.8m5.3 10.5h0.8m2.7 -4.2h0.8m-9.1 1.9h0.8m13.9 -17h0.8m-19.2 16.3h0.8m9.1 -7.6h0.8m-11.6 -4.8h0.8m15.5 4.8h0.8m-2.3 3.8h0.8m-15.6 -8.4h0.8m5.9 1.5h0.8m2.7 4h0.8m-9.3 5.9h0.8m11.4 -2.6h0.8m-3.5 -3.3h0.8m-4.4 6.5h0.8m-4.7 -11.6h0.8m14.2 8.6h0.8m-18.8 -3.8h0.8m4 -4.4h0.8m18.8 2.6h0.8m-17.8 10.3h0.8m-6.7 -24.5h0.8m1.7 24.9h0.8m-7.6 -3.4h0.8m22.9 -7.5h0.8m2.2 11.6h0.8m2.8 -9.9h0.8m-10.3 -6.1h0.8m3.2 7.6h0.8m1.4 2.2h0.8m6.8 5.3h0.8m-6.1 -2.4h0.8m3 -5.7h0.8m-14.1 9.7h0.8m11 -10.5h0.8m-4.7 -2.5h0.8m1.5 5.6h0.8m-3.2 -6.3h0.8m5.4 11.7h0.8m-1.8 -4.6h0.8m-3.3 3h0.8m0.2 -14.8h0.8m-4.5 19.2h0.8m-1.4 -4.2h0.8m-5.1 -3.6h0.8m4.2 0.5h0.8m-1.3 0.1h0.8m-0.8 -1.4h0.8m3.6 5.3h0.8m-7.2 -5.5h0.8m5.3 0.6h0.8m-6.9 8.3h0.8m-2.7 -8.7h0.8m-3.3 3.1h0.8m6.9 -5.5h0.8m-3.8 7.8h0.8m2.8 -11.3h0.8m-3.4 4.4h0.8m1.9 -7.8h0.8m-5.8 18.7h0.8m1.4 -18h0.8m-5.4 6.5h0.8m9.9 9.9h0.8m-1 -7.8h0.8m-9.7 -0.5h0.8m-1.2 10.5h0.8m2.1 -7.4h0.8m0.2 -8h0.8m-6.8 8.3h0.8m-1.6 -10h0.8m2.9 1h0.8m3.5 2.7h0.8m-2.8 -2.3h0.8m1.3 3.8h0.8m-6.1 0h0.8m1 7.7h0.8m3.1 -6h0.8m-3 0.6h0.8m-4.7 7.8h0.8m5.7 -1.9h0.8m-3.6 -12.7h0.8m5.5 11.7h0.8m-12.6 -8.6h0.8m11 3h0.8m-4.8 -4.1h0.8m-4.9 4h0.8m-0.4 1.5h0.8m1.4 -8.1h0.8m2.7 8.8h0.8m-2 -4h0.8m3.9 1.6h0.8m-10.8 -3.4h0.8m5.1 -1.8h0.8m-3.4 5.8h0.8m7.1 -0.8h0.8m-8.3 2.2h0.8m-8.4 3.8h0.8m4.6 -6.1h0.8m0.9 6.5h0.8m-0.4 -5.1h0.8m0.9 -8.8h0.8m0.9 13.6h0.8m-2.3 -8.5h0.8m-3.7 14.7h0.8m5.3 -7.6h0.8m-9.4 -4.3h0.8m5.9 -11.8h0.8m-10.2 20.3h0.8m1.8 -3.4h0.8m0 -2.4h0.8m-2.8 7.3h0.8m9.3 -14h0.8m-12.2 5.9h0.8m6 -0.4h0.8m1.2 -4.3h0.8m8.1 8h0.8m-18.4 -7.9h0.8m4.3 -4.7h0.8m1.2 4.1h0.8m-9.3 3.6h0.8m1.9 1.4h0.8m3.7 -0.5h0.8m2.2 -5.2h0.8m-3.7 5.7h0.8m-2 -1.2h0.8m-0.3 -0.5h0.8m-3.4 -3.4h0.8m8.2 8.7h0.8m-11.2 -3h0.8m3.6 2.1h0.8m6.5 -10.2h0.8m-12.1 -6h0.8m3.9 9.7h0.8m5.2 0.8h0.8m-10.1 -3h0.8m1.9 7.1h0.8m-10.4 -9.9h0.8m5.1 5.2h0.8m5.9 6.2h0.8m-10.2 -1.9h0.8m3.1 6.8h0.8m-3.8 -17.1h0.8m8.7 16.7h0.8m-4.1 -2.3h0.8m4 -11.7h0.8m-4 -5.5h0.8m-2.5 16.2h0.8m3 -22.7h0.8m-7.2 22.4h0.8m4 2.8h0.8m-1.6 -23.9h0.8m-4 19.4h0.8m-1.5 -10.1h0.8m-11.1 4.9h0.8m8.3 2.6h0.8m-4.6 -1.3h0.8m13.7 -5.3h0.8m-3.9 -5.1h0.8m-7.3 7.1h0.8m-1.2 2.2h0.8m-4.4 -7.3h0.8m4.9 17.6h0.8m-0.7 -1.9h0.8m7.2 -1h0.8m-2.7 -8.5h0.8m-0.6 -7.2h0.8m-10.2 18h0.8m2.4 -9.9h0.8m-1.5 7.6h0.8m-0.1 -12.9h0.8m-1 13.5h0.8m-1.4 -18.9h0.8m-0.7 19.7h0.8m3.6 1.8h0.8m-6 -5.1h0.8m0.7 -9.4h0.8m2.3 3.2h0.8m-2.7 7.2h0.8m0 1.2h0.8m-8.3 -2.6h0.8m1.7 -4.7h0.8m4.3 8h0.8m-27 -24.8h0.8m16.8 19.8h0.8m-19.8 -20.8h0.8m3.3 -6h0.8m9.5 4.2h0.8m-14.8 -1.3h0.8m-2.8 23.5h0.8m11.7 -3h0.8m-2.7 -15.8h0.8m-15.7 20.4h0.8m4.3 4.3h0.8m10 -22.9h0.8m-18.9 -4.3h0.8m20.5 -0.7h0.8m-10.3 -3.7h0.8m-10.7 -11.9h0.8m17.3 30.1h0.8m4.2 8.2h0.8m-12.4 -29.6h0.8m-7.7 22.6h0.8m13.1 -2.6h0.8m-4 1.8h0.8m-4.7 -7.2h0.8m0.6 -2.7h0.8m-13.3 -20.1h0.8m15.6 7.5h0.8m7.9 21.8h0.8m-15.2 -8.8h0.8m2 13.3h0.8m4.6 -4.6h0.8m0.7 -8.9h0.8m6.8 -7.5h0.8m-5.2 19.7h0.8m-20.1 -12.9h0.8m30 10.5h0.8m-29.8 15h0.8m2.6 -2.5h0.8m13.6 -37.3h0.8m-6.7 29.2h0.8m-5.2 -12h0.8m4.5 2.3h0.8m5.6 -20.7h0.8m-19.7 11.5h0.8m18.2 -7.5h0.8m-13.5 28.1h0.8m-0.8 -2.4h0.8m-12.5 -17.9h0.8m6.2 6.3h0.8m11.5 7.8h0.8m-6.9 -5.5h0.8m7.7 6.4h0.8m-7.1 -7.8h0.8m-14.4 11.3h0.8m17.6 -22.3h0.8m-11.4 -11.6h0.8m4.8 29.6h0.8m-2.5 -9.4h0.8m-15.3 -8.4h0.8m18.6 4.3h0.8m-1.8 10h0.8m-6.1 0.8h0.8m-0.6 -4.6h0.8m-2 8.2h0.8m0.3 -18.7h0.8m4.5 5.7h0.8m3.9 20.3h0.8m-3.6 -27.6h0.8m-10.4 1.9h0.8m11 10.6h0.8m2.5 -4h0.8m-14.4 6.8h0.8m-10.7 1.2h0.8m-4.4 -10.1h0.8m0.1 -8.7h0.8m19.8 6.1h0.8m-2.1 -2.7h0.8m-7.3 28.5h0.8m5 -43.7h0.8m4.2 19.3h0.8m-12.6 7.7h0.8m7.9 0.7h0.8m-3.8 -28.1h0.8m-18.3 20.5h0.8m14.2 1.9h0.8m8.2 -13.9h0.8m-10.8 34.9h0.8m-12.2 -19.4h0.8m22.4 -5.7h0.8m-19.6 -9.6h0.8m13.4 33h0.8m4.1 -19.1h0.8m-12.7 -7h0.8m-0.2 15.4h0.8m-5.9 -3.6h0.8m6 -3h0.8m2.2 3.9h0.8m-9.4 -13.5h0.8m-8.9 9.6h0.8m7.2 5.8h0.8m10.7 -0.1h0.8m-0.3 14h0.8m4.9 -6.9h0.8m-19.5 -9.7h0.8m15.3 -16.8h0.8m-21.5 18.2h0.8m-4.9 -11.1h0.8m26.5 17.5h0.8m-18 -14.8h0.8m3.5 -12.9h0.8m7.3 -3.3h0.8m-21.7 5.1h0.8m4.9 1.5h0.8m10.4 28.2h0.8m-14 10.8h0.8m5.2 -33.1h0.8m13.2 21.8h0.8m-15.4 -5.7h0.8m23.2 -4h0.8m-2.6 -3.7h0.8m-36.5 7h0.8m15.2 -11.7h0.8m13.8 13.9h0.8m-24.9 -12.4h0.8m9.2 15.2h0.8m-11.6 -11.2h0.8m27.8 -1.2h0.8m-26.1 1.2h0.8m1.4 4.4h0.8m-4 4.3h0.8m16.2 4.1h0.8m-14 -15.2h0.8m5.9 18.8h0.8m-11.9 -15.1h0.8m12.8 -1.6h0.8m-4.1 7h0.8m-7.7 -14.5h0.8m-6 4.5h0.8m6.5 -7.6h0.8m9.7 10.3h0.8m3.3 5.7h0.8m-11.8 -6.8h0.8m-1.6 19.4h0.8m8.8 -25.8h0.8m-2.8 4.8h0.8m-20.8 -12.5h0.8m8 27.9h0.8m4.6 10.3h0.8m-8.6 -31.5h0.8m27.2 11h0.8m-17.6 5.4h0.8m-11.8 -30.4h0.8m-2.5 25.4h0.8m9 7.5h0.8m13.1 -11.4h0.8m-20.7 4.4h0.8m-1.5 6.6h0.8m8.6 10.6h0.8m-13.9 -15.3h0.8m-0.1 7.4h0.8m11 -22.8h0.8m6.4 25.7h0.8m-18.9 -24.9h0.8m-5.6 30.4h0.8m1.9 -37.5h0.8m4.9 21.1h0.8m5 -9.6h0.8m-9.7 12.2h0.8m19.2 -1.3h0.8m-18.9 8.3h0.8m-2.6 -2.8h0.8m-2.6 -9.2h0.8m2.5 10.9h0.8m4.4 7.4h0.8m3.8 -28.1h0.8m6.4 23h0.8m0 -19.3h0.8m-27.5 2.7h0.8m14.9 11.6h0.8m4.4 5.8h0.8m-1.7 -21.9h0.8m-16.1 17h0.8m-0.8 6h0.8m1 -14.4h0.8m10.1 -15.8h0.8m-5.2 13.1h0.8m-6.4 -3.7h0.8m6.4 -9.9h0.8m-7 24.1h0.8m-4.3 -17.7h0.8m-2.3 13.6h0.8m23.1 -10.8h0.8m-15.4 30h0.8m-7.1 -23.7h0.8m7 1.1h0.8m8.8 -20.4h0.8m-6.4 14h0.8m-5.5 7.2h0.8m3.4 -19.3h0.8m-1.6 -1.6h0.8m3 9.3h0.8m-8.9 17.8h0.8m-0.2 -5h0.8m20.3 -10.8h0.8m-16.3 3.9h0.8m-12 -3.5h0.8m-9.3 -0.8h0.8m16.6 5.3h0.8m-14.8 0.2h0.8m9.1 2.8h0.8m-14.6 8.7h0.8m18.5 -9.6h0.8m-15.5 1.7h0.8" stroke="#6c6c6c" stroke-width="0.8" stroke-opacity="0.7" fill="none"/><path d="M124.6 616h1m-1.6 0.4h1m1 5.7h1m-2.6 -6.7h1m4.5 2.4h1m-9.4 3.3h1m-2.7 -2.1h1m-0.7 -1h1m0.7 3.8h1m-3.1 -5.3h1m11.3 5.1h1m-12.9 -3.9h1m2.9 -3.2h1m-6.8 3.9h1m9.8 -3.1h1m-3.4 5.4h1m-2.3 1.2h1m1.1 -1.8h1m0 -2.4h1m-6.2 -3.2h1m-4 6.6h1m-2.2 -2.6h1m0.9 -0.7h1m-0.9 0h1m2.9 3.3h1m2.1 -2.1h1m-3.1 2.3h1m-3.3 -5.2h1m-2.4 -0.6h1m1 7.7h1m-4.3 -1.8h1m2.6 -5.4h1m0.8 6h1m-1.1 -4.8h1m-1.5 -1.6h1m1.4 6.2h1m-4.8 1.1h1m-4.3 -1.1h1m3.6 -6.3h1m-0.4 -0.5h1m-3.6 1.5h1m1.9 5.1h1m-0.2 -6h1m-4.9 -0.8h1m5.3 4h1m-2.4 2.5h1m-4.5 0.8h1m-2.2 -6.8h1m4.7 5.9h1m-3.4 -3.2h1m-5.5 3.5h1m-1.7 -0.7h1m5.5 -4.6h1m-8.6 5h1m-0.7 -4h1m5.9 2.7h1m-8.2 -3.8h1m6.2 1.4h1m-1.7 1.4h1m-6.1 3.1h1m-1.7 -1.9h1m3.7 2.3h1m-2.8 -5.5h1m1.2 -0.1h1m-8.4 2.1h1m9.6 -3.6h1m-1.7 3.7h1m-8.9 1h1m6.2 0.1h1m-9.8 -1.8h1m-4 2.8h1m2.2 -3.4h1m-0.5 1.1h1m1.2 1.9h1m5.9 -3.9h1m-8 -0.4h1m3.8 -0.6h1m-2.4 0.1h1m-1.4 4.7h1m0.8 -6.5h1m-6.7 2.9h1m1.9 4.4h1m-2.7 -4.8h1m1.6 -0.6h1m-5.1 4.4h1m4.1 2.2h1m0.3 -0.8h1m-4.8 -7.5h1m-1.7 2.5h1m4.3 4h1m-1.6 1h1m-2.1 2.5h1m18 -8.2h1m-2.2 -0.5h1m-0.4 3.1h1m-5.5 1.5h1m1.4 -3.8h1m-4.6 0.9h1m1.1 3.7h1m1.8 -6.7h1m-7 5.2h1m6.1 -0.8h1m-4.1 -3.5h1m-1.8 0.9h1m-2.2 0h1m3.2 2.1h1m-7.6 0.1h1m5.3 -1.6h1m0.9 1.4h1m-7.1 -1.3h1m-0.1 3.8h1m-2.7 -0.7h1m0.7 0.5h1m2.4 -3.5h1m-5.6 3.4h1m4.9 -2.4h1m-8.7 1.1h1m4.3 -2.7h1m1.4 0.5h1m-6.7 0.7h1m1.4 3h1m1.4 -1.1h1m-0.3 -2.1h1m-6.4 4h1m1 -6.5h1m2.3 1.8h1m-5.7 -1.2h1m-1.8 0.6h1m2.4 4.7h1m-5.5 -1.9h1m0.9 -3.4h1m3.7 -0.1h1m-8 3.4h1m3.7 2.4h1m-3.9 -0.3h1m3.2 -3.1h1m-6.2 0.7h1m1.2 2.3h1m-4.5 -1.4h1m0.3 0h1m0.2 -4h1m3.9 5.6h1m0 -3.8h1m-9.1 1.6h1m0.9 0.7h1m-1.9 -3.8h1m-1.6 3h1m-1.3 -0.4h1m5.5 -1.5h1m0.2 2.4h1m-0.9 -0.4h1m-7.5 -1.8h1m-0.2 -0.5h1m2.7 5.2h1m-1.4 -6.7h1m-1.2 -0.4h1m-5.9 2.6h1m-0.3 -1.5h1m3.1 0.2h1m-5.7 1.8h1m2.7 -2.8h1m-4.4 2h1m4.9 0.8h1m-0.2 2.2h1m-8.2 -1.6h1m2.7 1.6h1m-6.1 0.6h1m5.7 -5.1h1m-0.6 5.6h1m-5.7 -2.6h1m0.9 -2.6h1m-0.7 -2.2h1m4.8 5.5h1m-4.5 -2.4h1m-0.1 4.2h1m0.1 -2.1h1m-6.6 0.9h1m1.6 0.3h1m-5.1 -2.8h1m1.6 3.9h1m1.5 -5.4h1m-3 5.1h1m2 -4.3h1m-5.9 -1h1m4.1 0.7h1m-1.7 0.5h1m-0.9 -0.9h1m-4.4 -1h1m-1.7 1h1m-1.8 2.7h1m-3 -2h1m5.3 3.9h1m0.1 -3.7h1m-26.2 23.8h1m3.2 -8h1m3.5 6.7h1m-3 3h1m-6.6 -2.3h1m3.5 2.4h1m1.7 -2.1h1m-10.3 -3.9h1m0 5.9h1m6.7 -1.8h1m-8.5 -4.6h1m6.4 6.8h1m-6.3 1.4h1m-2.8 -4h1m3.5 1.8h1m-2.1 -10.1h1m-5.9 13h1m3.9 0h1m2.7 -3.6h1m-5.7 1.5h1m-1.8 1.1h1m4.8 -6.5h1m-7.1 7.1h1m5.5 -4.3h1m-7.4 4.6h1m-1.8 -12.1h1m5.1 8.5h1m-0.6 -2.8h1m-3.7 -3.6h1m-4.8 3.1h1m3.7 8.3h1m-3.3 -12.3h1m-3.3 8.6h1m0.9 -8.2h1m-2.6 8h1m-4.2 -5.8h1m4.9 -4.2h1m2.9 5.4h1m-2.1 3.4h1m-4.1 2.4h1m-2 -1h1m3.1 -1.1h1m-1.1 -8.2h1m-2.2 11.6h1m-5.8 -3.2h1m5.5 -3.6h1m-8.9 -0.2h1m4.5 6.1h1m-4 -0.4h1m5.5 -1.1h1m-5.6 -8.2h1m3.1 4h1m-2.9 -2.1h1m-10.8 4.9h1m9.7 -2.1h1m-0.2 -4.3h1m0.1 4.2h1m-2.2 -6.6h1m0.2 0.3h1m-6.1 9.9h1m-3.7 -2.9h1m-2 2.4h1m-0.5 -1.1h1m1 2.9h1m5.9 -4.8h1m-10.4 -0.5h1m4.7 -3.3h1m-6.6 3.9h1m3 -5h1m7 6.9h1m-8.6 1.2h1m-1.1 2.4h1m-5.1 -6h1m-1.3 -1.2h1m-0.7 -1.9h1m-0.7 6.2h1m0 2.6h1m-1.6 -2.7h1m-0.8 -0.5h1m2.3 -7.7h1m-0.8 10.7h1m3.9 -8.8h1m-3.7 7.8h1m-6.8 1.5h1m5.1 -9.1h1m-0.8 5.9h1m-6.5 -5.2h1m-1.3 8.9h1m-3 -4.6h1m-0.7 -0.8h1m5.8 -4.6h1m-2.7 9.2h1m-4.1 -1.3h1m4.8 -8.7h1m-4.5 1.5h1m-0.3 -0.7h1m-4.6 6.4h1m3.6 -8.9h1m-7 4.7h1m0.5 4.2h1m-3.2 -5.9h1m8 1.7h1m-7.5 7.1h1m2.7 -8.2h1m-8.3 2.6h1m8.2 2.1h1m-6.3 3.3h1m4.7 -8.5h1m-1.2 4.9h1m-4.8 3.3h1m-5.5 -6.3h1m3.1 -2.3h1m2.6 0.2h1m-6.6 7.1h1m0.5 0.7h1m-2.6 -0.9h1m1.9 2.7h1" stroke="#d43ad8" stroke-width="1" stroke-opacity="0.95" fill="none"/><path d="M124.3 620.5h1m1.3 -1.5h1m-2.7 2.2h1m-0.4 -1.2h1m-1.3 -0.3h1m0 0.1h1m-0.9 -0.7h1m-4.4 -2.1h1m-0.5 2.9h1m1.9 0.2h1m-2.8 -2.6h1m1.5 1.6h1m-7 0h1m1.3 1.3h1m3.3 -0.7h1m-3.7 -0.8h1m-2.6 1.6h1m0.7 -0.6h1m-2.1 -1.4h1m0.8 0h1m-1.4 -0.9h1m-1.5 2.2h1m-1.2 -0.5h1m-3.8 -0.2h1m-1.1 0.2h1m0.7 -1.3h1m1.5 1.4h1m-4.9 0.3h1m2.9 -0.3h1m-1.5 -0.6h1m-5.6 1.3h1m0.2 -2.3h1m-0.6 -0.3h1m1.6 0.2h1m-4.1 1h1m1.2 0.5h1m1.3 0.2h1m-0.3 0.1h1m-4.3 -0.1h1m-1.7 1.3h1m-1.4 -0.6h1m-1.5 -2.8h1m-0.3 2.4h1m-1.7 -1.3h1m-0.2 -0.7h1m-0.9 2.6h1m0 -1.1h1m-2 0.6h1m-0.2 -0.7h1m-3.5 -0.7h1m0 1.1h1m3.2 -1.3h1m-8 1.1h1m3.2 -2.9h1m-0.1 4.6h1m-2.5 -2.6h1m-2.7 1h1m-0.2 0.5h1m1.4 -1.9h1m-0.5 1.2h1m-2.5 0.3h1m-1.3 0.2h1m-0.7 -1.5h1m-2.9 0.2h1m4 0.8h1m-5.5 -2.4h1m-0.4 1.2h1m-2.4 1.4h1m-0.8 -0.1h1m1.2 -2.1h1m-2.4 1.3h1m-0.3 -1.2h1m2.5 2.5h1m-6.4 0.3h1m-1.3 -0.8h1m6.1 -0.7h1m-2.4 0.9h1m-3.8 -2h1m-2.4 -0.2h1m1 -1.6h1m0.2 0.8h1m-0.3 3.3h1m-5.2 -1.3h1m4 0.7h1m-5.8 0.1h1m-0.1 -2.6h1m3.1 1.6h1m-4 1.2h1m-1.6 0h1m-0.4 0.7h1m-5.5 -4.3h1m-0.4 3.1h1m5.7 0h1m-6.3 -1.7h1m3.6 1.8h1m-2.2 -1h1m0.5 0.3h1m-3 0.9h1m0.1 0.8h1m-2.7 -0.5h1m-2.6 -0.3h1m5.8 -2.3h1m-9.2 1.6h1m0.7 1.7h1m3 -2h1m-1.2 1.1h1m-4.1 0.2h1m-2.5 -1.5h1m18.2 -3.3h1m1.4 3.1h1m-3.4 -2h1m0.9 0.5h1m-3.2 3.1h1m-0.3 -2.9h1m-0.2 3.8h1m-1.2 -0.7h1m-2.6 -2.6h1m1.5 -1.2h1m-2.9 0h1m0.8 0.5h1m-3.6 3.6h1m-2.3 -2.2h1m-1.1 0.4h1m3.7 -1.1h1m-1.9 -1h1m-1.3 0.5h1m-2.9 2.9h1m2.8 -1.3h1m-2.7 -1.7h1m0.2 1.5h1m-4.2 2.1h1m2.6 -1.4h1m-5.7 -1.3h1m0.6 2.1h1m1.4 -0.1h1m-3.4 0.3h1m1.1 -3.1h1m-2.1 -0.3h1m-2.8 0.4h1m0.1 3.4h1m-2.4 -3.8h1m-3 2.2h1m4.6 -1.1h1m-2.7 2.8h1m0 -4.4h1m-3.9 2.2h1m2.4 0.7h1m-3.1 -2.5h1m1.3 2.6h1m-5.2 -0.2h1m-0.5 0.3h1m-0.9 1.2h1m0.7 -3.9h1m-2.9 3.2h1m2.2 -2.9h1m-4.4 -0.8h1m0.5 0.6h1m2.1 2.2h1m-3.4 1.6h1m-1.8 -3.2h1m-2.2 2.2h1m2.1 -2.4h1m-5.3 2.6h1m4.7 -1.1h1m-5.2 0.9h1m-0.1 0.3h1m1 -0.2h1m-24.1 21.5h1m4.5 0.1h1m-4.1 0.5h1m0.3 1.7h1m-1.7 -1.3h1m1.8 -8.2h1m-2.2 7.4h1m-4.3 -4.4h1m1.6 -1.8h1m1.9 4.8h1m-3.1 1.5h1m-1.3 -4.9h1m-2.5 -0.4h1m0.5 0.4h1m0.5 4.8h1m-2.9 2.4h1m-3.9 -7.3h1m-1.4 4.1h1m3.6 0h1m-5.3 -3.1h1m-2 1.6h1m4.1 -2.7h1m-1.7 0.8h1m-5.4 0.5h1m2.2 -1.3h1m-1.6 7.1h1m-1.8 -5.5h1m4 2.4h1m-4.1 -5.7h1m-1.4 1.6h1m-0.9 6.9h1m-1.6 -7.4h1m-3.8 4.1h1m5.5 0.6h1m-5.8 -2.3h1m-1.7 -1.4h1m3.2 0.7h1m-6.4 3.5h1m5.3 -1.8h1m-4.6 3.7h1m1.7 -4.7h1m0.1 -0.7h1m-6.2 3.9h1m3.8 -3.8h1m-5.4 0.4h1m-1.9 2.1h1m1 1.8h1m-0.3 1.2h1m-1.5 -7.7h1m2.6 2.4h1m-4.1 -2.9h1m-2.1 -0.4h1m2.6 8.5h1m-5.7 -6.5h1m4.1 5.3h1m-6.4 -3h1m4.2 0.9h1m-5.2 -2.8h1m2.1 -1.1h1m-5 3.4h1m-0.6 -1.5h1m1.4 -1.3h1m-2.6 1.1h1m-3 2.8h1m3.2 -3.2h1m-3.1 5.1h1m-1.5 -5.3h1m2.8 1.3h1m-6.2 3.1h1" stroke="#9a48ee" stroke-width="1" stroke-opacity="0.95" fill="none"/><path d="M142.8 618.1h1m-1.6 -1.4h1m-0.6 0h1m-2.2 0.9h1m0.5 0.2h1m-0.9 -0.3h1m-3.6 1.5h1m1.1 -1.1h1m-2.2 -1.9h1m-0.4 1.4h1m-0.5 1h1m-2 0.4h1m0 -1.6h1m-1.3 -0.3h1m-0.1 2.4h1m-2 -1.2h1m0.1 0.1h1m-2.7 -1h1m-0.7 -0.5h1m-0.8 0h1m-0.9 0.4h1m-1.5 2.1h1m-1.9 -1.2h1m1.2 -0.7h1m-0.5 1.5h1m-0.7 -1.9h1m-5 0.5h1m3.5 1h1m-2 -1.4h1m-1.5 2h1m0.1 -1.2h1m-1.7 0.6h1m-1.3 -2.1h1m-0.9 2.9h1m-1.2 -2.3h1m-3.2 -0.1h1m1.9 0.5h1m-1.3 -0.3h1m-3.2 0.1h1m2 0.4h1m-1.6 0.5h1m-1.7 0.8h1m-0.2 -1.4h1m-1.1 0.7h1m-3 -0.7h1m0.2 0.1h1m-2.5 0.7h1m0.1 -0.2h1m-2.3 0h1m-1 0.9h1m2 -0.8h1m-3 1.1h1m-1.5 -1.1h1m-0.8 0.8h1m-0.2 -0.5h1m0.1 0.3h1m-2.9 -1.1h1m-0.8 2h1m-0.4 -1h1m-1.2 -0.3h1m-2 -1.1h1m-0.2 0h1m-0.1 1.9h1m-1.5 -0.4h1m-2.2 -1h1m0.5 0.4h1m-1.5 -2.1h1m-19.1 22.6h1m-2.3 0.5h1m-1.4 -0.8h1m1.7 1.6h1m-2.6 1.2h1m-0.4 -2.1h1m-2.1 2.3h1m-0.1 -1.3h1m0.3 -2.6h1m-3.2 -0.4h1m-0.1 0.1h1m-0.6 2.2h1m-1.8 2.1h1m-0.2 -0.5h1m-1.3 -3.3h1m-1.3 2.9h1m-1.2 -1.2h1m-2.6 0.6h1m-0.7 -0.3h1m1.2 0.7h1m-1.3 -3.1h1m-1.2 2.6h1m-3.3 -1.6h1m2.1 -0.8h1m-0.5 1.9h1m-1.9 -3.3h1m-1.1 3.5h1m-2.4 -2.1h1m1.1 0.9h1m-3.1 -1.5h1m-0.5 1.2h1m-0.7 1.7h1m-0.8 -2.1h1m-1.2 2.9h1m-1.7 0.1h1m1.4 -2.6h1m-0.7 2.6h1m-1.8 0.8h1m-3.4 -2.9h1m-1.8 -1.2h1m0.1 1.6h1m-1.4 0.2h1m-0.6 -0.9h1m-0.7 1h1m-1.6 -0.6h1m-0.8 1.3h1m-2.7 1.8h1m1 -4.2h1m-1 0.6h1m1.1 -0.1h1m-3.3 -0.1h1m2.1 1.3h1m-3.2 3.4h1m-0.7 -3h1m-1.5 -2.6h1m1.1 2.1h1m-1.1 1.5h1m-1.7 -2.6h1m-2.5 -0.2h1m-0.6 3.8h1m-2 -2.8h1m1 -0.1h1m-3.3 1.6h1m-0.8 -2.3h1m1.4 1.2h1m-3.4 0.9h1m-2.6 -2.4h1m1.8 -1.1h1m-1.3 3.5h1m1.3 -2.8h1m-0.8 0.9h1m-2 0.9h1m-0.9 1.2h1m-3.6 1h1m-0.3 -5h1m0.7 3.8h1" stroke="#4a80f2" stroke-width="1" stroke-opacity="0.95" fill="none"/><rect x="105.5" y="597.5" width="56" height="56" fill="none" stroke="#777" stroke-width="0.8"/><line x1="135.5" y1="597.5" x2="135.5" y2="653.5" stroke="#585858" stroke-width="0.9"/><line x1="105.5" y1="628.5" x2="161.5" y2="628.5" stroke="#585858" stroke-width="0.9"/><line x1="105.5" y1="597.5" x2="105.5" y2="653.9" stroke="#3a3a3a" stroke-width="0.9"/><line x1="105.1" y1="653.5" x2="161.5" y2="653.5" stroke="#555" stroke-width="0.9"/><line x1="106" y1="615.33" x2="106" y2="619.65" stroke="#de34de" stroke-width="0.8"/><line x1="117.79" y1="652.9" x2="119.71" y2="652.9" stroke="#4a80f2" stroke-width="0.8"/><line x1="130.52" y1="652.9" x2="130.7" y2="652.9" stroke="#de34de" stroke-width="0.8"/><line x1="106" y1="614.36" x2="106" y2="615.06" stroke="#e03030" stroke-width="0.8"/><line x1="106" y1="616.32" x2="106" y2="621.64" stroke="#de34de" stroke-width="0.8"/><line x1="137.61" y1="652.9" x2="141.62" y2="652.9" stroke="#3ee07a" stroke-width="0.8"/><line x1="142.01" y1="652.9" x2="146.19" y2="652.9" stroke="#e03030" stroke-width="0.8"/><line x1="106" y1="634.09" x2="106" y2="635.78" stroke="#2cb8f0" stroke-width="0.8"/><line x1="106" y1="635.78" x2="106" y2="643.51" stroke="#de34de" stroke-width="0.8"/><line x1="106" y1="643.51" x2="106" y2="644.59" stroke="#e03030" stroke-width="0.8"/><line x1="106" y1="644.59" x2="106" y2="645.3" stroke="#e03030" stroke-width="0.8"/><line x1="118.3" y1="652.9" x2="118.92" y2="652.9" stroke="#de34de" stroke-width="0.8"/><line x1="118.92" y1="652.9" x2="123.31" y2="652.9" stroke="#e03030" stroke-width="0.8"/><line x1="123.31" y1="652.9" x2="128.7" y2="652.9" stroke="#2cb8f0" stroke-width="0.8"/><line x1="104.3" y1="600.5" x2="105.5" y2="600.5" stroke="#222" stroke-width="0.7"/><text x="103.2" y="601.8" font-size="3.7" text-anchor="end" fill="#444">10<tspan font-size="2.4" dy="-1.3">4</tspan></text><line x1="104.3" y1="611.43" x2="105.5" y2="611.43" stroke="#222" stroke-width="0.7"/><text x="103.2" y="612.73" font-size="3.7" text-anchor="end" fill="#444">10<tspan font-size="2.4" dy="-1.3">3</tspan></text><line x1="104.3" y1="622.36" x2="105.5" y2="622.36" stroke="#222" stroke-width="0.7"/><text x="103.2" y="623.66" font-size="3.7" text-anchor="end" fill="#444">10<tspan font-size="2.4" dy="-1.3">2</tspan></text><line x1="104.3" y1="633.29" x2="105.5" y2="633.29" stroke="#222" stroke-width="0.7"/><text x="103.2" y="634.59" font-size="3.7" text-anchor="end" fill="#444">10<tspan font-size="2.4" dy="-1.3">1</tspan></text><line x1="104.3" y1="644.22" x2="105.5" y2="644.22" stroke="#222" stroke-width="0.7"/><text x="103.2" y="645.52" font-size="3.7" text-anchor="end" fill="#444">10<tspan font-size="2.4" dy="-1.3">0</tspan></text><line x1="113.5" y1="653.5" x2="113.5" y2="654.7" stroke="#222" stroke-width="0.7"/><text x="112.9" y="659.6" font-size="3.7" text-anchor="middle" fill="#444">10<tspan font-size="2.4" dy="-1.3">0</tspan></text><line x1="122.74" y1="653.5" x2="122.74" y2="654.7" stroke="#222" stroke-width="0.7"/><text x="122.14" y="659.6" font-size="3.7" text-anchor="middle" fill="#444">10<tspan font-size="2.4" dy="-1.3">1</tspan></text><line x1="131.98" y1="653.5" x2="131.98" y2="654.7" stroke="#222" stroke-width="0.7"/><text x="131.38" y="659.6" font-size="3.7" text-anchor="middle" fill="#444">10<tspan font-size="2.4" dy="-1.3">2</tspan></text><line x1="141.22" y1="653.5" x2="141.22" y2="654.7" stroke="#222" stroke-width="0.7"/><text x="140.62" y="659.6" font-size="3.7" text-anchor="middle" fill="#444">10<tspan font-size="2.4" dy="-1.3">3</tspan></text><line x1="150.46" y1="653.5" x2="150.46" y2="654.7" stroke="#222" stroke-width="0.7"/><text x="149.86" y="659.6" font-size="3.7" text-anchor="middle" fill="#444">10<tspan font-size="2.4" dy="-1.3">4</tspan></text><line x1="159.7" y1="653.5" x2="159.7" y2="654.7" stroke="#222" stroke-width="0.7"/><text x="159.1" y="659.6" font-size="3.7" text-anchor="middle" fill="#444">10<tspan font-size="2.4" dy="-1.3">5</tspan></text><text x="108.8" y="602.8" font-size="4.4" textLength="10.65" lengthAdjust="spacingAndGlyphs" fill="#1a1a1a" stroke="#1a1a1a" stroke-width="0.06">27.3%</text><text x="159.5" y="602.8" font-size="4.4" text-anchor="end" textLength="10.65" lengthAdjust="spacingAndGlyphs" fill="#1a1a1a" stroke="#1a1a1a" stroke-width="0.06">21.7%</text><text x="108.8" y="651.2" font-size="4.4" textLength="10.65" lengthAdjust="spacingAndGlyphs" fill="#1a1a1a" stroke="#1a1a1a" stroke-width="0.06">46.4%</text><text x="159.5" y="651.2" font-size="4.4" text-anchor="end" textLength="8.4" lengthAdjust="spacingAndGlyphs" fill="#1a1a1a" stroke="#1a1a1a" stroke-width="0.06">4.6%</text><text x="134" y="669.9" font-size="8.8" text-anchor="middle" textLength="16.2" lengthAdjust="spacingAndGlyphs" fill="#111" stroke="#111" stroke-width="0.1">2DL3</text><path d="M204 616.6h0.8m6.8 8.5h0.8m-18.4 -3.2h0.8m3.5 1h0.8m4.3 -8.5h0.8m-5 8.4h0.8m5.2 -8.9h0.8m-16.1 2h0.8m-8 4.8h0.8m25.7 -2.9h0.8m-13.6 3h0.8m-7.5 -3.9h0.8m11.5 -2.7h0.8m5.2 6.2h0.8m-18.3 -2.3h0.8m10.7 -5.4h0.8m-1.7 9.2h0.8m6.1 -6.4h0.8m-12.9 2.8h0.8m-7.3 4.9h0.8m16.4 -5.2h0.8m-18.3 3.8h0.8m8.4 3h0.8m2.8 -2.4h0.8m-2 -5.5h0.8m-9.1 1.9h0.8m-1.2 3.6h0.8m12.3 -1h0.8m-16.9 -0.3h0.8m8.7 -7.3h0.8m4.4 3h0.8m2.1 -2.4h0.8m-5.7 7h0.8m5.7 -6.4h0.8m-7.3 8.6h0.8m-5.7 -0.2h0.8m18.3 -1.9h0.8m-15.3 -5.7h0.8m5.2 4.3h0.8m-8.3 -6.6h0.8m-10.1 8.9h0.8m12.1 -0.9h0.8m-4.6 -7h0.8m-8.1 5.7h0.8m-2.9 1.2h0.8m1.2 -9.6h0.8m10.7 6.4h0.8m0.3 2.7h0.8m-11.7 -7h0.8m-5.8 9.1h0.8m6.4 -6.4h0.8m2 -0.1h0.8m-4.9 8.3h0.8m12.8 -2.1h0.8m-16.8 -4.2h0.8m5.5 3.2h0.8m13.1 3.1h0.8m-5.6 -10.5h0.8m-23.8 -0.7h0.8m10.3 8.1h0.8m10.2 -1h0.8m0.9 0.5h0.8m-16.3 0.6h0.8m-1.5 -7.1h0.8m-6.5 1.1h0.8m22.8 3.2h0.8m-9.1 -5.6h0.8m6.1 9.1h0.8m-11.8 1.6h0.8m10.2 -8.9h0.8m-5.7 3h0.8m-20.6 3.2h0.8m10 -3.8h0.8m9.6 -2.1h0.8m-14.9 4.3h0.8m15.7 0.6h0.8m-16.7 -2.1h0.8m13.8 4.7h0.8m-2 1.4h0.8m-14.6 -8.1h0.8m3.8 6.2h0.8m-4.4 -7.9h0.8m16.9 4.7h0.8m-2.6 4.2h0.8m3.9 -4.8h0.8m-13.1 -2.4h0.8m7.5 0.7h0.8m-3.8 -0.7h0.8m-12.4 3.1h0.8m-0.7 3.8h0.8m11.7 -1h0.8m-15.6 -9h0.8m-0.3 7.2h0.8m0 -6.8h0.8m12.4 7.7h0.8m-7.2 0.6h0.8m3.3 -4.8h0.8m2.3 3.1h0.8m-20.3 -5.8h0.8m2 3.5h0.8m-5.4 1.6h0.8m8.8 8h0.8m6.4 -2.5h0.8m-11.3 -12.3h0.8m14.1 4.7h0.8m-15.1 3.1h0.8m19.8 0.7h0.8m-10.9 3.7h0.8m-8.5 -3.2h0.8m2.8 1.5h0.8m-7.6 -6h0.8m10.5 5.4h0.8m9.4 -3.6h0.8m-25.5 4.1h0.8m13 -1.5h0.8m0.7 -2.2h0.8m-16.6 2.4h0.8m25.6 2h0.8m-15.7 2.7h0.8m3.4 -5.8h0.8m3.3 5.3h0.8m-2.7 -11.5h0.8m-15.9 5.9h0.8m8.4 2.5h0.8m0.3 -10.6h0.8m-0.2 4.9h0.8m2.1 3.5h0.8m-20.6 2h0.8m3 -6.2h0.8m9.4 -0.5h0.8m-11.6 2.1h0.8m20.2 0.8h0.8m-1.6 4.9h0.8m-11.9 -9.2h0.8m-13.3 2.1h0.8m2 6.8h0.8m-5.4 -6.8h0.8m16 -3.3h0.8m-7.9 4.9h0.8m4 4.8h0.8m5.3 -2.6h0.8m-6.7 -4.2h0.8m-12.5 4.2h0.8m0.1 -4.4h0.8m7.5 1.7h0.8m7.6 -1h0.8m-4.9 6.1h0.8m0.2 2.5h0.8m0.3 -3.5h0.8m3.8 2.7h0.8m-20.9 -3.5h0.8m15.8 1.4h0.8m-0.4 -6h0.8m1.5 4.6h0.8m-7.9 -6.6h0.8m7.9 -0.1h0.8m-19.8 5.3h0.8m2.6 -1.2h0.8m8.6 3.7h0.8m7.4 -1.3h0.8m-15.6 1.2h0.8m1.9 -5.6h0.8m-6.1 -1.9h0.8m12.6 8.9h0.8m-12.8 -8.1h0.8m10.5 0.5h0.8m-0.3 7.9h0.8m-0.8 -1.3h0.8m-10.9 0.1h0.8m8.8 0.1h0.8m-18 -2h0.8m1.9 -10.3h0.8m16.5 5.2h0.8m0.1 3.5h0.8m-17.4 0.3h0.8m12 -1h0.8m-21.3 1.1h0.8m3.8 1h0.8m2.9 2.5h0.8m12.7 -7h0.8m-21.3 5.8h0.8m11.6 -5.1h0.8m-9.7 3.3h0.8m13.6 1.8h0.8m-11.6 -6.6h0.8m10.9 1h0.8m-14.8 6.5h0.8m15.1 -7.7h0.8m-14.5 4.2h0.8m-5.1 1.2h0.8m4.9 -2.9h0.8m13.6 -0.4h0.8m-16.9 4.3h0.8m3.9 3.1h0.8m-7.8 -3.3h0.8m-2.2 -3.5h0.8m13.8 -3.8h0.8m7.3 8.3h0.8m-20.2 0.7h0.8m13.4 -6.4h0.8m-4.1 1h0.8m-3.6 5.9h0.8m-2.2 -8.2h0.8m10.4 1.7h0.8m-21.2 2.7h0.8m2 4h0.8m11.1 -1.4h0.8m-10.7 -1.4h0.8m8.6 -4.4h0.8m1.1 1.2h0.8m-0.4 5.1h0.8m-11.9 -4.3h0.8m1.6 7.8h0.8m10.4 -7.1h0.8m-17.9 6.1h0.8m5.7 -9.6h0.8m9.7 4.4h0.8m-1.8 1.6h0.8m-19.6 -1.7h0.8m6.7 3.2h0.8m4.8 -9.1h0.8m2.4 8.1h0.8m-13 -4.1h0.8m1.1 5.2h0.8m9.7 -1.9h0.8m-18.7 -5.9h0.8m1.2 2.3h0.8m12.6 -2.1h0.8m-1.7 7.8h0.8m-7.2 -9.6h0.8m17.2 1.9h0.8m-21.1 8h0.8m11.1 -9h0.8m1.8 6.6h0.8m-21.7 -1.1h0.8m4.6 -0.1h0.8m-0.6 3h0.8m-5.5 -5.7h0.8m1.3 2.2h0.8m10.3 2.8h0.8m-12.9 -3.5h0.8m19.7 -1.4h0.8m-15.9 5.5h0.8m11.6 -10.4h0.8m3.6 6.9h0.8m-24.2 3.5h0.8m6.5 -9.3h0.8m15.1 4.8h0.8m-6.9 -1.1h0.8m-22.8 7.5h0.8m4.9 -6.3h0.8m-2 -5.1h0.8m11.6 1.7h0.8m-9.7 2.7h0.8m5.3 -1h0.8m-5.6 -0.2h0.8m9.7 8h0.8m4 -3.5h0.8m0.8 -0.6h0.8m-6.2 -4.6h0.8m8.3 3.5h0.8m-18.1 -3.8h0.8m-9.2 2.8h0.8m-1.6 -4.4h0.8m18.6 6.5h0.8m-3.5 1.9h0.8m7.8 -5.1h0.8m-33.5 2.2h0.8m26.9 -0.6h0.8m-2.2 -3.1h0.8m9.7 3.4h0.8m-13.1 6.5h0.8m-10.1 -1.3h0.8m15.9 -4.1h0.8m-15.1 3.5h0.8m13.8 -5.9h0.8m-23 3.4h0.8m7.7 5.6h0.8m6.9 -10.3h0.8m-0.3 3.8h0.8m-3.8 2.6h0.8m-14.2 -4.6h0.8m22.2 -0.6h0.8m-11.3 5.7h0.8m-6.8 -0.9h0.8m12.4 -4.5h0.8m-3 0.6h0.8m2.6 3.1h0.8m-25.3 -3.5h0.8m5.6 3.6h0.8m4.9 2.5h0.8m13.8 -6h0.8m-19 -3h0.8m1 8.8h0.8m-1.8 -2.2h0.8m10.5 -3.6h0.8m-0.3 -4.4h0.8m-11.6 4h0.8m9.7 0.6h0.8m-1.6 -0.8h0.8m-12.7 -0.3h0.8m-2.9 0.5h0.8m15.1 1.4h0.8m-14.5 0.5h0.8m-5.3 -0.4h0.8m-10.9 -2.1h0.8m26.4 3.2h0.8m0 -4h0.8m0.8 1.5h0.8m-7.4 3.1h0.8m-0.3 0.9h0.8m-12 -0.6h0.8m16.7 -0.1h0.8m-16.2 2.3h0.8m13 -3.4h0.8m-11.6 -6.1h0.8m-2.7 -2.5h0.8m4.4 1.7h0.8m5.8 6h0.8m-9.3 -2.5h0.8m4.4 11.8h0.8m-12.3 -10.8h0.8m1.1 6.3h0.8m-0.9 -7.1h0.8m14.2 3.7h0.8m-8.4 -5.6h0.8m-4.1 11h0.8m-9.9 -6.2h0.8m7.1 2.6h0.8m1 1.1h0.8m-1.1 -9h0.8m-0.6 9.2h0.8m-11.3 -3.4h0.8m23.3 -1.7h0.8m-19.8 -1.4h0.8m3.8 -4.5h0.8m-11.8 3.8h0.8m1 -2.2h0.8m1.4 1h0.8m14.3 6.4h0.8m5.3 -1.5h0.8m-19.5 -0.3h0.8m11.5 3.8h0.8m-3.9 -1.4h0.8m-0.1 -9.1h0.8m-6.4 9.2h0.8m11.8 -1.9h0.8m-11.7 -7.2h0.8m-10.3 5.2h0.8m17.2 9.2h0.8m11.3 -11.8h0.8m-4 2h0.8m-8.5 9.7h0.8m-18 -2.1h0.8m12.4 -0.6h0.8m-0.2 -10.4h0.8m-23.2 2.3h0.8m1.3 -0.4h0.8m18.2 1.4h0.8m-18.2 -2.2h0.8m7.6 10.7h0.8m9.8 -6.7h0.8m-21.9 2.4h0.8m1.3 -6.1h0.8m5.5 1.2h0.8m17.9 6.3h0.8m-15.8 -1h0.8m-9 4.3h0.8m9.9 -3.5h0.8m-3.2 0.9h0.8m13.5 -1.1h0.8m-12.3 -5.3h0.8m4.1 -4.9h0.8m-21.4 4.3h0.8m25.3 3.3h0.8m13.3 7.9h0.8m-29.4 -10.1h0.8m-9.1 -3.5h0.8m3.4 1.2h0.8m9 4.8h0.8m7.4 -0.6h0.8m-4 -11.5h0.8m19.5 23.8h0.8m-22.8 -13.5h0.8m-20 2.2h0.8m-5.2 -0.4h0.8m26.3 0h0.8m-21.2 3.4h0.8m0.2 -15.2h0.8m8.5 9.7h0.8m9.7 -0.1h0.8m-10.3 1.4h0.8m15.9 -9h0.8m0.6 8.3h0.8m-23.4 2.2h0.8m-4.1 -0.7h0.8m-1.1 1.2h0.8m-1.8 -6.4h0.8m19.3 3.8h0.8m-23.1 -3.3h0.8m33.9 2.4h0.8m-23.2 1.9h0.8m11.1 -1.7h0.8m-0.2 -5.9h0.8m3.2 6.7h0.8m-20.8 1.8h0.8m2.1 -3.4h0.8m13.2 0.1h0.8m-8.7 -9.8h0.8m-11.3 9.6h0.8m8 -1.3h0.8m0.8 -4h0.8m-14.4 14.6h0.8m2 -14.2h0.8m11.2 6.7h0.8m-3 4h0.8m-13.6 -10.9h0.8m4.8 10.1h0.8m2.9 0h0.8m7.1 -5.9h0.8m0.7 -1.4h0.8m-20.9 13.1h0.8m3 -8.1h0.8m4.3 6.4h0.8m2.7 -12.9h0.8m-4.2 4.7h0.8m9.3 0.1h0.8m-6.4 5.8h0.8m-2.7 1h0.8m0.4 -15.7h0.8m12.3 6.1h0.8m-10.8 -0.6h0.8m-19.9 7.4h0.8m19.5 -11.6h0.8m-9.3 11.1h0.8m-4.7 0.8h0.8m-15.3 -1.8h0.8m24.6 1.4h0.8m-15 1h0.8m-8.3 -5.9h0.8m24.7 -9.8h0.8m-3.6 9.6h0.8m-5.6 7.4h0.8m15.8 -4.5h0.8m-29.7 -6.3h0.8m12.8 3.6h0.8m7.3 4.6h0.8m-24.3 3.2h0.8m13.3 -5.4h0.8m4.8 -0.3h0.8m1.9 8.4h0.8m-11.8 -12.9h0.8m8.2 7.7h0.8m4.4 -3.1h0.8m-30.3 5.3h0.8m0 -10.1h0.8m21.1 11.8h0.8m11.3 2.8h0.8m-29.5 -13.6h0.8m0.9 7.1h0.8m12.2 -8.3h0.8m-3.6 2.9h0.8m5.3 -8.2h0.8m-11.2 4h0.8m10 10.3h0.8m-2.9 -5.9h0.8m-20.3 2.2h0.8m16.9 -3h0.8m-26.8 3.4h0.8m12.7 -0.7h0.8m10.8 2.7h0.8m0.3 -6.4h0.8m-9.7 -0.5h0.8m-5.7 1.5h0.8m12.2 8.6h0.8m18 -2h0.8m-32.2 0.8h0.8m18.4 -11.8h0.8m-5.4 11.4h0.8m-6.1 0.4h0.8m-8.6 -9.3h0.8m-4.3 5.8h0.8m0.2 -5.3h0.8m21 4.4h0.8m-11.8 2.7h0.8m15 5.2h0.8m-15.2 -14.2h0.8m7.7 1.3h0.8m-4.3 2.7h0.8m-8.1 7.7h0.8m-5.6 -7.1h0.8m-1.3 -1.4h0.8m-15.3 -4.6h0.8m24.4 8.7h0.8m-24.9 -3.5h0.8m11.2 4.9h0.8m11.6 -2h0.8m-3.5 -4.3h0.8m-19.4 6h0.8m19.7 2h0.8m-16.3 -8.6h0.8m13.2 -7.2h0.8m-6 0.4h0.8m8.1 16.5h0.8m-1.6 -8.4h0.8m-2.7 4.6h0.8m-18.5 -3.3h0.8m23.3 4.7h0.8m5.8 -5.9h0.8m-11.2 -0.9h0.8m-11.2 -1.4h0.8m4.1 4.1h0.8m-14.9 3.5h0.8m3.3 1.6h0.8m16.6 -0.6h0.8m-0.1 -0.7h0.8m-20.4 -6.6h0.8m15.1 3.6h0.8m-13.3 -8.8h0.8m14.5 9.2h0.8m-6.5 2.8h0.8m-10.5 4.2h0.8m7.1 -0.7h0.8m-14.1 -8.9h0.8m15.8 -2.2h0.8m5.6 2.4h0.8m3.2 10.1h0.8m-7.5 -4.8h0.8m-14.8 -0.5h0.8m26.1 0.1h0.8m-28.8 -2h0.8m11.3 -1.5h0.8m-5.2 -11.5h0.8m-15.2 13.8h0.8m13.1 0.4h0.8m1.8 1.9h0.8m-1.7 -4.6h0.8m0.1 -1.8h0.8m-17.2 1.3h0.8m18.5 -1.5h0.8m-11.5 7.2h0.8m-6.6 -7.4h0.8m25 -2.5h0.8m-0.3 2.9h0.8m-3.5 -3.7h0.8m0.4 9.3h0.8m-1.6 0.1h0.8m3.4 -2h0.8m-0.7 -6.2h0.8m-9.2 4.6h0.8m2.1 -3.6h0.8m-0.6 6.2h0.8m3.6 -0.5h0.8m-5.8 -6.5h0.8m4.4 9.2h0.8m-5.1 -2.3h0.8m-1.6 -6.4h0.8m-3.3 -1.1h0.8m2.5 7h0.8m2 -6.5h0.8m-7.5 3h0.8m0.6 0.5h0.8m1.9 3.9h0.8m3.7 1.6h0.8m-4.3 -3.7h0.8m-4 -1.4h0.8m7.7 -0.4h0.8m-2.2 -1.4h0.8m-3.8 -2.5h0.8m1 3.2h0.8m-7 3.6h0.8m4.7 -0.9h0.8m-2.4 1.8h0.8m0.9 -3.5h0.8m-5.6 4h0.8m-1 -7.2h0.8m-0.9 5.2h0.8m3.9 -5.2h0.8m-3 4.2h0.8m3.3 -0.9h0.8m-0.9 0h0.8m-3.2 -5.3h0.8m-1.9 -0.6h0.8m-1.4 2.4h0.8m-2.6 1.8h0.8m-2.8 1.3h0.8m-1.7 3.5h0.8m2 1.5h0.8m-2.2 -1.6h0.8m6.9 -2.7h0.8m-4.3 5.4h0.8m-4.8 -10.6h0.8m7.4 7.5h0.8m-8.1 -3.3h0.8m-1.1 -2.6h0.8m-1.7 6.6h0.8m-3.7 -6.8h0.8m6.4 0.6h0.8m-3.7 2.9h0.8m4.7 0.6h0.8m-3.7 -4.6h0.8m-3.7 3.2h0.8m2.9 -3.2h0.8m-4.6 2.6h0.8m6.1 5.5h0.8m-6.3 2.4h0.8m2 -9.9h0.8m-4 -1.1h0.8m-0.1 1.2h0.8m-4.1 -0.3h0.8m1.4 10.5h0.8m2.8 -2.3h0.8m-5.6 -5.6h0.8m7.3 0.8h0.8m-1.7 1.4h0.8m0.3 -0.8h0.8m-3.8 -4.3h0.8m-3.1 0.4h0.8m-4.3 9.3h0.8m1.3 -10.1h0.8m1 13.9h0.8m-3.8 -5.3h0.8m0.4 -4.2h0.8m-2.4 -4.1h0.8m5.2 2.6h0.8m0.4 1.4h0.8m-8.3 -4.1h0.8m-0.6 6.3h0.8m-0.5 -7.2h0.8m3.5 9.8h0.8m-1.8 -6.6h0.8m1.5 4.8h0.8m-4.4 -7.7h0.8m0.6 1.3h0.8m1.5 8h0.8m-2.3 -9.5h0.8m0.5 9.6h0.8m-1.3 -10.2h0.8m2 10.4h0.8m-5.9 -9.6h0.8m-3.7 7.4h0.8m2.1 -7.9h0.8m2 5.8h0.8m-0.3 2.5h0.8m3.4 -2.1h0.8m-3.5 6.1h0.8m-6.9 -0.4h0.8m-2.9 -6.4h0.8m5.8 -1.3h0.8m-0.8 -2h0.8m-4.8 7.3h0.8m5 -2.4h0.8m-7.7 -5.9h0.8m0.5 2.3h0.8m-3.5 1.4h0.8m3.6 5h0.8m-2.9 -1.9h0.8m1.9 -6.6h0.8m0.5 5.9h0.8m0.1 -3.3h0.8m-12.1 8.8h0.8m10.1 -11.5h0.8m-1 -6.1h0.8m-5.9 4.1h0.8m-4.5 0.3h0.8m-0.3 2.1h0.8m5 10.1h0.8m-1.6 0.3h0.8m-3.2 -3.6h0.8m-6.4 -6.3h0.8m10.6 7.7h0.8m-12.1 -2.5h0.8m9.6 1h0.8m1.2 1.6h0.8m-6.8 -1h0.8m-4.5 1.8h0.8m5.3 -12.8h0.8m-1.9 11.9h0.8m-8 -11.2h0.8m0.6 10h0.8m5.1 -4.9h0.8m-2.3 7.9h0.8m-8.4 -18.7h0.8m12.1 11.3h0.8m-6.8 -0.3h0.8m-2.3 6.1h0.8m-4.8 -9.5h0.8m3.2 2.3h0.8m5.3 -4.6h0.8m2 7.3h0.8m3.4 -5h0.8m-7.3 -1.7h0.8m-0.7 10.6h0.8m1.6 -8h0.8m-5.4 8.5h0.8m7.9 2.4h0.8m-7.1 2.3h0.8m-3.1 -1.9h0.8m3.4 -8.1h0.8m0.7 5.1h0.8m-8 -3.9h0.8m-12.4 -0.7h0.8m10.4 -0.6h0.8m0.1 7.2h0.8m0 -3.3h0.8m-2.1 -9.8h0.8m-0.5 4.5h0.8m-4.8 -5.4h0.8m6.4 7.9h0.8m-4.7 8.6h0.8m7.2 -2.1h0.8m-6.5 -7h0.8m2.4 0.6h0.8m-14.1 -2.2h0.8m12.1 -1.5h0.8m-18.6 1h0.8m10.6 -0.2h0.8m-1.9 0.6h0.8m5 -9.8h0.8m-5.7 5.5h0.8m5.3 11h0.8m-11.8 -8.3h0.8m2.8 6.7h0.8m1.9 -6.5h0.8m3 5.5h0.8m-1.6 -3.3h0.8m-2.8 -1h0.8m-24.4 14.8h0.8m1.3 2.6h0.8m6.4 10.6h0.8m-1.8 -5.1h0.8m-2.1 -4h0.8m-8.1 -3h0.8m0 10.7h0.8m1.4 -11.2h0.8m-2.6 -1.6h0.8m4.6 -0.8h0.8m-0.2 0.6h0.8m-8.4 8.1h0.8m11.8 1.1h0.8m-3.9 -7.1h0.8m-6.8 -7.4h0.8m5.1 4.4h0.8m-0.1 4.7h0.8m-10.8 -2.6h0.8m10.6 6.8h0.8m-2.4 11.7h0.8m0.8 -9.4h0.8m-5.3 -12.1h0.8m-6.8 5.9h0.8m7.1 5.2h0.8m0 -6.3h0.8m-8.5 -3.6h0.8m7.5 2.6h0.8m-8.8 11.9h0.8m0 -13.4h0.8m4.2 9h0.8m1.8 -1h0.8m-6.1 8.1h0.8m-6.5 -8.2h0.8m-0.1 -3.4h0.8m4 -4.4h0.8m2.9 16.9h0.8m-6.2 -13.7h0.8m12.3 4.7h0.8m-19.9 0.8h0.8m-0.3 -2.3h0.8m8.6 -4.4h0.8m1.6 1h0.8m-12.7 11.8h0.8m-2.8 -1.5h0.8m11.3 1h0.8m-1.6 -1.6h0.8m0.3 -5h0.8m0.9 -8.4h0.8m-8.7 12.8h0.8m1.4 -13.9h0.8m-8.7 2.7h0.8m16.1 6.2h0.8m-18.6 3.6h0.8m11.4 -9h0.8m-4.7 12h0.8m-1.9 -13.3h0.8m1.1 15.4h0.8m2.6 -11.6h0.8m3.5 -0.9h0.8m-4.1 7.4h0.8m-6.7 4.1h0.8m3.8 -17.2h0.8m-13.6 13.2h0.8m11.8 1.2h0.8m1.8 -7.5h0.8m-2.5 5.5h0.8m-12.8 -6h0.8m-1.4 -2.4h0.8m1.8 8.7h0.8m10.5 0.7h0.8m4.6 -7.1h0.8m-11.3 8.6h0.8m0 -0.6h0.8m-3.1 -12.1h0.8m0.9 0.6h0.8m4 2.6h0.8m-1.6 3h0.8m-3.7 -3.9h0.8m2.2 1h0.8m-5.1 11.7h0.8m5.5 -6.5h0.8m-1 -9.6h0.8m-8.4 2h0.8m6.5 3h0.8m-2.1 7.5h0.8m-8.2 -12.9h0.8m8.8 12.6h0.8m-16.2 -5.7h0.8m1.6 1.4h0.8m8.2 2.3h0.8m-9.3 -4.6h0.8m3.7 -3.4h0.8m4.1 2.8h0.8m-9 -4.3h0.8m9.8 12.4h0.8m-14.3 -14.1h0.8m0.3 5.8h0.8m-2.1 4.7h0.8m0.8 3.8h0.8m-0.6 -7.5h0.8m12.4 3.1h0.8m-4.2 -1.9h0.8m-2.9 7.2h0.8m-9.2 -5h0.8m3.3 -4.1h0.8m-4.6 4h0.8m10.5 0.9h0.8m-5.9 -8.3h0.8m-6.5 -1.4h0.8m-1.1 6.7h0.8m9.7 4.7h0.8m-10.4 -8h0.8m5.7 -4.6h0.8m-0.1 2.1h0.8m-1.1 2.3h0.8m2.3 3.4h0.8m-0.5 -3.8h0.8m-3.6 11.7h0.8m-11.7 -5.2h0.8m11.6 -0.4h0.8m-0.1 4.7h0.8m-7.2 1.8h0.8m-2.5 -1.6h0.8m-4.7 -16.3h0.8m9.8 12.8h0.8m-9.2 4.4h0.8m8.7 -6.6h0.8m-1.4 -2.8h0.8m-7.4 1.7h0.8m-0.2 -3.3h0.8m3.8 2.7h0.8m-8.4 4.6h0.8m-2.9 -6.5h0.8m5.1 -1.6h0.8m-3.8 10.5h0.8m11.7 -7.4h0.8m-2.9 7.3h0.8m-2.7 -8.2h0.8m-12.1 4.1h0.8m13.6 -6h0.8m-14.5 9.7h0.8m-0.6 -1.5h0.8m13.6 -4.3h0.8m-12.5 8.5h0.8m6.5 -5.4h0.8m1.9 4.7h0.8m-10.5 -3.6h0.8m-0.1 7.4h0.8m4.5 -17.9h0.8m-7.3 9.4h0.8m8.9 -5.2h0.8m-8.2 -3.5h0.8m-2.3 11.2h0.8m-8.4 -8.9h0.8m15.6 8.8h0.8m-3.8 -10.7h0.8m-6.2 2.2h0.8m1.7 13.9h0.8m6.3 -6.3h0.8m-11 3.5h0.8m-0.5 -12h0.8m10.3 14.3h0.8m-13.6 -2h0.8m6.9 3.3h0.8m-0.9 -11.2h0.8m4.6 6.9h0.8m-3.6 -8h0.8m2.9 -0.2h0.8m-16.2 5.8h0.8m5.1 3.5h0.8m-1.9 -0.9h0.8m0.8 -21.8h0.8m-5.3 14.4h0.8m7.1 8.8h0.8m-10.6 -8.4h0.8m5 7.7h0.8m3.7 -3h0.8m-9.1 -5.5h0.8m4.4 8.1h0.8m-3.7 2.5h0.8m-0.7 -17.8h0.8m0.5 15.2h0.8m2.7 -10.8h0.8m-0.3 -4.4h0.8m-7.1 -0.5h0.8m6.4 7.6h0.8m-11 -2.2h0.8m9.3 9.7h0.8m-2.6 -7.3h0.8m-12.2 9.7h0.8m3.4 -6.2h0.8m-2 7.5h0.8m11.5 -8.4h0.8m-10.3 9.1h0.8m-5.9 -12.9h0.8m2.6 -1.1h0.8m-1 -4.1h0.8m-1.3 2.9h0.8m6.7 1.2h0.8m1.4 -0.1h0.8m-3.7 7.8h0.8m2.2 -12.1h0.8m-3.7 2h0.8m-7.2 11.9h0.8m4.5 0h0.8m-7.5 -3h0.8m5.5 8.6h0.8m-1.6 -1.3h0.8m7 -11.2h0.8m-7.6 7.2h0.8m4.8 -7.4h0.8m-3.4 5.9h0.8m-2.9 -9.2h0.8m1.6 0.3h0.8m-2.1 -3.9h0.8m-2.6 0.9h0.8m-4.7 4h0.8m-2.3 7.3h0.8m10 4.4h0.8m-11.3 -13.8h0.8m3.1 -1h0.8m-6.3 6.7h0.8m3.1 -8h0.8m8.3 -3.3h0.8m-10.7 18.6h0.8m9.5 -10.3h0.8m-15 -3h0.8m2.2 7.4h0.8m5.6 2.3h0.8m3.9 -1.1h0.8m-3.5 -5.6h0.8m0 6h0.8m2.3 -5.4h0.8m-11.7 4.1h0.8m8.5 -3.3h0.8m-10.5 13.1h0.8m-6 -21.9h0.8m12.2 17.2h0.8m-3.9 -0.7h0.8m-7.5 -13.6h0.8m-0.4 0h0.8m-2.9 11.5h0.8m1.5 0.6h0.8m6.7 4.3h0.8m-4 -19.9h0.8m4.4 6.7h0.8m-10.4 -2.1h0.8m10.2 6.7h0.8m-5.4 8.3h0.8m0.9 -8.4h0.8m-7.4 -9.5h0.8m-1.7 5.7h0.8m-4.7 -1h0.8m6.7 18h0.8m5.7 -25.4h0.8m-8 21.4h0.8m-1.8 0.3h0.8m3.7 -10.6h0.8m-1.8 -2.4h0.8m1.8 6.6h0.8m-9.1 -4.1h0.8m0 -7.6h0.8m9.4 7.7h0.8m-9 6.6h0.8m-6 2.3h0.8m11.8 -4.3h0.8m-11.9 4.3h0.8m8.6 -12.5h0.8m-10.2 7.4h0.8m3.2 1.1h0.8m2 1.6h0.8m-1.9 -10.8h0.8m1.6 -5.8h0.8m-9.3 12.2h0.8m0.7 -1.7h0.8m5.3 5.1h0.8m7.1 -3.5h0.8m-5.6 -5.4h0.8m-10.9 -0.6h0.8m9.3 2.6h0.8m-13 1.7h0.8m11 -5.3h0.8m-4.3 0.1h0.8m0.5 1.2h0.8m-10.5 3.7h0.8m6.2 -8.7h0.8m-5.3 4.3h0.8m19.9 3.8h0.8m-5.5 -6.5h0.8m-6.5 3h0.8m-6.8 -18.5h0.8m-5.9 20.4h0.8m-3.6 -3.3h0.8m-0.4 5.7h0.8m13.2 8.9h0.8m-10.9 -15.6h0.8m10.2 20.7h0.8m-18.6 -24.9h0.8m13.9 3.2h0.8m-3.5 5.3h0.8m2.4 7.7h0.8m4.2 -11h0.8m-5.8 4.1h0.8m1 1.2h0.8m-12.8 9.4h0.8m6.7 -4.4h0.8m-1.2 -5.4h0.8m-12.8 -0.5h0.8m13.9 5.3h0.8m2 9.1h0.8m-10.7 -21.2h0.8m-11.5 10.2h0.8m12.1 6.3h0.8m-5.6 -8.5h0.8m11.8 -4.2h0.8m-13 15.1h0.8m12.2 -3.1h0.8m-12.1 -16.1h0.8m15.4 2.7h0.8m2.2 10.4h0.8m-14.7 -4.7h0.8m-0.9 -6.7h0.8m7 2.6h0.8m-14.4 12.4h0.8m-9.9 -13.9h0.8m8.6 11.1h0.8m2.1 -2.3h0.8m9.1 6.3h0.8m-20.5 -20.4h0.8m10.1 17.7h0.8m7.5 -19.1h0.8m-14.6 11.9h0.8m0.4 -6.8h0.8m1.4 20.2h0.8m7.1 -11.5h0.8m-17.6 -2.2h0.8m11.7 9.4h0.8m6.7 -4.5h0.8m-6.4 6.5h0.8m-3.7 -7.1h0.8m-12.4 3.4h0.8m9.4 0.4h0.8m2.6 -19.6h0.8m-11.2 17.4h0.8m7.3 -2.3h0.8m3.8 6.9h0.8m0.8 -0.6h0.8m-11.6 -14.9h0.8m2.1 -6.6h0.8m9.7 -0.1h0.8m-3.8 15.4h0.8m-9.9 -4.3h0.8m0.4 6.5h0.8m13.7 -7.9h0.8m-13.2 3.5h0.8m-3.4 -2.5h0.8m2.4 4.8h0.8m5.9 -2.1h0.8m3.9 -5.1h0.8m-3 0.8h0.8m3.3 -13.8h0.8m-23.3 20.3h0.8m2.8 -4.4h0.8m-0.1 5.5h0.8m4.3 1.8h0.8m5 -19.1h0.8m-7.4 19.1h0.8m13.3 -2.2h0.8m-21 0.9h0.8m22.1 -9.4h0.8m-19 4.2h0.8m-8.9 -16.5h0.8m13.6 19.6h0.8m-4.3 6.1h0.8m13.3 -27.8h0.8m-12.6 21.7h0.8m-13.2 -13.9h0.8m6.6 7.7h0.8m7.3 7.4h0.8m-7.9 -16.6h0.8m7.6 7.4h0.8m-4.1 9.6h0.8m-9.8 -4.8h0.8m2.4 0.3h0.8m-2.9 -3h0.8m5.3 10h0.8m0.8 -5.1h0.8m3.4 -11.3h0.8m-9.9 18.6h0.8m-7.6 -12.6h0.8m5.5 -8.2h0.8m-0.5 11.1h0.8m-12.3 -6.1h0.8m10.2 16.2h0.8m3.8 -21h0.8m-0.2 22h0.8m-12.7 -16.9h0.8m18 -16.2h0.8m-12.9 16.4h0.8m-9.8 6.4h0.8m9.7 -3.6h0.8m1.9 -8.1h0.8m13.7 17.7h0.8m-17.9 -21.3h0.8m-10.4 12.2h0.8m8.1 -0.6h0.8m0.2 -12.8h0.8m-6.4 21.8h0.8m9.6 -1.4h0.8m-0.8 -1.4h0.8m-5.1 -19.8h0.8m-8.9 15.8h0.8m-0.4 -5.5h0.8m13.7 5.8h0.8m-3.8 1.1h0.8m-10.1 -15h0.8m-0.8 25.3h0.8m-3.8 -5.1h0.8m-6 -3.1h0.8m8.3 8h0.8m-7.5 -1.7h0.8m8 -1.4h0.8m-5.7 -19.5h0.8m11.6 9.7h0.8m-5.2 5.5h0.8m5.4 -4.7h0.8m-3.4 11.5h0.8m-8.4 -19.3h0.8m1.1 4.3h0.8m-5.3 4.2h0.8m3.9 0.6h0.8m-12.2 11.9h0.8m16.6 -21.8h0.8m-11 15h0.8m1.3 -4.7h0.8m9.3 1.6h0.8m-7.4 -3.6h0.8m5.1 5.4h0.8m-8.1 -12.9h0.8m-11.5 16.3h0.8m8.2 -9.5h0.8m-1.2 11.2h0.8m-0.1 -18.9h0.8m6.9 17.7h0.8m8.4 3.4h0.8m-13.5 -1.1h0.8m1.8 3.2h0.8m0.4 -18.6h0.8m-14.3 2h0.8m6.7 2.9h0.8m-12.6 -10h0.8m21.5 14h0.8m-5.5 5.1h0.8m-0.9 -7.8h0.8m-11.7 0.4h0.8m16.4 -14.2h0.8m-13.3 11.5h0.8m-7.5 -6.9h0.8m10.8 -2h0.8m-6 4.7h0.8m7.9 -13.6h0.8m0.6 14.5h0.8m-13.9 7.2h0.8m10.8 -16.6h0.8m-2.9 -3.4h0.8m16.4 4.2h0.8m-5.7 2h0.8m-21 -12.9h0.8m-0.5 19.8h0.8m4.4 -5.3h0.8m-13.4 -8.5h0.8m1.6 -11.3h0.8m-5.3 17.8h0.8m8.8 -23.6h0.8m-4.1 32.7h0.8m17.6 -10.1h0.8m-22.3 3.4h0.8m-3.7 19.1h0.8m4.9 -14h0.8m3 -4.7h0.8m3.6 -4.1h0.8m-13.8 5.1h0.8m3.4 18.5h0.8m-1.4 -23.6h0.8m0.1 -10.5h0.8m6.8 -3.2h0.8m7.7 25.7h0.8m-10.2 -15.4h0.8m7.5 6h0.8m-0.9 -7.2h0.8m-17.1 4.5h0.8m9.9 -6.9h0.8m2.6 19.9h0.8m-2.3 -10.4h0.8m-12.9 12.8h0.8m8.7 -9.7h0.8m-0.2 3.9h0.8m5.2 -20.6h0.8m8.7 18.9h0.8m-12.3 18h0.8m-8 -6.1h0.8m-9.8 -12.2h0.8m2.4 1.4h0.8m-2.5 11.4h0.8m34.4 -16.1h0.8m-35.8 -2.8h0.8m0.1 22.6h0.8m14.2 -27.5h0.8m-3.1 15.2h0.8m-5.1 3h0.8m-6.3 2.9h0.8m17.9 -36.1h0.8m-30.9 27.9h0.8m14.8 4.6h0.8m11.4 -4.5h0.8m-20.6 15.3h0.8m14.3 -20.2h0.8m-1.6 7.8h0.8m4.1 -15.3h0.8m-13.5 -6.6h0.8m21.2 14.9h0.8m-12.6 15.2h0.8m-9.5 -40.8h0.8m-11.8 32.1h0.8m3.7 -6.9h0.8m4.1 14.5h0.8m7.5 -28.1h0.8m-13.1 17.3h0.8m3.5 -24.4h0.8m-5 29.6h0.8m15.7 -6.7h0.8m-14.8 8.4h0.8m-10 -39.7h0.8m20.9 37.3h0.8m0 12.3h0.8m-11.4 -14.6h0.8m7.7 4.6h0.8m-3.2 -23.3h0.8m-3.6 13.1h0.8m-4.6 -13.9h0.8m3.1 0.3h0.8m-18.4 17h0.8m18.5 -0.2h0.8m-4.1 -1.9h0.8m4.7 -1.6h0.8m-12.5 7h0.8m17.6 -23.6h0.8m-10.2 -3.7h0.8m-3.6 26.9h0.8m-13.1 -18.2h0.8m19.2 -3h0.8m-16.5 19.2h0.8m10.8 -1.5h0.8m-3.5 3.6h0.8m-15.9 -14.2h0.8m11.8 -9.4h0.8m0.7 25h0.8m-0.5 -2.3h0.8m1.5 -14.7h0.8m-7.8 3.4h0.8m13.8 18.5h0.8m4.5 -14.5h0.8m-17.1 4.3h0.8m-4.1 3.7h0.8m0.5 -29.9h0.8m15.2 31.2h0.8m-13.6 -25.2h0.8m-9.5 11.6h0.8m-3 -7.6h0.8m25.3 -0.3h0.8m-16.3 16.6h0.8m-12.8 -2.9h0.8m6.7 17.1h0.8m1 -24.9h0.8m13.1 -1.4h0.8m-11.6 5.2h0.8m-0.9 2.3h0.8m-2.1 -6.3h0.8m3.3 20h0.8m-6.1 -7.1h0.8m-6.9 13.1h0.8m-3.1 -24.3h0.8m4.8 14.1h0.8m-5.2 2h0.8m-6.3 -14.6h0.8m26.3 9.8h0.8m-17.3 -6.4h0.8m-3 1.3h0.8m21.6 19h0.8m-27.9 -39.9h0.8m3.4 3.5h0.8m-11.8 21.9h0.8m15.8 6.8h0.8m-2.9 -15.8h0.8m-6.3 4.8h0.8m14.8 -20.9h0.8m-5.6 15.1h0.8m-17.6 -13.8h0.8m17.3 33.9h0.8m-1.7 -42.8h0.8m-16.4 41.2h0.8m18.4 -2h0.8m16.5 -27.7h0.8m-29.4 23.8h0.8m5.5 3.6h0.8m2.7 -16.4h0.8m0.6 17.6h0.8m6.9 -25.9h0.8m-16.7 19.6h0.8m-2.3 -10.1h0.8m-9.9 -2.9h0.8m14.4 -7h0.8m7.6 31.1h0.8m1.6 -34.6h0.8m-22 7.8h0.8m0.6 28.5h0.8m10.7 -22h0.8m-7.6 -16.6h0.8m11.8 14.2h0.8m2.1 11.1h0.8m-17.8 -5.7h0.8m1 11.9h0.8m8 -29.6h0.8m-1.2 14.6h0.8m-7.1 13.2h0.8m-15 -25.8h0.8m20 19.7h0.8m-8.4 9.3h0.8m-5.6 -21.4h0.8m3.1 3.3h0.8m-6.1 9.9h0.8m1.9 5.6h0.8m-7.9 1.7h0.8m13.2 -5.7h0.8m-13.8 -6.6h0.8m8.6 11.3h0.8m-7.6 10.6h0.8m35.1 -15.9h0.8m-14.1 -11.3h0.8m-16.8 9.2h0.8m4.6 4.4h0.8m-20.6 9.4h0.8m14.8 -25h0.8m-9.7 24.1h0.8m-2.5 -25.8h0.8m2.9 0.8h0.8m4.2 3.2h0.8m-3.7 20.1h0.8m1.5 -8.7h0.8m6.7 2.4h0.8m-16.9 -16.5h0.8m14.2 24h0.8m0.9 -8.8h0.8m3.1 -4.5h0.8m-26.5 -5.2h0.8m6.2 8.4h0.8m19.2 -0.7h0.8m-9.8 12h0.8m-1.8 -5.8h0.8m-10.2 -9.8h0.8m7.2 -17.5h0.8m2.5 17.2h0.8m-9.2 -22h0.8m10.8 8.2h0.8m-14.7 32.8h0.8m8.4 -23.5h0.8m-20 7.1h0.8m9.3 0.7h0.8m1.8 -0.1h0.8m9 -9.6h0.8m-9.4 -3.3h0.8m16.3 -3h0.8m-27.8 21.7h0.8m4.2 -8.4h0.8m6.7 9h0.8" stroke="#6c6c6c" stroke-width="0.8" stroke-opacity="0.7" fill="none"/><path d="M201.3 620.9h1m-1 0.1h1m-7 -4.4h1m8.4 4.1h1m3.1 -3.4h1m-16.6 3.3h1m1.8 -2.9h1m4.2 -1.1h1m-4.9 -1.2h1m-2.2 6.6h1m-5 -2.4h1m2.4 0.9h1m5 1.4h1m-6.8 0.8h1m4.1 -0.2h1m-8.3 -4.2h1m7.4 -3.6h1m-1.6 1.5h1m3.7 2.4h1m-10.8 2.1h1m-2.8 -1.3h1m-1 -0.8h1m-2 -2h1m11.2 2h1m0.9 2.4h1m-15.2 -2.2h1m4.6 3.5h1m-7.1 -6h1m12.6 3.6h1m-13.1 -3.3h1m6.6 5.4h1m-3.8 -0.4h1m-3.6 0.2h1m-4.4 -2.6h1m9.7 -1h1m-7.2 -0.8h1m-3.5 0.4h1m4.4 3.2h1m-5.5 0.8h1m-1.2 -3.7h1m0.2 4.4h1m-2.2 -6.1h1m8.5 3.4h1m-13.6 -0.5h1m7.9 -1.9h1m-9.2 1.5h1m-3.8 0.4h1m11.1 -2.5h1m5.5 1.6h1m-7.9 2.6h1m3.8 -1.5h1m-8.4 3.8h1m-1.4 -7.5h1m0.1 6.4h1m5.3 -3.9h1m-3.3 -1.3h1m-8 4.5h1m3.6 -4.7h1m-8.1 1.6h1m10.5 2.3h1m-2.3 -0.5h1m-2 -3.1h1m-7 0.1h1m6.7 4.5h1m-9.9 1h1m-2.9 -6h1m6.8 4.8h1m-10.8 -1.5h1m0.4 1.6h1m-0.4 0.9h1m2.9 0.1h1m4.4 -2.9h1m2.1 0.1h1m-13.2 -1.8h1m2.5 -1.9h1m3.6 5.4h1m-5.7 0h1m-5.1 -1.9h1m6.8 0.8h1m-8.2 0.8h1m6.8 -3.2h1m-2.8 -1.8h1m-3.2 6.3h1m5.2 -0.7h1m-2.4 -3.2h1m-0.1 -2.7h1m2.4 5.2h1m-6 -1h1m-0.9 3h1m-9.6 -4.8h1m0.2 2.4h1m-3.4 -2.6h1m1.6 3.8h1m-2 -5h1m0.8 -1.1h1m4.9 6.3h1m-0.6 -0.8h1m-10.4 -1.1h1m1.5 -1.8h1m-2.3 2.2h1m-1.8 -2.4h1m2.1 -1.9h1m5.2 4h1m-2.4 2.3h1m-10.4 -3.9h1m2.3 1.9h1m1.6 -3.9h1m1.1 -0.1h1m-5 5.6h1m-4.9 -3.5h1m1.1 -0.4h1m8.3 3.5h1m-3.6 -5.8h1m-7.3 1.1h1m2.1 4.8h1m13.8 -5.7h1m-0.1 4.3h1m-3.4 -0.9h1m3.4 -4.3h1m-5.2 4.5h1m-1.5 2.2h1m0 -2h1m2 -2.4h1m-3.6 3.2h1m-2.2 -1.2h1m-1.3 -2.5h1m-0.1 4.2h1m1.2 -2h1m-4.3 -0.6h1m1 2.3h1m-1.2 -2.1h1m-1.1 2.5h1m-1.5 0.7h1m0.3 -0.9h1m-4.7 0.5h1m2.3 0.2h1m-1.8 -5.3h1m-0.4 3h1m0.1 -2h1m-2.6 2.3h1m-0.5 -1.7h1m-4.1 -1.7h1m1.8 5.4h1m-2.6 -4.9h1m-0.5 2.5h1m2.2 1.2h1m-3.7 -0.3h1m0.9 -1.6h1m-0.6 3.6h1m-2.6 -2.5h1m-0.1 -1.9h1m-2.1 2.4h1m-0.5 -0.7h1m-1.7 3.2h1m1.3 -3.1h1m-3.7 -1.6h1m-1.2 0.2h1m1.5 0.2h1m-1.2 2.9h1m-3 -1.7h1m2.1 1.7h1m-4 -1.2h1m-1.3 -2.6h1m0.2 0.4h1m-1.8 -3.8h1m1.3 4.1h1m-2.6 2h1m-1 0.3h1m-0.7 -2.3h1m0.3 3.5h1m-2 -4.2h1m0.9 1.4h1m-4.9 -1.4h1m-0.8 2.4h1m-0.4 -0.9h1m1.8 1.9h1m-4.2 0h1m0.8 1.4h1m-0.7 -5.8h1m-2.9 4.1h1m3 -0.7h1m-2.6 -0.6h1m-4.7 -1.2h1m1.9 2.4h1m-2.2 -2.9h1m-1.6 -1.1h1m-2.6 2.6h1m1.3 -2.5h1m-1.5 3.1h1m0.9 -2.2h1m-2.7 3.2h1m0.1 -3.4h1m-1.7 1.4h1m-1 4.5h1m-1.9 -2.7h1m2 -0.7h1m-3.8 -0.4h1m1.6 -0.7h1m-4.8 -0.5h1m0.8 0.5h1m-22.6 19.6h1m-2.2 1.5h1m5.3 0.9h1m-6.2 2.1h1m5.8 -6h1m-6.1 8.5h1m-1.2 -11.6h1m0.6 11h1m-2.9 -9.8h1m3.3 -0.9h1m-1.5 0.2h1m-5.6 9h1m-2.5 -4.8h1m6.1 3.8h1m-3.8 -1.4h1m0.4 2.1h1m-5.6 -0.7h1m-3.4 -2.3h1m0.8 -0.7h1m0.4 -6h1m-4.2 3h1m-0.6 1.9h1m5.8 4.5h1m-7.6 1.6h1m7.7 -4.8h1m-7.8 -3.7h1m3.9 5.3h1m-4.5 -8.5h1m-1.5 0.1h1m1.1 9.9h1m-2.5 -7.2h1m0.9 -0.8h1m0.8 2.1h1m-2.3 6.2h1m-1 -9.4h1m-5.6 0.7h1m5 2.6h1m-5.7 5.6h1m-1.5 -6.5h1m3.2 -0.2h1m-5.8 -0.1h1m-2.5 2.6h1m5.7 -3.6h1m1.1 2.1h1m-6.9 5h1m2.6 -2h1m-2.6 3.4h1m-1.4 -9.1h1m-2.2 10.7h1m3 -9.5h1m-4.6 7.3h1m-5.8 -5.1h1m5.7 -3.7h1m-4.4 0.3h1m-0.9 1.8h1m1.1 7.1h1m-2.9 -10.4h1m-1.4 9.9h1m2.4 -7.6h1m-0.1 4.7h1m-8 -1h1m6.4 -1.5h1m1.2 4.3h1m-2.6 -5.6h1m0.8 -0.7h1m-3.7 1.4h1m-0.2 -0.3h1m0.3 2.5h1m-7.4 -6.7h1m-1.1 11.6h1m-3.6 0.9h1m2.1 -1.6h1m-1.2 -7.4h1m-2.2 0.6h1m4 -3.1h1m3.1 5.9h1m-7.7 -4.4h1m2.8 5.5h1m-4.8 -5h1m-2.4 7.8h1m-2.8 -7.2h1m-0.5 9.3h1m5.3 -2.4h1m-4.5 0.6h1m0.5 1h1m-3.1 -1.2h1m3.8 -3.3h1m-1.1 3h1m0.4 -5.4h1m-7 -3.5h1m-3.4 9.2h1m1.7 -7.7h1m3 5.4h1m-4 -7.1h1m-0.4 8.6h1m2.3 -7.7h1m-5.7 9.7h1m-4.1 -6.8h1m4.5 3.4h1m-5.8 -0.2h1m-0.7 -7.6h1m0.9 2h1m1.4 0.1h1m-7.3 8.5h1m5.3 2.7h1m-4.2 -12.4h1m-0.4 11.6h1m1.8 -10.9h1m-0.9 7.5h1m-0.8 3.5h1m-0.7 -9.2h1m-5.5 -0.3h1m-3.4 8.8h1m1 -7.3h1m4.7 -5.3h1" stroke="#d43ad8" stroke-width="1" stroke-opacity="0.95" fill="none"/><path d="M204.5 619.9h1m-1.7 -1.2h1m-8.3 -1.1h1m-1.9 2.1h1m1.8 1.7h1m-2.7 -4h1m0 -0.7h1m4.2 4.2h1m-6.9 -3h1m4.6 2.1h1m-0.1 0.9h1m-7.1 -3.4h1m2.9 0.2h1m-3 3.5h1m-4.1 0h1m-1 -2.5h1m0.7 -1.3h1m-0.5 0.5h1m4.2 2.6h1m-1.1 -2h1m-7 -0.5h1m-2.7 -1.7h1m-0.2 4.8h1m0.6 -3.5h1m2.2 0.2h1m-4.4 -0.3h1m0.5 4.4h1m-0.7 -1h1m-1 -3.8h1m-5.5 1.4h1m5.8 -0.5h1m-3.4 3h1m-3.6 0h1m5.6 -0.7h1m1.3 -2.6h1m-10.9 2.5h1m1.1 -3.1h1m-1.6 2.9h1m0.7 0.9h1m-4.8 -2.3h1m3.8 3.4h1m-4.2 -1.7h1m3.1 -2.4h1m1.1 0.8h1m-6.3 2.3h1m4.4 -1.2h1m-0.4 -1.8h1m-5.9 -0.3h1m-1.5 -0.9h1m3.1 1.2h1m0.1 0h1m-0.3 2h1m-1.3 -1.6h1m-3.4 -1h1m-4.3 3.8h1m-3.8 -0.1h1m-0.3 -1.6h1m3.6 1.8h1m-1.9 0.7h1m-4.8 -4h1m6.8 2.1h1m-6.7 -2.6h1m1.1 3h1m-2.9 0.5h1m-0.1 0.7h1m-0.9 -0.4h1m3 -3.1h1m-4.6 -0.3h1m-3.3 -0.4h1m5.3 1.6h1m-7.2 1.9h1m2.1 -3.9h1m-10.7 19.7h1m2.9 -0.4h1m-4.5 1.6h1m0.5 2.4h1m-1.8 -3.5h1m-1.1 1.5h1m2.1 3.4h1m0.6 -1.1h1m-4 -0.7h1m-1.9 0h1m-0.2 -0.2h1m0 -0.1h1m-4.1 -3.9h1m-0.8 4.5h1m0 1.5h1m0.1 -4.1h1m-2.4 2.1h1m0.3 -3.5h1m-5.2 2.2h1m1.9 0.3h1m-2.3 -0.7h1m0.1 2.9h1m-1.5 -3.1h1m-1.2 -0.9h1m2 2h1m-4.2 0.2h1m0.3 -2.6h1m-2.9 2.7h1m-0.4 -1.5h1m2.6 -1.5h1m-1.8 0.4h1m-2.5 4.4h1m1.9 -0.7h1m-2.9 -2h1m-3.7 -2.7h1m1.2 2.9h1m-2.2 -1.6h1m-1.6 -2h1m0.5 3.5h1m-2.1 -0.5h1m-1.8 1.6h1m3 -1.2h1m-2.6 -0.5h1m-0.8 1h1m-1.3 -3.5h1m-0.4 5.6h1m-1.1 -1.7h1m-2 0.8h1m-1.4 -1.5h1m-0.6 -3.1h1m-2.5 1.5h1m0.4 0.3h1m-0.2 -1.7h1m-1 -0.2h1m0.7 5.1h1m-5.4 -1.4h1m-1 -2.8h1m1.3 -0.6h1m-2.2 2.1h1m-0.1 -2.5h1m-0.6 2.1h1m-2.4 2.3h1m-1.9 1h1m3.7 -3.6h1m-3.1 3.3h1m-3 -2.3h1m1.8 -2.9h1m0.3 3.4h1m-6.5 0.8h1m1.8 -2.9h1m-2.9 1.3h1m1 3.5h1m-0.3 -2.7h1m-2.1 1h1m-1.7 -1.5h1m-0.3 2.8h1m-1.4 -0.2h1m-1.7 -4.2h1m0.9 -0.7h1m-1.4 2.4h1m-0.5 4.2h1m-1.4 -0.8h1m-5.1 -3.1h1m3.8 0.1h1m-1 2.3h1m-1.4 -4.3h1m-3.3 -0.7h1m-0.8 3.2h1m2.5 -2.4h1m-1.3 -1.5h1m-0.9 1.4h1m-1.3 3.9h1m-1.2 -0.2h1m-1.4 -1.4h1m1.4 3.4h1m-2.6 -6.3h1m-5.9 3.8h1m5.4 -2.2h1m-3.1 2.7h1m-5 -3.1h1m1.2 -1.7h1m1.3 2.5h1m-3.3 -0.1h1m0.6 3.2h1m-1.5 -1.1h1m-1.6 3.3h1m0.4 -7.8h1m-2.5 5.4h1m1.1 -4.7h1m-2 2h1m-3.7 2.4h1m0.9 -1.6h1m0.7 0.4h1m-4.5 -0.4h1m2.3 -0.7h1" stroke="#9a48ee" stroke-width="1" stroke-opacity="0.95" fill="none"/><path d="M200 617h1m-2 1.7h1m-4.5 0.8h1m4.2 0.1h1m0.3 0.2h1m-1.9 -0.4h1m-3.3 1h1m-0.9 0.1h1m-1.4 -0.2h1m-0.3 0.4h1m-0.9 -2.2h1m0.7 0.6h1m-0.7 -0.7h1m-1.1 0.8h1m-0.7 0.4h1m-3.4 -0.3h1m1.6 -0.4h1m-3.4 -0.3h1m-0.2 0.6h1m-2.8 0.5h1m2.3 -0.2h1m0 -0.3h1m0.3 0.7h1m-2.1 0h1m-4.5 -2.8h1m-2 2.1h1m0.6 0.9h1m1.3 0.5h1m-0.3 -1.2h1m-1.6 -1h1m-3.1 0.7h1m-3.7 -0.9h1m-2 1.1h1m1.2 0h1m-0.7 1.4h1m0.6 -1.9h1m-2.3 -0.9h1m-0.3 1.1h1m1 1.3h1m-0.2 -0.6h1m-7.1 -0.5h1m-2.7 1.3h1m4.5 -0.2h1m-0.6 -1.9h1m-3.2 1.8h1m1.2 -0.3h1m-1 -1.5h1m-3 0h1m1.8 0.6h1m-3.7 -0.9h1m-0.7 1.8h1m0.8 -0.7h1m-2.2 0.2h1m-2.6 -1.5h1m1.1 0.8h1m-3.5 0.2h1m2 0.8h1m0.2 -1h1m-6.6 1h1m2 -0.2h1m-1.1 -0.6h1m-1.7 -0.6h1m1.8 0h1m-3 0.5h1m-0.5 -0.7h1m-0.4 -0.8h1m1 2.1h1m-4.5 -1h1m-2.1 1.9h1m-0.8 -1.3h1m0.8 -0.2h1m-2.6 0h1m0.4 0.2h1m-2.2 -0.5h1m-1 0.6h1m-1.5 1.4h1m-0.4 -2.1h1m-0.6 -0.6h1m2.3 1.1h1m-4.4 0.8h1m0.7 0.4h1" stroke="#4a80f2" stroke-width="1" stroke-opacity="0.95" fill="none"/><rect x="177.5" y="597.5" width="57" height="56" fill="none" stroke="#777" stroke-width="0.8"/><line x1="208.5" y1="597.5" x2="208.5" y2="653.5" stroke="#585858" stroke-width="0.9"/><line x1="177.5" y1="628.5" x2="234.5" y2="628.5" stroke="#585858" stroke-width="0.9"/><line x1="177.5" y1="597.5" x2="177.5" y2="653.9" stroke="#3a3a3a" stroke-width="0.9"/><line x1="177.1" y1="653.5" x2="234.5" y2="653.5" stroke="#555" stroke-width="0.9"/><line x1="191.8" y1="652.9" x2="196.71" y2="652.9" stroke="#de34de" stroke-width="0.8"/><line x1="196.71" y1="652.9" x2="197.19" y2="652.9" stroke="#2cb8f0" stroke-width="0.8"/><line x1="197.19" y1="652.9" x2="207.4" y2="652.9" stroke="#4a80f2" stroke-width="0.8"/><line x1="178" y1="615.7" x2="178" y2="617.17" stroke="#2cb8f0" stroke-width="0.8"/><line x1="178" y1="617.17" x2="178" y2="618.46" stroke="#de34de" stroke-width="0.8"/><line x1="178" y1="618.46" x2="178" y2="621.56" stroke="#de34de" stroke-width="0.8"/><line x1="178" y1="621.56" x2="178" y2="622.94" stroke="#e03030" stroke-width="0.8"/><line x1="178" y1="622.94" x2="178" y2="623.5" stroke="#4a80f2" stroke-width="0.8"/><line x1="213.59" y1="652.9" x2="214.03" y2="652.9" stroke="#e03030" stroke-width="0.8"/><line x1="214.03" y1="652.9" x2="215.09" y2="652.9" stroke="#2cb8f0" stroke-width="0.8"/><line x1="215.09" y1="652.9" x2="215.99" y2="652.9" stroke="#de34de" stroke-width="0.8"/><line x1="178" y1="632.3" x2="178" y2="633.56" stroke="#e03030" stroke-width="0.8"/><line x1="178" y1="641.23" x2="178" y2="645.18" stroke="#3ee07a" stroke-width="0.8"/><line x1="187.7" y1="652.9" x2="188.79" y2="652.9" stroke="#2cb8f0" stroke-width="0.8"/><line x1="189.43" y1="652.9" x2="192.25" y2="652.9" stroke="#de34de" stroke-width="0.8"/><line x1="192.25" y1="652.9" x2="192.78" y2="652.9" stroke="#3ee07a" stroke-width="0.8"/><line x1="192.78" y1="652.9" x2="198.1" y2="652.9" stroke="#de34de" stroke-width="0.8"/><line x1="176.3" y1="600.5" x2="177.5" y2="600.5" stroke="#222" stroke-width="0.7"/><text x="175.2" y="601.8" font-size="3.7" text-anchor="end" fill="#444">10<tspan font-size="2.4" dy="-1.3">4</tspan></text><line x1="176.3" y1="611.43" x2="177.5" y2="611.43" stroke="#222" stroke-width="0.7"/><text x="175.2" y="612.73" font-size="3.7" text-anchor="end" fill="#444">10<tspan font-size="2.4" dy="-1.3">3</tspan></text><line x1="176.3" y1="622.36" x2="177.5" y2="622.36" stroke="#222" stroke-width="0.7"/><text x="175.2" y="623.66" font-size="3.7" text-anchor="end" fill="#444">10<tspan font-size="2.4" dy="-1.3">2</tspan></text><line x1="176.3" y1="633.29" x2="177.5" y2="633.29" stroke="#222" stroke-width="0.7"/><text x="175.2" y="634.59" font-size="3.7" text-anchor="end" fill="#444">10<tspan font-size="2.4" dy="-1.3">1</tspan></text><line x1="176.3" y1="644.22" x2="177.5" y2="644.22" stroke="#222" stroke-width="0.7"/><text x="175.2" y="645.52" font-size="3.7" text-anchor="end" fill="#444">10<tspan font-size="2.4" dy="-1.3">0</tspan></text><line x1="185.5" y1="653.5" x2="185.5" y2="654.7" stroke="#222" stroke-width="0.7"/><text x="184.9" y="659.6" font-size="3.7" text-anchor="middle" fill="#444">10<tspan font-size="2.4" dy="-1.3">0</tspan></text><line x1="194.94" y1="653.5" x2="194.94" y2="654.7" stroke="#222" stroke-width="0.7"/><text x="194.34" y="659.6" font-size="3.7" text-anchor="middle" fill="#444">10<tspan font-size="2.4" dy="-1.3">1</tspan></text><line x1="204.38" y1="653.5" x2="204.38" y2="654.7" stroke="#222" stroke-width="0.7"/><text x="203.78" y="659.6" font-size="3.7" text-anchor="middle" fill="#444">10<tspan font-size="2.4" dy="-1.3">2</tspan></text><line x1="213.82" y1="653.5" x2="213.82" y2="654.7" stroke="#222" stroke-width="0.7"/><text x="213.22" y="659.6" font-size="3.7" text-anchor="middle" fill="#444">10<tspan font-size="2.4" dy="-1.3">3</tspan></text><line x1="223.26" y1="653.5" x2="223.26" y2="654.7" stroke="#222" stroke-width="0.7"/><text x="222.66" y="659.6" font-size="3.7" text-anchor="middle" fill="#444">10<tspan font-size="2.4" dy="-1.3">4</tspan></text><line x1="232.7" y1="653.5" x2="232.7" y2="654.7" stroke="#222" stroke-width="0.7"/><text x="232.1" y="659.6" font-size="3.7" text-anchor="middle" fill="#444">10<tspan font-size="2.4" dy="-1.3">5</tspan></text><text x="180.8" y="602.8" font-size="4.4" textLength="10.65" lengthAdjust="spacingAndGlyphs" fill="#1a1a1a" stroke="#1a1a1a" stroke-width="0.06">41.3%</text><text x="232.5" y="602.8" font-size="4.4" text-anchor="end" textLength="8.4" lengthAdjust="spacingAndGlyphs" fill="#1a1a1a" stroke="#1a1a1a" stroke-width="0.06">7.7%</text><text x="180.8" y="651.2" font-size="4.4" textLength="10.65" lengthAdjust="spacingAndGlyphs" fill="#1a1a1a" stroke="#1a1a1a" stroke-width="0.06">49.9%</text><text x="232.5" y="651.2" font-size="4.4" text-anchor="end" textLength="8.4" lengthAdjust="spacingAndGlyphs" fill="#1a1a1a" stroke="#1a1a1a" stroke-width="0.06">1.1%</text><text x="206.5" y="669.9" font-size="8.8" text-anchor="middle" textLength="16.2" lengthAdjust="spacingAndGlyphs" fill="#111" stroke="#111" stroke-width="0.1">3DL1</text><path d="M280.1 619.8h0.8m9 -7.5h0.8m-0.6 2.4h0.8m-9.1 3.7h0.8m3.8 0.9h0.8m-2.5 2.4h0.8m-6.2 -6.7h0.8m1.7 6.5h0.8m3.8 -1.6h0.8m3.2 0.9h0.8m2.1 -1.7h0.8m-3.4 -1.4h0.8m-13.5 -1.2h0.8m3.3 6.4h0.8m-3.2 -5.5h0.8m14.6 -1.1h0.8m-14.2 -2.4h0.8m6.1 6.2h0.8m2.2 3.6h0.8m-2.3 -5.1h0.8m-7.8 -2.2h0.8m-3.2 -1.6h0.8m11.5 1.8h0.8m6.4 -3.7h0.8m-12 8.2h0.8m-12.5 0h0.8m3.9 -6.9h0.8m-2.3 10.2h0.8m-6.9 -7.7h0.8m3.8 -0.4h0.8m10.7 3.8h0.8m-11.8 -6.8h0.8m-0.4 4.2h0.8m1.4 -1.9h0.8m11.7 1.5h0.8m-12.4 -1.7h0.8m-5.6 1.2h0.8m-0.7 2.6h0.8m5 1.7h0.8m2.5 1.4h0.8m-11.7 -6.9h0.8m1.7 3.7h0.8m5 -5.8h0.8m-5.6 0.9h0.8m13.9 2.3h0.8m-13.5 4.1h0.8m8.6 2.2h0.8m-8.6 -1.8h0.8m-2.5 -0.1h0.8m10.2 -8.7h0.8m-10.1 3.4h0.8m-2.8 2.9h0.8m2.7 2.9h0.8m-2.6 1.9h0.8m-1.2 2.8h0.8m1.2 -14.8h0.8m-3.5 2.1h0.8m-2.2 8.2h0.8m0.3 -5.8h0.8m6.8 -2.7h0.8m-7.7 -0.9h0.8m2.4 10.6h0.8m0.6 -1.9h0.8m-7.6 -2.6h0.8m6.8 3.8h0.8m-5.8 -8.8h0.8m2 1.3h0.8m0.4 0.4h0.8m-11.2 7.4h0.8m5.4 -8.2h0.8m-4.5 4.9h0.8m5.6 -6.2h0.8m-4.4 1.5h0.8m3.9 0.6h0.8m2.2 4.8h0.8m-1 -8h0.8m0 1.6h0.8m-0.6 -0.6h0.8m-4.3 0.1h0.8m-4.8 9h0.8m-1.7 -4.6h0.8m-2.7 1.1h0.8m-4.1 -0.2h0.8m4.2 -0.4h0.8m6.6 3.1h0.8m-1.3 1.3h0.8m-4.7 1.1h0.8m-4.5 -4.3h0.8m0.6 -4.1h0.8m-2.9 7.1h0.8m9.9 -7.3h0.8m-7.6 4.5h0.8m9.3 -7h0.8m-8.3 9.1h0.8m-4.9 -7.2h0.8m2.8 11.4h0.8m-5.3 -2.1h0.8m5.2 -8.9h0.8m1.8 7.6h0.8m-5 -9.9h0.8m-6.2 3.4h0.8m-1.1 0.4h0.8m-1.4 4h0.8m0.6 0.6h0.8m18.7 -2.7h0.8m-16.9 -4.3h0.8m6 8.7h0.8m-9.2 -8.4h0.8m4.6 3.8h0.8m5.4 2h0.8m-3.9 -3.3h0.8m-8.6 3.6h0.8m-2.1 0.5h0.8m6.7 0.6h0.8m-4.2 -6.1h0.8m0.6 -2.3h0.8m-7.1 6.7h0.8m8.9 -0.9h0.8m-6 3.1h0.8m-0.8 -7.4h0.8m-5.7 3.6h0.8m-1.6 -2.3h0.8m9.6 5.1h0.8m-6.2 -6.5h0.8m-4.2 6.3h0.8m6.8 -0.8h0.8m-0.5 2.9h0.8m-3.7 -12h0.8m3.7 7.6h0.8m-16.5 -1.7h0.8m-1.4 0.3h0.8m8.9 -8.8h0.8m0 11.7h0.8m1.3 4.5h0.8m-6.4 -2.1h0.8m-3.1 -3.9h0.8m7.9 -0.9h0.8m-0.3 2h0.8m-14.9 -4.4h0.8m13.6 5.5h0.8m-1.5 -5.1h0.8m1.5 -0.9h0.8m-6.2 6.3h0.8m-5.6 -8.8h0.8m8.4 7.6h0.8m-3.3 1.5h0.8m-11 -3.8h0.8m-1.6 -0.4h0.8m6.3 3.2h0.8m1.8 2.2h0.8m2.7 -8.1h0.8m-2.8 5.8h0.8m0.4 1.9h0.8m-5.5 -1h0.8m-6.2 -9.1h0.8m0 4.3h0.8m4.8 -0.6h0.8m-1.4 0.4h0.8m-2.8 -1.6h0.8m-0.1 9.2h0.8m0.6 -3.6h0.8m5.6 -3.4h0.8m1.7 1.8h0.8m-8.1 -4.7h0.8m5.6 7.1h0.8m-2.4 -2.9h0.8m-2.2 5.2h0.8m-7.3 -8.5h0.8m8.9 4.3h0.8m-12.2 -8.1h0.8m2.4 4.9h0.8m-8.6 5.6h0.8m3.6 -3.7h0.8m-3.3 6.6h0.8m0.4 -5.7h0.8m11.2 -2.3h0.8m-14.6 1h0.8m7.2 1.7h0.8m-8.8 -4.8h0.8m9.9 11.4h0.8m-15.2 -17.2h0.8m27.4 5.9h0.8m-24.1 2.8h0.8m5.1 3.8h0.8m3.9 -0.2h0.8m-13.7 -0.5h0.8m6.7 -7.7h0.8m5.9 3.4h0.8m-8.9 4h0.8m-0.4 8h0.8m3.1 2.6h0.8m-8.2 -11.9h0.8m15.8 -0.9h0.8m-5.1 1.3h0.8m1.5 -0.4h0.8m-14.5 -1.2h0.8m1.7 3.4h0.8m-0.1 -5.1h0.8m8 6.5h0.8m-7.1 -10.2h0.8m-11.6 5.7h0.8m10.8 -1.5h0.8m-5.9 -5.7h0.8m-1.9 5.2h0.8m18.2 1.3h0.8m-9 -0.5h0.8m4.3 5.6h0.8m-10.8 -9.1h0.8m-12.9 6.8h0.8m14.2 0.6h0.8m-7.6 -0.8h0.8m4.2 -4.2h0.8m-14.2 -5.6h0.8m21.2 2.5h0.8m-11.8 0.6h0.8m3 2.5h0.8m6.6 8.5h0.8m-9.2 0.8h0.8m-4.6 -5.5h0.8m12.5 -7.9h0.8m-8.5 13h0.8m-8 -8.2h0.8m0.4 7.4h0.8m-6.5 -9.9h0.8m-3.2 0.9h0.8m8.6 7.7h0.8m-1.3 -8h0.8m-4.3 2.2h0.8m-3.9 7.5h0.8m3.4 -4.9h0.8m14.9 -0.4h0.8m-10.8 0.1h0.8m-11.4 -2.2h0.8m-1.3 -0.4h0.8m0.8 5.6h0.8m16.8 0.2h0.8m-12.6 -2.2h0.8m0 -0.7h0.8m-5.1 -3.5h0.8m-6.5 -1.5h0.8m13.4 6.3h0.8m-15.8 -2.9h0.8m7.4 -4.8h0.8m-6 -0.5h0.8m0.9 -2.4h0.8m-2.4 13.3h0.8m-2.8 2.5h0.8m8.8 -1.5h0.8m5.1 -8.5h0.8m-15.6 -5.4h0.8m8.4 6.3h0.8m-2 8.7h0.8m8.7 -8.2h0.8m-3 0h0.8m-3.7 0.2h0.8m-7.3 12.7h0.8m-7.5 -8.3h0.8m18.7 -2.6h0.8m-16.6 1.1h0.8m11.4 -6.4h0.8m8.2 12.6h0.8m-20.1 -14.2h0.8m-0.6 8.8h0.8m4.5 -5.6h0.8m-10.8 4h0.8m17.5 2.3h0.8m-6.8 -8.1h0.8m-12.3 8.4h0.8m13.8 -11.6h0.8m-4.3 15.2h0.8m4.1 1.2h0.8m-7.5 -11.9h0.8m-2.2 1.3h0.8m5.9 6.6h0.8m-3.1 -1.6h0.8m1.3 -11.7h0.8m-5.9 0.6h0.8m4.3 8.5h0.8m-10.3 2.1h0.8m10.8 -1.9h0.8m-7.9 -0.1h0.8m6.8 1.7h0.8m-17.1 -9.5h0.8m14 7.4h0.8m-12.8 0.2h0.8m11 -2.5h0.8m-9.2 4.8h0.8m6.2 -2.2h0.8m2.6 3.7h0.8m2.5 -7.9h0.8m-15.9 -2.9h0.8m2.2 13.8h0.8m-6.2 2.4h0.8m16.3 -6.4h0.8m-11.8 1.8h0.8m-11 -8.2h0.8m-0.7 5.2h0.8m0.7 -4.4h0.8m5.4 6.1h0.8m0.2 -3h0.8m-9.1 -0.4h0.8m7.2 -1.9h0.8m-2.5 5.9h0.8m13.7 -3.1h0.8m-9.7 -1.3h0.8m-8.2 -1.5h0.8m18.8 -0.9h0.8m-13.2 -3.2h0.8m-5.2 3.8h0.8m5.1 0.7h0.8m-9.6 1.5h0.8m6.1 -1.7h0.8m-3 3.9h0.8m-4.3 -2.7h0.8m-5.9 0.6h0.8m14.1 2.3h0.8m-1.4 -9.4h0.8m-3.8 2.9h0.8m1.3 5.2h0.8m-2.5 4.4h0.8m1.9 -13h0.8m-19 7.7h0.8m3.2 -2.4h0.8m2.9 -0.5h0.8m-6.7 5.7h0.8m18.6 -1.1h0.8m-17.9 2.1h0.8m2.5 -4.1h0.8m-8.5 2.1h0.8m4.1 -2.4h0.8m15.2 0.1h0.8m-3.8 -1.2h0.8m-10.3 -2.3h0.8m-1.8 1h0.8m10.9 -0.7h0.8m-13.9 5.7h0.8m-7.3 -0.9h0.8m18 3.9h0.8m-18.3 -2h0.8m6.2 -3.5h0.8m4.4 -3.9h0.8m-13.9 6.1h0.8m1.1 -5.5h0.8m9 1.7h0.8m5.8 1.6h0.8m-6.7 -2.1h0.8m-12.3 2h0.8m19.4 0.1h0.8m-5.6 -4.8h0.8m-8.5 -1.5h0.8m-10.4 1.8h0.8m2.5 2h0.8m11.6 -1.2h0.8m-16.5 2.8h0.8m0.2 5.6h0.8m9.3 -3.8h0.8m3.6 2.5h0.8m-1.3 -3.3h0.8m-2.3 -2.9h0.8m-7.6 0.1h0.8m9.9 -1.9h0.8m-15.7 0.7h0.8m14.1 2.9h0.8m-4.7 1.1h0.8m-9.1 -1.6h0.8m10.5 5.8h0.8m3.9 -2h0.8m-15.2 -5.6h0.8m-4.1 4.9h0.8m9.9 -1.4h0.8m-2.3 -11.5h0.8m-5.9 11.7h0.8m-5.1 -2.2h0.8m7.2 -6.8h0.8m-10 15.3h0.8m6.2 -4.2h0.8m-2 -5.7h0.8m11.7 0.9h0.8m-4.2 -4.2h0.8m-10.3 10h0.8m12.4 -4.3h0.8m-6.4 -5.5h0.8m0.8 1.2h0.8m-2.8 8.7h0.8m11.8 -6.9h0.8m-12.7 7.6h0.8m-6.8 -6.7h0.8m6.6 -1.8h0.8m4.1 -1.2h0.8m-17.6 8.3h0.8m-0.3 -8.5h0.8m17.4 0.8h0.8m-7.9 5.3h0.8m-9.6 -1.8h0.8m19 0.7h0.8m-11.1 1.9h0.8m-14.1 1.5h0.8m13 -8.8h0.8m-1.6 0.2h0.8m-14.3 7.3h0.8m5 -5.8h0.8m4.7 0h0.8m-4.8 3.2h0.8m-10.2 -0.5h0.8m17.6 -4.5h0.8m6.3 6.6h0.8m-15.4 -1h0.8m-6.5 -1.9h0.8m0.1 4.8h0.8m-1.9 4.3h0.8m11.5 -4.4h0.8m-10.1 -3.9h0.8m16.2 -0.8h0.8m-14.7 3h0.8m-7.1 -3.6h0.8m-2.8 -0.5h0.8m3.5 1.9h0.8m-2 -1.3h0.8m-0.6 5.1h0.8m2.3 -0.8h0.8m10.2 -0.5h0.8m-2.9 -5.1h0.8m0.3 3.1h0.8m-9.7 3.5h0.8m-10.2 0.6h0.8m15.1 -10.6h0.8m-13.3 11.3h0.8m13.1 -3.5h0.8m-6 -1.6h0.8m-13.1 -1.7h0.8m17.2 0.9h0.8m3.6 4.6h0.8m-25.4 -2.1h0.8m17.5 0.4h0.8m-0.8 -1.8h0.8m5.6 5.9h0.8m1.9 -5.5h0.8m-20 1.4h0.8m1.7 -0.1h0.8m6.6 -4h0.8m-17.6 7.2h0.8m7.7 -4.2h0.8m5.4 -3.7h0.8m-11 6.4h0.8m10.7 4h0.8m-12.2 -9.1h0.8m0.7 -2h0.8m-2.2 7h0.8m17 0.7h0.8m-12.2 1.2h0.8m6.1 -9.7h0.8m-13 0.5h0.8m-7.2 5.2h0.8m6.7 -3.2h0.8m2.4 0.1h0.8m-4.1 -2h0.8m-7.3 6.8h0.8m15.9 0.2h0.8m-16.9 -5h0.8m7.2 0h0.8m6.1 9.8h0.8m-15.2 -12h0.8m11.4 -1.3h0.8m2.8 4.4h0.8m-13.1 -2.6h0.8m-3.4 5.7h0.8m9.4 -2.7h0.8m-0.4 -3.8h0.8m-5.5 1.5h0.8m7.8 -0.6h0.8m-16 7.6h0.8m15.6 -5.9h0.8m-14.9 0.3h0.8m7.3 1.5h0.8m8.1 2h0.8m-18.3 -7.3h0.8m11.2 4.4h0.8m-1.7 2.6h0.8m-3.8 2.9h0.8m4.1 -7.5h0.8m-5.4 3.6h0.8m-9.8 -3h0.8m5.4 4.1h0.8m4.3 -4.5h0.8m1 2.2h0.8m-10.2 0.4h0.8m17.2 -5.3h0.8m-19.4 5.1h0.8m11.4 3.9h0.8m-3.9 -4.2h0.8m-11.3 5.5h0.8m9.9 -3.6h0.8m6.3 -4.5h0.8m-11.2 0.8h0.8m-7.5 3.9h0.8m-6.5 -3.4h0.8m3.4 -0.4h0.8m11.4 0.6h0.8m-5 2.6h0.8m7.4 2.6h0.8m-11.2 -6.2h0.8m0.1 -1.6h0.8m-6.7 5.4h0.8m6.7 -0.7h0.8m-11.5 2.9h0.8m10.4 -6.5h0.8m-4.3 4.3h0.8m2.8 -6.1h0.8m-12.2 4.4h0.8m-3.4 0.6h0.8m14.2 2.4h0.8m-4.8 1.3h0.8m-7.8 2.5h0.8m0.3 -13h0.8m-4.1 15h0.8m12.7 -10.3h0.8m0.2 1.7h0.8m5 -2.2h0.8m-20.9 6.2h0.8m3.6 0.3h0.8m5.3 -5.4h0.8m6.1 2.4h0.8m-8.8 -0.5h0.8m-4.3 0.2h0.8m12 -0.6h0.8m-21.4 1.1h0.8m5.5 -0.5h0.8m-4.9 2.6h0.8m14.3 -2.2h0.8m-3.7 -7.4h0.8m18.2 5.7h0.8m-22.1 -2.1h0.8m-1.9 3h0.8m-7.2 -3.2h0.8m6.7 4.6h0.8m-4.1 -1.5h0.8m9.6 -3.9h0.8m-1.8 32.4h0.8m-11.7 -15h0.8m11.8 -5.1h0.8m-11.4 13.7h0.8m7.5 -16.6h0.8m-5.3 0h0.8m-4.2 7.6h0.8m8.4 8.8h0.8m-5.3 -9.8h0.8m5.4 8.1h0.8m-7.7 11.4h0.8m0.8 3h0.8m1.9 -14.1h0.8m-3.5 7.3h0.8m-7.1 2h0.8m0.6 -14.4h0.8m1.8 -11.9h0.8m2.7 13.8h0.8m0.3 -5.1h0.8m-2.2 16.4h0.8m-8.3 3.7h0.8m5.5 -2.6h0.8m-5.6 -5.6h0.8m6.3 -11.4h0.8m-1.9 -1.2h0.8m-3.4 12.8h0.8m-3.2 3.1h0.8m4.4 -18.5h0.8m2 0.4h0.8m-3.4 15.1h0.8m4 -3.5h0.8m-3.5 -8.5h0.8m-10.8 15.1h0.8m8.1 -12.2h0.8m-11.9 -1.5h0.8m13 3.9h0.8m-4.1 -0.8h0.8m-6.8 8h0.8m-3.9 -8.6h0.8m1.7 6.4h0.8m7.8 0.6h0.8m-11.3 -4.8h0.8m-0.6 -8.4h0.8m0.6 21.3h0.8m3.1 -24.5h0.8m5.6 -2.3h0.8m-0.5 8.2h0.8m-3.4 -3.3h0.8m-0.2 10h0.8m-3.6 -5.9h0.8m1 7.3h0.8m-8.7 -9.2h0.8m1.3 -2.3h0.8m-2.5 13h0.8m5.3 -15.8h0.8m2.8 3.6h0.8m-0.9 17.5h0.8m-5.1 -19.7h0.8m-5.8 1.8h0.8m6.5 11.7h0.8m-2.1 -0.7h0.8m-2 -9.2h0.8m-2.3 17.1h0.8m-10.8 -4h0.8m3.5 -8.9h0.8m9.1 0.9h0.8m-10.6 -3.2h0.8m11.7 12.3h0.8m-5.9 -20.4h0.8m0.7 11.4h0.8m-1.6 7.8h0.8m-0.9 4.2h0.8m-8.3 -20.9h0.8m2.3 -2.5h0.8m4.3 12.5h0.8m-9.8 8h0.8m2.1 -8.2h0.8m8 3.4h0.8m-8.4 7.3h0.8m5.2 -6.4h0.8m-1.2 -3.8h0.8m-7.3 3.9h0.8m-1.7 10.1h0.8m-0.1 -3.2h0.8m8.9 -4.5h0.8m-6.2 -17.8h0.8m-0.6 22.5h0.8m0.9 -4.6h0.8m-0.9 -11.6h0.8m-2.3 -2.8h0.8m-8.7 12.8h0.8m11 -5.3h0.8m-2.4 -1.6h0.8m-6.2 -3.5h0.8m3.9 18h0.8m-9.8 -10.6h0.8m3.9 5.7h0.8m0 1.2h0.8m-0.7 -15.3h0.8m5.4 15.2h0.8m-12.5 -12.1h0.8m-2.3 1.8h0.8m0.7 -2.5h0.8m7.6 9h0.8m-4.8 5.4h0.8m1.8 0h0.8m-6.1 -8h0.8m4.7 5.1h0.8m3.3 -10.1h0.8m-0.7 4.8h0.8m-4.7 10.2h0.8m2.6 -9.1h0.8m-9.7 -2h0.8m6.4 2.3h0.8m-5.3 -7.9h0.8m2.5 1h0.8m1.7 -5.7h0.8m-12 14h0.8m4.3 0.6h0.8m-13.4 -7.7h0.8m10.6 13.9h0.8m0.8 -19.8h0.8m5.5 16.8h0.8m-9.5 -3.8h0.8m-2 -8.3h0.8m-1.5 -3h0.8m-2.1 0.5h0.8m2.1 15.8h0.8m0.3 -15.3h0.8m0 -7.2h0.8m2.1 21.3h0.8m-2 -3.6h0.8m-4.4 3.1h0.8m5.6 -12.5h0.8m1.1 17h0.8m-3.7 -5.8h0.8m-7.8 -1h0.8m5.3 1.8h0.8m0.8 -14.4h0.8m-6.2 9.9h0.8m-2.2 3.5h0.8m9.5 -8h0.8m-11.9 -0.2h0.8m0.4 6.5h0.8m7.5 -3h0.8m-13.2 4.2h0.8m8.9 3.2h0.8m-6.9 -10.1h0.8m9 0.8h0.8m-13.2 -0.8h0.8m4.4 -8.6h0.8m-3.5 11.4h0.8m7.6 7.2h0.8m-3.9 0.2h0.8m1.3 0.2h0.8m-12.2 -7.2h0.8m11.3 -6.4h0.8m-7.8 -3.7h0.8m-2 6.2h0.8m2.3 15.6h0.8m-3.7 -14.6h0.8m-1.5 -0.2h0.8m-0.9 2.8h0.8m4.6 -9.6h0.8m-4.7 12.4h0.8m-0.6 8.5h0.8m7.3 -15h0.8m-10.1 -6.6h0.8m5.1 0.5h0.8m-6.1 11.4h0.8m7.6 2.6h0.8m-12 -8.6h0.8m7 -4.9h0.8m-0.9 13.5h0.8m-4.8 -6.2h0.8m3.3 6.2h0.8m-3.3 -25.7h0.8m-3.9 20.1h0.8m2.3 -8.2h0.8m2.7 11.4h0.8m1.9 -4.3h0.8m-6.5 9.7h0.8m-2.2 -20.2h0.8m7.2 14.9h0.8m-6.8 1.6h0.8m1.9 -0.7h0.8m-7.7 -5.4h0.8m3 -8.8h0.8m-1.6 1.9h0.8m-4.8 2.8h0.8m4.3 17.5h0.8m-3.4 -8.8h0.8m-3.4 8.8h0.8m6.1 -6.1h0.8m-8.5 -0.9h0.8m7.3 5.2h0.8m-4 -21.7h0.8m5.7 1.5h0.8m4 3.8h0.8m-11.8 -6h0.8m4.5 5.1h0.8m-7 -0.8h0.8m2 -5.1h0.8m3.2 5.2h0.8m-0.3 3.9h0.8m-13 1.9h0.8m7.5 10.6h0.8m-6.3 -18h0.8m-0.8 9.8h0.8m-0.9 7.7h0.8m8.5 -7.3h0.8m-4.9 -14.3h0.8m-1.3 0.8h0.8m-0.4 21.1h0.8m-4.9 -3.2h0.8m-5.6 -3.8h0.8m4.7 -10h0.8m-4.7 10.8h0.8m0.8 5.3h0.8m10.7 -1.2h0.8m-5.7 -15.5h0.8m0.2 -2.7h0.8m-6.6 6.5h0.8m5 17.3h0.8m2.4 -7.4h0.8m3.2 -10.4h0.8m-10.1 14h0.8m2.7 -8.6h0.8m1.7 5.6h0.8m-0.1 -12.4h0.8m-9.8 11.3h0.8m4 0.7h0.8m-3.4 8.9h0.8m0.4 -5h0.8m-1.2 -19.5h0.8m-5 19.3h0.8m3.5 -5.5h0.8m0.7 -4.5h0.8m-6.9 -1.8h0.8m1.3 -5h0.8m4.9 8.8h0.8m1.9 1.3h0.8m-2.3 -1.8h0.8m-8.2 5.4h0.8m-4.5 -7.5h0.8m-1.1 -10.8h0.8m-3.6 3.3h0.8m3.4 19.2h0.8m11.2 -11.8h0.8m-3.7 -6.9h0.8m-6.1 24.2h0.8m-1.2 -11.8h0.8m6.6 -3.4h0.8m-15 -6.7h0.8m8.3 15.2h0.8m0 -12.6h0.8m-1.3 16.3h0.8m-5.3 -23.3h0.8m1.7 2h0.8m3.8 5.6h0.8m-5.9 8.4h0.8m-5.5 -7.3h0.8m8.5 -1.1h0.8m-8.9 10.5h0.8m9.9 1h0.8m-2.5 3.5h0.8m5.4 -18.8h0.8m-10.5 17h0.8m-7.8 -2.1h0.8m5.1 2.3h0.8m-2.3 -17.5h0.8m6.4 6.9h0.8m-4.1 7.9h0.8m-12.2 -8.5h0.8m4.1 -5.4h0.8m-1.5 20.7h0.8m2.1 -6.7h0.8m-6.6 -3.4h0.8m8.2 -18.1h0.8m2.1 16.7h0.8m-1.1 -8.1h0.8m-11.5 5.2h0.8m5.9 -6h0.8m-8.7 9.1h0.8m7.1 -13.6h0.8m-3.5 -3.5h0.8m-4.3 21.5h0.8m8.2 -11.7h0.8m0.5 0.6h0.8m-13.6 -0.4h0.8m14.2 10.7h0.8m-13.9 -9.5h0.8m8.1 7.7h0.8m0.4 -3.3h0.8m-1.1 10.2h0.8m-9 -9.3h0.8m7.6 4.1h0.8m0.1 1.4h0.8m-9 -10.6h0.8m7.6 -1.8h0.8m-2.7 -9.9h0.8m-2.3 22.9h0.8m-6.2 -1.4h0.8m1.5 -15.8h0.8m4.6 16.9h0.8m2.1 -6.5h0.8m-9.9 3.8h0.8m-2.8 1.2h0.8m13.7 -14h0.8m-11.9 20.2h0.8m-1 -24.6h0.8m-1.8 8.3h0.8m-0.6 -8.5h0.8m4.7 18.5h0.8m-8.6 -2.3h0.8m0 3.4h0.8m8.5 -7.3h0.8m-11.2 -12.2h0.8m-0.9 13.3h0.8m-0.2 -0.4h0.8m3.5 13.1h0.8m5.3 -16.1h0.8m-1.6 -3.2h0.8m-4 14.6h0.8m2.3 -8.6h0.8m-0.7 -2.6h0.8m-2.7 5.7h0.8m1 -7.7h0.8m-1.3 -11.6h0.8m-10.2 7.9h0.8m6.2 -0.4h0.8m-2.1 16.8h0.8m-3.4 -1.6h0.8m5.1 -26.1h0.8m0.2 11.3h0.8m-1.1 -0.2h0.8m1.6 15.2h0.8m-9.3 -19.8h0.8m5 22.5h0.8m-1.5 -13.1h0.8m-0.5 7.3h0.8m0.3 -12.1h0.8m-9.4 7h0.8m4.3 12.2h0.8m-4.5 -21.6h0.8m-1.3 10.4h0.8m5.2 -9.8h0.8m1.1 0.6h0.8m6.7 -0.3h0.8m-21.4 3.8h0.8m0.1 -11.2h0.8m4.6 20h0.8m2.7 -7.4h0.8m4.6 7.2h0.8m-3.1 -15.9h0.8m-5.9 29.1h0.8m1.7 -28.7h0.8m-15 29.6h0.8m2 -26.4h0.8m9.5 19h0.8m-1.6 -2.6h0.8m-4.5 -12.7h0.8m8.9 2.3h0.8m-3.6 -6h0.8m-5.5 -0.7h0.8m-3.3 22.4h0.8m8.6 -22.3h0.8m-9.5 20.2h0.8m7.6 -7.1h0.8m-0.5 1.8h0.8m3 -0.2h0.8m-10.4 -11.5h0.8m-4.8 21h0.8m14.1 -5.1h0.8m-9.9 6.5h0.8m-0.9 -27.5h0.8m-5.7 3.7h0.8m0.1 -8.6h0.8m-1.8 2h0.8m1.5 20.8h0.8m-6 -4.8h0.8m9.8 -24.7h0.8m-11.5 21.3h0.8m7.8 12.7h0.8m0.4 -7.6h0.8m-1.5 -7.6h0.8m-6.4 -5.1h0.8m-5.2 3.9h0.8m12.6 4.4h0.8m-15.7 -15.5h0.8m3.4 -1.2h0.8m1.5 15.1h0.8m7.7 -17.3h0.8m4.9 12.9h0.8m-9.3 8.6h0.8m-4.1 5.9h0.8m5.3 -15.5h0.8m-6.3 1.6h0.8m8.5 8.7h0.8m-16.7 -2.5h0.8m2.7 4.7h0.8m9.6 5.5h0.8m-13.8 -10.1h0.8m5.1 -4.3h0.8m6.9 3.8h0.8m-4 18.1h0.8m-4.3 -11.8h0.8m-1.6 -2.6h0.8m-4.8 -10.2h0.8m10.4 -12.9h0.8m-11.5 26.8h0.8m-4 -11.1h0.8m-1.9 6.8h0.8m4.2 -1.8h0.8m-1.6 -8.7h0.8m0.4 20.8h0.8m-10.9 -5.2h0.8m1.1 -3.4h0.8m7.9 -20.6h0.8m-1 16.4h0.8m8.3 -0.5h0.8m-6.5 4.6h0.8m-6.3 0.3h0.8m9.3 -0.5h0.8m-16.6 -28.9h0.8m11.3 32.7h0.8m-0.1 3.6h0.8m-6 -15.2h0.8m-1.9 -3h0.8m5.9 13.3h0.8m-3.6 -36.9h0.8m-4 24.2h0.8m3.5 7.4h0.8m-14.1 6.7h0.8m10.3 -12.5h0.8m12.2 6.2h0.8m-10.3 -6h0.8m1.5 -2.1h0.8m-9.7 22h0.8m4.2 -10.4h0.8m-4.4 -6.8h0.8m-5.8 -7.7h0.8m4.4 14.8h0.8m-3.4 -25.1h0.8m5.5 14.9h0.8m-3.2 -1.9h0.8m-5.3 13.3h0.8m5 -13.3h0.8m1.3 16.8h0.8m-12.8 -1.4h0.8m13.7 -6.9h0.8m-9.4 5.8h0.8m4.4 8.2h0.8m0.7 -22.9h0.8m-5.3 10.4h0.8m9.1 -10.4h0.8m-17.4 3.9h0.8m16 5.2h0.8m-13.7 -12.7h0.8m4 22.9h0.8m5.2 -21.7h0.8m2.4 -15.6h0.8m-10.8 13.7h0.8m-3.1 7.4h0.8m-1.7 9.3h0.8m2 -0.3h0.8m3.9 -37.6h0.8m-8.4 35.7h0.8m7.6 0.9h0.8m-10.9 -7.4h0.8m-7 -8.6h0.8m6.7 11.5h0.8m8 6.6h0.8m-11 8.2h0.8m4 -3.8h0.8m-3.1 -20.3h0.8m6.8 16.8h0.8m-5.7 0.6h0.8m10.2 -0.4h0.8m-12.7 0h0.8m17 -6.9h0.8m-18 -17.8h0.8m1.9 -9.4h0.8m-12.4 37.8h0.8m-2.2 -14.9h0.8m2 20h0.8m8 -28.6h0.8m2.7 9.5h0.8m-6 20.7h0.8m0.3 -13.7h0.8m-13.1 8.3h0.8m13.9 -23.4h0.8m-8.3 15.3h0.8m0.3 9h0.8m7.9 -13.1h0.8m-12.2 9.4h0.8m13.8 -14.5h0.8m-15.5 6.5h0.8m1.4 -25.9h0.8m-1.6 18.7h0.8m6.9 -13.5h0.8m-3.2 18.3h0.8m1.8 10.3h0.8m-5.5 -14.3h0.8m-0.3 5.9h0.8m0.4 -16h0.8m-3.3 4.9h0.8m9.9 11.4h0.8m-12.6 -9.7h0.8m-1 5.1h0.8m7.7 -3h0.8m-3.8 7h0.8m-14.3 13.9h0.8m11.9 -3.6h0.8m-4.5 -9.1h0.8m-0.3 -11.6h0.8m3.3 17.7h0.8m2.1 -20.1h0.8m-3.4 5.2h0.8m-17.4 22.7h0.8m8.4 -41.5h0.8m5.5 26h0.8m-4.7 -2.7h0.8m-4.3 13.5h0.8m6.9 -1.9h0.8m-9.8 -11.7h0.8m-1 6.3h0.8m15.3 -10.1h0.8m-7.3 4.5h0.8m2.1 17h0.8m-8.6 -6.8h0.8m-0.9 1.9h0.8m-0.3 -1.4h0.8m6.8 2.3h0.8m-9.7 -0.9h0.8m2.1 -13.9h0.8m-6.4 6.7h0.8m-5.9 1h0.8m26.3 -3.1h0.8m-22.5 -1.5h0.8m-2.1 -5.8h0.8m6.4 3.9h0.8m-5.8 6.5h0.8m11.6 -5.9h0.8m-13.3 11.5h0.8m3.4 -12.5h0.8m4.9 2.3h0.8m-10.9 6.5h0.8m10.1 -6h0.8m-13.6 -8.1h0.8m-0.3 13.5h0.8m5.5 -17h0.8m-9.5 17.4h0.8m6.6 -9.3h0.8m-0.4 -12.5h0.8m-4 22.3h0.8m1.9 0.7h0.8m0.8 -11.5h0.8m8 -4.4h0.8m-15.2 17.7h0.8m9 -9.3h0.8m-0.7 -9.5h0.8m-11.2 -9.2h0.8m1.6 29.9h0.8m3.8 2h0.8m-7.4 3.9h0.8m9.4 1h0.8m-13.3 -13h0.8m6.7 -12.6h0.8m6.6 9.5h0.8m-0.9 -5.8h0.8m-7.1 3.4h0.8m-1.9 3.9h0.8m-0.9 -18.1h0.8m-5.7 13.5h0.8m10.1 -5h0.8m0.9 11.5h0.8m-10.1 -8.4h0.8m7 -12h0.8m-1.2 20.8h0.8m-8 -1.8h0.8m-0.1 -3.3h0.8m4.5 -2.8h0.8m-15.1 -10.3h0.8m13.4 15.9h0.8m5.6 -8.9h0.8m-9.9 6.8h0.8m14.6 -14.8h0.8m-3.2 6.5h0.8m-19.8 -3.9h0.8m-8.7 14.9h0.8m4.7 -4.3h0.8m3.1 2.3h0.8m-9.3 -10.5h0.8m1.1 4.5h0.8m4.9 -3.7h0.8m11 -8h0.8m0.1 10.9h0.8m-17.8 -25.8h0.8m5.6 32.4h0.8m-8.5 -7.9h0.8m2.3 -7.7h0.8m14.8 6.8h0.8m-7 -5.2h0.8m-11.3 -16.3h0.8m6.3 34.8h0.8m-2.4 -16.9h0.8m-6.6 10h0.8m12.4 5.4h0.8m-8.6 -20.6h0.8m0.3 7.9h0.8m-8.2 0h0.8m-6.1 21.5h0.8m3.3 -24.3h0.8m-0.5 22.7h0.8m9.7 -22.2h0.8m-6.8 14.9h0.8m9.5 -11.7h0.8m-5.9 -18.4h0.8m-4 4.8h0.8m5.7 11.8h0.8m-8.5 7.6h0.8m-4 -16.7h0.8m4.2 15.6h0.8m-10.2 -14.3h0.8m7.5 6.7h0.8m-7.9 10.9h0.8m15 -5.4h0.8m-9.9 0.3h0.8m-10.7 9.1h0.8m16.9 2.2h0.8m-12.1 3.7h0.8m13.5 -11.8h0.8m-21.5 1.1h0.8m17.9 -9.6h0.8m5.4 11.9h0.8m-6.9 -18.2h0.8m-3.8 9.8h0.8m-12.3 6.2h0.8m25.6 -23.7h0.8m-9.9 17.4h0.8m9.7 13h0.8m-18.3 -11.4h0.8m-6.3 5.1h0.8m5.5 -11.5h0.8m-5.1 6.5h0.8m-6.2 9h0.8m6.1 -25.5h0.8m-8.9 5.6h0.8m1.5 -3.8h0.8m6.4 18.4h0.8m0.4 8.3h0.8m-6.5 0.4h0.8m2.8 -8.3h0.8m-2 -13.7h0.8m2.8 -0.6h0.8m4.7 5.2h0.8m-7.1 2.9h0.8m-8.9 19.5h0.8m-1 -8.1h0.8m-3.4 6.1h0.8m4.2 -25.6h0.8m-4.2 7.7h0.8m-5.6 0h0.8m8.9 -4.6h0.8m-0.9 15.4h0.8m7.9 -24.1h0.8m-16.7 8.7h0.8m20.6 9.2h0.8m-14 -5.6h0.8m-3.3 -4.4h0.8m-3.3 7.6h0.8m14.6 -2.7h0.8m-11.6 12.6h0.8m11.4 -12.3h0.8m-3.5 8.2h0.8m-9.9 -10.5h0.8m16.5 5.7h0.8m-10.1 2.2h0.8m-20 -7.9h0.8m7.4 11.4h0.8m4 6.2h0.8m5.5 -19.7h0.8m1.5 16.6h0.8m-14.8 12h0.8m4.9 -30.2h0.8m-2.8 -3.7h0.8m-4.7 28.8h0.8m9.6 -14.3h0.8m1.8 0.2h0.8m-0.7 -1.2h0.8m-1.2 -17.3h0.8m-20 10h0.8m10.2 1.7h0.8m15.2 15.8h0.8m-22.9 -18.8h0.8m7.7 4h0.8m0.8 9.2h0.8m-5.5 -6h0.8m8 5.3h0.8m-11 4.2h0.8m8.3 -19.4h0.8m-8.9 5.1h0.8m-1.9 6.1h0.8m0.6 10.4h0.8m-5.2 -30.1h0.8m12.7 14h0.8m-18.2 10.8h0.8m10.9 -10h0.8m7.5 21.4h0.8m-9.3 -32.1h0.8m-6.7 8.7h0.8m7 -8.9h0.8m-4.6 17.7h0.8m6 -2.5h0.8m-10.9 11h0.8m8.9 -34.6h0.8m-11.3 18.5h0.8m7.9 11h0.8m-0.2 7.6h0.8m-3.1 -6.3h0.8m-12.9 1h0.8m15.1 -5.2h0.8m-11 9h0.8m-7.5 -0.3h0.8m11.3 -31.5h0.8m-5.3 29.3h0.8m-4.7 1.4h0.8m5.3 -9.4h0.8m9.1 -2.7h0.8m16.9 -11.3h0.8m-35 31.9h0.8m4 -20h0.8m-0.2 12.3h0.8m0.1 9.3h0.8m10 -17.9h0.8m-6.6 7.5h0.8m-5 0.5h0.8m-8.9 -13.7h0.8m-3.6 -22.6h0.8m4.9 20.4h0.8m17.9 12.5h0.8m-23.1 8.8h0.8m17.2 -2.3h0.8m-14.7 -13.5h0.8m11.2 -4.3h0.8m-3.4 6.4h0.8m-10.5 -13h0.8m4.4 19.5h0.8m-6.2 -6.6h0.8m15.2 3h0.8m-9.3 -0.8h0.8m-2.2 -19.3h0.8m-7.9 5.8h0.8m-2 12.7h0.8m3 -16.4h0.8m6.7 27.9h0.8m3.2 -15.5h0.8m-16.8 -8.3h0.8m0.2 21.5h0.8m3.4 -21.4h0.8m9.4 7h0.8m-1.7 16.2h0.8m-16.7 -5.9h0.8m19.5 -16.6h0.8m-2.1 19.3h0.8m-8.3 -1.5h0.8m7.5 -6.2h0.8m-21.6 9.6h0.8m11.9 -22h0.8m-10.4 10.7h0.8m11.2 13.7h0.8m-6 -23.2h0.8m5.3 -7.8h0.8m1.7 -4.9h0.8m-3.8 36.8h0.8m-10.7 -29.8h0.8m6.6 -9.2h0.8m-15.3 10h0.8m16.3 9.6h0.8m-4.2 15.5h0.8m1.2 -25.3h0.8m-8.7 9.1h0.8m-9.2 15.4h0.8m24.9 -10.4h0.8m-23.9 -7.4h0.8m3.1 8.6h0.8m6.6 -15.1h0.8m-3 16.4h0.8m5.9 12.3h0.8m-10.3 -19.8h0.8m2.7 -2h0.8m7.1 3.8h0.8m3.2 -15.4h0.8m-8.3 37.2h0.8m5.4 -22.6h0.8m-22.9 1.1h0.8m14.6 -4.9h0.8m-4.6 0.4h0.8m0.4 -7.8h0.8m3.3 29h0.8m-2.2 -37.6h0.8m-8 22h0.8m-6.6 12.6h0.8m-3.6 -34h0.8m14.2 28.5h0.8m-6.5 -2.6h0.8m-1.1 -13.7h0.8m-3 1.2h0.8m6 10h0.8m-8.3 3.7h0.8m11.7 -6h0.8m-3.6 -10.1h0.8m-4.3 22.3h0.8m7 -0.7h0.8" stroke="#6c6c6c" stroke-width="0.8" stroke-opacity="0.7" fill="none"/><path d="M284.7 619.4h1m-1 -3.9h1m4.6 4.3h1m-1.6 -2.7h1m-8.5 2h1m4.3 -2.8h1m0.6 2.9h1m-0.4 -2.4h1m-3.5 -0.9h1m-4.6 0.4h1m6 0.9h1m-3.5 2.2h1m-5.7 0.6h1m-2.5 -0.8h1m3.8 -3.8h1m-5.2 -0.6h1m2.9 0.3h1m2.2 -0.8h1m-1.8 1.9h1m-5.1 3.3h1m2.4 0h1m-1.6 1.2h1m-1.4 2h1m0.4 -9.6h1m-7.1 3.8h1m-1.4 0.8h1m7.4 0.4h1m-7.3 1.8h1m3.8 -2.1h1m-6 1.7h1m0.5 1.9h1m2.8 -1.6h1m1.4 -0.1h1m-5.1 -4.2h1m1.2 1.2h1m-5.7 -3h1m2.7 2h1m-4.5 4.2h1m2.1 -0.3h1m-3.6 0.8h1m-1.7 -0.7h1m-1.2 -4h1m-0.9 0h1m-4.3 0.5h1m-0.4 3.4h1m3 -4.2h1m-2.7 -0.4h1m-2.8 2.6h1m6.3 -2.3h1m-8.3 -0.5h1m5.9 3.8h1m-1.7 0h1m-0.1 -1.2h1m1.5 0.8h1m-3.1 -4.4h1m-9.2 4.7h1m1.3 0.7h1m-1.3 -4.4h1m5.7 -0.7h1m-7.3 1.2h1m0.1 6.4h1m-1 -2.2h1m-4.5 -2.3h1m7.7 1.2h1m-4.2 -3.5h1m-4.1 4.5h1m4.7 -3.2h1m-2.4 -0.7h1m-5.5 -0.2h1m2.1 -0.7h1m-2.6 5.7h1m-2.8 -2.1h1m-0.1 2.5h1m3.1 -0.4h1m-2.5 -1h1m-6.4 -1.1h1m8.1 0.1h1m-1.4 0.8h1m-5 -3.8h1m-3.1 0h1m0.2 5h1m2.2 -6.1h1m-4.2 0.9h1m4 2.6h1m-2.5 2h1m0.9 -1.4h1m-8.4 -2h1m7 -0.1h1m-9.1 0.3h1m-0.6 3.6h1m-1.6 -2.8h1m-1.7 0.1h1m3.4 -2.4h1m-2.3 -0.6h1m2.2 4.6h1m-0.8 -4.7h1m-5.1 1.2h1m1.4 3.5h1m-5.3 -0.3h1m3.8 -2.6h1m-8.2 1h1m3.6 22.1h1m-1.1 -9.3h1m-1.5 10.6h1m3.7 -6.2h1m-3.1 -4.7h1m3.1 5.1h1m-10.5 7h1m-0.3 -9.5h1m2.6 -3.3h1m-2.7 11.5h1m0.8 -14.9h1m-0.4 13.6h1m1.7 -6.4h1m-1.5 6.8h1m-5.5 -9h1m4.4 3.9h1m-5.5 8.1h1m-4.6 -4.8h1m-1.2 -4.6h1m1.1 1.9h1m3.8 -4.8h1m-0.4 4.6h1m-6.9 -3h1m4.3 9.3h1m0 -4.6h1m-2.1 2.5h1m-2 -8.8h1m0.5 2.2h1m-7 0.3h1m3.9 -2.1h1m-6.3 3.3h1m6.1 3.5h1m-6.7 2.3h1m-1.3 -5.5h1m2.3 6.7h1m3.6 -7.3h1m-6.1 -6.2h1m-0.9 14.9h1m1.1 -6.2h1m-4.6 2.1h1m-1.9 -4.9h1m-0.9 -3.9h1m2.7 9.1h1m0.4 -7h1m-5.2 7.3h1m2.6 -0.6h1m-6.1 -4.9h1m2.1 -2.9h1m-4.1 9.7h1m5.1 -4.1h1m-1.3 -5.1h1m0.9 7.3h1m-9.9 -2.2h1m3.4 -4.8h1m1.4 1.2h1m-3 -3.2h1m-1.8 -0.3h1m-0.8 11.6h1m-1.9 -10.2h1m1.2 0.7h1m0.2 2.3h1m-3.7 6.6h1m-5.3 -7.5h1m0 6.5h1m0.1 -7.4h1m-0.4 6.9h1m3.5 -2.8h1m-8.1 -1.7h1m1.5 11.3h1m2.4 -15.6h1m-5.6 0.8h1m1.5 11.4h1m2.4 -8.4h1m-6.3 -5.7h1m2.7 15.2h1m-5.2 -11.3h1m5.5 4.1h1m-4.6 -8.4h1m-0.4 13h1m0.3 0.4h1m-6.1 -2.6h1m2.5 -7.2h1m-1.1 9.3h1m-3.2 3.7h1m-2.4 -19.5h1m4.8 2.5h1m-0.6 9.8h1m-4.6 -7.7h1m-1.7 1.9h1m-3.1 6.2h1m-1.2 3.4h1m2.1 -10.1h1m3.6 5.9h1m-3.7 2.2h1m-4.9 -0.6h1m2.3 -10.1h1m0.4 11.1h1m-6.5 -4h1m6.3 -2.7h1m-8 -3.8h1m3 -1.1h1m-2.9 3.1h1m-0.5 -2.8h1m-4.4 3.1h1m5.5 10.9h1m-4.8 -13.6h1m2.2 -0.9h1m-8.1 10h1m6.5 -0.7h1m-7.7 -7.4h1m4.9 12.3h1m-2.1 0.4h1m-2.7 0.7h1m2.2 -13.3h1m-6.3 12.9h1m4.7 -2.2h1m-3.1 -14.4h1m-4 12.3h1m0.2 -7.9h1m0.5 12.7h1m-1.3 -1h1m1.3 -11.5h1m-2.2 -2.6h1m-1.1 13.7h1m-4.5 -8.2h1m-0.4 4.5h1m0.4 -6.8h1m-0.7 10.6h1m-1.2 1.4h1m-0.4 0.6h1m3.5 -9.3h1m-1.2 6.3h1m-2.4 -2.9h1m-3.8 3.7h1m-0.1 -9.7h1m0.4 -0.9h1m-3.4 0.6h1m-2.1 -1.9h1m-3.1 12.2h1m-0.8 -4.2h1m1.8 2.6h1m0.9 -1.6h1m-1.9 -8.8h1m-1.9 13.4h1" stroke="#d43ad8" stroke-width="1" stroke-opacity="0.95" fill="none"/><path d="M286.7 615.8h1m-3 1.4h1m-1 -1h1m-1.5 1.5h1m-0.6 0.2h1m-0.9 0.7h1m-2.9 -2.3h1m0.7 2h1m-0.2 0.6h1m-2 -2.1h1m2.3 -0.9h1m-0.9 -0.1h1m-2.4 2h1m0.3 -1.3h1m-1.4 -0.3h1m-3.8 1.1h1m-1.4 0.6h1m0.9 -1.7h1m-0.4 0.6h1m-2.3 0.7h1m-0.7 1.6h1m0.9 -2.9h1m-1.1 1.3h1m-1.2 -1.1h1m-1.3 2.1h1m-1.3 -1.2h1m-4.4 0.9h1m3.5 -1.1h1m-6.8 0.9h1m1.2 0h1m-0.6 -1.9h1m-1.5 1.7h1m1.4 -2h1m-0.4 2.4h1m-1.8 -1.3h1m-0.2 1.7h1m-3.1 -1.9h1m1.4 1.6h1m-2.8 -0.6h1m1.8 -1h1m-5.1 -0.6h1m-0.7 2.9h1m1.4 -2.8h1m-1.3 1.1h1m-1.2 -1.4h1m-1.5 0.3h1m-2 2h1m-0.7 -2.5h1m1.5 0.9h1m-2.3 1.6h1m0.6 -0.4h1m-2.9 -0.9h1m2.9 1.6h1m-4.1 -1.5h1m0.4 -0.1h1m-4.5 0.7h1m-0.8 -0.5h1m0.2 1.8h1m-0.6 0.3h1m-1 -1.1h1m-3.1 -0.9h1m-1.9 1.2h1m1.9 -1.8h1m0.3 2.4h1m-3.5 -3h1m0.7 1.7h1m-3.5 -0.5h1m1.7 1.2h1m-2.6 -1.9h1m-1.6 1.3h1m0.3 0.1h1m-3.9 -0.2h1m-0.3 2.3h1m-0.3 -1.8h1m-1 -1.2h1m-1.7 -1h1m2.6 1.3h1m-4.1 -0.9h1m-0.9 -0.3h1m3.1 1.7h1m-6.8 0h1m2.6 1.5h1m-0.6 -1.9h1m-2.2 -0.6h1m-1.7 0.8h1m-0.7 -1.8h1m-1.1 21h1m-0.8 1.7h1m-2.8 -5.8h1m3.1 7.3h1m-1.2 -7.2h1m-1.2 5.1h1m0.1 -6.4h1m-2 -1.2h1m-2.2 8.8h1m1.3 -7.2h1m-1.9 7h1m-3.4 -1.7h1m0.7 3.3h1m-2.5 -9.9h1m-1.2 0h1m-2.1 4.8h1m-0.3 -2.1h1m-0.6 4.7h1m-2 -0.4h1m-0.6 -4.4h1m1 -2.4h1m0 0h1m-1.4 0.4h1m0.3 2.9h1m-0.8 -1.4h1m-1.7 0.8h1m-4.5 5h1m-1.8 -5.5h1m2.4 -1.4h1m-3.4 6.2h1m3.5 -3h1m-2.1 0.5h1m-5.6 -1.2h1m3.5 -2.4h1m-3.8 5.8h1m-1.1 0.5h1m-0.4 -7.3h1m-2.2 5.4h1m-0.8 0.4h1m-1.2 -0.6h1m2.8 0.9h1m-4.1 -4.9h1m1 6.8h1m-2.4 -6.3h1m-2.4 4.8h1m3.3 -3h1m-1.5 -0.9h1m-5.1 1.4h1m3.7 -0.5h1m-0.5 0.3h1m-4.9 -3.9h1m-1 7.1h1m1.3 -7.8h1m-1.2 9.7h1m0.4 -6.5h1m-3.6 5.8h1m1.4 -1.6h1m-3.7 -5.1h1m-2.3 4.1h1m-0.9 0.2h1m3.3 0.7h1m-3.6 2.4h1m1.2 -2h1m-0.9 -2.7h1m-4.5 3.4h1m-2 -3.5h1m1 -2.7h1m1.1 5.5h1m-3.8 -0.3h1m-0.6 -6.7h1m-2.8 7.1h1m-0.1 -7.4h1m-1.5 2.9h1m-0.7 4.6h1m-0.9 -0.5h1m-1.6 -1h1m1 2h1m-0.3 -7.2h1m-0.9 8.5h1m-0.3 -3.1h1m-2.7 3h1m1.5 -4.6h1m-4.6 1.6h1m0 -4.8h1m-1.5 -0.9h1m-0.9 8.1h1m-1.9 -6.7h1m-2.1 3.6h1m1.8 2.1h1m0.2 -6.9h1m-5.1 0.5h1m0 3.1h1" stroke="#9a48ee" stroke-width="1" stroke-opacity="0.95" fill="none"/><path d="M286.7 631.8h1m-0.5 5.6h1m-2.9 -0.9h1m-1.2 -0.6h1m-0.9 -0.1h1m1.2 -3.6h1m-2 5.2h1m-2.2 -4.4h1m-1.4 1.6h1m0.9 -3.1h1m-2.6 6.1h1m-1 -3.3h1m2.3 0.1h1m-4.6 -0.1h1m1.4 3.8h1m-3 -6.1h1m0.1 1.3h1m0.1 2.1h1m-3 1h1m-1.5 -1.2h1m1.2 -4h1m-2.1 7.4h1m0.3 -5.8h1m-0.3 2h1m-3.9 -0.1h1m2.4 1.8h1m-4.6 -2.7h1m1 -1.2h1m-2.6 2.7h1m-0.1 -2.9h1m0.9 3.9h1m-4 -2.1h1m1.8 0.6h1m-0.7 2.1h1m-0.7 -2.5h1m-4.2 0.8h1m1.2 -1.9h1m-0.3 1h1m-3.1 -1.7h1m-1.8 0.2h1m1.4 0.4h1m-2.4 -0.5h1m-0.8 0.3h1m-3.1 3.8h1m0.1 0.3h1m-0.3 -4h1m1 2.3h1m-4.2 -0.6h1m-0.5 -3.2h1m-1 0.9h1m1.9 3h1m-4.6 -0.3h1m0.3 -3.4h1m-0.6 -0.1h1m-0.8 0.9h1m-2.3 1.5h1m-1.6 0h1m-0.7 1h1m1.6 0h1m-2.1 4.2h1" stroke="#4a80f2" stroke-width="1" stroke-opacity="0.95" fill="none"/><path d="M286.5 633.1h1m-2.1 1.9h1m-0.3 -2.2h1m-1.2 0.6h1m-1.4 3.5h1m-0.7 -3.2h1m0.2 1h1m-2.2 -0.6h1m-1.4 0h1m0 1.6h1m-2.2 -2h1m0.1 -0.2h1m-0.2 1.6h1m-0.7 -1.8h1m-1.6 1.7h1m-0.8 -1.6h1m-0.6 2.4h1m-3.3 -1h1m0.5 1.9h1m-1.5 -0.4h1m-0.7 -1.7h1m-0.5 0.5h1m-0.3 -0.9h1m-3.2 -1.1h1m0.2 0.5h1m-0.6 3.5h1m-0.3 -0.6h1m-2.1 -3h1m-2.1 1.7h1m-0.4 -1.6h1m-0.8 2.7h1m-0.9 0.3h1m0.1 -0.9h1m-2.1 -0.3h1m-0.6 0.1h1m-0.8 0.5h1m-0.3 -1.7h1m-2.9 0h1m-1 -0.5h1m0 0.9h1m-1.5 0h1m-1 1.1h1m-0.9 -2.4h1m-1.4 0.4h1m0 1.3h1m-2.5 0.3h1m-0.8 0.4h1m-0.1 0.1h1m-0.6 -2.7h1m-2.6 0.6h1m0.1 2.8h1m-1.1 0.2h1m0.2 -1.4h1m-1.7 -1.8h1" stroke="#2cb8f0" stroke-width="1" stroke-opacity="0.95" fill="none"/><rect x="271.5" y="597.5" width="56" height="56" fill="none" stroke="#777" stroke-width="0.8"/><line x1="294.5" y1="597.5" x2="294.5" y2="653.5" stroke="#585858" stroke-width="0.9"/><line x1="271.5" y1="623.5" x2="327.5" y2="623.5" stroke="#585858" stroke-width="0.9"/><line x1="271.5" y1="597.5" x2="271.5" y2="653.9" stroke="#3a3a3a" stroke-width="0.9"/><line x1="271.1" y1="653.5" x2="327.5" y2="653.5" stroke="#555" stroke-width="0.9"/><line x1="272" y1="614.83" x2="272" y2="618.61" stroke="#3ee07a" stroke-width="0.8"/><line x1="272" y1="618.61" x2="272" y2="620.88" stroke="#de34de" stroke-width="0.8"/><line x1="280.8" y1="652.9" x2="282.21" y2="652.9" stroke="#de34de" stroke-width="0.8"/><line x1="283.28" y1="652.9" x2="287.88" y2="652.9" stroke="#de34de" stroke-width="0.8"/><line x1="287.88" y1="652.9" x2="289.2" y2="652.9" stroke="#e03030" stroke-width="0.8"/><line x1="272" y1="627.2" x2="272" y2="630.08" stroke="#de34de" stroke-width="0.8"/><line x1="272" y1="633.71" x2="272" y2="642.8" stroke="#2cb8f0" stroke-width="0.8"/><line x1="282.21" y1="652.9" x2="285.11" y2="652.9" stroke="#e03030" stroke-width="0.8"/><line x1="285.11" y1="652.9" x2="289.27" y2="652.9" stroke="#de34de" stroke-width="0.8"/><line x1="270.3" y1="599.4" x2="271.5" y2="599.4" stroke="#222" stroke-width="0.7"/><text x="269.2" y="600.7" font-size="3.7" text-anchor="end" fill="#444">10<tspan font-size="2.4" dy="-1.3">5</tspan></text><line x1="270.3" y1="608.8" x2="271.5" y2="608.8" stroke="#222" stroke-width="0.7"/><text x="269.2" y="610.1" font-size="3.7" text-anchor="end" fill="#444">10<tspan font-size="2.4" dy="-1.3">4</tspan></text><line x1="270.3" y1="618.2" x2="271.5" y2="618.2" stroke="#222" stroke-width="0.7"/><text x="269.2" y="619.5" font-size="3.7" text-anchor="end" fill="#444">10<tspan font-size="2.4" dy="-1.3">3</tspan></text><line x1="270.3" y1="627.6" x2="271.5" y2="627.6" stroke="#222" stroke-width="0.7"/><text x="269.2" y="628.9" font-size="3.7" text-anchor="end" fill="#444">10<tspan font-size="2.4" dy="-1.3">2</tspan></text><line x1="270.3" y1="637" x2="271.5" y2="637" stroke="#222" stroke-width="0.7"/><text x="269.2" y="638.3" font-size="3.7" text-anchor="end" fill="#444">10<tspan font-size="2.4" dy="-1.3">1</tspan></text><line x1="270.3" y1="646.4" x2="271.5" y2="646.4" stroke="#222" stroke-width="0.7"/><text x="269.2" y="647.7" font-size="3.7" text-anchor="end" fill="#444">10<tspan font-size="2.4" dy="-1.3">0</tspan></text><line x1="279.5" y1="653.5" x2="279.5" y2="654.7" stroke="#222" stroke-width="0.7"/><text x="278.9" y="659.6" font-size="3.7" text-anchor="middle" fill="#444">10<tspan font-size="2.4" dy="-1.3">0</tspan></text><line x1="288.74" y1="653.5" x2="288.74" y2="654.7" stroke="#222" stroke-width="0.7"/><text x="288.14" y="659.6" font-size="3.7" text-anchor="middle" fill="#444">10<tspan font-size="2.4" dy="-1.3">1</tspan></text><line x1="297.98" y1="653.5" x2="297.98" y2="654.7" stroke="#222" stroke-width="0.7"/><text x="297.38" y="659.6" font-size="3.7" text-anchor="middle" fill="#444">10<tspan font-size="2.4" dy="-1.3">2</tspan></text><line x1="307.22" y1="653.5" x2="307.22" y2="654.7" stroke="#222" stroke-width="0.7"/><text x="306.62" y="659.6" font-size="3.7" text-anchor="middle" fill="#444">10<tspan font-size="2.4" dy="-1.3">3</tspan></text><line x1="316.46" y1="653.5" x2="316.46" y2="654.7" stroke="#222" stroke-width="0.7"/><text x="315.86" y="659.6" font-size="3.7" text-anchor="middle" fill="#444">10<tspan font-size="2.4" dy="-1.3">4</tspan></text><line x1="325.7" y1="653.5" x2="325.7" y2="654.7" stroke="#222" stroke-width="0.7"/><text x="325.1" y="659.6" font-size="3.7" text-anchor="middle" fill="#444">10<tspan font-size="2.4" dy="-1.3">5</tspan></text><text x="274.8" y="602.8" font-size="4.4" textLength="10.65" lengthAdjust="spacingAndGlyphs" fill="#1a1a1a" stroke="#1a1a1a" stroke-width="0.06">24.6%</text><text x="325.5" y="602.8" font-size="4.4" text-anchor="end" textLength="8.4" lengthAdjust="spacingAndGlyphs" fill="#1a1a1a" stroke="#1a1a1a" stroke-width="0.06">1.8%</text><text x="274.8" y="651.2" font-size="4.4" textLength="10.65" lengthAdjust="spacingAndGlyphs" fill="#1a1a1a" stroke="#1a1a1a" stroke-width="0.06">73.0%</text><text x="325.5" y="651.2" font-size="4.4" text-anchor="end" textLength="8.4" lengthAdjust="spacingAndGlyphs" fill="#1a1a1a" stroke="#1a1a1a" stroke-width="0.06">0.6%</text><text x="300" y="669.9" font-size="8.8" text-anchor="middle" textLength="16.2" lengthAdjust="spacingAndGlyphs" fill="#111" stroke="#111" stroke-width="0.1">2DL1</text><text x="258.1" y="625" font-size="8.8" text-anchor="middle" textLength="16.2" lengthAdjust="spacingAndGlyphs" transform="rotate(-90 258.1 625)" fill="#111" stroke="#111" stroke-width="0.1">2DL3</text><path d="M370.8 623.1h0.8m-0.4 -11.3h0.8m-3.9 9.8h0.8m8.2 -0.5h0.8m-11.7 -3.9h0.8m0.8 -0.6h0.8m0.7 6.2h0.8m-3.3 -4.2h0.8m-2.3 -2h0.8m-1.6 2.6h0.8m5.2 2h0.8m-1.4 -8h0.8m-8.2 5.3h0.8m0.3 1.1h0.8m10.1 -4.4h0.8m-9.3 0.5h0.8m-3.7 1.5h0.8m4.6 0.6h0.8m5.7 -1.4h0.8m-7.6 2h0.8m3.2 0.4h0.8m-1.4 -5.3h0.8m-12.8 1.7h0.8m3.9 2.9h0.8m-0.9 2.2h0.8m4.8 -3.9h0.8m-3.6 4.1h0.8m8.3 -3.1h0.8m-4.5 5.5h0.8m-5.6 -9.5h0.8m-1.5 8.7h0.8m1.1 -5.9h0.8m-0.1 -2.9h0.8m0 2.2h0.8m-2.2 5.6h0.8m7.5 -2.1h0.8m-12.5 -0.5h0.8m6.5 2.7h0.8m-0.5 -3.9h0.8m-11 5.9h0.8m0.1 -4.6h0.8m9.5 -2.6h0.8m0.9 -2.5h0.8m-8.8 -1.1h0.8m4.3 2.9h0.8m0.6 6.5h0.8m-7.8 -7.4h0.8m0.4 8.2h0.8m-2 -9.5h0.8m7.6 9.2h0.8m-14.2 -2.3h0.8m1.9 -2.7h0.8m5.3 7.1h0.8m-1.9 -3h0.8m2.3 1.5h0.8m-9.7 -0.5h0.8m10.9 -1.7h0.8m-2.2 -3.3h0.8m-1.9 -0.4h0.8m-0.1 0.3h0.8m-12.1 -0.1h0.8m10.2 4.2h0.8m-9.7 -1.2h0.8m-0.2 0.1h0.8m2.8 -3.3h0.8m0 -0.3h0.8m0.4 5.7h0.8m-1.4 -6.6h0.8m2 3.8h0.8m-2 -3.8h0.8m-10.4 3.5h0.8m-1.2 -5.1h0.8m10.2 0.1h0.8m-8 0.8h0.8m2.8 4.9h0.8m-4 1.7h0.8m6 -2.1h0.8m-0.8 -1.6h0.8m-4 3.6h0.8m1.8 -6.2h0.8m-3.5 -3.3h0.8m0.4 1h0.8m-7.2 6.8h0.8m8.7 -5h0.8m-10 5.6h0.8m5.8 1.2h0.8m-4.2 -6.3h0.8m0.9 1.9h0.8m-3.4 -1h0.8m9.3 2.3h0.8m-2.6 2.2h0.8m-12.1 -1.7h0.8m-1.1 -0.3h0.8m5.7 4.1h0.8m4 -3.2h0.8m-8.9 1.2h0.8m-3 1.6h0.8m6 -7.3h0.8m4.6 2.5h0.8m-3.1 -0.6h0.8m-9.5 2.6h0.8m0.5 1.2h0.8m5 -1.5h0.8m0.5 -2.6h0.8m-4.1 -6h0.8m-7 6h0.8m6.3 -2.4h0.8m-3.6 -1h0.8m2.6 6.4h0.8m-2 -5.3h0.8m-6.9 2.6h0.8m8 -1.7h0.8m-0.9 2.7h0.8m2.6 -4.1h0.8m-15.8 3.6h0.8m8.9 1.1h0.8m0.8 -4.1h0.8m-11.8 3.6h0.8m1.1 2.1h0.8m-0.7 -0.5h0.8m10.4 -2.3h0.8m-1.8 -0.1h0.8m-9.7 -1.4h0.8m-3.2 6.3h0.8m-3 -4.9h0.8m10.9 -1.3h0.8m-1.8 5.1h0.8m-1.8 -1.6h0.8m-0.6 1.4h0.8m-6.9 -4.3h0.8m7.4 0.7h0.8m-8.1 -1.7h0.8m4.2 1.3h0.8m-3.2 -2.5h0.8m-4.2 -2h0.8m-4 6.4h0.8m7 -5h0.8m0 7.5h0.8m-1.9 0.1h0.8m4.9 -7.3h0.8m-3.5 3.6h0.8m1.3 -1.9h0.8m-15.4 1.2h0.8m2.7 1.5h0.8m-2.9 -1h0.8m6.8 1.2h0.8m-5.4 -2.8h0.8m-2.8 3.3h0.8m8.8 3.1h0.8m-9.5 -2.6h0.8m14 -6.4h0.8m-10.3 5.1h0.8m-0.1 3.9h0.8m-9.4 -4.3h0.8m-4 0.8h0.8m16.2 -0.6h0.8m1.8 0.3h0.8m-6.6 -2.8h0.8m-3.8 2h0.8m1.9 -4.4h0.8m9.2 2.7h0.8m-26.3 5.6h0.8m7.9 -7.3h0.8m15.2 4.9h0.8m-26.2 -10.3h0.8m11.8 2h0.8m-7.1 11.9h0.8m12.1 -5h0.8m-4.8 -1.9h0.8m0.8 -2.7h0.8m1.4 -0.2h0.8m-5.9 7.2h0.8m9.8 -6.4h0.8m-18.1 6.8h0.8m18.2 -0.8h0.8m-11.7 -2.7h0.8m0.8 3.2h0.8m-4.3 -4.9h0.8m5.1 2.1h0.8m-8.6 -1h0.8m15.2 2.9h0.8m-11.6 -2.1h0.8m-4 -2.1h0.8m4.5 7.2h0.8m-3.8 -4.6h0.8m-4.2 0.5h0.8m-7.4 -4.1h0.8m15.7 4.4h0.8m-4.9 -4.2h0.8m-4.3 3.5h0.8m13.8 0.6h0.8m-14.3 -1.1h0.8m3.3 9.9h0.8m-9.2 -13h0.8m-0.6 2.6h0.8m4.3 -4.2h0.8m-6.1 10.9h0.8m-4 -12.1h0.8m2.7 15h0.8m-8.3 -9h0.8m21.2 -4.5h0.8m-9.1 7.2h0.8m1.1 -4.8h0.8m-16.6 -2h0.8m5.3 5.8h0.8m-6.2 3.3h0.8m14.5 -9.9h0.8m-3.8 3.7h0.8m-15.3 -3.4h0.8m24 7.1h0.8m-13.4 -5.8h0.8m2.4 -3.8h0.8m1.5 8h0.8m-9.2 -7.6h0.8m-3.4 11.4h0.8m-2.2 -7h0.8m2.1 0.6h0.8m1 0.6h0.8m11.7 3.4h0.8m-11.6 -7.8h0.8m5.8 5.5h0.8m-3.1 0.9h0.8m-1.8 -6.1h0.8m-0.4 4.9h0.8m1 0.3h0.8m-2.9 0.4h0.8m-11.5 -0.6h0.8m7.9 0.2h0.8m-2.5 1.7h0.8m0.9 -2.4h0.8m-6.5 0.4h0.8m-5 4.6h0.8m10.2 3.5h0.8m-10.8 -2.8h0.8m8.5 19.8h0.8m-8.2 -11.5h0.8m5.8 12.9h0.8m-5.9 -9.5h0.8m8.5 4.4h0.8m-11.5 -10.1h0.8m9 -1.1h0.8m-8.2 17.5h0.8m-0.5 -20.9h0.8m1.7 4.1h0.8m1.8 12.5h0.8m1.9 -16h0.8m-15.3 2.5h0.8m12.8 2.6h0.8m-3.6 -4.9h0.8m1.6 10.7h0.8m-6.1 -9.3h0.8m1.1 -3.1h0.8m-5 19.1h0.8m-0.7 -3.8h0.8m3.7 10.8h0.8m-0.2 -23.7h0.8m-1.8 17.5h0.8m-3.2 0.4h0.8m-3.4 -5.4h0.8m6.2 -6.8h0.8m-8.5 2.2h0.8m-3.1 2.7h0.8m11.9 6h0.8m-8.8 6.8h0.8m-1.6 -20.5h0.8m5 -0.2h0.8m-3 -2.1h0.8m-4.8 4h0.8m-3 6.4h0.8m4.9 -7.8h0.8m-0.4 2.1h0.8m-5.8 6.6h0.8m1.3 -11h0.8m2.5 19.1h0.8m3 -9.2h0.8m-9.9 5.8h0.8m4.5 -12.5h0.8m0.4 2.8h0.8m-8.4 1.3h0.8m-0.8 -3.3h0.8m0.8 8.5h0.8m-2.7 -11.3h0.8m2.7 13.8h0.8m5.5 -10.3h0.8m-4.5 -5.7h0.8m-6 13.8h0.8m6.7 -0.5h0.8m1.2 -4.5h0.8m1.1 6.2h0.8m-12.2 -10.2h0.8m1 -0.4h0.8m-1.8 1.7h0.8m-0.4 -2.9h0.8m3.4 -1.7h0.8m-2.8 -3.4h0.8m1.5 4.5h0.8m3.1 8.5h0.8m-4.7 -8.8h0.8m3.6 4.6h0.8m-0.6 -4.8h0.8m-2 7.4h0.8m-7.7 -7.7h0.8m5.5 -6.5h0.8m-1.8 22.6h0.8m-6.2 3.9h0.8m-3 1.5h0.8m-0.1 -2.9h0.8m4.1 -1h0.8m-3.4 -16.4h0.8m3.2 2.4h0.8m-3.9 10.8h0.8m2.5 -15.3h0.8m-2.1 1.9h0.8m-6.7 6.4h0.8m8.1 10.9h0.8m0.1 -11h0.8m-2.5 -4.6h0.8m-4.4 -1.2h0.8m2.6 -7.7h0.8m-9.8 22.4h0.8m4.4 -1.1h0.8m4.9 -6.5h0.8m-7.2 -10.5h0.8m8.3 4.9h0.8m-12.6 0.9h0.8m4.7 -4.5h0.8m-2.8 14.8h0.8m-7.9 -7.7h0.8m5.7 13.3h0.8m-4 -21h0.8m9.6 8.9h0.8m-13.2 7.2h0.8m-0.5 -13.2h0.8m11 4.2h0.8m-11.4 7.8h0.8m7.3 4.7h0.8m-2.8 -4.5h0.8m-4.2 2.5h0.8m5.3 -17.7h0.8m-10.4 -3.6h0.8m-3.6 2.3h0.8m10.4 17.5h0.8m-8.2 -6.5h0.8m6.1 10.8h0.8m-8.5 -8h0.8m3.7 -8.1h0.8m-2.6 6.1h0.8m-2.9 -0.6h0.8m4 -14.8h0.8m-6 20.8h0.8m7.7 -14.8h0.8m-6.2 18.9h0.8m5.7 -11.1h0.8m-4.6 -9.8h0.8m9.1 6.7h0.8m-13.8 7.5h0.8m-0.1 -11.9h0.8m6.1 7.7h0.8m-10 2.7h0.8m-1.6 -6.8h0.8m10.7 -5.7h0.8m-5 16h0.8m-7.4 -2.6h0.8m6.2 -20h0.8m-9.3 2.9h0.8m-0.6 7h0.8m10.8 -0.2h0.8m-11.4 13.6h0.8m1.6 -4.3h0.8m-0.1 -6.1h0.8m4.8 11.2h0.8m-1.1 -9.1h0.8m-3.8 -5.7h0.8m5.4 13h0.8m-8.1 5.3h0.8m-3.2 -16.3h0.8m0.3 14h0.8m9.9 -17.4h0.8m-7.6 -3.7h0.8m-8.6 14.4h0.8m2.1 -9.8h0.8m0.6 19.6h0.8m2.9 -2.3h0.8m0.9 -9h0.8m-9.1 8.9h0.8m-3.7 -13.2h0.8m0.6 -0.4h0.8m6 14.6h0.8m-0.2 -20.2h0.8m0.8 13.4h0.8m-5.2 13.7h0.8m0.7 -22.5h0.8m4.3 1.9h0.8m-6.6 -9.9h0.8m1.5 25.9h0.8m0.3 -19.5h0.8m-0.9 7.3h0.8m-6.3 -7.7h0.8m3.7 -2h0.8m0.8 16.9h0.8m0.9 -14.5h0.8m-0.2 9.4h0.8m-4.4 5h0.8m-5.4 3.2h0.8m2.6 -14.5h0.8m-0.5 -4.2h0.8m-3.3 -3.5h0.8m-4.4 21.2h0.8m4.7 -19.4h0.8m-4.8 18.4h0.8m-1.3 -7.1h0.8m3 9.4h0.8m-4.5 -3h0.8m2.5 1.2h0.8m2.5 -7.7h0.8m-9.9 15.7h0.8m2.7 -19.1h0.8m-4.7 -4.6h0.8m10.5 8.9h0.8m-7.1 -7.2h0.8m7.7 7.9h0.8m-5.6 -10.3h0.8m-0.6 1.2h0.8m-4.5 12.7h0.8m6.6 -10.3h0.8m-4.8 -7.5h0.8m-9.1 7.9h0.8m7.9 -0.3h0.8m-1.9 20h0.8m-3.3 -22.9h0.8m1 15h0.8m-7.2 -5.4h0.8m9.6 -1.3h0.8m-10.2 -15h0.8m0.8 25.7h0.8m3.5 -22.7h0.8m-3.4 14.8h0.8m-5.9 -17h0.8m7.4 2.1h0.8m-5.3 8.8h0.8m3.9 13h0.8m1.7 -12.2h0.8m-1.1 8.6h0.8m-1 -2.6h0.8m3.2 -11.5h0.8m-12.2 -2.3h0.8m7.4 15.2h0.8m-2.6 -9.6h0.8m-7.3 0.6h0.8m-0.3 11.4h0.8m8 -5.8h0.8m-11.3 10.5h0.8m3.4 -5h0.8m0.3 5.3h0.8m-2.2 -23.1h0.8m-5.6 4.5h0.8m0 -0.9h0.8m8.7 0h0.8m0.8 2.6h0.8m-8.5 -0.9h0.8m-1.4 -3.3h0.8m1.4 -2.7h0.8m-6.4 5.2h0.8m7 -12.3h0.8m2.5 18.7h0.8m-0.9 -6.3h0.8m-2.1 10.5h0.8m-3.1 4h0.8m-2.6 -14.5h0.8m-1.9 -1.1h0.8m-1.9 -3.1h0.8m-6.7 20.6h0.8m12.2 -11.8h0.8m-3.8 -16.7h0.8m-10.3 15.3h0.8m9.9 5.4h0.8m-8.7 -5.6h0.8m8.2 4.6h0.8m-10.2 1.3h0.8m1.8 5.8h0.8m-3.4 -9.1h0.8m3.3 -8.3h0.8m6.5 2h0.8m-8.8 -0.6h0.8m-2 12.9h0.8m0.9 0.1h0.8m-3.6 -8.7h0.8m-1.6 3.8h0.8m4 -15.1h0.8m3.4 19.4h0.8m0.4 -6h0.8m-9.7 4.1h0.8m0.8 -11.3h0.8m-6.1 -6.7h0.8m4.4 23.1h0.8m2.6 -16.1h0.8m-4.1 13.3h0.8m-1.7 -16.3h0.8m-4.9 10.5h0.8m9.8 -6.1h0.8m-7.1 13.3h0.8m1.1 -15.2h0.8m-5.9 5.9h0.8m6.1 -5.7h0.8m-6.3 -2.1h0.8m-0.2 12.5h0.8m-1 -5.2h0.8m9.7 1.7h0.8m-4.3 9.1h0.8m-2.4 1.6h0.8m-6.8 -5.7h0.8m-1.9 -4.9h0.8m14.3 12.7h0.8m-9.2 -26.1h0.8m-3.5 5.3h0.8m-7.9 7.8h0.8m2.2 -18h0.8m10.7 11.8h0.8m-12.3 6.6h0.8m-0.3 5.4h0.8m1.3 -10.7h0.8m-1.4 -0.9h0.8m6.1 12.1h0.8m0.7 -13.3h0.8m-1.6 -1.1h0.8m-9.8 10.4h0.8m-1.2 2.1h0.8m1.7 -12.2h0.8m0 11.3h0.8m0.7 6.2h0.8m-2.1 -18.3h0.8m0.3 15.4h0.8m-4.2 -7h0.8m5.9 1.1h0.8m1.9 -19.4h0.8m-12.1 26.9h0.8m2.3 -14h0.8m-1.9 13.7h0.8m-1 -0.6h0.8m3.6 -12.1h0.8m3.5 9.3h0.8m-2.9 -14.8h0.8m-8.8 15.1h0.8m0.7 -4.2h0.8m2.5 -10.7h0.8m0.1 0.4h0.8m3.6 3.8h0.8m-10.6 -8.8h0.8m10.8 16.7h0.8m-4.6 6.8h0.8m-1.8 -18.6h0.8m-10.7 7.9h0.8m8.4 10.3h0.8m-1.3 -19.7h0.8m4.5 13.5h0.8m-14.5 -2.6h0.8m11 -17.9h0.8m-5.9 31.1h0.8m1.8 -6.7h0.8m-7.5 -1.9h0.8m3.6 5.8h0.8m1.7 4h0.8m3.9 -16.3h0.8m-1.2 -3.8h0.8m-7.3 14.4h0.8m3.5 -18.1h0.8m-8.8 2h0.8m7.5 12.3h0.8m4.2 4.2h0.8m-12.9 -0.9h0.8m-0.3 0.2h0.8m2.8 -19.4h0.8m-1.1 -4.9h0.8m-0.8 25.4h0.8m3.3 -15.1h0.8m-3.5 -7.5h0.8m-2.7 20.7h0.8m-2.8 7h0.8m5.1 -10.7h0.8m-0.7 -15.4h0.8m-7.1 26.2h0.8m1.8 -25.3h0.8m-4.2 16.1h0.8m10.1 1.5h0.8m-11.6 -11.7h0.8m-2.6 13.3h0.8m-2.9 -2.5h0.8m11.9 -7.3h0.8m-4.3 8.9h0.8m2.3 -1.9h0.8m-9.4 -19.3h0.8m5.8 6.2h0.8m-6.1 -0.2h0.8m-3 0.4h0.8m0.2 9.8h0.8m12.5 1.9h0.8m-9.4 -12.2h0.8m-0.1 -2.1h0.8m-5.7 19.3h0.8m3.5 -14.5h0.8m-6 3.8h0.8m11.3 -2.6h0.8m-5.4 2.9h0.8m-5.9 -3.1h0.8m-5.1 15.1h0.8m-1.9 -9.6h0.8m8.2 7.6h0.8m-3.6 -17.5h0.8m-3.6 1.2h0.8m-0.8 -4.2h0.8m6.3 12.5h0.8m-6.4 3.7h0.8m8.8 -1.7h0.8m-12.5 -11.2h0.8m-2.1 3.4h0.8m1.7 0.3h0.8m-0.6 -1.9h0.8m-2.1 -4.2h0.8m7.4 18.3h0.8m-0.9 -6.5h0.8m-8.5 8.4h0.8m3.1 -16.7h0.8m4.5 5.4h0.8m-3.5 -3.7h0.8m-7 20.3h0.8m-2.7 -8.2h0.8m3.3 -10.1h0.8m1.1 10.9h0.8m1.8 5.8h0.8m3.6 -22.3h0.8m1.6 0.8h0.8m-5.3 18h0.8m0.3 -21.1h0.8m-3 23.8h0.8m3.7 -16.9h0.8m-1.1 -4.3h0.8m-18 7.8h0.8m10.8 -9.6h0.8m1.7 5.4h0.8m-5.4 12.7h0.8m-1.6 -18.8h0.8m-3.5 -5.1h0.8m-9.7 10.2h0.8m4.9 9.8h0.8m3.2 -6h0.8m7.1 -3.2h0.8m-3.8 12.2h0.8m-4.7 -20.7h0.8m2.8 24.1h0.8m-3.5 -4.1h0.8m0.7 -1.4h0.8m0.4 8.2h0.8m-7.9 -7.8h0.8m2.8 -3h0.8m-5 -9.2h0.8m3 -7.3h0.8m-7.7 3.7h0.8m13.8 22h0.8m-6.4 -4h0.8m-10.1 -14.2h0.8m3.7 7.9h0.8m6.3 15.2h0.8m-0.2 -15.6h0.8m-3.5 -14.9h0.8m-6.2 7.2h0.8m6.8 -5.2h0.8m-7.8 10.6h0.8m15.3 8.7h0.8m-18.4 -8.3h0.8m-0.6 -0.2h0.8m13.5 -6.8h0.8m-2.3 7.2h0.8m-8.2 -7.7h0.8m-5.5 7.9h0.8m-1.6 8.3h0.8m3.1 -1.1h0.8m2.6 -9.6h0.8m2.8 14.1h0.8m-14.7 -28.1h0.8m-3.7 22.6h0.8m11.7 -3.9h0.8m7 -19.5h0.8m-7.4 32h0.8m-11.5 -4.5h0.8m6.2 -22.7h0.8m3.8 21.2h0.8m8.3 -7.7h0.8m-24.5 -2.2h0.8m23.9 -21.7h0.8m-23 20.5h0.8m12.6 19.1h0.8m0.2 -7.9h0.8m-6.6 -10.5h0.8m-3.7 10.5h0.8m4.2 -29.2h0.8m-3.1 24.6h0.8m0.1 -9.2h0.8m-6.9 13.8h0.8m6.5 4.1h0.8m-9.1 -22.5h0.8m1.4 7.7h0.8m4.7 16.2h0.8m3.3 -18.1h0.8m-16.6 -0.1h0.8m14.3 -11.2h0.8m-8.1 10.8h0.8m8.3 1.7h0.8m-12.5 2.7h0.8m1.7 -4.4h0.8m3.5 10.2h0.8m-2.8 11.7h0.8m-3.8 -30.1h0.8m-0.9 14h0.8m8.6 -0.8h0.8m-4.6 -5.3h0.8m-2.1 4.8h0.8m-7.9 -14.2h0.8m6 24.2h0.8m-13.6 -4.2h0.8m3.9 11.5h0.8m-3.2 -26.9h0.8m4.6 4.3h0.8m-2.2 -6.3h0.8m4.8 -10.1h0.8m7 32.6h0.8m-9.2 -2.1h0.8m-1.6 -10.4h0.8m-3.2 6.5h0.8m0.5 -6.2h0.8m-3.4 9.8h0.8m1.9 -8.7h0.8m-3.7 -5.5h0.8m2.4 8.8h0.8m-10 -3.8h0.8m6.2 5.5h0.8m2.5 -8.3h0.8m-9.3 -7h0.8m18.4 5.3h0.8m-24.4 19.9h0.8m14.9 -6.1h0.8m-5.9 -1.8h0.8m-6.8 -15h0.8m8.6 6.4h0.8m0.6 11.5h0.8m-1.3 -6.2h0.8m-5.2 5.9h0.8m-4.5 -13.8h0.8m1.4 10.8h0.8m-1.7 8.1h0.8m13.6 -27.3h0.8m-8.1 27.3h0.8m8.9 -4.2h0.8m-7 -23.5h0.8m-2.8 19.4h0.8m-3.4 -31.5h0.8m-0.4 18.2h0.8m-1.2 23.7h0.8m-0.9 -8.1h0.8m-4.3 1.1h0.8m5.1 -3.3h0.8m-15.1 4.3h0.8m20.3 -21h0.8m-16 -5.1h0.8m13.5 20h0.8m-12.5 0.6h0.8m-3.8 -15.5h0.8m-5.8 14.7h0.8m-3.2 -22.3h0.8m14.3 10.7h0.8m-7.2 19.2h0.8m10 -19.4h0.8m-12 2.3h0.8m-0.6 15.7h0.8m7.4 -6.9h0.8m-6.2 -8.1h0.8m-1.7 -1.3h0.8m7.1 11.9h0.8m-2.9 2.3h0.8m-5.2 -1.1h0.8m-5.8 -15.7h0.8m-3.5 8.9h0.8m16.4 6.2h0.8m-13.9 -16.6h0.8m8.3 17.8h0.8m-1.4 -9h0.8m-2.5 2.3h0.8m6.8 9.3h0.8m-11 -20.1h0.8m7.5 1.1h0.8m-9.8 17.9h0.8m-1.4 -9.4h0.8m-3.9 -13.1h0.8m6.6 15.6h0.8m-11 -3h0.8m4.9 13.1h0.8m8 1.3h0.8m-0.4 -12.5h0.8m-9.7 12.5h0.8m-4.9 -20h0.8m4.3 2.9h0.8m4.2 -0.4h0.8m4.7 1.7h0.8m-15.2 -0.2h0.8m5.6 11.1h0.8m2.1 -19.5h0.8m-1.8 16.7h0.8m3.3 -10h0.8m-14.1 0.3h0.8m5.7 -12.9h0.8m5.8 15h0.8m-21.2 3.1h0.8m17.4 1.3h0.8m0.2 10.8h0.8m-2.9 -17.6h0.8m0.1 1.8h0.8m-15.3 -12.4h0.8m12.3 0h0.8m0.8 4.7h0.8m-16.3 20h0.8m4.9 0.6h0.8m11.6 -22.2h0.8m-17.5 13.8h0.8m11.2 -11h0.8m-0.2 22.1h0.8m-10.1 -16.3h0.8m5.9 -1.7h0.8m2.1 -14.5h0.8m-4.4 14.5h0.8m-6.8 7.8h0.8m12.9 -6.4h0.8m-13.2 -9.5h0.8m-1.8 -2.9h0.8m16.3 15.7h0.8m-4 -1.5h0.8m-3.5 4h0.8m2.2 -5.8h0.8m-10.8 3h0.8m-0.1 12.8h0.8m6.6 -8.4h0.8m-12.4 4.2h0.8m7.9 -11.4h0.8m-1.1 8.2h0.8m-9 4.8h0.8m5.1 -26.7h0.8m-2.5 9.6h0.8m7.6 19.8h0.8m2.3 -22h0.8m-13.2 -10.5h0.8m-1 20.5h0.8m4.3 5.3h0.8m-5.6 -1.7h0.8m-3.1 -0.5h0.8m-1.5 -17.3h0.8m12.9 6.4h0.8m-6.2 18.6h0.8m-7.7 -20.4h0.8m11.9 2h0.8m-18.9 -8.7h0.8m-2.8 11.4h0.8m17.6 10.1h0.8m-13 -24.2h0.8m-4.8 8.7h0.8m-1.9 -3.8h0.8m15.2 -12.3h0.8m-7.1 5.1h0.8m-3.7 20.3h0.8m-1.3 -10.6h0.8m-5.8 -13.5h0.8m21.3 34h0.8m-17 -33h0.8m-8.9 13.3h0.8m-2.1 5.5h0.8m-1.6 -22.9h0.8m0.8 24.9h0.8m18.1 -4.5h0.8m-10.5 3.1h0.8m-5.9 5.3h0.8m-1.5 -1.6h0.8m23.8 -9.4h0.8m-14.6 14.1h0.8m-6.3 -1.5h0.8m7.4 10.5h0.8m-10.8 -5.3h0.8m-1.9 -6.9h0.8m13.1 -11.7h0.8m-3.8 -9.9h0.8m-12.4 8.4h0.8m3.4 -10.4h0.8m0.6 7.9h0.8m-8.7 -5.1h0.8m13.7 -1.2h0.8m-15.5 11.4h0.8m7.2 3.1h0.8m9.5 3.2h0.8m-8.2 -13h0.8m-1 20.2h0.8m-9.2 -19.1h0.8m17.5 11.5h0.8m-21.9 -7.7h0.8m9.2 11.2h0.8m-1.4 -8.6h0.8m2.2 7.8h0.8m2.7 0.8h0.8m1 -11h0.8m-8.7 -15.7h0.8m-7 12.1h0.8m-5.4 5.9h0.8m-2.2 5.5h0.8m6.1 -8.5h0.8m14.1 20h0.8m-17.1 -10.4h0.8m11.2 17.7h0.8m-21 -9.6h0.8m5.8 7.1h0.8m2 -24.3h0.8m6.8 0.6h0.8m-10.2 -20.6h0.8m1.9 30.3h0.8m0.5 -10.2h0.8m10.6 -9.3h0.8m-8.6 17.8h0.8m-0.6 -4.7h0.8m-0.5 17.3h0.8m-1.8 -10.8h0.8m-12.6 7.4h0.8m7 -13.4h0.8m8 -4.6h0.8m-8.9 -0.9h0.8m3.1 -12.1h0.8m-5.5 23h0.8m-1.4 2.8h0.8m6.4 -21.7h0.8m-17.1 7.7h0.8m17.4 9.1h0.8m-18.5 14.7h0.8m0.8 -25.1h0.8m9.5 -5.6h0.8m22.1 28.3h0.8m-29 -9.9h0.8m2.2 1h0.8m6.8 -13.2h0.8m-4.1 19.6h0.8m-0.6 -1.4h0.8m-7.6 -8h0.8m1.9 -14.8h0.8m6.6 5.2h0.8m-5.5 7.9h0.8m-8.2 -4h0.8m-6.7 -1.8h0.8m20.1 0.6h0.8m1.2 -5.3h0.8m-10.6 -5.9h0.8m5.2 13.2h0.8m-5.1 4.7h0.8m-11.2 -7.4h0.8m2.9 5.6h0.8m7.3 -5.7h0.8m-16.9 10.4h0.8m-0.2 -20.8h0.8m5.8 12.1h0.8m-5.2 2h0.8m21.7 -0.6h0.8m-13.5 -11.8h0.8m-7.9 4.4h0.8m9.6 10.1h0.8m-4.6 -13.2h0.8m8 6.8h0.8m-12.5 9.8h0.8m3.5 -27.2h0.8m0.4 30.3h0.8m-12.2 -1.5h0.8m28.2 -17.4h0.8m-18.2 6.7h0.8m-0.1 10.7h0.8m-1.6 -6.4h0.8m-7.9 12.6h0.8m7.4 -20.5h0.8m-8.8 3.3h0.8m-1.1 -3.5h0.8m13.4 13.4h0.8m-3.7 -15.8h0.8m-7.4 0.7h0.8m11.2 14.8h0.8m-15.3 10h0.8m3.2 -12.4h0.8m-14.2 -3.7h0.8m9.9 -7.5h0.8m-4.7 10.3h0.8m3.8 11.6h0.8m10.1 -23.3h0.8m-9.1 -0.3h0.8m8.4 29.3h0.8m-10.5 -36.9h0.8m4.1 18.1h0.8m-1.4 13h0.8m-8.2 -7.3h0.8m-3.2 -7.1h0.8m-0.1 -17.8h0.8m-3.6 31.5h0.8m10.6 -22.1h0.8m-10.3 17.8h0.8m21.6 -0.6h0.8m-29.8 -1.6h0.8m28.6 -15.8h0.8m-16 12.2h0.8m6.5 -12.4h0.8m-14.9 2.8h0.8m2.8 11.6h0.8m-4.7 6.7h0.8m0 -5.3h0.8m19.6 -18.6h0.8m-12 16.7h0.8m-0.8 -21.3h0.8m-12.6 0.8h0.8m13.3 26.8h0.8m-7.6 1.2h0.8m7.3 4.4h0.8m-13.1 -5.6h0.8m-4.4 -4.3h0.8m1.9 -1.5h0.8m1.9 18h0.8m8.2 -6.6h0.8m0.7 -10.9h0.8m-14.2 3.6h0.8m-6.6 -2.8h0.8m6.1 -15.2h0.8m-5 6.3h0.8m-7.4 3.4h0.8m15.6 -14.5h0.8m14.1 17.7h0.8m-32.3 -12.1h0.8m9.1 14.8h0.8m-9.7 -10.7h0.8m-0.2 6.7h0.8m19.7 0.9h0.8m-12 -8.2h0.8m10.3 12.4h0.8m-2.7 7.1h0.8m-4.6 -22.5h0.8m20.6 9.3h0.8m-35.9 -3h0.8m3.4 -13.6h0.8m5 8.4h0.8m-3.9 11.1h0.8m-0.1 -7.3h0.8m-4.8 17.7h0.8m2.8 -2.3h0.8m3.5 -14.9h0.8m-5.4 5h0.8m2.5 -4.1h0.8m-9.9 -5.4h0.8m16.7 -2h0.8m-2.4 1.4h0.8m2.5 12h0.8m-4.7 4.7h0.8" stroke="#6c6c6c" stroke-width="0.8" stroke-opacity="0.7" fill="none"/><path d="M373 619.3h1m-6.1 1.8h1m-3.3 -2.1h1m0.8 0.3h1m-3.3 -2.8h1m3.3 2.1h1m-4.4 -0.6h1m4 1.6h1m-3.2 -1.4h1m0 1.5h1m-2.7 -3.9h1m-2.7 2.5h1m0.3 2.6h1m-2.8 -2.2h1m1.3 -1.8h1m1.2 3.6h1m-1.9 -0.6h1m0.5 -1.8h1m-1.6 -1.4h1m-2.8 0.1h1m-2.4 -0.3h1m0.5 -0.6h1m0 1.9h1m1.3 1.5h1m-1.3 1.2h1m-6 -2.5h1m0.7 0h1m0.4 -0.9h1m1.2 -0.4h1m-5.3 1.3h1m-1.2 -0.8h1m-0.6 -0.1h1m-0.6 0.8h1m3 -1.3h1m-4.5 0.1h1m-2.4 1.2h1m2.9 1.4h1m-3.9 0.1h1m-2.5 -2.9h1m2.9 1.8h1m-5.3 1.7h1m5.8 -1.6h1m-3.4 -0.6h1m-0.9 1.5h1m-2.4 -2.7h1m-3.4 0.2h1m3 2.1h1m-3.4 1.2h1m0.9 -2.1h1m-5.2 -0.2h1m0.8 0.3h1m-1 2.2h1m0.9 -1.5h1m0.2 0.7h1m-3.3 -1.9h1m0.9 0.1h1m-4.8 -2.4h1m2.2 1.5h1m-1.8 3.2h1m-3 -3.5h1m2.5 0.1h1m-1.6 1h1m-1.8 0.2h1m-2.6 -0.6h1m-3.4 -1h1m1.9 1h1m-2.2 2.5h1m0.5 -3.1h1m1.1 1.4h1m-5.3 0.4h1m0.8 -1.6h1m0.4 -0.3h1m-3.4 0.4h1m0.2 -1h1m-1.4 2.4h1m-1.2 2h1m0.6 0.3h1m-3.3 -2h1m-0.5 1.5h1m-0.9 -2h1m1.6 3.6h1m-1.3 -1.8h1m-0.5 0.4h1m-2.8 -3.6h1m3.1 1.9h1m-7.6 -0.2h1m-2.1 -0.8h1m2 2.5h1m0.2 1h1m-3.4 -2.4h1m2.7 -2.4h1m-1.3 1.6h1m-3.3 2.3h1m0.7 -1.9h1m-3.4 -0.9h1m-2.2 0.2h1m1.8 1.7h1m-1.7 -2.7h1m-3.2 2.8h1m1.2 -1.5h1m1.7 2.7h1m-2.5 -1.3h1m-1.1 0.2h1m-5.5 15.3h1m-0.4 -0.3h1m5.5 0.9h1m-2.4 -6.4h1m-0.3 8.1h1m-1.2 -4.4h1m-4 -3.4h1m2.9 12.3h1m-3.7 -9h1m-2.7 -0.6h1m-4.3 6.7h1m4.2 3.2h1m1.3 -3.7h1m-7.9 -2.8h1m4.1 -5.5h1m-6.1 9.4h1m2 1.7h1m2.4 -4.1h1m-3.1 7.7h1m-4.7 -5.6h1m0.9 3.4h1m-2.4 -12.5h1m-1.4 10.9h1m-1 -0.5h1m3.1 2.1h1m1.8 -5.3h1m-8.5 -1.1h1m6.5 4.5h1m-9 -13.1h1m4.8 0.4h1m-6.3 7.5h1m4.9 -3.1h1m-8.6 0h1m-0.7 1.7h1m6 4.9h1m-4.4 1.2h1m-1.8 -7.9h1m2.7 0.6h1m-2.5 -2.2h1m-5.7 9.3h1m4.3 4.8h1m1.5 -13.9h1m-3.6 -0.5h1m-1 1.5h1m-4.8 3.2h1m-0.7 -0.3h1m2.4 -2.6h1m3.9 1.7h1m-5.1 -4.9h1m1.8 11h1m-3.5 -0.7h1m-2 3.7h1m-5.5 -12.2h1m7.7 0.1h1m-3.2 -2.8h1m-3 13.3h1m-3.4 -1.4h1m-2 -7.7h1m3 -0.5h1m0.8 9.1h1m-2.3 -9.2h1m0.2 8.3h1m-5.9 1h1m-1.5 -0.9h1m2.9 -7.8h1m-7.6 2.9h1m8.7 1h1m-10.3 -3.7h1m-1.3 2.4h1m1.6 -4.5h1m6.2 7.3h1m-2.7 -2.3h1m-5.1 8.5h1m1.8 -12.9h1m-0.7 2.6h1m-2.3 6.9h1m-3 -9.3h1m1.3 11.9h1m-4.6 -15h1m2.8 14.7h1m-7.3 -5.3h1m4.3 6h1m-0.7 -13.4h1m-6.3 10.1h1m3 1.2h1m0 -0.7h1m2.5 -1.8h1m-7.6 2.4h1m5.1 -6.2h1m-6.1 6h1m-2.5 -4.7h1m0.2 2.5h1m-0.7 -7.4h1m2.6 1.5h1m-6.5 3.6h1m5.8 -0.2h1m-2.2 -3.5h1m-0.7 -2.9h1m-1.2 8.3h1m-4.9 -3.7h1m-1 -7.8h1m3.8 7.8h1m-5.3 -5.5h1m0.2 0.9h1m-4.6 7.1h1m4.8 2.1h1m-5.7 -8.5h1m-0.1 10h1m-0.9 3h1m-0.7 -4.2h1m-3.3 -0.5h1m4.1 2.2h1m0.7 -4h1m-5.5 -6h1m2.5 9.8h1m-0.5 -6.4h1m-3.3 -4.9h1m-2.9 13.1h1m3.4 -16h1m-3.1 14.9h1m0.8 -11.2h1m-6.4 4.7h1m1.8 -8h1m-2.2 2h1m2.2 13.6h1m1 -6.8h1m-6.8 -3.1h1m1.3 -2.3h1" stroke="#d43ad8" stroke-width="1" stroke-opacity="0.95" fill="none"/><path d="M367.4 633h1m1.4 4.7h1m-5.5 0h1m3.6 -4.3h1m-1 -1.4h1m-3.8 8.5h1m2.8 -4.5h1m-4.9 3.9h1m-0.4 -0.5h1m1.7 -1.6h1m-0.6 -2.5h1m-3.9 -3.4h1m-3 5.8h1m2.8 -5.1h1m-4.5 3.2h1m-1.3 3.5h1m-0.9 -2.5h1m2.6 1.3h1m-1 -4.7h1m-3.9 1.2h1m-0.3 -2.5h1m3.2 2.1h1m-4.3 6.6h1m-1.8 -10.2h1m1.2 2.9h1m-3.2 -2.2h1m1.9 2.7h1m-1.1 0.1h1m-4.5 1.1h1m-0.1 4h1m-1.2 0.4h1m-1.1 1h1m-0.5 -7.8h1m-2.4 1.9h1m2.6 -3.2h1m-4.7 8.2h1m-0.4 -2.3h1m1.4 -4.9h1m0.5 1.6h1m-3.3 6.2h1m0.1 -7.6h1m-3.4 6.3h1m1.8 -0.6h1m-4 -4.6h1m-1.5 2h1m3.6 -2h1m-5.9 2.2h1m-0.8 0h1m-1.9 -0.5h1m0.4 -2.1h1m2.7 3.6h1m-3.2 -5.3h1m0.8 5.4h1m-0.7 -4.1h1m-2 6.1h1m-0.1 -4.3h1m-2.5 6.4h1m-2.3 -0.6h1m0.1 -9.4h1m-1 -1.4h1m0.9 4.8h1m-5.2 1.5h1m1.4 4.7h1m0.2 -1.8h1m-4 -6h1m3 0h1m-1.9 -1.1h1m-0.4 6.5h1m-3.4 2.3h1m2.6 -4.7h1m-5.4 2.7h1m-2.5 -1.8h1m0.1 -2h1m-1.4 5.8h1m2.2 -5.7h1m-1.1 4.2h1m-3.9 -6.3h1m0.5 6.6h1m0.7 -2.1h1m-0.6 -3.2h1" stroke="#9a48ee" stroke-width="1" stroke-opacity="0.95" fill="none"/><path d="M368.2 634.2h1m-2.4 5.4h1m-0.4 -2.7h1m1.2 -1.8h1m-1.3 -1.9h1m-0.7 4.7h1m-2.8 -3.6h1m-1.3 -0.2h1m1.5 0.3h1m-4.2 -0.2h1m1.8 0.1h1m-3.9 1.6h1m0.4 -3.3h1m-1.4 5.6h1m-1 -1.5h1m0.5 1.4h1m-2 -4.7h1m-1.7 3.5h1m-1.7 -1h1m1.9 -2.5h1m-1.5 5.8h1m-2.2 -6.2h1m-0.2 5.7h1m-1.9 -5.6h1m-1.1 -0.8h1m1.1 4.1h1m-3.5 -3.1h1m-0.1 5.5h1m0 0.2h1m-3 -5.8h1m1.8 0.4h1m-0.9 1.1h1m-0.4 0.8h1m-3.2 3.7h1m-0.1 -5.1h1m-2 3.7h1m-1.3 1.6h1m-1 -0.4h1m-0.4 -5.2h1m-0.3 -0.5h1m-3.4 4h1m0 1.2h1m1 -5.2h1m-1.3 0.4h1m-3.3 -0.6h1m1.1 -0.5h1m-1.9 0h1m-0.1 1.8h1m-0.5 1.7h1m-1.9 -4.8h1m-0.4 3.4h1" stroke="#4a80f2" stroke-width="1" stroke-opacity="0.95" fill="none"/><path d="M368.4 636.7h1m-0.9 -0.3h1m-1 -0.6h1m-0.1 -0.7h1m-1 0.4h1m-2.3 1.6h1m-0.4 0.5h1m-1.3 -3h1m-0.6 0h1m-0.3 1.5h1m-2 0.7h1m-1.2 -1.4h1m-0.4 -0.7h1m-1.8 -0.7h1m-0.8 2.5h1m-0.4 -1.7h1m-1.8 0.9h1m-1.3 -0.8h1m-0.4 -1.5h1m-0.5 2.9h1m-1 0.5h1m-2.7 -1.9h1m-0.2 1.1h1m-0.9 2.7h1m-1.2 -4h1m-0.2 -0.1h1m-1.9 -0.5h1m1 3.7h1m-2.4 -0.2h1m-0.7 -0.9h1m-1.3 -1.7h1m-1.1 -0.8h1m-0.6 1.7h1m-2.4 -0.2h1m-0.9 1.3h1m1 0.6h1m-1.1 -2.4h1m-1 -0.3h1m-2.3 0.2h1m-1.1 1h1m-0.2 -0.5h1m-1.7 0.1h1m-0.2 1.8h1m-0.6 -1.5h1m-1.6 1.4h1m-1 -0.1h1m-1.5 1.2h1m-0.7 -0.9h1" stroke="#2cb8f0" stroke-width="1" stroke-opacity="0.95" fill="none"/><rect x="353.5" y="597.5" width="56" height="56" fill="none" stroke="#777" stroke-width="0.8"/><line x1="376.5" y1="597.5" x2="376.5" y2="653.5" stroke="#585858" stroke-width="0.9"/><line x1="353.5" y1="623.5" x2="409.5" y2="623.5" stroke="#585858" stroke-width="0.9"/><line x1="353.5" y1="597.5" x2="353.5" y2="653.9" stroke="#3a3a3a" stroke-width="0.9"/><line x1="353.1" y1="653.5" x2="409.5" y2="653.5" stroke="#555" stroke-width="0.9"/><line x1="354" y1="615.01" x2="354" y2="618.31" stroke="#de34de" stroke-width="0.8"/><line x1="354" y1="618.87" x2="354" y2="619.62" stroke="#2cb8f0" stroke-width="0.8"/><line x1="364.85" y1="652.9" x2="367" y2="652.9" stroke="#de34de" stroke-width="0.8"/><line x1="367" y1="652.9" x2="368.56" y2="652.9" stroke="#de34de" stroke-width="0.8"/><line x1="370.78" y1="652.9" x2="371.51" y2="652.9" stroke="#2cb8f0" stroke-width="0.8"/><line x1="354" y1="628.2" x2="354" y2="631.89" stroke="#2cb8f0" stroke-width="0.8"/><line x1="354" y1="631.89" x2="354" y2="634.7" stroke="#de34de" stroke-width="0.8"/><line x1="354" y1="634.7" x2="354" y2="643.8" stroke="#4a80f2" stroke-width="0.8"/><line x1="369.35" y1="652.9" x2="370.48" y2="652.9" stroke="#3ee07a" stroke-width="0.8"/><line x1="370.48" y1="652.9" x2="372.79" y2="652.9" stroke="#de34de" stroke-width="0.8"/><line x1="352.3" y1="599.4" x2="353.5" y2="599.4" stroke="#222" stroke-width="0.7"/><text x="351.2" y="600.7" font-size="3.7" text-anchor="end" fill="#444">10<tspan font-size="2.4" dy="-1.3">5</tspan></text><line x1="352.3" y1="608.8" x2="353.5" y2="608.8" stroke="#222" stroke-width="0.7"/><text x="351.2" y="610.1" font-size="3.7" text-anchor="end" fill="#444">10<tspan font-size="2.4" dy="-1.3">4</tspan></text><line x1="352.3" y1="618.2" x2="353.5" y2="618.2" stroke="#222" stroke-width="0.7"/><text x="351.2" y="619.5" font-size="3.7" text-anchor="end" fill="#444">10<tspan font-size="2.4" dy="-1.3">3</tspan></text><line x1="352.3" y1="627.6" x2="353.5" y2="627.6" stroke="#222" stroke-width="0.7"/><text x="351.2" y="628.9" font-size="3.7" text-anchor="end" fill="#444">10<tspan font-size="2.4" dy="-1.3">2</tspan></text><line x1="352.3" y1="637" x2="353.5" y2="637" stroke="#222" stroke-width="0.7"/><text x="351.2" y="638.3" font-size="3.7" text-anchor="end" fill="#444">10<tspan font-size="2.4" dy="-1.3">1</tspan></text><line x1="352.3" y1="646.4" x2="353.5" y2="646.4" stroke="#222" stroke-width="0.7"/><text x="351.2" y="647.7" font-size="3.7" text-anchor="end" fill="#444">10<tspan font-size="2.4" dy="-1.3">0</tspan></text><line x1="361.5" y1="653.5" x2="361.5" y2="654.7" stroke="#222" stroke-width="0.7"/><text x="360.9" y="659.6" font-size="3.7" text-anchor="middle" fill="#444">10<tspan font-size="2.4" dy="-1.3">0</tspan></text><line x1="370.74" y1="653.5" x2="370.74" y2="654.7" stroke="#222" stroke-width="0.7"/><text x="370.14" y="659.6" font-size="3.7" text-anchor="middle" fill="#444">10<tspan font-size="2.4" dy="-1.3">1</tspan></text><line x1="379.98" y1="653.5" x2="379.98" y2="654.7" stroke="#222" stroke-width="0.7"/><text x="379.38" y="659.6" font-size="3.7" text-anchor="middle" fill="#444">10<tspan font-size="2.4" dy="-1.3">2</tspan></text><line x1="389.22" y1="653.5" x2="389.22" y2="654.7" stroke="#222" stroke-width="0.7"/><text x="388.62" y="659.6" font-size="3.7" text-anchor="middle" fill="#444">10<tspan font-size="2.4" dy="-1.3">3</tspan></text><line x1="398.46" y1="653.5" x2="398.46" y2="654.7" stroke="#222" stroke-width="0.7"/><text x="397.86" y="659.6" font-size="3.7" text-anchor="middle" fill="#444">10<tspan font-size="2.4" dy="-1.3">4</tspan></text><line x1="407.7" y1="653.5" x2="407.7" y2="654.7" stroke="#222" stroke-width="0.7"/><text x="407.1" y="659.6" font-size="3.7" text-anchor="middle" fill="#444">10<tspan font-size="2.4" dy="-1.3">5</tspan></text><text x="356.8" y="602.8" font-size="4.4" textLength="8.4" lengthAdjust="spacingAndGlyphs" fill="#1a1a1a" stroke="#1a1a1a" stroke-width="0.06">8.1%</text><text x="407.5" y="602.8" font-size="4.4" text-anchor="end" textLength="8.4" lengthAdjust="spacingAndGlyphs" fill="#1a1a1a" stroke="#1a1a1a" stroke-width="0.06">0.7%</text><text x="356.8" y="651.2" font-size="4.4" textLength="10.65" lengthAdjust="spacingAndGlyphs" fill="#1a1a1a" stroke="#1a1a1a" stroke-width="0.06">89.5%</text><text x="407.5" y="651.2" font-size="4.4" text-anchor="end" textLength="8.4" lengthAdjust="spacingAndGlyphs" fill="#1a1a1a" stroke="#1a1a1a" stroke-width="0.06">1.7%</text><text x="382" y="669.9" font-size="8.8" text-anchor="middle" textLength="16.2" lengthAdjust="spacingAndGlyphs" fill="#111" stroke="#111" stroke-width="0.1">2DL1</text><text x="341.1" y="625" font-size="8.8" text-anchor="middle" textLength="16.2" lengthAdjust="spacingAndGlyphs" transform="rotate(-90 341.1 625)" fill="#111" stroke="#111" stroke-width="0.1">3DL1</text><path d="M469.2 617.4h0.8m5.9 -2.2h0.8m0.9 5.5h0.8m0.3 4.1h0.8m-16.4 -5.6h0.8m-3.9 -1.6h0.8m-1.8 -3.5h0.8m2.3 7.3h0.8m0.8 -7.1h0.8m9.1 6.3h0.8m-16.9 -0.5h0.8m1.5 -3.5h0.8m16.8 1.4h0.8m-16.8 -3.7h0.8m-4.8 -0.6h0.8m5.3 7h0.8m10.6 -3.2h0.8m-12.1 1.1h0.8m-10 -1.8h0.8m-5.4 -1.4h0.8m14.7 3.4h0.8m-8.4 -1.2h0.8m-4.5 -1h0.8m1 -3.3h0.8m28.2 0.2h0.8m-13.2 -3.9h0.8m-9.9 5.6h0.8m7 -3h0.8m8.1 7h0.8m-24.9 -1.7h0.8m14.9 -0.5h0.8m-7.2 4.9h0.8m-4.9 -9.8h0.8m6.8 1.6h0.8m10.5 3h0.8m-23.4 5.5h0.8m5.5 -1.9h0.8m-19.9 -4.2h0.8m13.6 -2h0.8m-6.2 0.8h0.8m12.8 1.1h0.8m6 -1.6h0.8m-20.3 2.7h0.8m-6.3 -2h0.8m23.9 -1h0.8m-9.9 9.3h0.8m-16.7 -11.2h0.8m25.5 0.8h0.8m-16.6 6h0.8m-0.5 3h0.8m-2.1 -3.9h0.8m7.6 2.5h0.8m-0.9 -8.3h0.8m-5.8 5.9h0.8m1.4 2.3h0.8m9.1 -1.2h0.8m-3.6 1.2h0.8m6.8 -0.5h0.8m-12.6 0.5h0.8m-11.9 -3h0.8m20.6 -3.1h0.8m-23.8 5.5h0.8m5.4 -0.2h0.8m8.9 1.4h0.8m2 -1.6h0.8m-5.9 -0.7h0.8m2.7 -4.3h0.8m-12.3 -7.6h0.8m-1.4 6.4h0.8m8 0.5h0.8m7.5 3.3h0.8m-22 2.5h0.8m3.8 1.3h0.8m-1.7 0.5h0.8m6.3 -10.4h0.8m-6.3 6.3h0.8m13.5 6h0.8m-19.9 -4h0.8m21.1 1.7h0.8m-1.3 -7.7h0.8m4.5 4.8h0.8m-27.5 -1.5h0.8m10.3 0.2h0.8m6.3 -4.5h0.8m-7.3 0.1h0.8m-7 -0.3h0.8m5.6 -0.9h0.8m2 7.2h0.8m-1.2 -6.7h0.8m11.3 1.6h0.8m-29.3 2h0.8m19.6 -3.6h0.8m-4.3 2.3h0.8m-11.8 5.8h0.8m-9.4 -2h0.8m3.1 0.5h0.8m11.5 1.9h0.8m-0.6 -7.8h0.8m-6.7 6.4h0.8m-11.7 -2.4h0.8m5.3 -1.9h0.8m4.7 0.7h0.8m-14.5 -0.5h0.8m27.5 3.4h0.8m-11.1 2.5h0.8m-9.3 -4.9h0.8m1.2 -1.7h0.8m-3.4 -0.1h0.8m20.9 4h0.8m-0.1 0h0.8m-24.2 -0.2h0.8m4.2 2.1h0.8m19.3 -4.3h0.8m-5.8 -2.2h0.8m-12.1 8.6h0.8m-7.5 -5.3h0.8m25.9 -1.1h0.8m-20 2.7h0.8m-10.4 -5.5h0.8m11.2 6.3h0.8m5.1 -7h0.8m-1.8 2.7h0.8m-9.9 1.5h0.8m-5.9 3h0.8m-11.9 -0.9h0.8m14.5 -3.7h0.8m-9.9 2.9h0.8m16.1 -6.5h0.8m-13 8.3h0.8m-0.4 0.9h0.8m22.5 0.6h0.8m-9.5 -3.6h0.8m-8 -4.2h0.8m-6.2 3.8h0.8m7.7 2.5h0.8m-1.8 1.1h0.8m-5.9 -9.3h0.8m26.7 5h0.8m-17.2 -2h0.8m-19 2h0.8m14.1 3.7h0.8m-14.7 -0.6h0.8m8.3 -0.2h0.8m11 -6.6h0.8m-19.9 4.3h0.8m0.8 -3.1h0.8m7 4.2h0.8m-16.6 -2.8h0.8m16.9 2.3h0.8m8 0.2h0.8m-12.8 -3.3h0.8m0.7 -1.5h0.8m-14 -3.2h0.8m3.2 12.7h0.8m14.9 -4.8h0.8m-13.8 -1.9h0.8m-0.8 6.5h0.8m3.3 -2.7h0.8m-13.6 -3.6h0.8m13 -3.1h0.8m6.5 10.3h0.8m-15.7 -6h0.8m2.3 -3.8h0.8m-10.4 -0.3h0.8m-8.1 0.7h0.8m31 5.7h0.8m-21.3 0.6h0.8m20 -2.5h0.8m-5.1 -6h0.8m-12.7 10.7h0.8m16.5 -2.1h0.8m-17.6 -1.3h0.8m1.2 1.1h0.8m6.4 -9.3h0.8m-11.1 8.4h0.8m6.2 -2h0.8m-0.1 -6h0.8m-7.9 4.4h0.8m-6.9 3.5h0.8m-4.9 -7.6h0.8m6.5 9.6h0.8m-4.7 -3.9h0.8m10.1 -2.2h0.8m4 5.7h0.8m-8.8 -5.9h0.8m10.3 4.5h0.8m-12.9 -7h0.8m-5 7.4h0.8m15.9 1.3h0.8m15.8 -1.6h0.8m-11.1 0.7h0.8m-14.4 -6.4h0.8m5.3 7.6h0.8m-3.8 -8.9h0.8m-12.1 2.5h0.8m1 3.2h0.8m-4.5 1.7h0.8m23.4 -6.3h0.8m-20.3 -1.3h0.8m10.3 6.9h0.8m-27.8 -5.5h0.8m24.8 8h0.8m17.9 0.4h0.8m-37.3 -3.4h0.8m23.4 -1.7h0.8m-17.7 3.7h0.8m8.1 -3.8h0.8m16 -1.5h0.8m-14.8 -1.4h0.8m-5.8 -2.6h0.8m-0.9 7.4h0.8m9.3 -6.9h0.8m-7.4 2.6h0.8m-2.5 -0.9h0.8m-13.4 2h0.8m12 4.1h0.8m-5.8 -4.1h0.8m-12.7 2.2h0.8m20 -5h0.8m-4.8 -0.2h0.8m6.4 6.7h0.8m-3.6 -5.5h0.8m9.1 4.1h0.8m-8.3 -0.7h0.8m-10.5 2.1h0.8m-5.3 -5.3h0.8m14.9 1h0.8m-12.3 5h0.8m2 -4.6h0.8m-11.5 -1.8h0.8m30.4 -0.3h0.8m-42.3 -2.3h0.8m10.4 8.7h0.8m20.5 -8.2h0.8m-27.7 3.5h0.8m12.3 4.9h0.8m-7.3 -5.4h0.8m8.5 4.7h0.8m-1 -6.4h0.8m-18.8 5.4h0.8m30.3 -0.6h0.8m-13.4 1.1h0.8m-11.2 2.8h0.8m22.8 -9.6h0.8m-28.4 8.3h0.8m6.5 1h0.8m12.3 -6.5h0.8m-4.8 6h0.8m-17.3 -5.7h0.8m16.4 6.2h0.8m8.4 -2.7h0.8m-7.9 -10h0.8m-0.1 9.5h0.8m-5.9 -7.4h0.8m-21 4.7h0.8m8.1 -1.6h0.8m19.6 4.5h0.8m-19.5 -4.5h0.8m7.1 -2.3h0.8m-5.8 -0.9h0.8m12.5 9.5h0.8m5.3 -3.5h0.8m-28.5 4.7h0.8m10.3 1.7h0.8m8.3 -3.2h0.8m-12 -5.8h0.8m-12.5 3.3h0.8m14.8 -1.3h0.8m-5.1 -1.7h0.8m9.7 1.9h0.8m-7.5 4.1h0.8m12.8 -1.8h0.8m-12.4 -3.4h0.8m-3.9 5.3h0.8m10.3 -6.1h0.8m-21.7 -2.8h0.8m16.1 -0.1h0.8m-6.9 6.5h0.8m3.3 -6.8h0.8m1.1 7.9h0.8m-15.6 -4.2h0.8m9.8 7.2h0.8m5.3 -7.2h0.8m0.1 -1.3h0.8m-11 4h0.8m-1.5 -4.4h0.8m-11.5 0h0.8m18.5 7.9h0.8m-6.2 -4.4h0.8m8.7 -3.7h0.8m-2 -0.6h0.8m-10.5 8.1h0.8m-7.5 4.3h0.8m-3.1 -9.3h0.8m29.2 7.3h0.8m-37.5 -4h0.8m5.7 3.6h0.8m15.9 -6.6h0.8m-8 4.3h0.8m26.4 -2.1h0.8m-39.6 4.8h0.8m8.8 -6.9h0.8m-5.8 -10.3h0.8m15.1 12.2h0.8m-19.8 -9.1h0.8m7 9.7h0.8m3.1 0.1h0.8m-11.4 3.6h0.8m3.7 -9.8h0.8m8 10.6h0.8m-30.5 -3.8h0.8m20.1 -9.5h0.8m-13.8 2.6h0.8m27.8 0.9h0.8m4.7 -1h0.8m-4.9 -6.9h0.8m-16.9 12h0.8m14.5 -8.8h0.8m-15.6 1.5h0.8m-8.7 5.5h0.8m11.6 6.8h0.8m-17.1 -6.1h0.8m18.3 1.1h0.8m-25.4 -5h0.8m13.9 3.5h0.8m-6 -4.4h0.8m36.9 9.6h0.8m-5.1 -4h0.8m-14 2.4h0.8m-11.4 6h0.8m-10.7 -4.9h0.8m-7.1 -5.1h0.8m-7.6 -1.4h0.8m35.2 0.9h0.8m-17 4.9h0.8m-0.8 -4.6h0.8m2.4 -2.3h0.8m11 6.7h0.8m-35.2 1.8h0.8m1.3 -6.1h0.8m2.4 3.5h0.8m20.9 3.8h0.8m12.5 -7.4h0.8m-21.8 -1.6h0.8m-8.6 10.2h0.8m23 -2.1h0.8m-30.5 -1h0.8m29.8 -4h0.8m-14.1 -0.8h0.8m2.8 5.9h0.8m-7.6 -9.5h0.8m4.8 14h0.8m7.6 -9.1h0.8m-6.1 -5h0.8m3.4 6.3h0.8m-4.1 -0.4h0.8m11.3 -4.8h0.8m-9.1 2.1h0.8m-21.7 5.3h0.8m-12.8 -5.1h0.8m15.9 -2.4h0.8m10.1 3.4h0.8m4.6 -2h0.8m-27.3 -2.3h0.8m-1.9 11.1h0.8m1.2 -6.1h0.8m35.3 -4.8h0.8m-5.7 5.2h0.8m-11.6 1.3h0.8m-22.7 -5.7h0.8m18.5 2.4h0.8m-26.2 -4.6h0.8m18 8.6h0.8m-7.1 -6.3h0.8m-2.1 8.9h0.8m16.9 -3.8h0.8m-11.9 3.6h0.8m6.9 -5.7h0.8m-10.8 0h0.8m-4.1 3.7h0.8m11.8 -0.3h0.8m19.7 -3.5h0.8m-42.9 -4.5h0.8m23.6 3.6h0.8m-23.3 5.3h0.8m12.1 -3.7h0.8m-10.9 2.8h0.8m7.1 -2.2h0.8m-4.3 -2.5h0.8m15.1 10.3h0.8m-6 -5.1h0.8m-9.9 -3.3h0.8m23.4 -3.9h0.8m-13.3 4.3h0.8m14.9 -8.7h0.8m-8.3 13.4h0.8m-19.2 -2h0.8m-3.6 -3.4h0.8m22.1 -3.1h0.8m-5.9 4h0.8m-8.6 -6h0.8m3.8 9h0.8m6.5 -7.3h0.8m-34.9 8.6h0.8m38.8 -7h0.8m-14.5 5.3h0.8m23.3 -3.8h0.8m-17.6 0h0.8m-11.3 -0.2h0.8m7.3 -1.6h0.8m-3.2 5.1h0.8m-4 -4.9h0.8m9.5 -4.1h0.8m-20.9 9h0.8m-4.7 -6.1h0.8m-4.8 7.4h0.8m16.9 -3.1h0.8m-14.1 -4.8h0.8m-5.4 10.3h0.8m-4.2 -4.6h0.8m27.8 -5.7h0.8m-8.3 -1.1h0.8m-6.7 0.1h0.8m6.3 4.1h0.8m0.7 6.8h0.8m19.8 -1h0.8m-35.2 -1.6h0.8m9.5 0.2h0.8m7.6 -7.5h0.8m6.8 -8.9h0.8m-15.3 14.3h0.8m4.7 1.4h0.8m-20.9 -2.3h0.8m1.8 -0.5h0.8m21.3 0.3h0.8m-15.9 3h0.8m-3.3 -0.7h0.8m14.9 -4h0.8m-14.4 8h0.8m8.2 -5.9h0.8m10 5.1h0.8m1.2 -9.9h0.8m-5.4 10.2h0.8m-9.4 -0.7h0.8m12.6 -0.7h0.8m-26.5 -14.5h0.8m21.4 10.4h0.8m-6.3 -6.7h0.8m-13.7 6.6h0.8m13.9 5.4h0.8m-30.5 -19.4h0.8m11.5 16h0.8m16.5 -3.5h0.8m-19.8 2.7h0.8m16.5 -3.7h0.8m4.1 -1.4h0.8m-20.6 8.4h0.8m-8.5 -11.2h0.8m24.9 -0.7h0.8m4.3 7.7h0.8m-5.3 -5.9h0.8m0.4 9.2h0.8m-2.1 1h0.8m3.5 -6h0.8m-7.9 1.3h0.8m-0.2 -1.6h0.8m0 8h0.8m0.9 -1.5h0.8m-1.9 -1.7h0.8m-0.9 1.5h0.8m-0.9 -3.8h0.8m-1.3 -2.3h0.8m-1.3 2.2h0.8m4.6 -4.8h0.8m-0.7 0.2h0.8m-4.7 7h0.8m0.3 1.8h0.8m0.5 -8.9h0.8m-0.6 7.4h0.8m-4.4 -11.7h0.8m0.5 12.3h0.8m-1.5 -7.5h0.8m0.1 0.9h0.8m-1.8 6h0.8m2.2 -2.2h0.8m-1.1 2.3h0.8m-1.4 -8h0.8m0.6 7.2h0.8m-5 -7.9h0.8m3.9 1.4h0.8m-6.3 6.3h0.8m2.3 -1.6h0.8m-4.3 0.2h0.8m5.5 3.4h0.8m-4.5 1h0.8m-4.2 -0.6h0.8m2.4 -1.6h0.8m2.2 -3.2h0.8m-0.3 2.1h0.8m-6.7 3.9h0.8m3.3 -0.6h0.8m-0.9 -10.2h0.8m-0.9 9.2h0.8m-4.7 -7.3h0.8m-0.4 -2.1h0.8m5.8 4.4h0.8m-2.4 0.6h0.8m-0.5 5.1h0.8m-4.9 0.5h0.8m0.9 -1.2h0.8m0.5 -7.5h0.8m-1.1 5.1h0.8m-2.2 0.2h0.8m1.3 1.4h0.8m-4.6 -2.4h0.8m2.9 0.8h0.8m0.7 3.9h0.8m-5.6 -10.1h0.8m-2 0.7h0.8m4.4 7.4h0.8m0.3 -5.3h0.8m-2.8 0.3h0.8m-0.6 8.8h0.8m-2.6 -14.6h0.8m1 1.6h0.8m-1.3 9.3h0.8m-1.5 -10.6h0.8m-4.8 3.4h0.8m5.3 -2.3h0.8m-7.5 1h0.8m2.4 8.1h0.8m-1.5 -1.6h0.8m-1.9 -1.7h0.8m0.8 -1.9h0.8m1.9 3.9h0.8m0.4 -4h0.8m-4.9 3.9h0.8m2.4 -2.3h0.8m-0.4 5.7h0.8m-3.3 0.8h0.8m-1.5 -11h0.8m-2.9 2.1h0.8m2.4 2.1h0.8m-2.3 0.4h0.8m1.9 0.6h0.8m-1.2 -5.1h0.8m3.2 -3.4h0.8m-5.4 6.1h0.8m-4.3 -3.8h0.8m1.5 7.4h0.8m0.2 -4.1h0.8m-0.1 -3.6h0.8m-2.7 9.6h0.8m-1 -7.2h0.8m8.4 1.3h0.8m-7.4 2.4h0.8m7.6 2.8h0.8m-10.3 -5.2h0.8m-1 -6.6h0.8m1.9 12.5h0.8m2 1.6h0.8m-5 0.6h0.8m-0.2 -13h0.8m0.7 8.2h0.8m-8.4 -6.4h0.8m4.8 11.1h0.8m-5.5 -11.9h0.8m2.6 2.1h0.8m-1.7 4.2h0.8m-0.9 -9.4h0.8m3.2 1.3h0.8m-4.9 11.8h0.8m3.9 -3.9h0.8m-4.9 2.2h0.8m3.5 2.4h0.8m1.6 -8h0.8m-9.1 -7.4h0.8m1.4 8.4h0.8m-0.4 5.7h0.8m1.9 -11.2h0.8m-7.2 11.7h0.8m1.7 -10.2h0.8m-0.4 10.9h0.8m-5.4 -5.2h0.8m2.6 -1.7h0.8m-0.4 -0.6h0.8m4.2 -2.4h0.8m-2.2 15.4h0.8m-5.6 -8.1h0.8m1.8 -2.7h0.8m-4.2 4.6h0.8m2.7 -13.4h0.8m1.4 15.2h0.8m1.8 6.6h0.8m-1.9 -12.2h0.8m-1.7 1.1h0.8m-8.9 -10.6h0.8m7.6 9.4h0.8m-4.3 2.6h0.8m-7.9 -4.6h0.8m9.6 2.8h0.8m-28.7 24.2h0.8m4.8 -7.9h0.8m-1.3 2.7h0.8m1.7 5.1h0.8m-12 -5.4h0.8m1.5 -2h0.8m-8.3 4.2h0.8m4.1 -4.5h0.8m-0.5 9h0.8m7.8 -2.9h0.8m-10.2 4h0.8m6.1 -2.4h0.8m-9.5 -4.8h0.8m13.7 15.6h0.8m-3.7 -20.6h0.8m-17.1 0.9h0.8m7.1 -7h0.8m2.2 7.7h0.8m5.5 -0.1h0.8m-1 -2.7h0.8m-14.7 15.3h0.8m2 2.8h0.8m-2.8 -13.1h0.8m13.9 4.7h0.8m0.6 -8.2h0.8m-6.7 0.2h0.8m-11.8 6.2h0.8m-4.6 5.3h0.8m11.4 -12.4h0.8m6.9 8h0.8m0.1 -7h0.8m-3.9 8h0.8m-6.7 -13.1h0.8m6.8 13.7h0.8m-0.8 -5.2h0.8m-0.9 1.5h0.8m-14.4 4.1h0.8m10.9 -1.6h0.8m-3.9 3.8h0.8m4.4 -8.9h0.8m-3.9 6.5h0.8m-10.4 -3.1h0.8m12.9 6.1h0.8m-5 -5.3h0.8m-7 3h0.8m-9.1 -4.2h0.8m23.3 0.7h0.8m-9.9 7.9h0.8m-5.5 -0.7h0.8m3 -7.4h0.8m3.5 0.1h0.8m-4.2 1.2h0.8m-6.9 3.6h0.8m5.5 -8.9h0.8m-8.1 -3.4h0.8m10.3 5.2h0.8m-4 1h0.8m6.4 -5.3h0.8m-7.8 5.7h0.8m-5.6 -4h0.8m5.3 6.5h0.8m-0.1 -11.6h0.8m-2.9 0.1h0.8m-15.6 5.1h0.8m9.8 -1.2h0.8m-8.4 9.8h0.8m7.6 0.6h0.8m-2.1 -1h0.8m-5.9 -11.4h0.8m-2.2 -1.5h0.8m-0.6 5.5h0.8m12.2 5.8h0.8m-4.3 -9.6h0.8m5.9 3h0.8m-1.1 0.5h0.8m-5.4 2h0.8m-0.4 2h0.8m-17 -0.4h0.8m2.2 1.4h0.8m-0.9 -1.9h0.8m9.5 8.1h0.8m1.4 -11h0.8m-6.2 -1.3h0.8m-6.2 8.3h0.8m-4.7 -2.6h0.8m18.8 -0.8h0.8m-11.9 5.3h0.8m-5.8 -11.5h0.8m5.8 2.9h0.8m-8.7 -3h0.8m9.4 11.9h0.8m1.7 -9.2h0.8m-20.5 3.4h0.8m18.9 -5.6h0.8m1.1 1.4h0.8m-8.5 10h0.8m-1.5 -11.2h0.8m-0.6 12.7h0.8m-0.9 -3.8h0.8m8.8 1.7h0.8m-22.2 -9.8h0.8m14.9 9.1h0.8m-1.1 0.9h0.8m3.7 -7.5h0.8m-11.4 10.2h0.8m2.5 -13.5h0.8m4.3 6h0.8m-14.7 2.6h0.8m3.8 -10.6h0.8m11.9 14.5h0.8m-9.4 -2.2h0.8m4.8 -5.8h0.8m1.1 -7.6h0.8m-11.3 4.7h0.8m-4.7 0.8h0.8m8.6 10.5h0.8m-5.8 -14.7h0.8m1.8 12.1h0.8m-5.2 1.3h0.8m10.3 -7.8h0.8m-10.3 -5.2h0.8m9.5 6h0.8m-17.5 -1.9h0.8m5.1 -0.6h0.8m12 1.9h0.8m-1.5 4.3h0.8m-7.9 2.9h0.8m-1.1 1.6h0.8m-10.2 -11.3h0.8m12 5.6h0.8m-0.3 -8.5h0.8m-13.7 0h0.8m6.9 11.1h0.8m3.9 -11h0.8m-9.9 8.4h0.8m-10.4 -2h0.8m13.2 2.2h0.8m-3.2 -7.2h0.8m-5 9.5h0.8m11.7 -4.7h0.8m-14.3 2.9h0.8m15.1 -9.3h0.8m-10.7 15.8h0.8m-9.8 -6.1h0.8m11 2h0.8m-7.8 0.1h0.8m11.3 -4.2h0.8m-12.4 3.1h0.8m1.8 -11.2h0.8m-8.7 16.9h0.8m13.3 -9.6h0.8m5.9 3.5h0.8m-7 1.3h0.8m-10.7 -4.8h0.8m18.5 0.3h0.8m-5.8 1.5h0.8m-21 -2.8h0.8m12.8 7.1h0.8m-0.2 -9.8h0.8m-5.6 8.3h0.8m6.8 -9h0.8m-12.7 4.5h0.8m13.3 1.9h0.8m-17.4 -0.3h0.8m9.1 2.9h0.8m-3.7 -12.2h0.8m2.6 13.7h0.8m3.9 -6.8h0.8m-4.6 -6.6h0.8m3.1 10.4h0.8m2 -3.1h0.8m-19.1 -5.1h0.8m3 2.2h0.8m10.3 0.1h0.8m-5.5 6.6h0.8m-4.5 -9.3h0.8m-3 12.6h0.8m6.6 -14.4h0.8m-8.6 12.7h0.8m1.3 1.6h0.8m-4.8 -6.7h0.8m12.6 -4.6h0.8m-14.3 -3.3h0.8m7.5 -0.6h0.8m-4.2 13.6h0.8m-2.5 -8.8h0.8m-1.5 0.7h0.8m11.3 9.5h0.8m-16.9 -7.3h0.8m9.8 7.3h0.8m-3 -15.2h0.8m3.4 15.2h0.8m-10.4 -17.5h0.8m7.9 2.9h0.8m-1 -0.8h0.8m-1.9 15.6h0.8m3.2 -3.2h0.8m-10.7 -2.2h0.8m0.8 -0.6h0.8m0.8 -6.3h0.8m2.2 11.6h0.8m6.5 -10.2h0.8m-12.7 12.1h0.8m-9.4 -12.6h0.8m17.1 0.3h0.8m-5.8 -4.2h0.8m-7.6 4.5h0.8m-4.8 15.4h0.8m-2.1 -14.3h0.8m11.9 8.1h0.8m-6.8 -1h0.8m14.9 -11.9h0.8m-15.6 5.2h0.8m0.5 -5.7h0.8m4.1 6.1h0.8m-3.7 -7.2h0.8m4.5 11.9h0.8m-1.6 3h0.8m-5.7 5h0.8m3.5 -0.8h0.8m-13 -12.7h0.8m12.1 -2.3h0.8m-12.4 3.1h0.8m1.5 -3.8h0.8m15.1 8.7h0.8m-4.1 -7.3h0.8m-5.8 0.4h0.8m-5 9.5h0.8m9 -12.9h0.8m-4.4 13.3h0.8m-10.5 -2.1h0.8m15.4 -6.1h0.8m-16.1 -1.7h0.8m-1.6 10.1h0.8m9.4 -7.5h0.8m-6.5 8.7h0.8m-5.3 -3.5h0.8m5.2 -9.4h0.8m11.1 7.2h0.8m-10.9 -8.7h0.8m2.4 6.5h0.8m-12.4 -6.6h0.8m-5 7.4h0.8m7.6 8.3h0.8m6.7 -3.5h0.8m-10.1 -17.1h0.8m7.3 14.7h0.8m-3 -8h0.8m-11.9 0.5h0.8m15 3.1h0.8m-2.4 -1.4h0.8m-13.9 4.7h0.8m11.5 -7.5h0.8m-3.3 -1h0.8m4.5 7.3h0.8m-13.6 -6h0.8m0.7 10h0.8m-0.7 -6.9h0.8m14.7 -4.2h0.8m-9.8 0.3h0.8m0.8 13.1h0.8m-12.2 -11.3h0.8m23.4 10h0.8m-25.1 -8.6h0.8m12.5 6.5h0.8m-11.4 -12.8h0.8m6.5 12h0.8m-3.1 7.7h0.8m-4.2 -21.3h0.8m-5.9 11.5h0.8m10 -9.6h0.8m1 6.5h0.8m-3.8 8.2h0.8m-3.2 -11.8h0.8m0 -3.9h0.8m-6.8 8.3h0.8m-0.3 7.1h0.8m2.9 -10.8h0.8m3.9 0.9h0.8m-11.4 1.6h0.8m2.6 3.6h0.8m8.7 -10h0.8m-1.8 11h0.8m-12.2 -0.7h0.8m4.9 7.2h0.8m-2.4 -15.8h0.8m-7.4 10.4h0.8m16.6 -6.2h0.8m0.1 11.6h0.8m-3.7 -8.3h0.8m-0.3 -0.8h0.8m-9.5 -3.7h0.8m-4.8 4.3h0.8m3.1 3.6h0.8m-0.6 -12.4h0.8m2.8 16h0.8m-15.7 -10.3h0.8m15.2 -2.5h0.8m3.4 -3.9h0.8m-5.7 13.7h0.8m-1.6 -15.9h0.8m-5.7 3.1h0.8m2.4 15.8h0.8m8.2 -6.9h0.8m-16.3 -3h0.8m8.6 0.5h0.8m-2.1 3.5h0.8m-0.9 -2.3h0.8m-9.4 -3.8h0.8m5.4 5.1h0.8m-13.4 -6.3h0.8m15.7 -0.9h0.8m-5.9 15h0.8m-5.9 -19.8h0.8m3.1 2.4h0.8m-0.7 5.4h0.8m4.7 5h0.8m-0.6 0.9h0.8m1.8 5.2h0.8m-13 -4.4h0.8m23.5 9.6h0.8m-1.7 -6.1h0.8m-24.5 -8.8h0.8m2.7 4.2h0.8m3.1 -26.4h0.8m4.3 15.1h0.8m-16 4.3h0.8m3.5 -0.5h0.8m-11 -2.3h0.8m19.6 -5.9h0.8m-9.7 10.5h0.8m6.9 -10.3h0.8m3.5 15.6h0.8m-12.3 7.5h0.8m8 2.7h0.8m-7.4 -5.7h0.8m-2.6 -6.9h0.8m0.5 -2.4h0.8m13.1 4.5h0.8m-11.5 4.5h0.8m-0.7 -9.3h0.8m-1.4 0.4h0.8m7 8.6h0.8m-14.8 -0.8h0.8m7.5 -7.9h0.8m2.9 -0.7h0.8m-1.7 -6.1h0.8m-6 2.3h0.8m-8.6 -1.9h0.8m8.9 4.5h0.8m9.6 2.4h0.8m11.9 -12h0.8m-33.9 13.9h0.8m9.7 -7.9h0.8m-5.6 2.5h0.8m-0.8 20h0.8m9.3 -18h0.8m-1.3 7.4h0.8m-16.9 1.9h0.8m7.4 -3.9h0.8m-4.5 -11.5h0.8m1.3 4.1h0.8m-4.2 9.9h0.8m10.5 4.8h0.8m-2.5 -19.8h0.8m-9.5 12h0.8m6.7 -5.7h0.8m-7.2 -0.9h0.8m11.6 9.4h0.8m-6.5 -3.4h0.8m-6.6 -0.9h0.8m2.4 -2.2h0.8m-11.6 -1.3h0.8m4.8 -13.2h0.8m1.3 11.4h0.8m-7.5 -2.4h0.8m19.5 17.5h0.8m-9.4 -15.7h0.8m16.1 -2h0.8m-14.3 8.4h0.8m5.7 0.2h0.8m7.7 -11h0.8m-24.5 16.8h0.8m6.3 -10.1h0.8m-10.3 6.7h0.8m-0.8 1.7h0.8m11.6 3.8h0.8m-21.3 -19.1h0.8m30.5 10.4h0.8m-26.4 -6.6h0.8m12 -9.2h0.8m-1.2 5.7h0.8m-10 0.7h0.8m-4.8 0.6h0.8m3.6 -2.9h0.8m-3.4 0.9h0.8m6 10.4h0.8m6 2.4h0.8m-13.7 -2.3h0.8m-2.7 -3.1h0.8m-2.2 -5.1h0.8m9.2 0.9h0.8m-10 6.9h0.8m-0.6 -4.9h0.8m-1.3 5.8h0.8m5.8 -5.2h0.8m-3.6 0.5h0.8m-2.4 5.2h0.8m-2.1 -0.5h0.8m9.2 -0.3h0.8m9.8 12.1h0.8m-10 -20.6h0.8m8.2 10h0.8m-19.6 -18.5h0.8m25.4 18.2h0.8m-20.2 -1h0.8m-17.3 6.5h0.8m7 2.5h0.8m15.2 -2.1h0.8m-18.5 4.5h0.8m17.4 -4.7h0.8m-16.1 -12.6h0.8m-0.7 1.4h0.8m-0.6 11.6h0.8m10.3 -4.3h0.8m11.5 -3.1h0.8m-27.9 7.3h0.8m12.2 -6.3h0.8m6.8 6.3h0.8m-17 -5h0.8m17.6 3.3h0.8m-15.9 3.8h0.8m1.4 -3.9h0.8m0.2 -2.5h0.8m10.9 -4.5h0.8m-13 4.3h0.8m11.1 2.3h0.8m-12.6 -4.9h0.8m-3.1 2.8h0.8m16.3 -5h0.8m-18.8 -7.9h0.8m3.1 15.3h0.8m-6.1 -17.7h0.8m9.9 1.8h0.8m-13.2 17.3h0.8m14.1 -7.2h0.8m-12.3 4.7h0.8m2.7 -9.6h0.8m-6.2 16.4h0.8m-2.5 -22.1h0.8m8.1 8.1h0.8m-4.1 4.9h0.8m12 3.4h0.8m-23 -16.1h0.8m7.1 17.8h0.8m0.8 -4.6h0.8m5.6 6.6h0.8m-12.8 6.4h0.8m8.8 -26.5h0.8m-6.1 1.4h0.8m12.8 15.4h0.8m-15.2 -13.4h0.8m13 -0.7h0.8m-8.7 1.2h0.8m2.2 -0.8h0.8m-5.1 4.1h0.8m19.4 14.9h0.8m-29.3 -24h0.8m-2.8 11.6h0.8m-5.6 -17.7h0.8m23.9 24h0.8m-19.7 -23.3h0.8m-5.1 27.9h0.8m17.5 -8.9h0.8m-10.2 -1.1h0.8m13.6 -4.9h0.8m1.2 5.3h0.8m-3.2 6.4h0.8m-17.6 -11h0.8m12.2 7.6h0.8m0.1 -8.2h0.8m-12.9 -1h0.8m4.2 9.3h0.8m-7.9 -0.6h0.8m7.1 -12.1h0.8m5.3 5.7h0.8m-14.6 4.4h0.8m11.2 2.6h0.8m5.8 5.3h0.8m-1.6 -14.3h0.8m-25.3 18.1h0.8m-0.3 -24.7h0.8m7.7 15.6h0.8m-1.6 6.6h0.8m-1 -6.7h0.8m17.6 -11.3h0.8m-10 16.9h0.8m-9.6 1.7h0.8m-1.7 -11.7h0.8m8.3 1.4h0.8m-7.8 5.7h0.8m-0.4 -7.7h0.8m15.7 12.5h0.8m-28.6 -24.3h0.8m18.2 13.6h0.8m-7.8 7.1h0.8m-4.5 -13.8h0.8m-0.2 3.4h0.8m9.8 -11.2h0.8m-3.8 9.7h0.8m-16 1.7h0.8m13.4 -25.7h0.8m-6.9 15.5h0.8m21.6 9h0.8m-30.1 -18.2h0.8m9.5 22.2h0.8m9.7 -9.4h0.8m2.5 -8.9h0.8m-2.9 -3.4h0.8m-5 24.8h0.8m-8.2 -19.9h0.8m14.3 6.2h0.8m-10.1 8.2h0.8m7.1 -28h0.8m-13.4 22.9h0.8m-12.8 -12.4h0.8m23.6 14.2h0.8m1 -17.2h0.8m-6.5 21.9h0.8m9.4 17.8h0.8m-23.2 -40.1h0.8m0.8 16.3h0.8m19.6 -2.8h0.8m-3 6h0.8m-17.7 7.8h0.8m-12 -25.4h0.8m13.2 16.7h0.8m17 -23h0.8m-14.3 17.9h0.8m-3.5 -8.6h0.8m4.8 11.4h0.8m-5.7 -19.8h0.8m-5 -1.4h0.8m-10.8 41.2h0.8m18.5 -15.4h0.8m-1.9 7.1h0.8m27.5 -21.8h0.8m-40.9 5.6h0.8m19.7 11.4h0.8m-6 -14.8h0.8m-14.5 19.8h0.8m12.4 -32.2h0.8m4.3 13h0.8m-4.2 0.4h0.8m2.7 -8.9h0.8m-4.4 16.4h0.8m-7.8 4.7h0.8m13.3 -12.2h0.8m-4.9 -3.2h0.8m-18 11h0.8m18.6 -22.8h0.8m-25.8 6h0.8m21.2 12.7h0.8m-14.8 17.3h0.8m8.7 -24.2h0.8m-3.5 6.5h0.8m5.2 2.5h0.8m-5.4 -8.3h0.8m-12.3 18.8h0.8m-9.6 -20.7h0.8m15.5 3.3h0.8m5.7 -14.5h0.8m-13.7 35.8h0.8m8.1 -17.4h0.8m4.9 7.4h0.8m-15.4 0.4h0.8m16.2 4.9h0.8m-3.2 -13.3h0.8m-22 19.5h0.8m8.3 -42.6h0.8m-2.1 26.3h0.8m28 7.3h0.8m-31 -3.7h0.8m6 3.6h0.8m-9.7 4.4h0.8m20 -4.1h0.8m-31.2 -11.5h0.8m20.7 -16.5h0.8m-6.2 45.8h0.8m-9 -23.3h0.8m41.7 -1.6h0.8m-53.8 -1.3h0.8m22.8 9.4h0.8m-7.6 -13.3h0.8m21.9 6.3h0.8m-12.3 -17.2h0.8m4 15.6h0.8m-19.1 -15.1h0.8m10.9 -3.6h0.8m-12.2 21.2h0.8m25 16h0.8m-0.8 -2.1h0.8m-4.6 -40.1h0.8m-10.5 26.5h0.8m-17.2 2.7h0.8m24.8 -12.2h0.8m4.3 30.2h0.8m-8.6 -33.5h0.8m-33.4 8.1h0.8m21 -9.2h0.8m21.2 6.1h0.8m-38.7 10.2h0.8m29.9 -9h0.8m-21.8 -10.5h0.8m21.2 28.5h0.8m-24 -10.4h0.8m17 -6.4h0.8m-7.5 -0.1h0.8m16.1 22.9h0.8m-7.6 -19.3h0.8m-9.9 5.1h0.8m9.4 -10.4h0.8m-23.8 0h0.8m11.8 -12.2h0.8m-13 12h0.8m2.3 -20h0.8m-15.6 42.9h0.8m32 -19.2h0.8m-7.7 19.7h0.8m-0.4 -15.4h0.8m-19.9 -22.4h0.8m6.5 31h0.8m-0.7 2.4h0.8m-11.7 -22.8h0.8m27.9 31.5h0.8m-26.7 -20.8h0.8m21.4 8.7h0.8m-11.2 -31h0.8m7.2 14.1h0.8m-25.2 7.3h0.8m24.5 -13.7h0.8m6.7 4.5h0.8m-30 8.3h0.8m-1.1 1.1h0.8m2.4 0.7h0.8m-5 -5.7h0.8m12.4 11.7h0.8m-10.3 -10.2h0.8m-2.1 -21.6h0.8m19.9 20.6h0.8m2.8 -9.7h0.8m-9.1 4.7h0.8m-14.2 -0.4h0.8m10.4 22.3h0.8m10.1 -20h0.8m-14.8 -1.6h0.8m2 1h0.8m23.3 -3.2h0.8m-33.8 24.6h0.8m19.2 -22.8h0.8m0 21.4h0.8m-33.3 -16.8h0.8m25.8 17.6h0.8m-7.3 -5.4h0.8m12.2 -0.1h0.8m-10.8 -6.3h0.8m-13.2 -12.6h0.8m12 5.7h0.8m-5.8 -5.2h0.8m-2 -3.7h0.8m-12.1 9.4h0.8m27.2 -4.5h0.8m-13.3 -12.4h0.8m2.8 19.4h0.8m-5.8 11.5h0.8m19.1 -13.8h0.8m-11.3 -3.5h0.8m-29.6 11.5h0.8m25.1 4.4h0.8m3 1.5h0.8m-23.3 -15.7h0.8m-4.8 3.5h0.8m-2.3 -12.4h0.8m27.7 12.6h0.8m-4 3.3h0.8m-13.4 5.3h0.8m20.3 -8.4h0.8m-27.6 1h0.8m-3.7 17.5h0.8m19.2 -17.3h0.8m-1.9 12.2h0.8m-14.2 -27.2h0.8m6.6 34.1h0.8m-8.9 -5.8h0.8m-6.8 -20.6h0.8m18 -12.7h0.8m-16.3 33h0.8m10.6 -23.9h0.8m-13.7 26.2h0.8m-1.4 0.8h0.8m5.1 -30.2h0.8m25.2 36.8h0.8m-4.5 -16.2h0.8m-28 -7.9h0.8m21.4 0.7h0.8m-15.3 12.6h0.8m-18.9 -12.3h0.8m15.8 -10.2h0.8m0.3 6h0.8m-18.9 -12.5h0.8m3.9 32.9h0.8m-1.8 -33.3h0.8m19.4 15.7h0.8m1.5 -6.8h0.8m-8.3 11h0.8m5.7 -21.9h0.8m-1.6 18.9h0.8m-4 -5.3h0.8m4.6 -5.7h0.8m-26 -3.8h0.8m16.7 28.6h0.8m6.5 -26.2h0.8m-8.9 14.9h0.8m-6.6 19.2h0.8m6.4 -32.4h0.8m-13 26.1h0.8m10.3 -12.9h0.8m-6.9 -13h0.8m-11.7 1.4h0.8m29.2 10.3h0.8m-11.8 4.5h0.8m2.6 -10h0.8m-19 5.1h0.8m22.2 10.7h0.8m-10.2 -12.9h0.8m-8.4 -1.7h0.8m-3.7 -3.2h0.8m8.7 7.8h0.8m-14.9 4.2h0.8m47.6 4.4h0.8m-25.2 -27.3h0.8m13.6 18.1h0.8m-10 -6.7h0.8m-16.6 11.5h0.8m-9.1 -14.8h0.8m7.8 2.3h0.8m9.2 -2.6h0.8m-16 26.3h0.8m12.9 -27.4h0.8m10.2 7.2h0.8m-34.7 -0.9h0.8m12.6 19h0.8m9.5 -19.8h0.8m-19.6 14.3h0.8m-1.9 -10h0.8m27.2 -2.7h0.8m-9.6 17.3h0.8m0.3 -3.3h0.8m-6.9 -9.4h0.8m0.7 14.2h0.8m-20.8 -5.1h0.8m25.6 -13.5h0.8m-13.1 21.6h0.8m1.7 -36.5h0.8m14.4 2.8h0.8m-14.8 38.7h0.8m-0.1 -17.4h0.8m11 9.1h0.8m-11.6 -14.5h0.8m-1 3.3h0.8m-14.6 2h0.8m14.5 -3h0.8m-11.4 -2.5h0.8m27.1 -20.5h0.8m-27.9 29.5h0.8" stroke="#6c6c6c" stroke-width="0.8" stroke-opacity="0.7" fill="none"/><path d="M463.8 617.6h1m7.2 -1.8h1m-11.3 0.5h1m0.9 0.4h1m10.4 -0.2h1m-8.4 0.2h1m3.6 0.8h1m-9.3 -0.7h1m8.1 -2h1m-4.5 1.5h1m-5.2 2.6h1m0.1 -4.5h1m3.7 2.8h1m-5 -1.2h1m-5.4 -1.3h1m3.8 -0.2h1m-8.8 1.4h1m5.7 0.8h1m9.3 -1h1m-7.3 2.8h1m-5.7 -3.9h1m0.6 4.6h1m-1.6 -3.5h1m-0.7 2.3h1m-6.3 0.4h1m1.5 -2h1m0.7 0.4h1m-0.4 -2.8h1m2.8 3.6h1m-5.2 -3.7h1m-0.5 2.9h1m9.3 0.1h1m-12.5 -0.5h1m3.8 -1.3h1m2.5 1.4h1m-4.9 2.4h1m2.6 -4h1m-12.5 3.2h1m1.8 -1.4h1m5.5 1.2h1m-5.3 -0.7h1m-2.7 1.3h1m-2 -1.2h1m14.4 -2.7h1m-4 2h1m-11.3 -0.6h1m-7.8 0.8h1m5.7 -0.2h1m1.1 2.3h1m5.4 -2.3h1m-12.9 -1.2h1m4.6 2.9h1m-9.2 -2.2h1m4.8 2.1h1m6.4 -2.4h1m-4.9 2.6h1m-6.9 -1.4h1m4.5 -0.7h1m-5.4 -1h1m9 3.3h1m-15.6 -1.6h1m5.5 0.7h1m-1.3 -2.6h1m15.2 2.5h1m-20.9 -1.1h1m7.3 -2.1h1m1.1 0.9h1m-9.4 0.1h1m-3.6 -0.6h1m-0.1 1.5h1m6.3 1.8h1m-6.9 -0.2h1m0.3 -1.8h1m-4.3 2.1h1m6.7 -3.4h1m-10.4 -0.7h1m4.1 0.9h1m-3.4 -1.5h1m4.1 4.3h1m-0.8 -4h1m-5.4 2.3h1m6.6 1.6h1m-8.5 -2.8h1m-3.1 3.1h1m3.9 -2.5h1m0.4 2.2h1m0.6 -3.6h1m-9.9 1.3h1m8.4 -0.5h1m-0.4 -1.3h1m-4.7 2.6h1m-5.1 -0.5h1m4.8 2.3h1m-5.7 -1.5h1m-2.2 -1.5h1m2 0.3h1m-1.6 3.7h1m5 -3h1m3.2 -2.9h1m-7.6 4.5h1m-6.8 -3.5h1m-1.2 2.8h1m-1.4 -2.4h1m-5.6 1.4h1m9.6 4.4h1m3 -2.5h1m-10 -1.8h1m2.8 0.3h1m4.6 -0.3h1m-0.4 0.3h1m-14.1 0.5h1m0.4 -3.6h1m0.5 1.7h1m9 0.8h1m-10.6 2.7h1m7.2 -4.5h1m-9.3 2.2h1m2.3 -2.5h1m-6.7 0.9h1m0.8 2h1m4.8 0.4h1m4.2 -0.9h1m-6.3 -2.9h1m-1.6 1.9h1m6.6 0h1m-7.3 1.9h1m-3 -0.2h1m-0.4 1.3h1m-5 0.1h1m-2 -2.2h1m0.7 1.5h1m5.8 1.2h1m-2.7 -4.7h1m3.8 3.6h1m-7.1 -2.8h1m-10.7 1.6h1m1.6 1.4h1m3.1 0.1h1m-4.4 0.8h1m0.2 -3h1m5.4 2.2h1m-6.8 -1.4h1m-7.1 1.7h1m4.4 0h1m2.2 -1h1m-5.6 -1.2h1m-2 3.7h1m3 -1.9h1m-1.3 1.2h1m-0.6 -1.2h1m-4.5 -1.9h1m6.9 -1.3h1m-5.9 3.6h1m9.4 -3.5h1m-12.3 1.9h1m3.4 -2h1m-6.5 2.4h1m14.2 1.2h1m-3.3 -2.8h1m-11 2.7h1m-0.5 -1.8h1m-6.1 1h1m5 -0.5h1m-4 0.5h1m1.5 -0.9h1m1.1 -2.3h1m-5.5 5.5h1m-1.1 -0.4h1m9.9 -3.7h1m-9.6 1.5h1m-4.9 -2.1h1m11.1 -0.5h1m-12.5 4.2h1m8.7 -5.1h1m-11.4 3.8h1m1.3 -1.8h1m7.2 -1.1h1m-4.2 4.9h1m-4.6 -1h1m2.5 -0.4h1m2.2 -0.6h1m-8.3 0.4h1m-0.1 -1.2h1m3.5 -1h1m-7.7 -0.6h1m-0.8 4.7h1m2.3 -5.4h1m7.8 2.1h1m-14.5 -0.4h1m1.4 2.2h1m4.2 0.1h1m-10.1 0h1m9.6 -2.5h1m-2.4 -0.5h1m-11.1 1.7h1m2.9 -2h1m9.6 0.2h1m-10.4 0.6h1m-5.4 1.6h1m2.9 1.1h1m5.8 -3.6h1m-6 3.7h1m4.9 -0.7h1m-8.1 0.6h1m-3.7 -3.6h1m10.1 5.1h1m-1.2 -3h1m-16.6 0.7h1m4.7 -0.4h1m6.4 -1.5h1m2.6 1.3h1m-10.6 1.2h1m-0.1 0.1h1m1.4 0.4h1m-7.3 0h1m-4.2 -1.8h1m2.5 0.9h1m5 0.3h1m-2.9 -0.3h1m-6.8 1.3h1m12.6 -4.8h1m-15.2 4.9h1m4.3 -4.8h1m-3.4 -0.1h1m8.7 3.8h1m-2.9 -1h1m-5.6 -2h1m1 1.3h1m12.6 -1.4h1m-0.8 5.5h1m-0.6 -4.3h1m-4.3 0.4h1m0.3 -0.3h1m-1.6 -1.6h1m-0.8 1.8h1m-0.8 2.1h1m-0.3 -3.9h1m-0.3 0.2h1m0.2 0.1h1m-3.4 5.1h1m0.2 -3.9h1m-0.7 -0.9h1m-2 -2.9h1m-2.1 5.6h1m-0.3 -1.1h1m-0.1 3h1m-1.6 0.4h1m-2.6 -3.1h1m1.9 -3h1m-3.2 2.4h1m-2.4 3.3h1m3.3 -3.4h1m-2.3 2.1h1m-1.7 -1.2h1m-0.9 1.5h1m-2.3 -1.7h1m2.6 -1.7h1m-3.8 0.7h1m-1.2 -0.9h1m-1.2 0.2h1m-0.1 3.1h1m-0.3 -3.2h1m-1.2 -1.1h1m-2.1 0.3h1m-0.5 6h1m-2 -6.3h1m-0.2 0.9h1m-2 4h1m-1.1 -0.6h1m-1 -1.9h1m0 -1.6h1m0.7 3.1h1m-3 2.5h1m-0.4 -3.1h1m-0.8 -0.1h1m-1.2 -1.1h1m0.8 0.3h1m-4 3.3h1m0.3 -3.1h1m0.5 -1.3h1m-1.5 2.1h1m-2.4 -1.3h1m-1.4 1.3h1m-1.8 0.7h1m-1.6 -1.2h1m3.6 0.7h1m-2.9 -2h1m-1 -0.9h1m-2.5 2.6h1m1 -1.2h1m-1 2h1m-2.3 -2.7h1m-0.4 1.1h1m-0.7 -3.3h1m-0.2 5.8h1m-3.4 -3.3h1m-2 2.1h1m0.3 0.4h1m-1.3 -2.5h1m-1.2 1.4h1m-4.3 -1.8h1m3.1 0.7h1m0 -2.9h1m-26.8 31.1h1m-4.4 -11.1h1m1.1 -0.3h1m2.1 6.9h1m3.1 1.1h1m-10.8 -0.8h1m7.8 -6.8h1m-6.8 8.4h1m6.1 -7.4h1m-5.9 5.9h1m-5.2 -1.8h1m5.5 2.3h1m-2 -7.1h1m-0.8 6.4h1m-6.4 -3.9h1m-1.1 -3.2h1m-1.6 4.1h1m0.4 -7h1m3.9 8.9h1m-0.1 -4.6h1m0.4 3.4h1m-9.6 -1.3h1m7.6 3.3h1m-8.4 -1.9h1m0.9 2.5h1m3.1 -6h1m-10.7 1h1m11.2 2.1h1m-14.6 4.9h1m6.8 -10.2h1m2 8.1h1m-0.8 -1.4h1m-6.1 2h1m-0.7 2.2h1m5.9 -2h1m-2.1 -6.4h1m-0.6 -1.4h1m-2.5 7h1m-0.4 -0.3h1m-7.5 1.9h1m4.4 -0.3h1m-4.4 -2.2h1m3.4 -0.1h1m-9.3 -3.7h1m1.9 6.2h1m1 -2.2h1m-3.1 -4.5h1m2.9 5.4h1m4.2 -3.1h1m-10.8 5.1h1m-0.3 -1.6h1m-2.9 -1.8h1m5.7 0.9h1m2 -3h1m-11.8 0.6h1m6.7 3.7h1m-2.3 -10.6h1m2.1 6.9h1m-10.5 2.7h1m6.6 -0.2h1m2.8 -0.3h1m-4.4 -7.6h1m-0.6 9.1h1m2.4 -4.5h1m-12.1 2.8h1m7.1 -3.5h1m-8.6 -0.6h1m6.8 6.5h1m-3.9 -0.4h1m0.6 -2.5h1m-4.3 -5.8h1m3.4 8.6h1m-7.2 -7.4h1m-2.1 2h1m-2.4 -0.2h1m7.4 2.3h1m-6.2 -3.5h1m-6.1 3.8h1m11.3 -2.5h1m-0.9 -3.3h1m-12.4 5.6h1m2.6 1h1m0.4 0.3h1m-3.2 -4.3h1m-1.3 0.8h1m2.1 3.8h1m-7.2 -1.7h1m3.8 -3.4h1m-2.1 1.5h1m3.5 2.8h1m-5.1 0.7h1m8.8 -3.7h1m-13.3 -0.4h1m-0.3 -2.6h1m6.8 1h1m-9.1 4h1m1.2 -5.6h1m4.9 7.3h1m-5.1 -6.2h1m0.4 8.3h1m4.3 -7.2h1m-7.5 -3.4h1m6.5 5.8h1m-11.7 1.5h1m0.3 -5.3h1m1.7 8.9h1m3 -8.7h1m-7.1 5.3h1m-3.1 -7h1m3.5 -0.8h1m-6.4 7.7h1m-0.9 -2.2h1m8 -0.1h1m-1.4 2.4h1m-3.3 2.4h1m-7.7 -1.6h1m0.4 -8h1m7.6 6.8h1m-11.5 0.6h1m4.7 -5.8h1m-0.7 -0.5h1m-1.4 0.5h1m-0.3 7.1h1m2.4 0.6h1m-9.1 -4h1m7 -4.6h1m-0.3 7.4h1m-0.4 -1.3h1m-6.4 2.8h1m5.8 -2.8h1m-10.8 -1.2h1m-0.1 -5.4h1m-0.6 -0.9h1m5.2 8.7h1m-8.7 -1.5h1m-0.3 2.2h1m4.2 -5.8h1m1.9 1.1h1m-12 -0.5h1m0.8 2.8h1m1.7 2h1m-5.5 -5.7h1m0.1 3.4h1m8.9 4.2h1m-4 -6.5h1m-12.6 1h1m5.2 2.3h1m3.6 0.6h1m-4.6 0.5h1m5.4 -6.1h1m-7.5 0.4h1m3.6 -1.8h1m-0.5 0.7h1m-8.6 4.9h1m-2.6 -2.3h1m-1.7 2.1h1m0.2 -1.2h1m1.8 -5.1h1m5.8 1.2h1m-2.1 7.8h1m-6.9 0h1" stroke="#d43ad8" stroke-width="1" stroke-opacity="0.95" fill="none"/><path d="M456.1 636.7h1m-0.5 0.3h1m-2.7 -0.6h1m-1.9 2.2h1m1.5 -4.6h1m0.3 1.5h1m1.3 2.9h1m-7.3 -2h1m2.7 1.7h1m1.5 -0.3h1m-2.8 -3.1h1m-3.3 2h1m0.3 0.6h1m-0.9 -2.7h1m-0.5 4.3h1m1.1 -3.6h1m-7.5 1.2h1m3.9 0.4h1m0.5 -2.8h1m-0.8 4.7h1m-1.9 -3.4h1m-4.3 3h1m-0.2 -4h1m1 0.7h1m0 2.6h1m-4.8 0.4h1m2.5 -1.8h1m-5.7 -0.2h1m1.2 2.6h1m1.3 -2.5h1m-1.2 2.6h1m-4.2 -1.9h1m1.2 0.7h1m-0.2 0.1h1m-0.6 -1.9h1m-2.5 -0.3h1m-2.1 0.3h1m-0.7 2.1h1m-0.9 -1.3h1m-1.9 3.4h1m-1.8 -0.3h1m1.7 -1.6h1m-2.5 1.2h1m-2.9 -0.4h1m2.7 -1.1h1m-2.1 -2.6h1m-4.1 0.4h1m1.7 0.5h1m-5.5 1.5h1m1.9 1.3h1m-1 -0.1h1m-0.5 -1.2h1m-0.2 2.6h1m-2.3 -1.7h1m1.4 -1.7h1m-1.1 3.8h1m-2.2 -1h1m-1 -4h1m-0.2 2.9h1m-0.7 -2.6h1m0.1 -1.6h1m-2.8 -0.1h1m1.4 1.2h1m-0.2 0h1m-5.7 -1.8h1m-0.6 2.5h1m-1.9 2.6h1m1.6 1h1m-1.1 -0.3h1m0.1 -1.6h1m-4 -2h1m1 2.5h1m2.6 -1.5h1m-5.9 2.9h1m-1.9 -2.7h1m-2.5 0h1m4.7 0.6h1m-4 -0.2h1m0.3 -1.8h1m-0.6 0.1h1m-3.3 2h1m2.1 -2.7h1m-4.9 -0.7h1m0.3 0h1m1.9 3.5h1m-3.6 -2.8h1m-0.5 3h1m-2.7 -3.1h1m-3 2.3h1m3 0.6h1m-4.6 -1h1m-1.1 0.2h1m3.8 -0.1h1m-1.1 -1.1h1m-1.4 0.4h1m0.2 2.5h1m-2.4 -4.7h1m-1.9 0.7h1m-1.5 1.2h1m-2.3 0h1m-3.4 2.6h1m3.1 -0.1h1m2.6 -3.1h1m-3.7 1.6h1m0.2 1h1m-1.2 -4.1h1m0.5 3.6h1m-4.7 1.8h1m-1.1 -0.7h1m-0.7 -2.2h1m-0.3 -1.6h1m3 3h1m-2.3 1.3h1m-5.8 -2.4h1m-0.1 2.7h1m-3.2 -1.5h1m1.8 1.8h1m-1.1 -4.7h1m-1.4 0h1m3.3 5.2h1m-2.9 -1.3h1m-2.7 -3.8h1m-1.9 1.6h1m-1 3.4h1m3.2 -2.7h1m-3.5 1.1h1m-1.6 -2.4h1m-3.9 0.7h1m2.2 -0.2h1m-3.8 2.3h1m1.2 -2.7h1m-2.5 4h1m-1 -3.2h1m-0.4 -2.6h1m-0.7 2.1h1m1.2 -0.9h1m-1.6 0.5h1m-1.9 -1.3h1m1.6 -0.2h1m-2.1 4.2h1m-3 -2.8h1m-2.3 0.4h1m3.4 2.2h1m-0.8 -1.7h1m-1.1 0.2h1m-2.2 -0.5h1m-1.4 3.3h1m-3.8 -4.9h1m-1.6 4.6h1m3.2 -3h1m-2.1 0.7h1m-2.3 1.8h1m0.5 -3.3h1m-1.5 -0.1h1" stroke="#9a48ee" stroke-width="1" stroke-opacity="0.95" fill="none"/><rect x="440.5" y="599.5" width="57" height="54" fill="none" stroke="#777" stroke-width="0.8"/><line x1="474.5" y1="599.5" x2="474.5" y2="653.5" stroke="#585858" stroke-width="0.9"/><line x1="440.5" y1="623.5" x2="497.5" y2="623.5" stroke="#585858" stroke-width="0.9"/><line x1="440.5" y1="599.5" x2="440.5" y2="653.9" stroke="#3a3a3a" stroke-width="0.9"/><line x1="440.1" y1="653.5" x2="497.5" y2="653.5" stroke="#555" stroke-width="0.9"/><line x1="441" y1="617.32" x2="441" y2="618.07" stroke="#de34de" stroke-width="0.8"/><line x1="441" y1="618.07" x2="441" y2="619.88" stroke="#de34de" stroke-width="0.8"/><line x1="456.6" y1="652.9" x2="461.35" y2="652.9" stroke="#3ee07a" stroke-width="0.8"/><line x1="461.35" y1="652.9" x2="468.4" y2="652.9" stroke="#3ee07a" stroke-width="0.8"/><line x1="468.4" y1="652.9" x2="477.4" y2="652.9" stroke="#de34de" stroke-width="0.8"/><line x1="441" y1="613.1" x2="441" y2="613.98" stroke="#3ee07a" stroke-width="0.8"/><line x1="441" y1="613.98" x2="441" y2="616.17" stroke="#3ee07a" stroke-width="0.8"/><line x1="441" y1="616.17" x2="441" y2="620.5" stroke="#de34de" stroke-width="0.8"/><line x1="441" y1="620.5" x2="441" y2="620.9" stroke="#de34de" stroke-width="0.8"/><line x1="478.4" y1="652.9" x2="478.72" y2="652.9" stroke="#4a80f2" stroke-width="0.8"/><line x1="478.72" y1="652.9" x2="480.08" y2="652.9" stroke="#e03030" stroke-width="0.8"/><line x1="480.08" y1="652.9" x2="483.6" y2="652.9" stroke="#2cb8f0" stroke-width="0.8"/><line x1="441" y1="631.47" x2="441" y2="634.36" stroke="#e03030" stroke-width="0.8"/><line x1="441" y1="641.39" x2="441" y2="642.59" stroke="#de34de" stroke-width="0.8"/><line x1="450.5" y1="652.9" x2="459.03" y2="652.9" stroke="#3ee07a" stroke-width="0.8"/><line x1="459.03" y1="652.9" x2="463.48" y2="652.9" stroke="#de34de" stroke-width="0.8"/><line x1="463.48" y1="652.9" x2="463.5" y2="652.9" stroke="#e03030" stroke-width="0.8"/><line x1="439.3" y1="601.4" x2="440.5" y2="601.4" stroke="#222" stroke-width="0.7"/><text x="438.2" y="602.7" font-size="3.7" text-anchor="end" fill="#444">10<tspan font-size="2.4" dy="-1.3">5</tspan></text><line x1="439.3" y1="610.4" x2="440.5" y2="610.4" stroke="#222" stroke-width="0.7"/><text x="438.2" y="611.7" font-size="3.7" text-anchor="end" fill="#444">10<tspan font-size="2.4" dy="-1.3">4</tspan></text><line x1="439.3" y1="619.4" x2="440.5" y2="619.4" stroke="#222" stroke-width="0.7"/><text x="438.2" y="620.7" font-size="3.7" text-anchor="end" fill="#444">10<tspan font-size="2.4" dy="-1.3">3</tspan></text><line x1="439.3" y1="628.4" x2="440.5" y2="628.4" stroke="#222" stroke-width="0.7"/><text x="438.2" y="629.7" font-size="3.7" text-anchor="end" fill="#444">10<tspan font-size="2.4" dy="-1.3">2</tspan></text><line x1="439.3" y1="637.4" x2="440.5" y2="637.4" stroke="#222" stroke-width="0.7"/><text x="438.2" y="638.7" font-size="3.7" text-anchor="end" fill="#444">10<tspan font-size="2.4" dy="-1.3">1</tspan></text><line x1="439.3" y1="646.4" x2="440.5" y2="646.4" stroke="#222" stroke-width="0.7"/><text x="438.2" y="647.7" font-size="3.7" text-anchor="end" fill="#444">10<tspan font-size="2.4" dy="-1.3">0</tspan></text><line x1="448.5" y1="653.5" x2="448.5" y2="654.7" stroke="#222" stroke-width="0.7"/><text x="447.9" y="659.6" font-size="3.7" text-anchor="middle" fill="#444">10<tspan font-size="2.4" dy="-1.3">0</tspan></text><line x1="457.94" y1="653.5" x2="457.94" y2="654.7" stroke="#222" stroke-width="0.7"/><text x="457.34" y="659.6" font-size="3.7" text-anchor="middle" fill="#444">10<tspan font-size="2.4" dy="-1.3">1</tspan></text><line x1="467.38" y1="653.5" x2="467.38" y2="654.7" stroke="#222" stroke-width="0.7"/><text x="466.78" y="659.6" font-size="3.7" text-anchor="middle" fill="#444">10<tspan font-size="2.4" dy="-1.3">2</tspan></text><line x1="476.82" y1="653.5" x2="476.82" y2="654.7" stroke="#222" stroke-width="0.7"/><text x="476.22" y="659.6" font-size="3.7" text-anchor="middle" fill="#444">10<tspan font-size="2.4" dy="-1.3">3</tspan></text><line x1="486.26" y1="653.5" x2="486.26" y2="654.7" stroke="#222" stroke-width="0.7"/><text x="485.66" y="659.6" font-size="3.7" text-anchor="middle" fill="#444">10<tspan font-size="2.4" dy="-1.3">4</tspan></text><line x1="495.7" y1="653.5" x2="495.7" y2="654.7" stroke="#222" stroke-width="0.7"/><text x="495.1" y="659.6" font-size="3.7" text-anchor="middle" fill="#444">10<tspan font-size="2.4" dy="-1.3">5</tspan></text><text x="443.8" y="604.8" font-size="4.4" textLength="10.65" lengthAdjust="spacingAndGlyphs" fill="#1a1a1a" stroke="#1a1a1a" stroke-width="0.06">19.9%</text><text x="495.5" y="604.8" font-size="4.4" text-anchor="end" textLength="8.4" lengthAdjust="spacingAndGlyphs" fill="#1a1a1a" stroke="#1a1a1a" stroke-width="0.06">6.4%</text><text x="443.8" y="651.2" font-size="4.4" textLength="10.65" lengthAdjust="spacingAndGlyphs" fill="#1a1a1a" stroke="#1a1a1a" stroke-width="0.06">71.2%</text><text x="495.5" y="651.2" font-size="4.4" text-anchor="end" textLength="8.4" lengthAdjust="spacingAndGlyphs" fill="#1a1a1a" stroke="#1a1a1a" stroke-width="0.06">2.4%</text><text x="469.5" y="669.9" font-size="8.8" text-anchor="middle" textLength="16.2" lengthAdjust="spacingAndGlyphs" fill="#111" stroke="#111" stroke-width="0.1">3DL1</text><text x="426.7" y="626" font-size="8.8" text-anchor="middle" textLength="16.2" lengthAdjust="spacingAndGlyphs" transform="rotate(-90 426.7 626)" fill="#111" stroke="#111" stroke-width="0.1">2DL3</text>
<rect x="0.6" y="0.6" width="518.6" height="677.6" fill="none" stroke="#000" stroke-width="1.3"/>
</g>
</svg></body></html>
